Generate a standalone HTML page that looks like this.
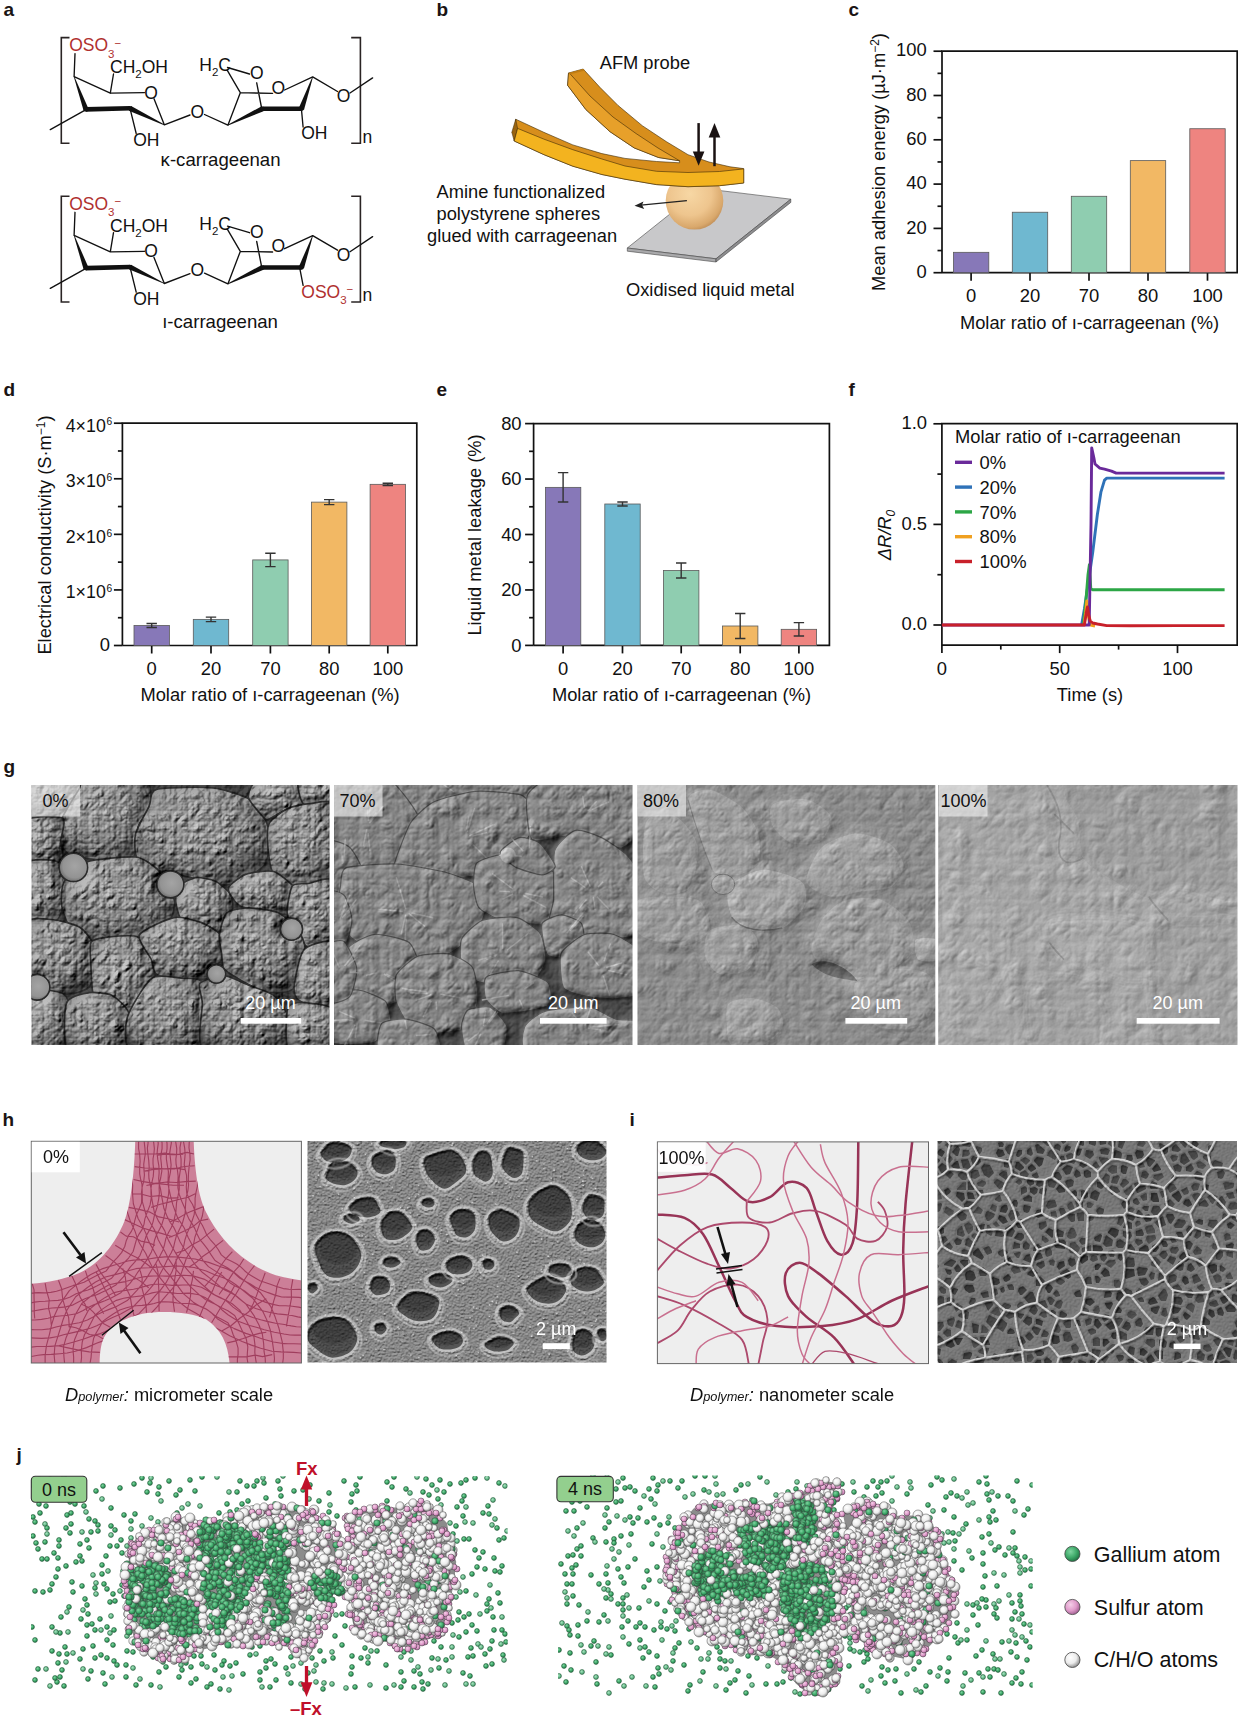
<!DOCTYPE html><html><head><meta charset="utf-8"><style>html,body{margin:0;padding:0;background:#fff;overflow:hidden}svg{display:block}text{font-family:"Liberation Sans",sans-serif}</style></head><body>
<svg width="1238" height="1719" viewBox="0 0 1238 1719">
<rect width="1238" height="1719" fill="#fff"/>
<text x="3.5" y="16" font-size="19" text-anchor="start" fill="#1a1414" font-weight="bold" >a</text>
<text x="436.5" y="16" font-size="19" text-anchor="start" fill="#1a1414" font-weight="bold" >b</text>
<text x="848.5" y="16" font-size="19" text-anchor="start" fill="#1a1414" font-weight="bold" >c</text>
<text x="3.5" y="396" font-size="19" text-anchor="start" fill="#1a1414" font-weight="bold" >d</text>
<text x="436.5" y="396" font-size="19" text-anchor="start" fill="#1a1414" font-weight="bold" >e</text>
<text x="848.5" y="396" font-size="19" text-anchor="start" fill="#1a1414" font-weight="bold" >f</text>
<text x="3.5" y="773" font-size="19" text-anchor="start" fill="#1a1414" font-weight="bold" >g</text>
<text x="2.6" y="1125.9" font-size="19" text-anchor="start" fill="#1a1414" font-weight="bold" >h</text>
<text x="629.6" y="1125.9" font-size="19" text-anchor="start" fill="#1a1414" font-weight="bold" >i</text>
<text x="16.5" y="1460.7" font-size="19" text-anchor="start" fill="#1a1414" font-weight="bold" >j</text>
<g transform="translate(0,0)">
<path d="M69.5,37.6 H61.3 V143.3 H69.5 M351.2,37.6 H360.4 V143.3 H351.2" stroke="#2a2424" stroke-width="1.6" fill="none"/>
<path d="M75,53.6 L74.1,76.7 M74.1,76.7 L110.3,93.2 M110.3,93.2 L113.5,74 M110.3,93.2 L144.5,92.6 M154,98.8 L164.3,124.8 M130,108.3 L136.2,133.5 M86,109.6 L50.3,129.6 M164.3,124.8 L190,115 M204.5,114.5 L227.9,125.2 M227.9,125.2 L240.3,92.7 M240.3,92.7 L227.3,70.4 M227.5,67.5 L249.5,74 M256.7,82.8 L261.4,107 M240.3,92.7 L272.6,93.3 M284.6,90 L312.7,76.9 M312.7,76.9 L337.5,91.5 M350,93 L372.6,77.9 M301.4,108.8 L303.1,127" stroke="#111" stroke-width="1.35" fill="none" stroke-linecap="round"/>
<path d="M73.82,76.80 L83.56,110.48 L88.44,108.72 L74.38,76.60 Z" fill="#111"/>
<path d="M86.06,111.70 L130.06,110.60 L129.94,106.00 L85.94,107.10 Z" fill="#111"/>
<path d="M128.87,110.64 L164.13,125.16 L164.47,124.44 L131.13,105.96 Z" fill="#111"/>
<path d="M228.07,125.56 L263.52,111.15 L261.28,106.45 L227.73,124.84 Z" fill="#111"/>
<path d="M262.40,111.10 L301.40,111.10 L301.40,106.50 L262.40,106.50 Z" fill="#111"/>
<path d="M303.95,109.90 L312.98,77.00 L312.42,76.80 L298.85,108.10 Z" fill="#111"/>
<circle cx="86" cy="109.4" r="2.4" fill="#111"/>
<circle cx="130" cy="108.3" r="2.3" fill="#111"/>
<circle cx="262.4" cy="108.8" r="2.3" fill="#111"/>
<circle cx="301.4" cy="108.8" r="2.3" fill="#111"/>
<text x="69.2" y="51.3" font-size="17.5" fill="#b0302f">OSO<tspan font-size="11.5" dy="6.3">3</tspan><tspan font-size="11.5" dy="-11">−</tspan></text>
<text x="110" y="72.9" font-size="17.5" fill="#111">CH<tspan font-size="11.5" dy="5">2</tspan><tspan dy="-5">OH</tspan></text>
<text x="144.3" y="98.7" font-size="17.5" fill="#111">O</text>
<text x="133.2" y="146" font-size="17.5" fill="#111">OH</text>
<text x="190.5" y="117.8" font-size="17.5" fill="#111">O</text>
<text x="199.3" y="70.9" font-size="17.5" fill="#111">H<tspan font-size="11.5" dy="5">2</tspan><tspan dy="-5">C</tspan></text>
<text x="250" y="79.3" font-size="17.5" fill="#111">O</text>
<text x="271.5" y="93.5" font-size="17.5" fill="#111">O</text>
<text x="336.8" y="102.2" font-size="17.5" fill="#111">O</text>
<text x="301.2" y="139.3" font-size="17.5" fill="#111">OH</text>
<text x="362.5" y="142.8" font-size="17.5" fill="#111">n</text>
</g>
<text x="160.6" y="165.8" font-size="18.6" fill="#111">κ-carrageenan</text>
<g transform="translate(0,158.7)">
<path d="M69.5,37.6 H61.3 V143.3 H69.5 M351.2,37.6 H360.4 V143.3 H351.2" stroke="#2a2424" stroke-width="1.6" fill="none"/>
<path d="M75,53.6 L74.1,76.7 M74.1,76.7 L110.3,93.2 M110.3,93.2 L113.5,74 M110.3,93.2 L144.5,92.6 M154,98.8 L164.3,124.8 M130,108.3 L136.2,133.5 M86,109.6 L50.3,129.6 M164.3,124.8 L190,115 M204.5,114.5 L227.9,125.2 M227.9,125.2 L240.3,92.7 M240.3,92.7 L227.3,70.4 M227.5,67.5 L249.5,74 M256.7,82.8 L261.4,107 M240.3,92.7 L272.6,93.3 M284.6,90 L312.7,76.9 M312.7,76.9 L337.5,91.5 M350,93 L372.6,77.9 M299.8,109.7 L303.1,126.7" stroke="#111" stroke-width="1.35" fill="none" stroke-linecap="round"/>
<path d="M73.82,76.80 L83.56,110.48 L88.44,108.72 L74.38,76.60 Z" fill="#111"/>
<path d="M86.06,111.70 L130.06,110.60 L129.94,106.00 L85.94,107.10 Z" fill="#111"/>
<path d="M128.87,110.64 L164.13,125.16 L164.47,124.44 L131.13,105.96 Z" fill="#111"/>
<path d="M228.07,125.56 L263.52,111.15 L261.28,106.45 L227.73,124.84 Z" fill="#111"/>
<path d="M262.40,111.10 L301.40,111.10 L301.40,106.50 L262.40,106.50 Z" fill="#111"/>
<path d="M303.95,109.90 L312.98,77.00 L312.42,76.80 L298.85,108.10 Z" fill="#111"/>
<circle cx="86" cy="109.4" r="2.4" fill="#111"/>
<circle cx="130" cy="108.3" r="2.3" fill="#111"/>
<circle cx="262.4" cy="108.8" r="2.3" fill="#111"/>
<circle cx="301.4" cy="108.8" r="2.3" fill="#111"/>
<text x="69.2" y="51.3" font-size="17.5" fill="#b0302f">OSO<tspan font-size="11.5" dy="6.3">3</tspan><tspan font-size="11.5" dy="-11">−</tspan></text>
<text x="110" y="72.9" font-size="17.5" fill="#111">CH<tspan font-size="11.5" dy="5">2</tspan><tspan dy="-5">OH</tspan></text>
<text x="144.3" y="98.7" font-size="17.5" fill="#111">O</text>
<text x="133.2" y="146" font-size="17.5" fill="#111">OH</text>
<text x="190.5" y="117.8" font-size="17.5" fill="#111">O</text>
<text x="199.3" y="70.9" font-size="17.5" fill="#111">H<tspan font-size="11.5" dy="5">2</tspan><tspan dy="-5">C</tspan></text>
<text x="250" y="79.3" font-size="17.5" fill="#111">O</text>
<text x="271.5" y="93.5" font-size="17.5" fill="#111">O</text>
<text x="336.8" y="102.2" font-size="17.5" fill="#111">O</text>
<text x="301.3" y="139.2" font-size="17.5" fill="#b0302f">OSO<tspan font-size="11.5" dy="6.3">3</tspan><tspan font-size="11.5" dy="-11">−</tspan></text>
<text x="362.5" y="142.8" font-size="17.5" fill="#111">n</text>
</g>
<text x="162.2" y="328.3" font-size="18.6" fill="#111">ı-carrageenan</text>
<path d="M627.3,248 L716,258.8 L790.8,199.2 L702.1,188.4 Z" fill="#c8c8ca" stroke="#444" stroke-width="0.6"/>
<path d="M627.3,248 L716,258.8 L716,262 L627.3,251.2 Z" fill="#a9a9ab" stroke="#444" stroke-width="0.6"/>
<path d="M716,258.8 L790.8,199.2 L790.8,202.4 L716,262 Z" fill="#8e8e90" stroke="#444" stroke-width="0.6"/>
<defs><radialGradient id="sph" cx="0.42" cy="0.38" r="0.68"><stop offset="0" stop-color="#f7d7a4"/><stop offset="0.55" stop-color="#eec58e"/><stop offset="0.85" stop-color="#d9a86c"/><stop offset="1" stop-color="#b88650"/></radialGradient></defs>
<circle cx="694.5" cy="200.8" r="28.8" fill="url(#sph)"/>
<path d="M515.7,119.2 L543.8,132.3 L572.8,144.9 L601.9,153.6 L625.0,158.4 L656.5,161.5 L679.6,162.8 L679.6,160.8 L658.5,157.5 L634.2,147.9 L610.0,131.7 L585.8,109.5 L567.6,85.3 L568.5,73 L583.2,69.0 L599.9,87.3 L618.1,105.5 L642.3,125.7 L666.6,141.8 L688.0,154.7 L709.0,162.0 L730.0,166.8 L743.7,168.6 L743.7,183 L743.7,183.0 L719.5,185.7 L688.0,186.7 L656.5,184.6 L625.0,179.2 L601.9,174.5 L572.8,166.2 L543.8,154.6 L514.2,141.0 Z" fill="#d78e1c" stroke="#3e2a06" stroke-width="0.6" stroke-linejoin="round"/>
<path d="M567.6,85.3 L585.8,109.5 L610.0,131.7 L634.2,147.9 L658.5,157.5 L679.6,160.8 L679.6,160.8 L658.0,148.0 L636.0,133.5 L613.0,117.0 L590.0,96.0 L569.6,73.3 L568.5,73 Z" fill="#e7a02a" stroke="#3e2a06" stroke-width="0.6" stroke-linejoin="round"/>
<path d="M568.5,73 L583.2,69 L585,70.5 L569.6,74.5 Z" fill="#c07c12"/>
<path d="M515.7,119.2 L517.6,128.4 L514.2,141 L511.8,132.3 Z" fill="#9a6410" stroke="#3e2a06" stroke-width="0.5"/>
<path d="M517.6,128.4 L543.8,139.1 L572.8,149.7 L601.9,159.0 L625.0,166.0 L656.5,171.3 L688.0,172.5 L719.5,171.5 L743.7,168.9 L743.7,183.0 L719.5,185.7 L688.0,186.7 L656.5,184.6 L625.0,179.2 L601.9,174.5 L572.8,166.2 L543.8,154.6 L514.2,141.0 Z" fill="#f3b31f" stroke="#3e2a06" stroke-width="0.6" stroke-linejoin="round"/>
<path d="M698.6,123.1 V154" stroke="#1a1212" stroke-width="2.5"/><path d="M692.8,151.5 L698.6,165.7 L704.4,151.5 Z" fill="#1a1212"/>
<path d="M714.5,166.2 V135" stroke="#1a1212" stroke-width="2.5"/><path d="M708.7,137.5 L714.5,123.1 L720.3,137.5 Z" fill="#1a1212"/>
<path d="M686.9,200.7 L641,205.2" stroke="#222" stroke-width="1.3"/><path d="M634.5,205.8 L643.5,201.5 L642,205.1 L644.2,208.9 Z" fill="#222"/>
<text x="599.7" y="69" font-size="18.3" text-anchor="start" fill="#111" >AFM probe</text>
<text x="436.5" y="197.5" font-size="18.3" text-anchor="start" fill="#111" >Amine functionalized</text>
<text x="436.5" y="219.5" font-size="18.3" text-anchor="start" fill="#111" >polystyrene spheres</text>
<text x="427" y="241.5" font-size="18.3" text-anchor="start" fill="#111" >glued with carrageenan</text>
<text x="626" y="296" font-size="18.3" text-anchor="start" fill="#111" >Oxidised liquid metal</text>
<g stroke="#111" stroke-width="1.7" fill="none">
<path d="M942,272.7 V51.2 H1237.2 V272.7 H942"/>
<path d="M933.5,272.7 H942"/>
<path d="M933.5,228.39999999999998 H942"/>
<path d="M933.5,184.1 H942"/>
<path d="M933.5,139.8 H942"/>
<path d="M933.5,95.5 H942"/>
<path d="M933.5,51.19999999999999 H942"/>
<path d="M937.5,250.54999999999998 H942"/>
<path d="M937.5,206.25 H942"/>
<path d="M937.5,161.95 H942"/>
<path d="M937.5,117.65 H942"/>
<path d="M937.5,73.35 H942"/>
<path d="M971.1,272.7 V280.7"/>
<path d="M1030,272.7 V280.7"/>
<path d="M1089,272.7 V280.7"/>
<path d="M1148,272.7 V280.7"/>
<path d="M1207.5,272.7 V280.7"/>
</g>
<rect x="953.4" y="252.322" width="35.4" height="20.377999999999986" fill="#8778b8" stroke="#5a5a5a" stroke-width="0.8"/>
<rect x="1012.3" y="212.2305" width="35.4" height="60.46949999999998" fill="#6fb8d0" stroke="#5a5a5a" stroke-width="0.8"/>
<rect x="1071.3" y="196.2825" width="35.4" height="76.41749999999999" fill="#8fcdb0" stroke="#5a5a5a" stroke-width="0.8"/>
<rect x="1130.3" y="160.62099999999998" width="35.4" height="112.07900000000001" fill="#f2b864" stroke="#5a5a5a" stroke-width="0.8"/>
<rect x="1189.8" y="128.725" width="35.4" height="143.975" fill="#ee8480" stroke="#5a5a5a" stroke-width="0.8"/>
<text x="926.8" y="277.9" font-size="18.4" text-anchor="end" fill="#111" >0</text>
<text x="926.8" y="233.59999999999997" font-size="18.4" text-anchor="end" fill="#111" >20</text>
<text x="926.8" y="189.29999999999998" font-size="18.4" text-anchor="end" fill="#111" >40</text>
<text x="926.8" y="145.0" font-size="18.4" text-anchor="end" fill="#111" >60</text>
<text x="926.8" y="100.7" font-size="18.4" text-anchor="end" fill="#111" >80</text>
<text x="926.8" y="56.39999999999999" font-size="18.4" text-anchor="end" fill="#111" >100</text>
<text x="971.1" y="301.6" font-size="18.4" text-anchor="middle" fill="#111" >0</text>
<text x="1030" y="301.6" font-size="18.4" text-anchor="middle" fill="#111" >20</text>
<text x="1089" y="301.6" font-size="18.4" text-anchor="middle" fill="#111" >70</text>
<text x="1148" y="301.6" font-size="18.4" text-anchor="middle" fill="#111" >80</text>
<text x="1207.5" y="301.6" font-size="18.4" text-anchor="middle" fill="#111" >100</text>
<text x="1089.5" y="328.6" font-size="18.3" text-anchor="middle" fill="#111" >Molar ratio of ı-carrageenan (%)</text>
<text transform="translate(884.5,162) rotate(-90)" font-size="18.3" text-anchor="middle" fill="#111">Mean adhesion energy (µJ·m<tspan dy="-6" font-size="12">−2</tspan><tspan dy="6">)</tspan></text>
<g stroke="#111" stroke-width="1.7" fill="none">
<path d="M122.4,645.5 V423.2 H416.8 V645.5 H122.4"/>
<path d="M113.9,645.5 H122.4"/>
<path d="M113.9,589.925 H122.4"/>
<path d="M113.9,534.35 H122.4"/>
<path d="M113.9,478.775 H122.4"/>
<path d="M113.9,423.2 H122.4"/>
<path d="M117.9,617.7125 H122.4"/>
<path d="M117.9,562.1375 H122.4"/>
<path d="M117.9,506.5625 H122.4"/>
<path d="M117.9,450.98749999999995 H122.4"/>
<path d="M151.7,645.5 V653.5"/>
<path d="M211,645.5 V653.5"/>
<path d="M270.4,645.5 V653.5"/>
<path d="M329.2,645.5 V653.5"/>
<path d="M387.8,645.5 V653.5"/>
</g>
<rect x="134.0" y="625.493" width="35.4" height="20.006999999999948" fill="#8778b8" stroke="#5a5a5a" stroke-width="0.8"/>
<path d="M151.7,623.547875 V627.438125 M146.5,623.547875 H156.89999999999998 M146.5,627.438125 H156.89999999999998" stroke="#333" stroke-width="1.4" fill="none"/>
<rect x="193.3" y="619.3797500000001" width="35.4" height="26.120249999999942" fill="#6fb8d0" stroke="#5a5a5a" stroke-width="0.8"/>
<path d="M211,617.15675 V621.60275 M205.8,617.15675 H216.2 M205.8,621.60275 H216.2" stroke="#333" stroke-width="1.4" fill="none"/>
<rect x="252.7" y="559.9145" width="35.4" height="85.58550000000002" fill="#8fcdb0" stroke="#5a5a5a" stroke-width="0.8"/>
<path d="M270.4,553.2455 V566.5835 M265.2,553.2455 H275.59999999999997 M265.2,566.5835 H275.59999999999997" stroke="#333" stroke-width="1.4" fill="none"/>
<rect x="311.5" y="502.1165" width="35.4" height="143.38350000000003" fill="#f2b864" stroke="#5a5a5a" stroke-width="0.8"/>
<path d="M329.2,499.615625 V504.617375 M324.0,499.615625 H334.4 M324.0,504.617375 H334.4" stroke="#333" stroke-width="1.4" fill="none"/>
<rect x="370.1" y="484.3325" width="35.4" height="161.16750000000002" fill="#ee8480" stroke="#5a5a5a" stroke-width="0.8"/>
<path d="M387.8,483.221 V485.44399999999996 M382.6,483.221 H393.0 M382.6,485.44399999999996 H393.0" stroke="#333" stroke-width="1.4" fill="none"/>
<text x="110" y="651.1" font-size="18.4" text-anchor="end" fill="#111" >0</text>
<text x="105.8" y="598.2" font-size="17.8" text-anchor="end" fill="#111">1×10</text><text x="106.6" y="592.0" font-size="10.2" fill="#111">6</text>
<text x="105.8" y="542.6" font-size="17.8" text-anchor="end" fill="#111">2×10</text><text x="106.6" y="536.5" font-size="10.2" fill="#111">6</text>
<text x="105.8" y="487.1" font-size="17.8" text-anchor="end" fill="#111">3×10</text><text x="106.6" y="480.9" font-size="10.2" fill="#111">6</text>
<text x="105.8" y="431.5" font-size="17.8" text-anchor="end" fill="#111">4×10</text><text x="106.6" y="425.3" font-size="10.2" fill="#111">6</text>
<text x="151.7" y="674.6" font-size="18.4" text-anchor="middle" fill="#111" >0</text>
<text x="211" y="674.6" font-size="18.4" text-anchor="middle" fill="#111" >20</text>
<text x="270.4" y="674.6" font-size="18.4" text-anchor="middle" fill="#111" >70</text>
<text x="329.2" y="674.6" font-size="18.4" text-anchor="middle" fill="#111" >80</text>
<text x="387.8" y="674.6" font-size="18.4" text-anchor="middle" fill="#111" >100</text>
<text x="270" y="700.8" font-size="18.3" text-anchor="middle" fill="#111" >Molar ratio of ı-carrageenan (%)</text>
<text transform="translate(50.5,535) rotate(-90)" font-size="18.3" text-anchor="middle" fill="#111">Electrical conductivity (S·m<tspan dy="-6" font-size="12">−1</tspan><tspan dy="6">)</tspan></text>
<g stroke="#111" stroke-width="1.7" fill="none">
<path d="M533.6,645.4 V423.6 H829.4 V645.4 H533.6"/>
<path d="M525.1,645.4 H533.6"/>
<path d="M525.1,589.95 H533.6"/>
<path d="M525.1,534.5 H533.6"/>
<path d="M525.1,479.05 H533.6"/>
<path d="M525.1,423.6 H533.6"/>
<path d="M529.1,617.675 H533.6"/>
<path d="M529.1,562.225 H533.6"/>
<path d="M529.1,506.775 H533.6"/>
<path d="M529.1,451.32500000000005 H533.6"/>
<path d="M563.1,645.4 V653.4"/>
<path d="M622.5,645.4 V653.4"/>
<path d="M681.2,645.4 V653.4"/>
<path d="M740.2,645.4 V653.4"/>
<path d="M798.9,645.4 V653.4"/>
</g>
<rect x="545.4" y="487.3675" width="35.4" height="158.03249999999997" fill="#8778b8" stroke="#5a5a5a" stroke-width="0.8"/>
<path d="M563.1,472.67325000000005 V502.06174999999996 M557.9,472.67325000000005 H568.3000000000001 M557.9,502.06174999999996 H568.3000000000001" stroke="#333" stroke-width="1.4" fill="none"/>
<rect x="604.8" y="504.0025" width="35.4" height="141.39749999999998" fill="#6fb8d0" stroke="#5a5a5a" stroke-width="0.8"/>
<path d="M622.5,502.06174999999996 V505.94325000000003 M617.3,502.06174999999996 H627.7 M617.3,505.94325000000003 H627.7" stroke="#333" stroke-width="1.4" fill="none"/>
<rect x="663.5" y="570.5425" width="35.4" height="74.85749999999996" fill="#8fcdb0" stroke="#5a5a5a" stroke-width="0.8"/>
<path d="M681.2,563.05675 V578.02825 M676.0,563.05675 H686.4000000000001 M676.0,578.02825 H686.4000000000001" stroke="#333" stroke-width="1.4" fill="none"/>
<rect x="722.5" y="625.9925" width="35.4" height="19.407500000000027" fill="#f2b864" stroke="#5a5a5a" stroke-width="0.8"/>
<path d="M740.2,613.51625 V638.46875 M735.0,613.51625 H745.4000000000001 M735.0,638.46875 H745.4000000000001" stroke="#333" stroke-width="1.4" fill="none"/>
<rect x="781.1999999999999" y="629.3195" width="35.4" height="16.08050000000003" fill="#ee8480" stroke="#5a5a5a" stroke-width="0.8"/>
<path d="M798.9,622.6655 V635.9735 M793.6999999999999,622.6655 H804.1 M793.6999999999999,635.9735 H804.1" stroke="#333" stroke-width="1.4" fill="none"/>
<text x="521.6" y="651.8" font-size="18.4" text-anchor="end" fill="#111" >0</text>
<text x="521.6" y="596.35" font-size="18.4" text-anchor="end" fill="#111" >20</text>
<text x="521.6" y="540.9" font-size="18.4" text-anchor="end" fill="#111" >40</text>
<text x="521.6" y="485.45" font-size="18.4" text-anchor="end" fill="#111" >60</text>
<text x="521.6" y="430.0" font-size="18.4" text-anchor="end" fill="#111" >80</text>
<text x="563.1" y="674.6" font-size="18.4" text-anchor="middle" fill="#111" >0</text>
<text x="622.5" y="674.6" font-size="18.4" text-anchor="middle" fill="#111" >20</text>
<text x="681.2" y="674.6" font-size="18.4" text-anchor="middle" fill="#111" >70</text>
<text x="740.2" y="674.6" font-size="18.4" text-anchor="middle" fill="#111" >80</text>
<text x="798.9" y="674.6" font-size="18.4" text-anchor="middle" fill="#111" >100</text>
<text x="681.5" y="700.8" font-size="18.3" text-anchor="middle" fill="#111" >Molar ratio of ı-carrageenan (%)</text>
<text transform="translate(481,535) rotate(-90)" font-size="18.3" text-anchor="middle" fill="#111">Liquid metal leakage (%)</text>
<g stroke="#111" stroke-width="1.7" fill="none">
<path d="M941.9,645.1 V423.7 H1237.2 V645.1 H941.9"/>
<path d="M933.4,625.0 H941.9"/>
<path d="M933.4,524.4 H941.9"/>
<path d="M933.4,423.8 H941.9"/>
<path d="M937.4,574.7 H941.9"/>
<path d="M937.4,474.1 H941.9"/>
<path d="M941.9,645.1 V653.1"/>
<path d="M1059.7,645.1 V653.1"/>
<path d="M1177.5,645.1 V653.1"/>
<path d="M1000.8,645.1 V649.6"/>
<path d="M1118.6,645.1 V649.6"/>
</g>
<text x="927" y="630.3" font-size="18.4" text-anchor="end" fill="#111" >0.0</text>
<text x="927" y="529.6999999999999" font-size="18.4" text-anchor="end" fill="#111" >0.5</text>
<text x="927" y="429.1" font-size="18.4" text-anchor="end" fill="#111" >1.0</text>
<text x="941.9" y="674.6" font-size="18.4" text-anchor="middle" fill="#111" >0</text>
<text x="1059.7" y="674.6" font-size="18.4" text-anchor="middle" fill="#111" >50</text>
<text x="1177.5" y="674.6" font-size="18.4" text-anchor="middle" fill="#111" >100</text>
<text x="1090" y="700.8" font-size="18.3" text-anchor="middle" fill="#111" >Time (s)</text>
<text transform="translate(891,535) rotate(-90)" font-size="18.3" text-anchor="middle" fill="#111" font-style="italic">ΔR/R<tspan font-size="12" dy="4">0</tspan></text>
<path d="M1081.6,625.0 L1084.4,608.9 L1088.0,584.8 L1092.7,552.6 L1097.4,514.3 L1100.9,492.2 L1104.5,480.1 L1106.8,478.1 L1224.6,478.1" stroke="#2f72b8" stroke-width="2.9" fill="none" stroke-linejoin="round"/>
<path d="M1083.3,625.0 L1085.6,604.9 L1088.0,574.7 L1089.4,564.6 L1090.8,588.8 L1092.7,589.8 L1224.6,589.8" stroke="#2ca646" stroke-width="2.9" fill="none" stroke-linejoin="round"/>
<path d="M1084.0,625.0 L1085.6,612.9 L1086.8,600.9 L1088.0,614.9 L1090.3,625.0 L1095.0,626.0" stroke="#f0a020" stroke-width="2.9" fill="none" stroke-linejoin="round"/>
<path d="M941.9,625.0 L1089.2,625.0 L1091.0,524.4 L1091.7,447.9 L1093.9,458.0 L1095.0,464.0 L1099.8,468.1 L1104.5,469.1 L1111.5,471.1 L1116.2,473.1 L1224.6,473.1" stroke="#6a2a9a" stroke-width="2.9" fill="none" stroke-linejoin="round"/>
<path d="M941.9,625.0 L1084.4,625.0 L1086.3,612.9 L1087.5,606.9 L1088.7,614.9 L1090.3,621.0 L1092.7,623.0 L1097.4,624.0 L1106.8,625.6 L1130.4,625.8 L1177.5,625.6 L1224.6,625.6" stroke="#c8202a" stroke-width="2.9" fill="none" stroke-linejoin="round"/>
<text x="955" y="443" font-size="18.3" text-anchor="start" fill="#111" >Molar ratio of ı-carrageenan</text>
<path d="M955,462.3 H972" stroke="#6a2a9a" stroke-width="3.4"/>
<text x="979.5" y="468.90000000000003" font-size="18.4" text-anchor="start" fill="#111" >0%</text>
<path d="M955,487.1 H972" stroke="#2f72b8" stroke-width="3.4"/>
<text x="979.5" y="493.70000000000005" font-size="18.4" text-anchor="start" fill="#111" >20%</text>
<path d="M955,511.90000000000003 H972" stroke="#2ca646" stroke-width="3.4"/>
<text x="979.5" y="518.5" font-size="18.4" text-anchor="start" fill="#111" >70%</text>
<path d="M955,536.7 H972" stroke="#f0a020" stroke-width="3.4"/>
<text x="979.5" y="543.3000000000001" font-size="18.4" text-anchor="start" fill="#111" >80%</text>
<path d="M955,561.5 H972" stroke="#c8202a" stroke-width="3.4"/>
<text x="979.5" y="568.1" font-size="18.4" text-anchor="start" fill="#111" >100%</text>
<filter id="rf0" filterUnits="userSpaceOnUse" x="19.5" y="773" width="322" height="284" color-interpolation-filters="sRGB">
<feGaussianBlur in="SourceGraphic" stdDeviation="4.5" result="h"/>
<feTurbulence type="turbulence" baseFrequency="0.09" numOctaves="3" seed="4" result="n"/>
<feComposite in="n" in2="h" operator="arithmetic" k1="0" k2="0.6" k3="1" k4="0" result="hh0"/>
<feOffset in="hh0" dx="0" dy="0" result="hh"/>
<feColorMatrix in="hh" type="matrix" values="0 0 0 0 0  0 0 0 0 0  0 0 0 0 0  0.33 0.33 0.33 0 0" result="ha"/>
<feDiffuseLighting in="ha" surfaceScale="8" diffuseConstant="1.15" lighting-color="#fff" result="lit"><feDistantLight azimuth="225" elevation="40"/></feDiffuseLighting>
<feComposite in="lit" in2="SourceGraphic" operator="arithmetic" k1="1.08" k2="0" k3="0" k4="0"/>
</filter>
<clipPath id="crf0"><rect x="31.5" y="785" width="298" height="260"/></clipPath><g clip-path="url(#crf0)"><g filter="url(#rf0)"><rect x="16.5" y="770" width="328" height="290" fill="#484848"/>
<g transform="translate(31,785) scale(0.24233)">
<defs><radialGradient id="cg0" cx="0.47" cy="0.42" r="0.6"><stop offset="0" stop-color="#bcbcbc"/><stop offset="0.5" stop-color="#acacac"/><stop offset="0.82" stop-color="#8c8c8c"/><stop offset="1" stop-color="#585858"/></radialGradient></defs>
<path d="M-2,-22C23,-42 186,-40 212,-22C238,-4 227,112 218,131C208,151 157,141 131,143C105,145 13,171 -2,152C-18,132 -27,-2 -2,-22Z" fill="url(#cg0)" stroke="#303030" stroke-width="7"/>
<path d="M127,140C136,115 186,37 198,18C210,-1 197,-18 229,-23C261,-27 441,-35 472,-22C503,-9 496,67 493,89C489,112 451,147 443,170C435,194 440,276 427,292C414,309 361,313 331,313C300,313 193,302 168,292C143,283 122,249 117,231C112,213 118,165 127,140Z" fill="url(#cg0)" stroke="#303030" stroke-width="7"/>
<path d="M487,88C498,67 487,27 518,18C549,9 706,7 751,12C795,17 877,44 902,58C927,72 953,109 963,129C973,149 988,206 988,230C988,254 976,312 963,331C949,350 891,383 872,392C853,402 821,413 801,413C781,413 721,398 700,393C678,388 640,377 618,372C597,368 539,360 517,352C496,343 447,318 437,301C427,283 426,224 432,200C438,175 477,110 487,88Z" fill="url(#cg0)" stroke="#303030" stroke-width="7"/>
<path d="M897,50C895,32 913,-14 938,-22C963,-31 1090,-34 1112,-22C1135,-10 1140,66 1133,80C1126,95 1070,95 1052,102C1034,109 990,139 979,143C968,146 968,143 958,132C949,121 899,68 897,50Z" fill="url(#cg0)" stroke="#303030" stroke-width="7"/>
<path d="M1107,-22C1123,-34 1244,-35 1262,-22C1280,-9 1278,80 1262,92C1247,104 1146,95 1128,82C1110,69 1092,-10 1107,-22Z" fill="url(#cg0)" stroke="#303030" stroke-width="7"/>
<path d="M983,158C992,140 1040,107 1059,97C1079,88 1127,78 1151,77C1174,76 1249,51 1262,88C1275,125 1276,354 1262,392C1248,430 1162,409 1141,413C1119,417 1096,429 1080,423C1063,417 1010,382 998,362C986,342 979,274 977,250C975,226 973,176 983,158Z" fill="url(#cg0)" stroke="#303030" stroke-width="7"/>
<path d="M-22,148C-4,125 114,128 131,137C148,147 123,211 123,229C123,247 133,281 132,292C132,303 134,318 116,323C98,327 -6,352 -22,332C-38,312 -40,171 -22,148Z" fill="url(#cg0)" stroke="#303030" stroke-width="7"/>
<path d="M-22,328C-6,298 92,309 111,317C130,325 140,377 142,398C145,420 137,483 132,502C127,521 119,555 101,563C83,571 -8,600 -22,572C-36,545 -37,357 -22,328Z" fill="url(#cg0)" stroke="#303030" stroke-width="7"/>
<path d="M137,399C149,378 194,330 228,318C262,306 397,294 431,297C465,301 507,334 522,348C538,362 555,404 563,419C571,434 592,463 593,480C594,496 586,544 573,561C560,578 506,613 482,622C458,632 397,641 370,643C343,645 272,647 248,642C225,638 182,618 167,601C153,585 131,524 127,500C123,477 125,420 137,399Z" fill="url(#cg0)" stroke="#303030" stroke-width="7"/>
<path d="M608,418C617,407 661,385 679,382C697,380 744,389 761,397C778,405 814,436 823,449C831,462 835,495 833,510C831,526 811,570 802,582C794,594 775,610 761,613C747,615 696,610 679,603C662,596 627,566 617,551C608,537 598,495 597,480C596,464 598,430 608,418Z" fill="url(#cg0)" stroke="#303030" stroke-width="7"/>
<path d="M817,419C824,409 867,375 888,368C910,360 979,351 1001,357C1024,363 1072,406 1083,419C1094,432 1095,457 1093,470C1091,484 1078,526 1062,532C1047,538 983,527 960,523C937,519 883,509 867,502C852,494 833,470 827,460C821,451 810,430 817,419Z" fill="url(#cg0)" stroke="#303030" stroke-width="7"/>
<path d="M1078,417C1088,403 1118,409 1140,407C1161,405 1248,367 1262,398C1276,429 1275,640 1262,672C1249,704 1169,679 1150,673C1131,667 1109,639 1099,623C1088,606 1059,554 1057,530C1055,506 1069,432 1078,417Z" fill="url(#cg0)" stroke="#303030" stroke-width="7"/>
<path d="M-22,568C-8,539 73,555 99,557C125,559 183,577 201,587C219,598 245,631 253,648C260,666 264,719 263,741C262,762 254,818 242,832C230,846 183,861 161,863C138,865 70,860 48,853C27,845 -14,835 -23,801C-31,768 -36,596 -22,568Z" fill="url(#cg0)" stroke="#303030" stroke-width="7"/>
<path d="M248,648C256,635 297,630 319,627C342,625 420,617 441,627C463,638 494,695 503,719C511,742 516,807 513,831C509,855 485,908 472,922C459,937 420,952 401,953C382,954 325,942 309,933C292,923 265,894 258,872C250,849 248,765 247,739C246,713 240,661 248,648Z" fill="url(#cg0)" stroke="#303030" stroke-width="7"/>
<path d="M447,619C458,599 559,553 589,547C619,541 679,559 701,567C724,576 771,603 783,619C795,634 805,680 803,700C801,721 784,780 762,792C741,804 648,804 620,803C591,802 532,792 518,782C503,772 505,740 497,721C489,702 436,639 447,619Z" fill="url(#cg0)" stroke="#303030" stroke-width="7"/>
<path d="M777,619C780,599 794,541 808,528C822,515 874,507 899,507C924,507 998,517 1021,527C1045,538 1090,581 1103,599C1116,616 1131,656 1133,680C1135,704 1131,782 1123,802C1114,822 1081,846 1062,852C1043,858 982,858 960,853C939,848 898,823 879,813C860,802 808,774 797,761C787,748 789,717 787,700C785,684 775,639 777,619Z" fill="url(#cg0)" stroke="#303030" stroke-width="7"/>
<path d="M1129,677C1150,658 1246,626 1261,657C1277,688 1271,911 1262,942C1252,973 1199,930 1180,923C1161,916 1109,894 1098,882C1087,870 1083,844 1087,820C1091,796 1109,696 1129,677Z" fill="url(#cg0)" stroke="#303030" stroke-width="7"/>
<path d="M-22,868C-13,838 40,847 59,847C79,847 130,854 142,868C154,881 162,933 163,960C164,987 173,1086 151,1103C130,1119 -1,1130 -22,1102C-42,1075 -32,898 -22,868Z" fill="url(#cg0)" stroke="#303030" stroke-width="7"/>
<path d="M147,899C157,870 217,861 239,857C260,854 312,858 331,867C351,877 394,912 403,939C412,967 441,1083 412,1102C383,1121 189,1126 158,1102C127,1079 138,927 147,899Z" fill="url(#cg0)" stroke="#303030" stroke-width="7"/>
<path d="M397,961C406,925 472,817 498,798C524,778 597,796 621,797C645,798 690,796 702,808C714,820 721,865 723,899C725,934 757,1079 722,1102C686,1126 456,1119 418,1102C380,1086 388,996 397,961Z" fill="url(#cg0)" stroke="#303030" stroke-width="7"/>
<path d="M697,818C708,805 775,786 799,787C822,788 877,818 901,827C925,837 984,853 1003,869C1022,884 1055,933 1063,961C1071,988 1112,1085 1072,1102C1032,1119 761,1126 718,1102C675,1079 709,933 707,900C705,866 687,832 697,818Z" fill="url(#cg0)" stroke="#303030" stroke-width="7"/>
<path d="M1057,929C1061,905 1081,900 1098,898C1115,895 1182,903 1202,907C1221,912 1256,916 1263,939C1270,962 1285,1083 1262,1102C1239,1121 1092,1123 1068,1102C1044,1082 1054,953 1057,929Z" fill="url(#cg0)" stroke="#303030" stroke-width="7"/>
<circle cx="175" cy="340" r="62" fill="#333"/>
<circle cx="575" cy="410" r="59" fill="#333"/>
<circle cx="1075" cy="595" r="49" fill="#333"/>
<circle cx="765" cy="780" r="42" fill="#333"/>
<circle cx="25" cy="835" r="56" fill="#333"/>
</g></g>
<defs><radialGradient id="ball0" cx="0.55" cy="0.45" r="0.6"><stop offset="0" stop-color="#a4a4a4"/><stop offset="0.7" stop-color="#939393"/><stop offset="1" stop-color="#666"/></radialGradient></defs>
<g transform="translate(31,785) scale(0.24233)">
<circle cx="175" cy="340" r="58" fill="url(#ball0)" stroke="#2a2a2a" stroke-width="5"/>
<circle cx="575" cy="410" r="55" fill="url(#ball0)" stroke="#2a2a2a" stroke-width="5"/>
<circle cx="1075" cy="595" r="45" fill="url(#ball0)" stroke="#2a2a2a" stroke-width="5"/>
<circle cx="765" cy="780" r="38" fill="url(#ball0)" stroke="#2a2a2a" stroke-width="5"/>
<circle cx="25" cy="835" r="52" fill="url(#ball0)" stroke="#2a2a2a" stroke-width="5"/>
</g></g>
<filter id="rf70" filterUnits="userSpaceOnUse" x="322" y="773" width="322.5" height="284" color-interpolation-filters="sRGB">
<feGaussianBlur in="SourceGraphic" stdDeviation="2.5" result="h"/>
<feTurbulence type="turbulence" baseFrequency="0.05" numOctaves="3" seed="8" result="n"/>
<feComposite in="n" in2="h" operator="arithmetic" k1="0" k2="0.55" k3="1" k4="0" result="hh0"/>
<feOffset in="hh0" dx="0" dy="0" result="hh"/>
<feColorMatrix in="hh" type="matrix" values="0 0 0 0 0  0 0 0 0 0  0 0 0 0 0  0.33 0.33 0.33 0 0" result="ha"/>
<feDiffuseLighting in="ha" surfaceScale="6" diffuseConstant="1.15" lighting-color="#fff" result="lit"><feDistantLight azimuth="225" elevation="40"/></feDiffuseLighting>
<feComposite in="lit" in2="SourceGraphic" operator="arithmetic" k1="1.06" k2="0" k3="0" k4="0"/>
</filter>
<clipPath id="crf70"><rect x="334" y="785" width="298.5" height="260"/></clipPath><g clip-path="url(#crf70)"><g filter="url(#rf70)"><rect x="319" y="770" width="328.5" height="290" fill="#5e5e5e"/>
<g transform="translate(334,785) scale(0.24233)">
<path d="M226,-34C284,-43 784,-43 844,-33C903,-24 837,53 824,61C811,68 739,47 714,45C689,43 605,34 574,38C543,42 432,72 407,84C381,96 332,159 318,157C304,154 275,80 266,61C257,42 169,-24 226,-34Z" fill="#a8a8a8" stroke="#626262" stroke-width="5"/>
<path d="M515,70L501,116M536,46L642,43M496,29L442,-9" stroke="#d8d8d8" stroke-width="6" opacity="0.7"/>
<path d="M-29,-31C-4,-60 177,-51 215,-33C253,-15 349,111 354,149C359,186 298,323 268,341C238,360 84,341 54,332C23,324 -24,293 -32,256C-41,220 -54,-2 -29,-31Z" fill="#a8a8a8" stroke="#626262" stroke-width="5"/>
<path d="M141,198L148,273M141,147L158,30M146,158L203,87M135,182L121,250M139,133L140,63M156,142L175,113" stroke="#d8d8d8" stroke-width="6" opacity="0.7"/>
<path d="M247,335C250,313 300,183 316,156C333,130 384,83 411,70C437,57 547,29 583,26C619,23 746,33 771,41C796,50 829,100 833,115C837,131 826,180 814,199C802,218 735,289 712,307C689,324 614,365 584,374C553,382 441,391 412,391C382,392 305,383 288,377C272,372 244,357 247,335Z" fill="#a8a8a8" stroke="#626262" stroke-width="5"/>
<path d="M558,210L662,162M550,193L580,95M548,184L555,130M571,211L632,196M568,242L650,320" stroke="#d8d8d8" stroke-width="6" opacity="0.7"/>
<path d="M797,46C804,20 865,-22 890,-30C916,-38 1013,-34 1051,-34C1090,-34 1250,-48 1272,-27C1294,-7 1282,145 1274,173C1265,202 1211,253 1190,259C1169,266 1086,238 1063,234C1040,229 986,212 961,211C937,210 834,243 817,226C801,210 789,72 797,46Z" fill="#a8a8a8" stroke="#626262" stroke-width="5"/>
<path d="M1033,95L1026,44M1065,102L1134,69M1046,106L1084,67" stroke="#d8d8d8" stroke-width="6" opacity="0.7"/>
<path d="M-27,238C-18,216 50,245 64,257C78,268 114,329 114,349C114,369 78,441 64,453C50,466 -17,494 -27,472C-36,451 -36,259 -27,238Z" fill="#a8a8a8" stroke="#626262" stroke-width="5"/>
<path d="M39,323L47,220M35,326L33,287M3,362L-28,369M53,348L103,331M65,349L178,328" stroke="#d8d8d8" stroke-width="6" opacity="0.7"/>
<path d="M49,342C72,333 216,324 257,326C298,328 426,351 460,360C493,369 577,399 593,415C610,431 626,499 624,520C622,541 591,606 573,625C556,644 476,700 449,711C421,722 328,736 300,734C272,732 195,702 172,691C148,680 83,643 67,626C52,609 20,541 16,520C12,499 24,433 27,415C30,397 26,351 49,342Z" fill="#a8a8a8" stroke="#626262" stroke-width="5"/>
<path d="M296,512L257,380M296,535L277,617M285,522L180,512M298,552L291,671M320,528L409,548M308,530L376,584" stroke="#d8d8d8" stroke-width="6" opacity="0.7"/>
<path d="M589,322C601,309 673,286 695,287C717,287 781,318 806,327C831,336 929,360 943,375C957,391 947,464 944,483C940,502 925,560 911,569C897,578 829,575 805,573C781,571 692,558 672,551C651,544 607,519 597,505C587,492 577,437 576,418C575,400 577,335 589,322Z" fill="#a8a8a8" stroke="#626262" stroke-width="5"/>
<path d="M739,449L695,472M780,455L876,506M738,429L653,366M787,447L863,462M726,440L682,438" stroke="#d8d8d8" stroke-width="6" opacity="0.7"/>
<path d="M911,270C920,241 977,192 996,187C1015,181 1081,206 1102,216C1123,226 1192,272 1210,290C1227,308 1268,365 1274,397C1280,429 1283,585 1271,609C1259,632 1178,631 1156,633C1134,634 1067,626 1049,624C1030,622 989,618 973,612C957,607 895,582 889,568C882,554 904,502 906,473C908,443 902,298 911,270Z" fill="#a8a8a8" stroke="#626262" stroke-width="5"/>
<path d="M1089,421L1111,399M1085,461L1134,512M1070,462L1077,515M1037,423L977,382M1042,473L986,539M1058,421L1020,334" stroke="#d8d8d8" stroke-width="6" opacity="0.7"/>
<path d="M527,635C535,617 590,567 613,558C635,549 731,541 755,547C779,553 841,596 852,614C864,631 876,704 874,722C872,741 848,788 831,799C814,809 724,823 700,824C676,825 608,818 591,810C573,802 533,761 527,744C520,726 518,654 527,635Z" fill="#a8a8a8" stroke="#626262" stroke-width="5"/>
<path d="M672,701L595,723M713,682L805,610M668,705L629,720M696,677L695,571M679,724L630,806" stroke="#d8d8d8" stroke-width="6" opacity="0.7"/>
<path d="M858,573C864,557 922,536 938,536C955,536 1012,558 1021,571C1030,584 1037,652 1033,666C1028,680 989,710 974,714C958,717 892,714 880,700C869,686 852,589 858,573Z" fill="#a8a8a8" stroke="#626262" stroke-width="5"/>
<path d="M961,612L1034,520M974,601L1030,541M986,635L1014,641" stroke="#d8d8d8" stroke-width="6" opacity="0.7"/>
<path d="M59,672C71,653 143,618 168,616C193,614 291,636 310,650C328,664 354,737 354,759C354,781 326,853 311,869C295,884 223,912 201,914C179,916 106,902 91,891C75,880 50,825 46,803C43,781 47,690 59,672Z" fill="#a8a8a8" stroke="#626262" stroke-width="5"/>
<path d="M206,779L252,807M215,781L328,831M175,775L132,786" stroke="#d8d8d8" stroke-width="6" opacity="0.7"/>
<path d="M257,784C266,766 322,716 344,707C365,699 452,692 474,697C497,701 559,733 571,752C583,770 596,857 594,882C592,907 567,986 549,1000C532,1015 444,1025 420,1024C396,1023 327,1004 311,991C295,978 262,914 256,893C251,872 249,803 257,784Z" fill="#a8a8a8" stroke="#626262" stroke-width="5"/>
<path d="M402,865L337,889M439,863L521,878M384,854L282,840M422,894L423,928M402,892L367,957M386,859L314,858" stroke="#d8d8d8" stroke-width="6" opacity="0.7"/>
<path d="M937,695C946,673 1012,625 1034,617C1056,610 1131,609 1155,617C1179,625 1261,671 1273,695C1285,719 1284,838 1272,857C1260,876 1178,881 1155,883C1133,884 1064,877 1044,872C1023,868 958,854 947,836C937,819 928,717 937,695Z" fill="#a8a8a8" stroke="#626262" stroke-width="5"/>
<path d="M1112,789L1138,872M1114,727L1141,654M1123,753L1188,734M1093,746L1048,688M1130,765L1208,783" stroke="#d8d8d8" stroke-width="6" opacity="0.7"/>
<path d="M-31,872C-18,852 76,844 100,846C124,848 198,879 212,892C225,906 238,965 234,981C230,998 187,1052 168,1061C149,1070 64,1074 44,1072C23,1071 -24,1067 -32,1047C-39,1027 -44,892 -31,872Z" fill="#a8a8a8" stroke="#626262" stroke-width="5"/>
<path d="M130,972L232,987M96,984L87,1044M63,969L-12,972M87,990L43,1075M86,962L21,934M77,970L21,978" stroke="#d8d8d8" stroke-width="6" opacity="0.7"/>
<path d="M552,929C563,921 628,910 644,917C661,924 709,979 714,998C718,1018 705,1100 688,1111C672,1123 569,1123 553,1112C537,1101 526,1016 526,998C526,979 540,937 552,929Z" fill="#a8a8a8" stroke="#626262" stroke-width="5"/>
<path d="M637,983L698,911M606,1027L555,1128M616,994L626,932M598,1023L553,1056M631,987L668,934" stroke="#d8d8d8" stroke-width="6" opacity="0.7"/>
<path d="M786,1000C792,983 840,943 867,935C894,926 1024,913 1053,916C1083,920 1141,960 1163,966C1186,972 1263,965 1274,979C1285,993 1320,1093 1273,1105C1226,1118 856,1116 807,1106C759,1095 780,1017 786,1000Z" fill="#a8a8a8" stroke="#626262" stroke-width="5"/>
<path d="M1010,975L982,939M1047,1004L1101,1010M1035,993L1074,873M1056,1000L1177,988" stroke="#d8d8d8" stroke-width="6" opacity="0.7"/>
<path d="M628,793C641,782 735,764 761,766C786,768 870,801 883,815C896,829 901,893 893,904C886,916 829,927 808,931C788,935 709,946 691,941C673,936 633,897 626,882C620,867 614,805 628,793Z" fill="#a8a8a8" stroke="#626262" stroke-width="5"/>
<path d="M721,868L610,887M786,842L825,817M765,885L781,922" stroke="#d8d8d8" stroke-width="6" opacity="0.7"/>
<path d="M197,984C208,970 277,964 299,966C320,968 400,992 413,1006C427,1020 455,1097 432,1107C410,1117 211,1120 188,1107C165,1095 186,998 197,984Z" fill="#a8a8a8" stroke="#626262" stroke-width="5"/>
<path d="M300,1007L293,971M308,1061L312,1118M309,1061L322,1163M338,1034L398,1030" stroke="#d8d8d8" stroke-width="6" opacity="0.7"/>
<path d="M-25,447C-18,423 33,445 43,456C53,467 74,536 74,558C74,580 53,660 43,674C33,687 -18,716 -25,693C-31,671 -32,471 -25,447Z" fill="#a8a8a8" stroke="#626262" stroke-width="5"/>
<path d="M29,539L50,472M24,555L66,453M5,561L-115,520M34,548L93,472" stroke="#d8d8d8" stroke-width="6" opacity="0.7"/>
<path d="M-27,668C-20,643 29,637 42,646C54,655 92,735 94,758C96,781 77,860 65,873C53,887 -16,913 -26,893C-35,872 -33,692 -27,668Z" fill="#a8a8a8" stroke="#626262" stroke-width="5"/>
<path d="M64,772L102,776M54,747L97,711M22,753L-5,691M44,747L107,662" stroke="#d8d8d8" stroke-width="6" opacity="0.7"/>
<path d="M686,278C688,266 747,221 764,217C780,214 834,227 849,239C864,251 912,321 913,335C914,348 875,371 858,371C842,372 766,348 749,339C732,329 685,290 686,278Z" fill="#a8a8a8" stroke="#626262" stroke-width="5"/>
<path d="M770,294L702,287M775,295L680,290M805,262L811,169M781,273L731,218" stroke="#d8d8d8" stroke-width="6" opacity="0.7"/>
<circle cx="718" cy="290" r="32" fill="#d0d0d0"/>
</g></g></g></g>
<filter id="rf80" filterUnits="userSpaceOnUse" x="625.5" y="773" width="321.8" height="284" color-interpolation-filters="sRGB">
<feGaussianBlur in="SourceGraphic" stdDeviation="5" result="h"/>
<feTurbulence type="turbulence" baseFrequency="0.045" numOctaves="3" seed="12" result="n"/>
<feComposite in="n" in2="h" operator="arithmetic" k1="0" k2="0.22" k3="1" k4="0" result="hh0"/>
<feOffset in="hh0" dx="0" dy="0" result="hh"/>
<feColorMatrix in="hh" type="matrix" values="0 0 0 0 0  0 0 0 0 0  0 0 0 0 0  0.33 0.33 0.33 0 0" result="ha"/>
<feDiffuseLighting in="ha" surfaceScale="9" diffuseConstant="1.15" lighting-color="#fff" result="lit"><feDistantLight azimuth="225" elevation="40"/></feDiffuseLighting>
<feComposite in="lit" in2="SourceGraphic" operator="arithmetic" k1="1.07" k2="0" k3="0" k4="0"/>
</filter>
<clipPath id="crf80"><rect x="637.5" y="785" width="297.8" height="260"/></clipPath><g clip-path="url(#crf80)"><g filter="url(#rf80)"><rect x="622.5" y="770" width="327.8" height="290" fill="#b0b0b0"/>
<g transform="translate(637,785) scale(0.24233)">
<path d="M210,60C214,29 271,16 300,20C329,24 403,66 430,90C457,114 491,169 500,200C509,231 511,297 500,320C489,343 444,365 420,370C396,375 340,376 320,360C300,344 285,290 270,250C255,210 206,91 210,60Z" fill="#c4c4c4"/>
<path d="M380,420C397,395 480,353 520,350C560,347 657,380 680,400C703,420 701,475 690,500C679,525 631,577 600,590C569,603 488,607 460,600C432,593 401,564 390,540C379,516 363,445 380,420Z" fill="#cccccc"/>
<path d="M700,400C695,373 733,287 760,260C787,233 863,203 900,200C937,197 1013,223 1040,240C1067,257 1099,306 1100,330C1101,354 1074,405 1050,420C1026,435 953,435 920,440C887,445 829,465 800,460C771,455 705,427 700,400Z" fill="#c6c6c6"/>
<path d="M760,560C777,533 818,492 850,480C882,468 964,459 1000,470C1036,481 1101,532 1120,560C1139,588 1149,653 1140,680C1131,707 1082,744 1050,760C1018,776 936,800 900,800C864,800 804,776 780,760C756,744 723,707 720,680C717,653 743,587 760,560Z" fill="#c2c2c2"/>
<path d="M0,480C16,461 85,460 120,460C155,460 236,461 260,480C284,499 308,576 300,600C292,624 232,655 200,660C168,665 87,648 60,640C33,632 8,621 0,600C-8,579 -16,499 0,480Z" fill="#c3c3c3"/>
<path d="M300,600C321,584 413,573 440,580C467,587 497,626 500,650C503,674 481,743 460,760C439,777 364,788 340,780C316,772 285,724 280,700C275,676 279,616 300,600Z" fill="#c5c5c5"/>
<path d="M380,900C395,887 453,877 480,880C507,883 564,904 580,920C596,936 608,980 600,1000C592,1020 548,1063 520,1073C492,1083 410,1085 390,1073C370,1061 371,1003 370,980C369,957 365,913 380,900Z" fill="#c4c4c4"/>
<path d="M900,820C917,799 1010,765 1050,760C1090,755 1175,761 1200,780C1225,799 1245,871 1238,900C1231,929 1182,987 1150,1000C1118,1013 1031,1011 1000,1000C969,989 933,944 920,920C907,896 883,841 900,820Z" fill="#c3c3c3"/>
<path d="M40,150C57,117 132,117 160,130C188,143 242,211 250,250C258,289 237,393 220,420C203,447 145,455 120,450C95,445 41,420 30,380C19,340 23,183 40,150Z" fill="#c4c4c4"/>
<path d="M1150,640C1160,629 1226,629 1238,640C1250,651 1248,709 1238,720C1228,731 1172,731 1160,720C1148,709 1140,651 1150,640Z" fill="#d0d0d0"/>
<path d="M560,80C579,65 668,53 700,60C732,67 792,107 800,130C808,153 781,215 760,230C739,245 667,248 640,240C613,232 571,191 560,170C549,149 541,95 560,80Z" fill="#c3c3c3"/>
<ellipse cx="355" cy="410" rx="48" ry="42" fill="#cacaca" stroke="#8a8a8a" stroke-width="4"/>
<path d="M720,740 C780,700 880,760 910,810 C860,800 780,800 720,740 Z" fill="#7c7c7c"/>
<path d="M390,545 C430,600 520,610 600,590" stroke="#8c8c8c" stroke-width="6" fill="none"/>
<path d="M210,60 C250,200 280,280 310,350" stroke="#9a9a9a" stroke-width="5" fill="none"/>
</g></g></g>
<filter id="rf100" filterUnits="userSpaceOnUse" x="926.2" y="773" width="323.3" height="284" color-interpolation-filters="sRGB">
<feGaussianBlur in="SourceGraphic" stdDeviation="4" result="h"/>
<feTurbulence type="turbulence" baseFrequency="0.035" numOctaves="3" seed="21" result="n"/>
<feComposite in="n" in2="h" operator="arithmetic" k1="0" k2="0.3" k3="1" k4="0" result="hh0"/>
<feOffset in="hh0" dx="0" dy="0" result="hh"/>
<feColorMatrix in="hh" type="matrix" values="0 0 0 0 0  0 0 0 0 0  0 0 0 0 0  0.33 0.33 0.33 0 0" result="ha"/>
<feDiffuseLighting in="ha" surfaceScale="7" diffuseConstant="1.15" lighting-color="#fff" result="lit"><feDistantLight azimuth="225" elevation="40"/></feDiffuseLighting>
<feComposite in="lit" in2="SourceGraphic" operator="arithmetic" k1="1.1" k2="0" k3="0" k4="0"/>
</filter>
<clipPath id="crf100"><rect x="938.2" y="785" width="299.3" height="260"/></clipPath><g clip-path="url(#crf100)"><g filter="url(#rf100)"><rect x="923.2" y="770" width="329.3" height="290" fill="#cacaca"/>
<g transform="translate(938,785) scale(0.24233)">
<path d="M560,0C651,-20 1167,-61 1260,0C1353,61 1295,403 1260,460C1225,517 1051,429 1000,430C949,431 920,477 880,470C840,463 737,403 700,380C663,357 616,331 600,300C584,269 585,190 580,150C575,110 469,20 560,0Z" fill="#c0c0c0"/>
<path d="M450,560C479,539 640,535 700,540C760,545 867,568 900,600C933,632 963,751 950,780C937,809 847,823 800,820C753,817 643,776 600,760C557,744 500,727 480,700C460,673 421,581 450,560Z" fill="#cfcfcf"/>
<path d="M0,450C20,377 115,393 150,400C185,407 240,460 260,500C280,540 308,647 300,700C292,753 232,860 200,900C168,940 87,993 60,1000C33,1007 8,1023 0,950C-8,877 -20,523 0,450Z" fill="#cdcdcd"/>
<path d="M900,600C929,555 1052,560 1100,560C1148,560 1239,528 1260,600C1281,672 1301,1033 1260,1100C1219,1167 1001,1127 950,1100C899,1073 887,967 880,900C873,833 871,645 900,600Z" fill="#c4c4c4"/>
<path d="M380,820C407,780 557,783 600,800C643,817 693,910 700,950C707,990 690,1080 650,1100C610,1120 436,1137 400,1100C364,1063 353,860 380,820Z" fill="#c6c6c6"/>
<path d="M450,0 C500,80 520,150 500,230 C490,300 520,350 600,300 M480,120 L560,200 M870,460 C890,500 920,520 950,560 M460,650 C480,680 500,700 520,720" stroke="#adadad" stroke-width="7" fill="none"/>
</g></g></g>
<rect x="31.5" y="785" width="48.5" height="31.5" fill="#f2f2f2" opacity="0.6"/>
<text x="42.5" y="807.3" font-size="18" fill="#111">0%</text>
<rect x="334" y="785" width="48.5" height="31.5" fill="#f2f2f2" opacity="0.6"/>
<text x="339.5" y="807.3" font-size="18" fill="#111">70%</text>
<rect x="637.5" y="785" width="48.5" height="31.5" fill="#f2f2f2" opacity="0.6"/>
<text x="643" y="807.3" font-size="18" fill="#111">80%</text>
<rect x="939" y="785" width="48.5" height="31.5" fill="#f2f2f2" opacity="0.6"/>
<text x="940.5" y="807.3" font-size="18" fill="#111">100%</text>
<rect x="240.6" y="1018" width="60.6" height="5.7" fill="#fff"/>
<text x="270.5" y="1009.1" font-size="18" fill="#fff" text-anchor="middle">20 µm</text>
<rect x="540" y="1018" width="66.6" height="5.7" fill="#fff"/>
<text x="573.3" y="1009.1" font-size="18" fill="#fff" text-anchor="middle">20 µm</text>
<rect x="845.4" y="1018" width="61.8" height="5.7" fill="#fff"/>
<text x="875.7" y="1009.1" font-size="18" fill="#fff" text-anchor="middle">20 µm</text>
<rect x="1136.7" y="1018" width="82.9" height="5.7" fill="#fff"/>
<text x="1177.8" y="1009.1" font-size="18" fill="#fff" text-anchor="middle">20 µm</text>
<filter id="rfh" filterUnits="userSpaceOnUse" x="295.5" y="1129" width="323" height="245.5" color-interpolation-filters="sRGB">
<feGaussianBlur in="SourceGraphic" stdDeviation="1.3" result="h"/>
<feTurbulence type="fractalNoise" baseFrequency="0.55" numOctaves="2" seed="3" result="n"/>
<feComposite in="n" in2="h" operator="arithmetic" k1="0" k2="0.55" k3="1" k4="0" result="hh0"/>
<feOffset in="hh0" dx="0" dy="0" result="hh"/>
<feColorMatrix in="hh" type="matrix" values="0 0 0 0 0  0 0 0 0 0  0 0 0 0 0  0.33 0.33 0.33 0 0" result="ha"/>
<feDiffuseLighting in="ha" surfaceScale="3.5" diffuseConstant="1.15" lighting-color="#fff" result="lit"><feDistantLight azimuth="250" elevation="50"/></feDiffuseLighting>
<feComposite in="lit" in2="SourceGraphic" operator="arithmetic" k1="1.0" k2="0" k3="0" k4="0"/>
</filter>
<clipPath id="crfh"><rect x="307.5" y="1141" width="299" height="221.5"/></clipPath><g clip-path="url(#crfh)"><g filter="url(#rfh)"><rect x="292.5" y="1126" width="329" height="251.5" fill="#9a9a9a"/>
<g transform="translate(305,1138) scale(0.24637)">
<path d="M706,585h6v6h-6zM1011,256h6v6h-6zM807,824h6v6h-6zM1125,173h6v6h-6zM807,571h6v6h-6zM623,894h6v6h-6zM654,412h6v6h-6zM1168,588h6v6h-6zM373,286h6v6h-6zM614,49h6v6h-6zM752,681h6v6h-6zM528,783h6v6h-6zM1149,514h6v6h-6zM844,108h6v6h-6zM69,907h6v6h-6zM352,197h6v6h-6zM1110,694h6v6h-6zM153,298h6v6h-6zM300,252h6v6h-6zM8,485h6v6h-6zM377,365h6v6h-6zM230,102h6v6h-6zM41,807h6v6h-6zM925,518h6v6h-6zM153,138h6v6h-6zM148,293h6v6h-6zM71,255h6v6h-6zM251,178h6v6h-6zM809,423h6v6h-6zM586,331h6v6h-6zM667,726h6v6h-6zM381,65h6v6h-6zM596,351h6v6h-6zM966,103h6v6h-6zM1080,14h6v6h-6zM671,410h6v6h-6zM390,822h6v6h-6zM869,151h6v6h-6zM613,566h6v6h-6zM41,81h6v6h-6zM745,675h6v6h-6zM573,390h6v6h-6zM628,241h6v6h-6zM1085,890h6v6h-6zM597,19h6v6h-6zM492,743h6v6h-6zM402,98h6v6h-6zM229,658h6v6h-6zM770,265h6v6h-6zM772,704h6v6h-6zM1196,769h6v6h-6zM537,749h6v6h-6zM1146,804h6v6h-6zM929,543h6v6h-6zM633,786h6v6h-6zM774,667h6v6h-6zM282,85h6v6h-6zM335,540h6v6h-6zM709,184h6v6h-6zM233,879h6v6h-6zM89,857h6v6h-6zM956,531h6v6h-6zM1233,629h6v6h-6zM8,869h6v6h-6zM512,848h6v6h-6zM1008,128h6v6h-6zM49,19h6v6h-6zM966,732h6v6h-6zM282,104h6v6h-6zM454,739h6v6h-6zM917,802h6v6h-6zM1198,698h6v6h-6zM1034,15h6v6h-6zM8,798h6v6h-6zM766,302h6v6h-6zM159,308h6v6h-6zM420,459h6v6h-6zM557,187h6v6h-6zM102,188h6v6h-6zM159,93h6v6h-6zM513,120h6v6h-6zM990,504h6v6h-6zM570,591h6v6h-6zM291,22h6v6h-6zM97,312h6v6h-6zM447,234h6v6h-6zM379,771h6v6h-6zM11,415h6v6h-6zM474,261h6v6h-6zM897,208h6v6h-6zM52,148h6v6h-6zM1211,320h6v6h-6zM145,898h6v6h-6zM799,885h6v6h-6zM410,749h6v6h-6zM51,220h6v6h-6zM984,477h6v6h-6zM977,357h6v6h-6zM1085,72h6v6h-6zM772,174h6v6h-6zM247,817h6v6h-6zM532,752h6v6h-6zM352,675h6v6h-6zM1123,580h6v6h-6zM290,618h6v6h-6zM1177,741h6v6h-6zM550,369h6v6h-6zM122,711h6v6h-6zM196,202h6v6h-6zM41,152h6v6h-6zM475,441h6v6h-6zM217,393h6v6h-6zM938,90h6v6h-6zM168,483h6v6h-6zM1119,849h6v6h-6zM705,85h6v6h-6zM1082,918h6v6h-6zM1113,491h6v6h-6zM474,543h6v6h-6zM979,920h6v6h-6zM611,469h6v6h-6zM384,500h6v6h-6zM673,262h6v6h-6zM567,847h6v6h-6zM292,235h6v6h-6zM377,794h6v6h-6zM375,765h6v6h-6zM1150,810h6v6h-6zM996,180h6v6h-6zM558,761h6v6h-6zM304,557h6v6h-6zM1078,864h6v6h-6zM434,110h6v6h-6zM38,293h6v6h-6zM677,259h6v6h-6zM1020,601h6v6h-6zM769,765h6v6h-6zM407,601h6v6h-6zM434,268h6v6h-6zM142,729h6v6h-6zM1115,29h6v6h-6zM887,58h6v6h-6zM517,293h6v6h-6zM1118,401h6v6h-6zM632,329h6v6h-6zM315,225h6v6h-6zM77,13h6v6h-6zM681,683h6v6h-6zM830,240h6v6h-6zM1224,73h6v6h-6zM534,309h6v6h-6zM222,889h6v6h-6zM885,122h6v6h-6zM219,749h6v6h-6zM461,279h6v6h-6zM367,301h6v6h-6zM729,288h6v6h-6zM733,59h6v6h-6zM663,540h6v6h-6zM396,802h6v6h-6zM1149,608h6v6h-6zM510,153h6v6h-6zM775,267h6v6h-6zM204,492h6v6h-6zM248,591h6v6h-6zM941,11h6v6h-6zM783,177h6v6h-6zM417,669h6v6h-6zM1195,290h6v6h-6zM934,321h6v6h-6zM1164,161h6v6h-6zM823,77h6v6h-6zM693,687h6v6h-6zM1131,708h6v6h-6zM680,370h6v6h-6zM780,600h6v6h-6zM757,660h6v6h-6zM923,867h6v6h-6zM768,810h6v6h-6zM917,352h6v6h-6zM993,338h6v6h-6zM1026,813h6v6h-6zM1110,842h6v6h-6zM857,461h6v6h-6zM357,591h6v6h-6zM1105,332h6v6h-6zM261,700h6v6h-6zM1126,191h6v6h-6zM172,104h6v6h-6zM683,770h6v6h-6zM307,732h6v6h-6zM58,194h6v6h-6zM677,701h6v6h-6zM611,636h6v6h-6zM445,349h6v6h-6zM645,2h6v6h-6zM248,325h6v6h-6zM813,182h6v6h-6zM302,916h6v6h-6zM806,380h6v6h-6zM969,661h6v6h-6zM1011,517h6v6h-6zM761,90h6v6h-6zM531,363h6v6h-6zM317,338h6v6h-6zM1097,206h6v6h-6zM141,310h6v6h-6zM210,22h6v6h-6zM1130,507h6v6h-6zM33,491h6v6h-6zM216,447h6v6h-6zM1170,905h6v6h-6zM492,724h6v6h-6zM610,74h6v6h-6zM496,750h6v6h-6zM963,669h6v6h-6zM1223,352h6v6h-6zM870,757h6v6h-6zM1144,805h6v6h-6zM1081,315h6v6h-6zM468,572h6v6h-6zM148,285h6v6h-6zM459,190h6v6h-6zM229,604h6v6h-6zM383,53h6v6h-6zM988,875h6v6h-6zM277,634h6v6h-6zM103,204h6v6h-6zM203,594h6v6h-6zM692,760h6v6h-6zM817,699h6v6h-6zM1083,540h6v6h-6zM279,150h6v6h-6zM1060,759h6v6h-6zM799,881h6v6h-6zM1002,373h6v6h-6zM230,395h6v6h-6zM1136,822h6v6h-6zM8,7h6v6h-6zM553,842h6v6h-6zM1088,774h6v6h-6zM85,191h6v6h-6zM958,407h6v6h-6zM395,889h6v6h-6zM22,450h6v6h-6zM1092,648h6v6h-6zM1100,252h6v6h-6zM694,905h6v6h-6zM164,398h6v6h-6zM1227,149h6v6h-6zM958,693h6v6h-6zM319,916h6v6h-6zM966,122h6v6h-6zM1226,817h6v6h-6zM594,27h6v6h-6zM971,541h6v6h-6zM921,74h6v6h-6zM594,747h6v6h-6zM902,160h6v6h-6zM408,420h6v6h-6zM569,915h6v6h-6zM1156,1h6v6h-6zM765,127h6v6h-6zM1070,488h6v6h-6zM1111,841h6v6h-6zM1157,156h6v6h-6zM79,715h6v6h-6zM576,719h6v6h-6zM548,384h6v6h-6zM909,341h6v6h-6zM614,368h6v6h-6zM836,66h6v6h-6zM572,537h6v6h-6zM848,834h6v6h-6zM460,889h6v6h-6zM870,355h6v6h-6zM696,335h6v6h-6zM808,23h6v6h-6zM1111,332h6v6h-6zM14,80h6v6h-6zM420,243h6v6h-6zM1037,348h6v6h-6zM1135,257h6v6h-6zM427,880h6v6h-6zM1063,866h6v6h-6zM142,64h6v6h-6zM860,312h6v6h-6zM130,86h6v6h-6zM400,287h6v6h-6zM822,915h6v6h-6zM209,734h6v6h-6zM736,802h6v6h-6zM1228,847h6v6h-6zM163,683h6v6h-6zM958,352h6v6h-6zM39,703h6v6h-6zM777,703h6v6h-6zM936,680h6v6h-6zM54,871h6v6h-6zM1183,326h6v6h-6zM973,868h6v6h-6zM534,311h6v6h-6zM745,722h6v6h-6zM511,646h6v6h-6zM1181,346h6v6h-6zM1127,130h6v6h-6zM735,771h6v6h-6zM501,262h6v6h-6zM344,337h6v6h-6zM483,383h6v6h-6zM302,550h6v6h-6zM275,243h6v6h-6zM576,842h6v6h-6zM341,168h6v6h-6zM959,540h6v6h-6zM149,900h6v6h-6zM248,585h6v6h-6zM295,765h6v6h-6zM458,582h6v6h-6zM985,651h6v6h-6zM385,279h6v6h-6zM722,486h6v6h-6zM884,64h6v6h-6zM80,3h6v6h-6zM997,161h6v6h-6zM931,422h6v6h-6zM1182,589h6v6h-6zM1047,93h6v6h-6zM1106,353h6v6h-6zM52,794h6v6h-6zM289,604h6v6h-6zM21,406h6v6h-6zM576,416h6v6h-6zM1023,266h6v6h-6zM1128,148h6v6h-6zM1198,265h6v6h-6zM840,861h6v6h-6zM842,789h6v6h-6zM108,894h6v6h-6zM51,625h6v6h-6zM1020,709h6v6h-6zM900,561h6v6h-6zM1222,207h6v6h-6zM1127,746h6v6h-6zM237,429h6v6h-6zM539,138h6v6h-6zM1056,791h6v6h-6zM930,32h6v6h-6zM904,858h6v6h-6zM889,862h6v6h-6zM1189,650h6v6h-6zM919,280h6v6h-6zM956,290h6v6h-6zM329,305h6v6h-6zM382,35h6v6h-6zM186,256h6v6h-6zM268,19h6v6h-6zM911,764h6v6h-6zM412,660h6v6h-6zM1076,28h6v6h-6zM709,545h6v6h-6zM213,834h6v6h-6zM997,496h6v6h-6zM664,770h6v6h-6zM70,811h6v6h-6zM649,281h6v6h-6zM322,501h6v6h-6zM125,765h6v6h-6zM506,830h6v6h-6zM1180,734h6v6h-6zM134,226h6v6h-6zM780,871h6v6h-6zM774,334h6v6h-6zM1001,429h6v6h-6zM730,421h6v6h-6zM1177,567h6v6h-6zM134,595h6v6h-6zM499,157h6v6h-6zM614,246h6v6h-6zM1176,203h6v6h-6zM674,5h6v6h-6zM376,603h6v6h-6zM619,613h6v6h-6zM710,569h6v6h-6zM318,855h6v6h-6zM806,26h6v6h-6zM1034,156h6v6h-6zM515,600h6v6h-6zM1111,158h6v6h-6zM367,477h6v6h-6zM844,429h6v6h-6zM875,916h6v6h-6zM82,374h6v6h-6zM982,750h6v6h-6zM1182,312h6v6h-6zM308,617h6v6h-6zM1025,739h6v6h-6zM663,119h6v6h-6zM866,237h6v6h-6zM31,2h6v6h-6zM422,346h6v6h-6zM675,412h6v6h-6zM634,586h6v6h-6zM226,740h6v6h-6zM830,751h6v6h-6zM698,500h6v6h-6zM1036,610h6v6h-6zM329,801h6v6h-6zM238,255h6v6h-6zM1023,420h6v6h-6zM189,831h6v6h-6zM738,18h6v6h-6zM427,318h6v6h-6zM346,668h6v6h-6zM283,77h6v6h-6zM1064,532h6v6h-6zM590,819h6v6h-6zM845,788h6v6h-6zM414,281h6v6h-6zM411,435h6v6h-6zM715,184h6v6h-6zM701,869h6v6h-6zM927,4h6v6h-6zM589,583h6v6h-6zM67,917h6v6h-6zM974,517h6v6h-6zM640,589h6v6h-6zM490,533h6v6h-6zM627,320h6v6h-6zM582,54h6v6h-6zM757,219h6v6h-6zM329,141h6v6h-6zM929,420h6v6h-6zM718,473h6v6h-6zM727,334h6v6h-6zM321,710h6v6h-6zM897,142h6v6h-6zM176,326h6v6h-6zM984,287h6v6h-6zM280,398h6v6h-6zM619,581h6v6h-6zM395,370h6v6h-6zM1218,701h6v6h-6zM272,470h6v6h-6zM188,907h6v6h-6zM322,856h6v6h-6zM268,208h6v6h-6zM424,302h6v6h-6zM426,364h6v6h-6zM506,104h6v6h-6zM777,640h6v6h-6zM277,125h6v6h-6zM43,169h6v6h-6zM640,578h6v6h-6zM1162,759h6v6h-6zM197,239h6v6h-6zM243,64h6v6h-6zM35,501h6v6h-6zM1182,904h6v6h-6zM30,231h6v6h-6zM435,795h6v6h-6zM126,407h6v6h-6zM1082,723h6v6h-6zM223,479h6v6h-6zM842,116h6v6h-6zM1068,627h6v6h-6zM454,310h6v6h-6zM110,835h6v6h-6zM237,543h6v6h-6zM864,558h6v6h-6zM986,254h6v6h-6zM826,196h6v6h-6zM877,697h6v6h-6zM577,675h6v6h-6zM838,14h6v6h-6zM263,194h6v6h-6zM856,768h6v6h-6zM285,855h6v6h-6zM243,397h6v6h-6zM1052,262h6v6h-6zM1062,41h6v6h-6zM361,777h6v6h-6zM812,114h6v6h-6zM606,488h6v6h-6zM36,863h6v6h-6zM31,859h6v6h-6zM861,608h6v6h-6zM459,227h6v6h-6zM611,881h6v6h-6zM118,442h6v6h-6zM749,899h6v6h-6zM872,877h6v6h-6zM867,403h6v6h-6zM1159,37h6v6h-6zM926,13h6v6h-6zM111,47h6v6h-6zM557,737h6v6h-6zM985,575h6v6h-6zM457,270h6v6h-6zM562,305h6v6h-6z" fill="#e6e6e6" opacity="0.8"/>
<path d="M636,598h5v5h-5zM114,859h5v5h-5zM161,808h5v5h-5zM19,3h5v5h-5zM1189,304h5v5h-5zM484,713h5v5h-5zM100,562h5v5h-5zM1074,447h5v5h-5zM29,140h5v5h-5zM1085,182h5v5h-5zM874,592h5v5h-5zM959,597h5v5h-5zM665,742h5v5h-5zM893,211h5v5h-5zM90,544h5v5h-5zM711,615h5v5h-5zM361,912h5v5h-5zM739,388h5v5h-5zM210,170h5v5h-5zM338,633h5v5h-5zM511,751h5v5h-5zM394,778h5v5h-5zM1202,619h5v5h-5zM985,269h5v5h-5zM569,355h5v5h-5zM497,899h5v5h-5zM412,893h5v5h-5zM907,248h5v5h-5zM536,397h5v5h-5zM569,876h5v5h-5zM787,459h5v5h-5zM722,317h5v5h-5zM161,360h5v5h-5zM1000,735h5v5h-5zM41,590h5v5h-5zM949,584h5v5h-5zM1183,284h5v5h-5zM206,371h5v5h-5zM30,792h5v5h-5zM550,612h5v5h-5zM622,487h5v5h-5zM467,726h5v5h-5zM1078,918h5v5h-5zM701,431h5v5h-5zM704,887h5v5h-5zM410,14h5v5h-5zM624,795h5v5h-5zM178,319h5v5h-5zM777,583h5v5h-5zM410,700h5v5h-5zM1021,651h5v5h-5zM1080,125h5v5h-5zM511,380h5v5h-5zM358,393h5v5h-5zM1153,688h5v5h-5zM235,642h5v5h-5zM806,232h5v5h-5zM426,121h5v5h-5zM560,682h5v5h-5zM434,288h5v5h-5zM303,901h5v5h-5zM309,409h5v5h-5zM286,454h5v5h-5zM967,804h5v5h-5zM718,860h5v5h-5zM357,637h5v5h-5zM456,241h5v5h-5zM491,191h5v5h-5zM776,150h5v5h-5zM879,679h5v5h-5zM26,351h5v5h-5zM807,598h5v5h-5zM767,14h5v5h-5zM924,127h5v5h-5zM22,695h5v5h-5zM537,180h5v5h-5zM175,352h5v5h-5zM818,31h5v5h-5zM641,419h5v5h-5zM1080,393h5v5h-5zM203,547h5v5h-5zM112,88h5v5h-5zM1110,521h5v5h-5zM436,197h5v5h-5zM178,384h5v5h-5zM520,873h5v5h-5zM583,359h5v5h-5zM617,276h5v5h-5zM621,362h5v5h-5zM251,345h5v5h-5zM960,80h5v5h-5zM750,858h5v5h-5zM728,422h5v5h-5zM1075,671h5v5h-5zM417,1h5v5h-5zM1132,415h5v5h-5zM396,5h5v5h-5zM271,679h5v5h-5zM747,144h5v5h-5zM939,726h5v5h-5zM114,570h5v5h-5zM414,352h5v5h-5zM356,495h5v5h-5zM111,888h5v5h-5zM183,913h5v5h-5zM32,379h5v5h-5zM338,917h5v5h-5zM425,925h5v5h-5zM463,106h5v5h-5zM469,60h5v5h-5zM604,151h5v5h-5zM273,133h5v5h-5zM400,918h5v5h-5zM664,584h5v5h-5zM1027,397h5v5h-5zM817,13h5v5h-5zM651,772h5v5h-5zM444,111h5v5h-5zM1136,727h5v5h-5zM393,107h5v5h-5zM473,444h5v5h-5zM324,790h5v5h-5zM696,749h5v5h-5zM650,868h5v5h-5zM787,463h5v5h-5zM603,792h5v5h-5zM770,513h5v5h-5zM206,815h5v5h-5zM832,911h5v5h-5zM504,188h5v5h-5zM66,308h5v5h-5zM619,230h5v5h-5zM896,176h5v5h-5zM1137,141h5v5h-5zM226,110h5v5h-5zM976,815h5v5h-5zM855,223h5v5h-5zM1037,645h5v5h-5zM314,834h5v5h-5zM943,250h5v5h-5zM662,8h5v5h-5zM135,74h5v5h-5zM1012,418h5v5h-5zM745,848h5v5h-5zM355,129h5v5h-5zM326,865h5v5h-5zM400,40h5v5h-5zM86,352h5v5h-5zM1100,209h5v5h-5zM962,334h5v5h-5zM1210,561h5v5h-5zM295,302h5v5h-5zM659,371h5v5h-5zM559,884h5v5h-5zM47,332h5v5h-5zM923,834h5v5h-5zM1083,351h5v5h-5zM445,823h5v5h-5zM711,885h5v5h-5zM151,716h5v5h-5zM902,920h5v5h-5zM310,556h5v5h-5zM1053,421h5v5h-5zM154,633h5v5h-5zM205,153h5v5h-5zM1231,432h5v5h-5zM1189,872h5v5h-5zM181,216h5v5h-5zM943,163h5v5h-5zM126,86h5v5h-5zM1078,827h5v5h-5zM1078,355h5v5h-5zM294,493h5v5h-5zM39,195h5v5h-5zM1131,915h5v5h-5zM462,208h5v5h-5zM758,839h5v5h-5zM702,492h5v5h-5zM824,661h5v5h-5zM365,306h5v5h-5zM590,434h5v5h-5zM1226,178h5v5h-5zM28,511h5v5h-5zM1206,873h5v5h-5zM181,923h5v5h-5zM1123,244h5v5h-5zM302,183h5v5h-5zM599,514h5v5h-5zM261,461h5v5h-5zM653,143h5v5h-5zM806,114h5v5h-5zM569,178h5v5h-5zM177,530h5v5h-5zM1000,485h5v5h-5zM164,167h5v5h-5zM1074,520h5v5h-5zM343,358h5v5h-5zM179,536h5v5h-5zM9,724h5v5h-5zM244,326h5v5h-5zM1195,55h5v5h-5zM424,580h5v5h-5zM781,767h5v5h-5zM1009,422h5v5h-5zM963,221h5v5h-5zM975,769h5v5h-5zM19,712h5v5h-5zM436,110h5v5h-5zM179,248h5v5h-5zM1005,796h5v5h-5zM780,328h5v5h-5zM340,194h5v5h-5zM93,423h5v5h-5zM803,748h5v5h-5zM935,814h5v5h-5zM706,689h5v5h-5zM772,604h5v5h-5zM958,90h5v5h-5zM42,199h5v5h-5zM496,411h5v5h-5zM86,609h5v5h-5zM776,320h5v5h-5zM1105,247h5v5h-5zM414,908h5v5h-5zM312,184h5v5h-5zM69,345h5v5h-5zM729,338h5v5h-5zM697,596h5v5h-5zM688,921h5v5h-5zM925,70h5v5h-5zM1128,662h5v5h-5zM952,793h5v5h-5zM1052,220h5v5h-5zM497,608h5v5h-5zM644,710h5v5h-5zM538,645h5v5h-5zM461,313h5v5h-5zM787,414h5v5h-5zM452,404h5v5h-5zM475,304h5v5h-5zM470,521h5v5h-5zM172,345h5v5h-5zM811,339h5v5h-5zM979,265h5v5h-5zM570,421h5v5h-5zM410,462h5v5h-5zM1115,858h5v5h-5zM143,742h5v5h-5zM780,463h5v5h-5zM254,248h5v5h-5zM546,126h5v5h-5zM1081,824h5v5h-5zM1208,70h5v5h-5zM200,893h5v5h-5zM714,241h5v5h-5zM898,549h5v5h-5zM898,815h5v5h-5zM295,262h5v5h-5zM819,891h5v5h-5zM661,564h5v5h-5zM612,21h5v5h-5zM1107,492h5v5h-5zM245,80h5v5h-5zM545,754h5v5h-5zM1031,750h5v5h-5zM1187,612h5v5h-5zM341,185h5v5h-5zM706,442h5v5h-5zM267,880h5v5h-5zM81,178h5v5h-5zM241,474h5v5h-5zM891,202h5v5h-5zM262,665h5v5h-5zM1120,447h5v5h-5zM1121,553h5v5h-5zM596,249h5v5h-5zM289,344h5v5h-5zM1135,615h5v5h-5zM929,818h5v5h-5zM1048,296h5v5h-5zM226,20h5v5h-5zM825,147h5v5h-5zM966,771h5v5h-5zM198,771h5v5h-5zM392,478h5v5h-5zM1050,36h5v5h-5zM280,236h5v5h-5zM1034,831h5v5h-5zM558,105h5v5h-5zM1022,275h5v5h-5zM754,890h5v5h-5zM946,585h5v5h-5zM755,478h5v5h-5zM664,410h5v5h-5zM883,850h5v5h-5zM34,215h5v5h-5zM817,779h5v5h-5zM707,391h5v5h-5zM293,590h5v5h-5zM64,228h5v5h-5zM1013,490h5v5h-5zM745,161h5v5h-5zM87,765h5v5h-5zM154,475h5v5h-5zM729,382h5v5h-5zM415,529h5v5h-5zM711,92h5v5h-5zM421,647h5v5h-5zM740,252h5v5h-5zM653,399h5v5h-5zM99,140h5v5h-5zM974,608h5v5h-5zM366,373h5v5h-5zM271,50h5v5h-5zM341,328h5v5h-5zM496,89h5v5h-5zM978,413h5v5h-5zM17,604h5v5h-5zM136,627h5v5h-5zM552,488h5v5h-5zM444,793h5v5h-5zM365,110h5v5h-5zM681,646h5v5h-5zM284,486h5v5h-5zM892,106h5v5h-5zM1047,309h5v5h-5zM621,267h5v5h-5zM971,564h5v5h-5zM509,314h5v5h-5zM959,293h5v5h-5zM288,31h5v5h-5zM1079,802h5v5h-5zM994,915h5v5h-5zM532,835h5v5h-5zM774,242h5v5h-5zM439,300h5v5h-5zM400,252h5v5h-5zM426,865h5v5h-5zM67,425h5v5h-5zM944,733h5v5h-5zM43,756h5v5h-5zM391,592h5v5h-5zM731,765h5v5h-5zM1134,697h5v5h-5zM191,273h5v5h-5zM356,87h5v5h-5zM310,196h5v5h-5zM1209,570h5v5h-5zM1084,886h5v5h-5zM1064,678h5v5h-5zM439,295h5v5h-5zM514,785h5v5h-5zM372,472h5v5h-5zM974,79h5v5h-5zM809,24h5v5h-5zM315,621h5v5h-5zM840,897h5v5h-5zM812,817h5v5h-5zM983,211h5v5h-5zM1204,31h5v5h-5zM918,378h5v5h-5zM293,301h5v5h-5zM907,840h5v5h-5zM584,810h5v5h-5zM409,796h5v5h-5zM1163,641h5v5h-5zM453,257h5v5h-5zM169,751h5v5h-5zM1018,205h5v5h-5zM180,841h5v5h-5zM1024,471h5v5h-5zM22,741h5v5h-5zM310,472h5v5h-5zM230,789h5v5h-5zM757,17h5v5h-5zM832,213h5v5h-5zM953,239h5v5h-5zM666,600h5v5h-5zM441,110h5v5h-5zM467,59h5v5h-5zM1019,284h5v5h-5zM10,438h5v5h-5zM540,615h5v5h-5zM564,55h5v5h-5zM4,901h5v5h-5zM727,359h5v5h-5zM277,657h5v5h-5zM1008,560h5v5h-5zM256,284h5v5h-5zM1058,367h5v5h-5zM818,16h5v5h-5zM724,809h5v5h-5zM1069,777h5v5h-5zM466,312h5v5h-5zM608,383h5v5h-5zM775,370h5v5h-5zM1144,900h5v5h-5zM546,630h5v5h-5zM1110,890h5v5h-5zM561,296h5v5h-5zM11,43h5v5h-5zM612,121h5v5h-5zM573,791h5v5h-5zM386,471h5v5h-5zM1172,421h5v5h-5zM999,884h5v5h-5zM373,226h5v5h-5zM942,454h5v5h-5zM299,279h5v5h-5zM810,329h5v5h-5zM836,264h5v5h-5zM332,291h5v5h-5zM1006,169h5v5h-5zM198,85h5v5h-5zM841,807h5v5h-5zM327,911h5v5h-5zM842,433h5v5h-5zM561,783h5v5h-5zM736,672h5v5h-5zM221,517h5v5h-5zM995,275h5v5h-5zM364,246h5v5h-5zM214,309h5v5h-5zM312,17h5v5h-5zM536,374h5v5h-5zM765,254h5v5h-5zM1160,143h5v5h-5zM593,79h5v5h-5zM567,328h5v5h-5zM553,201h5v5h-5zM466,615h5v5h-5zM365,253h5v5h-5zM141,374h5v5h-5zM269,626h5v5h-5zM606,210h5v5h-5zM800,908h5v5h-5zM630,424h5v5h-5zM754,524h5v5h-5zM1237,488h5v5h-5zM81,584h5v5h-5zM739,389h5v5h-5zM797,743h5v5h-5zM570,248h5v5h-5zM61,365h5v5h-5zM778,25h5v5h-5zM1153,544h5v5h-5zM345,464h5v5h-5zM874,494h5v5h-5zM446,784h5v5h-5zM917,919h5v5h-5zM488,540h5v5h-5zM126,308h5v5h-5zM1007,853h5v5h-5zM1068,178h5v5h-5zM377,619h5v5h-5zM1129,226h5v5h-5zM200,278h5v5h-5zM418,188h5v5h-5zM120,231h5v5h-5zM1099,723h5v5h-5zM1001,528h5v5h-5zM665,387h5v5h-5zM404,175h5v5h-5zM28,493h5v5h-5zM485,347h5v5h-5zM1159,26h5v5h-5zM145,718h5v5h-5zM568,567h5v5h-5zM779,725h5v5h-5zM1068,752h5v5h-5zM832,536h5v5h-5zM227,634h5v5h-5zM677,705h5v5h-5zM148,856h5v5h-5zM1115,113h5v5h-5zM1135,836h5v5h-5zM53,281h5v5h-5zM644,781h5v5h-5zM1030,136h5v5h-5zM1013,726h5v5h-5zM80,840h5v5h-5zM404,103h5v5h-5zM890,640h5v5h-5zM1209,172h5v5h-5zM240,241h5v5h-5zM1138,751h5v5h-5zM1197,761h5v5h-5zM1201,753h5v5h-5zM641,692h5v5h-5zM595,748h5v5h-5zM45,227h5v5h-5zM227,699h5v5h-5zM17,498h5v5h-5zM1159,644h5v5h-5zM908,167h5v5h-5zM581,38h5v5h-5zM585,38h5v5h-5zM405,469h5v5h-5zM906,252h5v5h-5zM937,488h5v5h-5zM827,665h5v5h-5zM1230,753h5v5h-5zM1187,737h5v5h-5zM961,759h5v5h-5zM235,361h5v5h-5zM602,890h5v5h-5zM1086,734h5v5h-5zM540,726h5v5h-5zM852,528h5v5h-5zM283,811h5v5h-5zM75,453h5v5h-5zM811,620h5v5h-5zM490,247h5v5h-5zM406,708h5v5h-5zM1163,853h5v5h-5zM519,480h5v5h-5zM190,217h5v5h-5zM109,564h5v5h-5zM418,154h5v5h-5zM512,426h5v5h-5zM97,900h5v5h-5zM158,540h5v5h-5zM1231,90h5v5h-5zM261,746h5v5h-5zM1058,616h5v5h-5zM992,615h5v5h-5zM994,233h5v5h-5zM1019,855h5v5h-5zM318,663h5v5h-5zM125,371h5v5h-5zM1233,583h5v5h-5zM290,759h5v5h-5zM834,721h5v5h-5zM959,167h5v5h-5zM287,438h5v5h-5zM20,267h5v5h-5zM859,296h5v5h-5zM416,308h5v5h-5zM1042,207h5v5h-5zM1082,727h5v5h-5zM229,470h5v5h-5zM582,573h5v5h-5zM817,642h5v5h-5zM44,649h5v5h-5zM292,496h5v5h-5zM87,871h5v5h-5zM44,87h5v5h-5zM113,64h5v5h-5zM18,879h5v5h-5zM584,468h5v5h-5zM1174,5h5v5h-5zM848,338h5v5h-5zM875,492h5v5h-5zM1054,713h5v5h-5zM1206,258h5v5h-5zM1181,574h5v5h-5zM79,921h5v5h-5zM434,282h5v5h-5zM515,685h5v5h-5zM611,395h5v5h-5zM1123,365h5v5h-5zM388,650h5v5h-5zM1046,236h5v5h-5zM1089,88h5v5h-5zM1029,578h5v5h-5zM706,614h5v5h-5zM670,201h5v5h-5zM426,81h5v5h-5zM464,809h5v5h-5zM303,906h5v5h-5zM790,424h5v5h-5zM826,493h5v5h-5zM1189,207h5v5h-5zM1154,552h5v5h-5zM785,785h5v5h-5zM6,847h5v5h-5zM109,318h5v5h-5zM220,185h5v5h-5zM176,812h5v5h-5zM901,382h5v5h-5zM1146,357h5v5h-5zM816,13h5v5h-5zM355,441h5v5h-5zM232,729h5v5h-5zM486,851h5v5h-5zM192,487h5v5h-5zM894,397h5v5h-5zM440,223h5v5h-5zM275,161h5v5h-5zM799,713h5v5h-5zM47,843h5v5h-5zM466,50h5v5h-5zM329,51h5v5h-5zM1044,595h5v5h-5zM183,105h5v5h-5zM199,515h5v5h-5zM691,856h5v5h-5zM1061,72h5v5h-5zM663,521h5v5h-5zM499,57h5v5h-5zM420,175h5v5h-5zM1160,795h5v5h-5zM500,275h5v5h-5zM1139,569h5v5h-5zM1120,458h5v5h-5zM411,395h5v5h-5zM16,268h5v5h-5zM118,367h5v5h-5zM904,563h5v5h-5zM686,375h5v5h-5zM1165,512h5v5h-5zM926,518h5v5h-5zM1167,361h5v5h-5zM761,384h5v5h-5zM909,513h5v5h-5zM288,593h5v5h-5zM873,321h5v5h-5zM113,221h5v5h-5zM1023,18h5v5h-5zM281,769h5v5h-5zM141,373h5v5h-5zM207,830h5v5h-5zM337,270h5v5h-5zM1161,874h5v5h-5zM948,266h5v5h-5zM813,84h5v5h-5zM700,719h5v5h-5zM1052,137h5v5h-5zM148,414h5v5h-5zM710,26h5v5h-5zM341,394h5v5h-5zM1154,345h5v5h-5zM148,334h5v5h-5zM171,915h5v5h-5zM102,519h5v5h-5zM694,452h5v5h-5zM157,682h5v5h-5zM664,312h5v5h-5zM700,639h5v5h-5zM613,843h5v5h-5zM84,349h5v5h-5zM443,896h5v5h-5zM396,885h5v5h-5zM296,563h5v5h-5zM224,385h5v5h-5zM1124,857h5v5h-5zM780,450h5v5h-5zM465,859h5v5h-5zM843,622h5v5h-5zM485,400h5v5h-5zM897,75h5v5h-5zM397,691h5v5h-5zM176,424h5v5h-5zM732,376h5v5h-5zM1212,265h5v5h-5zM320,827h5v5h-5zM1032,424h5v5h-5zM698,536h5v5h-5zM1054,401h5v5h-5zM738,919h5v5h-5zM670,646h5v5h-5zM793,41h5v5h-5zM48,404h5v5h-5zM384,120h5v5h-5zM300,654h5v5h-5zM579,735h5v5h-5zM818,764h5v5h-5zM963,771h5v5h-5zM893,198h5v5h-5zM871,200h5v5h-5zM903,550h5v5h-5zM580,511h5v5h-5zM251,903h5v5h-5zM967,487h5v5h-5zM1175,234h5v5h-5zM49,495h5v5h-5zM102,247h5v5h-5zM729,730h5v5h-5zM159,904h5v5h-5zM92,174h5v5h-5zM1144,408h5v5h-5zM69,657h5v5h-5zM607,300h5v5h-5zM1186,675h5v5h-5zM608,744h5v5h-5zM322,154h5v5h-5zM697,472h5v5h-5zM33,336h5v5h-5zM938,492h5v5h-5zM195,219h5v5h-5zM1016,224h5v5h-5zM351,133h5v5h-5zM380,620h5v5h-5zM634,477h5v5h-5zM1048,181h5v5h-5zM740,352h5v5h-5zM1047,500h5v5h-5zM299,779h5v5h-5zM737,835h5v5h-5zM439,129h5v5h-5z" fill="#707070" opacity="0.8"/>
<path d="M78,103C65,96 53,81 52,70C50,59 59,47 67,37C75,26 85,12 101,8C116,3 141,5 157,9C174,13 192,23 199,33C206,43 203,57 199,68C195,78 187,88 176,95C164,103 148,111 132,112C115,114 91,110 78,103Z" transform="translate(0,5)" fill="#c2c2c2"/>
<path d="M160,82C178,85 196,94 207,104C219,114 227,130 227,142C228,155 220,169 210,180C200,190 184,201 168,204C152,207 131,204 115,198C99,193 79,182 73,170C67,159 75,142 80,129C85,115 89,96 102,88C116,81 143,79 160,82Z" transform="translate(0,5)" fill="#c2c2c2"/>
<path d="M263,74C270,62 285,53 299,48C312,42 331,36 344,39C357,43 370,57 376,68C383,79 383,93 382,105C381,117 379,131 370,141C362,150 345,159 331,161C317,163 297,158 286,151C274,143 264,128 261,115C257,103 257,85 263,74Z" transform="translate(0,5)" fill="#c2c2c2"/>
<path d="M358,59C343,59 325,50 313,45C302,40 292,35 289,29C286,23 288,17 295,11C303,5 316,-4 332,-6C348,-8 376,-7 392,-3C407,-0 419,7 424,13C429,18 425,24 423,30C420,35 417,41 406,46C396,51 374,60 358,59Z" transform="translate(0,5)" fill="#c2c2c2"/>
<path d="M600,37C620,42 641,63 652,80C663,97 672,122 667,140C663,158 642,175 625,188C608,201 585,221 565,220C546,220 522,199 508,185C494,172 484,157 479,139C473,121 465,94 474,79C483,64 512,57 533,50C554,43 580,32 600,37Z" transform="translate(0,5)" fill="#c2c2c2"/>
<path d="M676,156C670,141 667,112 670,94C673,77 685,59 695,50C705,41 717,39 728,41C738,42 750,47 758,58C765,69 771,88 773,105C775,123 776,148 770,162C765,176 750,187 740,191C729,194 719,187 708,181C698,175 683,170 676,156Z" transform="translate(0,5)" fill="#c2c2c2"/>
<path d="M900,105C899,124 895,147 887,158C879,170 862,176 851,176C839,177 827,169 817,160C806,152 792,139 789,124C785,108 790,84 796,69C801,53 811,35 821,29C831,23 844,28 857,31C869,35 886,36 894,49C901,61 901,87 900,105Z" transform="translate(0,5)" fill="#c2c2c2"/>
<path d="M1114,88C1102,80 1095,69 1091,59C1088,48 1089,36 1095,26C1102,16 1116,4 1131,0C1146,-4 1170,-3 1185,1C1199,6 1211,16 1220,26C1228,35 1239,47 1238,58C1237,69 1227,84 1214,92C1201,99 1178,105 1161,104C1144,104 1125,95 1114,88Z" transform="translate(0,5)" fill="#c2c2c2"/>
<path d="M283,330C269,335 249,337 233,335C218,333 199,328 188,320C176,311 165,297 166,286C166,275 178,262 189,253C200,244 214,235 230,232C247,228 273,228 286,234C299,240 304,257 309,268C315,280 324,293 319,303C315,314 297,325 283,330Z" transform="translate(0,5)" fill="#c2c2c2"/>
<path d="M427,320C437,334 450,353 448,367C446,382 428,397 415,407C402,417 387,425 371,427C355,429 331,428 319,420C307,412 300,392 297,377C294,362 294,346 300,332C306,318 317,301 331,293C346,286 370,283 386,287C402,292 417,307 427,320Z" transform="translate(0,5)" fill="#c2c2c2"/>
<path d="M497,360C508,362 519,371 526,380C534,389 541,401 541,412C542,423 535,436 529,445C522,454 513,464 502,467C491,471 474,473 464,468C455,463 446,448 442,436C438,425 436,410 439,399C442,387 451,373 460,367C470,360 486,358 497,360Z" transform="translate(0,5)" fill="#c2c2c2"/>
<path d="M653,277C668,279 686,286 695,297C704,308 706,327 706,341C707,355 705,371 698,384C691,396 677,411 662,416C648,420 625,418 613,410C601,403 594,384 588,370C582,356 573,339 576,325C579,311 592,293 605,285C618,277 638,275 653,277Z" transform="translate(0,5)" fill="#c2c2c2"/>
<path d="M735,361C732,345 731,322 740,308C749,294 772,280 789,277C805,275 825,286 840,294C856,302 874,311 881,324C888,337 886,358 882,374C877,389 868,406 855,417C842,427 819,436 803,434C787,432 770,416 759,404C747,392 738,377 735,361Z" transform="translate(0,5)" fill="#c2c2c2"/>
<path d="M1029,392C1007,396 977,382 956,372C934,361 911,346 901,327C891,308 890,277 897,257C904,237 925,219 944,206C963,193 990,179 1011,181C1033,183 1058,202 1072,218C1087,234 1093,257 1096,278C1098,299 1098,326 1087,344C1076,363 1050,387 1029,392Z" transform="translate(0,5)" fill="#c2c2c2"/>
<path d="M1181,346C1168,347 1151,344 1140,336C1129,328 1117,312 1114,298C1112,284 1118,266 1124,253C1130,240 1139,225 1150,220C1161,215 1176,220 1189,224C1201,228 1217,232 1223,242C1230,252 1230,271 1229,285C1228,299 1226,316 1218,326C1209,337 1194,344 1181,346Z" transform="translate(0,5)" fill="#c2c2c2"/>
<path d="M1127,451C1111,444 1094,432 1087,419C1080,406 1080,387 1084,373C1089,358 1100,343 1114,333C1128,324 1152,314 1168,316C1185,319 1200,336 1211,348C1222,359 1230,372 1232,385C1234,398 1230,415 1222,427C1213,439 1197,452 1181,456C1165,460 1142,457 1127,451Z" transform="translate(0,5)" fill="#c2c2c2"/>
<path d="M151,371C173,376 194,391 209,408C224,425 241,451 242,474C243,496 229,526 214,544C200,561 175,574 154,579C132,583 102,583 83,572C65,560 53,534 44,511C35,488 23,458 29,436C35,414 61,390 81,379C101,368 130,367 151,371Z" transform="translate(0,5)" fill="#c2c2c2"/>
<path d="M322,534C313,530 308,521 305,515C303,508 304,501 307,495C310,488 315,480 324,477C333,473 349,471 359,472C370,473 381,480 388,485C395,491 401,498 401,505C401,512 394,519 387,525C380,531 370,538 359,539C348,541 331,539 322,534Z" transform="translate(0,5)" fill="#c2c2c2"/>
<path d="M633,567C619,568 599,567 587,561C575,556 567,544 563,534C559,524 558,512 563,503C568,493 579,483 592,477C605,471 627,465 642,467C657,469 675,480 684,489C692,499 694,512 692,522C691,533 684,544 674,551C664,559 648,565 633,567Z" transform="translate(0,5)" fill="#c2c2c2"/>
<path d="M721,542C715,538 712,529 710,522C708,515 707,506 710,499C713,492 721,483 729,480C737,478 749,480 757,483C765,486 773,491 777,498C781,504 783,513 782,520C781,527 777,535 771,540C765,545 755,548 747,549C738,549 727,547 721,542Z" transform="translate(0,5)" fill="#c2c2c2"/>
<path d="M495,595C490,587 487,576 491,567C494,559 506,550 518,545C529,541 546,537 559,539C572,540 585,548 594,554C602,561 612,571 612,579C611,587 601,596 593,602C585,609 574,617 563,619C551,622 534,619 523,615C511,611 501,603 495,595Z" transform="translate(0,5)" fill="#c2c2c2"/>
<path d="M279,649C269,644 257,632 253,621C249,611 253,597 257,586C260,575 265,561 274,555C283,549 299,549 311,551C323,552 336,557 344,565C352,573 357,586 358,597C359,608 357,623 350,632C343,640 329,646 317,649C306,652 290,654 279,649Z" transform="translate(0,5)" fill="#c2c2c2"/>
<path d="M1035,496C1050,496 1069,503 1079,509C1089,515 1093,524 1095,532C1098,540 1099,550 1093,557C1087,565 1073,575 1059,578C1045,580 1023,579 1009,575C996,571 986,562 981,555C975,548 974,539 976,532C978,524 984,516 994,510C1004,504 1021,496 1035,496Z" transform="translate(0,5)" fill="#c2c2c2"/>
<path d="M1064,587C1061,574 1066,558 1075,546C1084,534 1100,520 1117,515C1134,511 1163,511 1178,517C1194,523 1204,540 1212,552C1220,564 1230,579 1226,591C1223,603 1207,616 1193,624C1179,632 1159,638 1142,637C1126,637 1106,630 1093,622C1079,613 1067,599 1064,587Z" transform="translate(0,5)" fill="#c2c2c2"/>
<path d="M948,680C931,674 915,663 905,651C894,638 883,620 887,607C891,594 913,583 928,574C944,564 963,550 981,549C1000,548 1025,559 1041,569C1056,579 1071,595 1073,609C1076,623 1066,641 1056,654C1045,666 1028,680 1010,684C992,689 966,686 948,680Z" transform="translate(0,5)" fill="#c2c2c2"/>
<path d="M431,615C451,610 480,614 501,620C521,626 546,639 554,652C563,666 557,686 551,701C546,717 539,736 522,746C506,755 474,759 453,757C432,754 412,742 396,731C381,721 363,706 361,692C359,679 372,662 384,649C395,636 412,620 431,615Z" transform="translate(0,5)" fill="#c2c2c2"/>
<path d="M792,677C801,671 820,668 832,669C845,671 859,678 868,685C876,692 883,704 883,713C882,722 872,730 865,738C857,746 850,757 838,760C827,763 807,760 798,755C788,750 782,738 779,730C776,721 776,713 778,704C780,696 783,683 792,677Z" transform="translate(0,5)" fill="#c2c2c2"/>
<path d="M159,720C180,728 198,749 209,766C220,783 228,805 224,824C221,844 208,868 189,882C170,895 134,908 109,906C85,904 59,885 40,870C21,855 0,836 -4,817C-8,798 3,771 17,755C32,738 58,726 82,720C106,714 138,713 159,720Z" transform="translate(0,5)" fill="#c2c2c2"/>
<path d="M338,754C343,761 345,771 344,778C343,786 338,793 332,799C326,805 316,812 308,812C300,812 290,807 283,802C277,797 273,790 270,783C268,777 268,768 271,761C273,755 280,747 287,743C295,739 307,738 315,740C324,742 333,748 338,754Z" transform="translate(0,5)" fill="#c2c2c2"/>
<path d="M655,824C655,834 648,846 638,854C628,862 611,869 595,871C579,873 558,872 545,867C531,862 520,852 514,842C507,833 500,819 504,810C508,800 524,790 539,784C554,777 576,769 593,770C609,772 628,783 639,792C649,801 656,813 655,824Z" transform="translate(0,5)" fill="#c2c2c2"/>
<path d="M849,853C843,861 836,870 823,874C810,878 787,882 771,880C756,878 740,870 730,863C721,855 714,845 716,838C717,830 730,823 741,816C752,809 765,798 781,796C796,794 821,800 835,806C848,812 858,822 860,830C863,838 855,846 849,853Z" transform="translate(0,5)" fill="#c2c2c2"/>
<path d="M1084,788C1092,777 1107,766 1120,764C1132,762 1148,768 1159,775C1170,782 1183,794 1187,807C1191,820 1190,839 1185,852C1181,865 1170,876 1159,884C1148,891 1132,898 1119,897C1106,896 1088,887 1080,876C1072,865 1071,845 1072,830C1073,815 1076,799 1084,788Z" transform="translate(0,5)" fill="#c2c2c2"/>
<path d="M1186,769C1191,764 1199,762 1206,763C1213,763 1222,764 1227,770C1232,775 1237,785 1238,794C1239,803 1238,816 1234,823C1230,831 1221,836 1214,838C1207,840 1199,838 1193,835C1186,832 1178,826 1175,819C1172,812 1173,800 1175,791C1177,783 1181,774 1186,769Z" transform="translate(0,5)" fill="#c2c2c2"/>
<path d="M234,337C232,343 225,350 217,354C209,358 197,363 188,362C178,362 168,356 161,351C154,346 147,340 145,334C143,328 144,319 150,313C155,307 166,302 176,300C186,298 200,296 210,299C219,302 227,310 231,316C236,322 237,331 234,337Z" transform="translate(0,5)" fill="#c2c2c2"/>
<path d="M501,296C492,296 482,291 475,287C468,283 462,277 460,271C458,265 460,256 465,251C469,245 477,240 485,237C493,234 506,233 514,235C523,237 530,244 534,250C538,256 540,263 539,270C538,276 534,284 528,288C521,293 509,296 501,296Z" transform="translate(0,5)" fill="#c2c2c2"/>
<path d="M20,580C27,578 36,574 43,577C50,579 58,586 61,593C65,600 66,610 64,617C62,624 55,630 49,635C43,640 36,645 29,645C22,645 14,639 9,634C3,629 -1,622 -2,615C-4,608 -3,598 1,593C4,587 13,583 20,580Z" transform="translate(0,5)" fill="#c2c2c2"/>
<path d="M89,94C78,89 67,77 65,68C64,59 73,49 80,41C87,33 96,23 107,20C119,17 137,18 150,21C163,24 180,30 186,38C192,45 189,58 185,66C182,74 174,81 165,87C155,92 143,97 131,98C118,99 99,99 89,94Z" fill="#555"/>
<ellipse cx="130" cy="50" rx="48" ry="26" fill="#474747"/>
<path d="M158,96C172,98 187,104 196,112C205,120 213,132 213,143C214,153 206,165 198,173C189,181 176,188 164,191C151,193 135,191 122,187C109,182 91,175 86,166C81,157 90,143 94,132C98,121 101,105 111,99C122,93 144,94 158,96Z" fill="#555"/>
<ellipse cx="150" cy="132" rx="52" ry="32" fill="#474747"/>
<path d="M276,79C281,71 294,65 305,60C315,56 329,50 339,52C349,55 360,67 364,75C369,84 369,94 368,104C368,113 366,124 360,131C353,139 340,146 329,147C318,148 303,145 294,140C285,134 277,122 274,112C271,102 271,88 276,79Z" fill="#555"/>
<ellipse cx="325" cy="89" rx="40" ry="29" fill="#474747"/>
<path d="M359,45C347,45 335,42 326,39C317,36 306,32 303,28C300,24 303,18 309,14C315,10 329,6 341,4C353,3 370,4 381,6C393,7 405,11 410,15C415,19 411,24 409,29C406,33 402,38 394,40C385,43 370,46 359,45Z" fill="#555"/>
<ellipse cx="360" cy="20" rx="44" ry="13" fill="#474747"/>
<path d="M595,50C612,54 630,72 640,86C649,101 657,123 653,138C649,153 630,166 616,178C601,189 582,207 566,206C549,206 530,187 518,175C506,164 498,152 492,137C487,122 478,98 486,85C494,73 521,68 539,62C557,57 578,46 595,50Z" fill="#555"/>
<ellipse cx="565" cy="106" rx="68" ry="49" fill="#474747"/>
<path d="M687,147C682,135 681,113 683,99C685,85 693,70 701,63C708,55 719,53 727,55C735,56 745,61 751,70C756,79 758,94 759,108C761,122 764,141 760,152C757,164 745,174 737,177C729,179 720,172 711,167C703,162 692,158 687,147Z" fill="#555"/>
<ellipse cx="725" cy="99" rx="32" ry="42" fill="#474747"/>
<path d="M886,104C885,119 885,137 879,147C873,157 859,162 850,162C840,162 831,155 823,148C815,140 804,130 801,118C799,106 804,89 808,76C812,63 817,47 825,42C833,37 845,42 854,45C864,48 879,49 884,59C889,69 887,89 886,104Z" fill="#555"/>
<ellipse cx="845" cy="84" rx="36" ry="42" fill="#474747"/>
<path d="M1125,79C1116,73 1108,65 1105,57C1103,49 1103,38 1108,31C1114,23 1127,15 1138,12C1150,9 1167,11 1179,14C1190,17 1199,24 1207,31C1214,38 1225,48 1224,57C1224,65 1213,77 1203,83C1192,89 1174,91 1161,90C1148,90 1134,84 1125,79Z" fill="#555"/>
<ellipse cx="1160" cy="40" rx="48" ry="26" fill="#474747"/>
<path d="M274,319C262,323 249,323 237,321C224,320 209,318 200,312C190,306 179,294 180,286C180,277 192,267 202,260C211,253 222,248 234,245C247,243 267,241 277,245C287,250 291,262 296,272C301,281 309,292 306,300C302,308 286,316 274,319Z" fill="#555"/>
<ellipse cx="245" cy="274" rx="48" ry="27" fill="#474747"/>
<path d="M415,328C424,339 436,354 434,366C432,377 416,389 405,397C395,405 383,411 370,413C357,415 338,416 328,409C318,402 313,385 310,373C308,361 309,349 313,338C318,326 326,312 338,306C349,300 369,297 382,301C395,304 407,317 415,328Z" fill="#555"/>
<ellipse cx="365" cy="345" rx="52" ry="39" fill="#474747"/>
<path d="M495,374C503,376 511,383 516,390C521,396 527,405 527,413C528,421 522,430 517,437C513,444 506,451 498,454C491,457 478,459 470,456C463,452 458,439 455,431C452,422 451,412 453,403C455,394 461,383 468,379C475,374 487,372 495,374Z" fill="#555"/>
<ellipse cx="490" cy="404" rx="32" ry="27" fill="#474747"/>
<path d="M651,291C663,293 678,298 685,307C692,315 692,330 692,342C693,353 692,366 687,376C681,386 670,398 659,402C648,406 629,404 619,397C609,391 606,376 601,364C596,353 588,340 590,329C592,318 603,303 613,297C623,290 639,289 651,291Z" fill="#555"/>
<ellipse cx="645" cy="331" rx="44" ry="36" fill="#474747"/>
<path d="M749,360C746,347 744,327 752,316C759,304 778,293 792,291C806,289 821,300 834,306C847,313 862,319 868,329C873,340 872,357 868,370C865,383 857,397 847,405C836,414 817,422 804,420C791,418 778,404 769,394C759,384 752,373 749,360Z" fill="#555"/>
<ellipse cx="810" cy="340" rx="52" ry="40" fill="#474747"/>
<path d="M1025,378C1006,382 980,369 962,359C944,350 923,338 914,321C905,305 904,278 910,261C916,243 935,228 952,217C968,207 991,193 1010,195C1028,197 1050,214 1062,228C1074,242 1080,261 1082,279C1084,298 1085,320 1076,337C1066,353 1044,374 1025,378Z" fill="#555"/>
<ellipse cx="1000" cy="262" rx="76" ry="58" fill="#474747"/>
<path d="M1179,332C1169,333 1156,331 1147,324C1139,318 1130,305 1128,294C1126,283 1131,270 1136,260C1140,250 1147,236 1155,233C1163,229 1176,235 1185,238C1195,241 1207,243 1212,251C1218,258 1216,273 1215,284C1215,295 1214,308 1208,316C1202,324 1189,330 1179,332Z" fill="#555"/>
<ellipse cx="1175" cy="268" rx="36" ry="32" fill="#474747"/>
<path d="M1133,438C1120,433 1106,424 1100,413C1094,403 1094,387 1098,376C1102,364 1111,352 1123,344C1134,337 1154,328 1166,330C1179,332 1191,347 1200,356C1209,366 1217,375 1218,386C1220,396 1217,410 1210,420C1203,429 1189,439 1176,442C1164,445 1146,443 1133,438Z" fill="#555"/>
<ellipse cx="1160" cy="376" rx="52" ry="36" fill="#474747"/>
<path d="M149,385C167,390 185,403 198,418C212,432 227,454 228,474C229,493 217,519 204,534C191,550 170,561 151,565C132,569 106,569 90,559C74,549 65,526 57,506C49,486 37,460 42,441C47,421 70,400 88,391C106,382 131,381 149,385Z" fill="#555"/>
<ellipse cx="135" cy="450" rx="76" ry="65" fill="#474747"/>
<path d="M332,524C326,522 321,516 319,512C317,508 318,502 320,498C323,494 328,489 334,487C340,485 349,485 356,486C363,486 370,489 375,492C381,495 387,501 387,505C387,510 380,515 375,518C370,522 363,525 356,526C349,527 338,527 332,524Z" fill="#555"/>
<ellipse cx="350" cy="500" rx="28" ry="14" fill="#474747"/>
<path d="M631,553C620,554 606,554 597,551C587,547 579,538 576,531C573,523 573,513 577,506C581,499 591,492 601,488C611,484 626,479 638,480C650,481 664,489 671,496C678,503 680,514 678,522C677,530 670,538 662,544C654,549 642,552 631,553Z" fill="#555"/>
<ellipse cx="625" cy="510" rx="44" ry="25" fill="#474747"/>
<path d="M730,532C727,529 725,524 724,519C723,515 721,509 723,505C725,500 730,495 735,493C740,492 747,494 752,496C757,498 762,500 765,504C767,508 769,513 768,518C768,522 764,527 761,530C757,533 751,535 746,535C741,535 734,534 730,532Z" fill="#555"/>
<ellipse cx="745" cy="510" rx="20" ry="14" fill="#474747"/>
<path d="M509,591C504,586 501,576 504,570C507,564 519,559 527,556C536,553 547,551 556,552C565,553 574,557 581,561C588,566 598,573 598,579C597,585 587,591 581,596C574,600 567,605 558,606C550,607 539,606 531,604C523,601 513,597 509,591Z" fill="#555"/>
<ellipse cx="550" cy="572" rx="36" ry="20" fill="#474747"/>
<path d="M286,637C278,633 269,624 266,616C264,608 267,598 270,590C273,582 275,571 282,566C288,562 301,563 309,565C318,566 328,569 333,574C339,580 344,590 345,598C345,606 344,617 338,624C333,630 323,633 314,635C305,637 294,640 286,637Z" fill="#555"/>
<ellipse cx="305" cy="590" rx="34" ry="26" fill="#474747"/>
<path d="M1036,510C1046,510 1059,513 1067,517C1075,521 1079,528 1081,534C1083,540 1085,548 1080,553C1075,558 1063,564 1052,565C1042,567 1027,566 1018,564C1008,561 999,556 994,551C990,546 988,539 990,533C992,528 998,522 1005,518C1013,514 1025,510 1036,510Z" fill="#555"/>
<ellipse cx="1035" cy="531" rx="40" ry="18" fill="#474747"/>
<path d="M1078,585C1075,575 1080,561 1088,552C1095,542 1109,532 1123,528C1137,524 1159,525 1172,529C1184,534 1192,547 1199,557C1206,567 1215,579 1213,589C1210,598 1195,608 1183,614C1172,620 1156,624 1143,623C1130,623 1114,619 1103,612C1092,606 1080,595 1078,585Z" fill="#555"/>
<ellipse cx="1145" cy="566" rx="52" ry="31" fill="#474747"/>
<path d="M955,668C941,663 927,655 918,645C909,636 898,619 901,609C905,598 926,591 939,583C952,575 966,564 981,563C996,562 1017,570 1030,578C1043,586 1057,599 1059,611C1062,622 1052,638 1043,648C1034,658 1019,668 1004,671C990,675 969,672 955,668Z" fill="#555"/>
<ellipse cx="980" cy="606" rx="60" ry="36" fill="#474747"/>
<path d="M437,628C453,624 476,627 493,632C511,637 534,646 541,657C548,668 542,686 538,699C533,712 526,728 512,736C498,743 472,745 454,743C437,741 421,732 408,723C395,715 377,703 375,691C373,680 386,665 397,655C407,644 421,631 437,628Z" fill="#555"/>
<ellipse cx="460" cy="670" rx="68" ry="39" fill="#474747"/>
<path d="M801,688C808,684 821,682 830,683C839,684 850,688 856,693C863,698 869,707 869,713C868,720 858,725 853,731C847,736 843,745 835,747C827,749 813,747 806,743C799,740 795,731 792,725C790,719 790,714 792,707C793,701 795,692 801,688Z" fill="#555"/>
<ellipse cx="825" cy="708" rx="32" ry="20" fill="#474747"/>
<path d="M153,733C171,739 186,757 196,772C205,786 213,805 211,822C208,839 196,860 179,872C162,883 131,893 110,892C89,890 67,874 51,861C34,848 14,832 10,816C7,799 17,775 30,761C42,747 66,738 87,733C107,728 134,726 153,733Z" fill="#555"/>
<ellipse cx="115" cy="785" rx="80" ry="52" fill="#474747"/>
<path d="M326,762C330,766 331,772 330,777C330,781 325,786 322,790C318,793 312,798 307,798C303,798 296,794 292,791C288,788 285,784 284,780C283,776 282,770 284,766C285,762 290,757 294,755C299,753 306,752 312,753C317,754 323,758 326,762Z" fill="#555"/>
<ellipse cx="305" cy="770" rx="20" ry="14" fill="#474747"/>
<path d="M641,824C641,832 634,842 625,848C617,853 603,856 591,858C579,859 564,860 553,856C543,853 533,846 527,838C521,831 514,820 518,812C522,805 537,798 549,793C561,789 576,783 589,784C602,785 618,792 627,799C635,805 642,816 641,824Z" fill="#555"/>
<ellipse cx="580" cy="816" rx="48" ry="25" fill="#474747"/>
<path d="M835,850C830,856 823,861 813,864C804,867 789,868 777,867C765,866 751,862 744,857C736,853 728,844 730,838C731,832 745,827 754,822C762,818 772,811 783,810C795,808 813,811 824,814C834,818 845,826 847,832C849,837 841,845 835,850Z" fill="#555"/>
<ellipse cx="790" cy="833" rx="44" ry="18" fill="#474747"/>
<path d="M1095,797C1100,789 1112,780 1122,778C1131,776 1144,782 1152,787C1161,793 1171,802 1174,812C1177,822 1176,837 1172,847C1169,857 1160,866 1152,872C1143,878 1132,884 1121,883C1111,882 1096,875 1090,866C1085,858 1085,842 1086,830C1087,818 1089,806 1095,797Z" fill="#555"/>
<ellipse cx="1130" cy="816" rx="40" ry="36" fill="#474747"/>
<path d="M1193,781C1196,778 1202,777 1206,777C1210,777 1216,778 1219,781C1222,784 1224,791 1225,797C1225,802 1226,810 1223,815C1221,819 1215,823 1211,825C1207,826 1202,824 1198,822C1194,820 1188,816 1187,812C1185,807 1187,800 1188,795C1189,790 1191,784 1193,781Z" fill="#555"/>
<ellipse cx="1205" cy="794" rx="16" ry="16" fill="#474747"/>
<path d="M221,335C219,339 212,342 206,344C201,347 194,348 189,348C183,348 177,345 172,343C167,340 160,337 158,333C157,329 159,322 163,318C166,315 175,314 182,313C189,311 196,310 202,311C208,312 215,316 218,320C221,324 222,331 221,335Z" fill="#555"/>
<ellipse cx="190" cy="325" rx="24" ry="13" fill="#474747"/>
<path d="M500,282C495,282 490,280 486,278C481,276 475,272 474,269C473,265 475,259 478,256C480,253 487,251 492,249C497,248 503,246 508,247C513,248 519,252 521,256C524,259 526,264 525,268C524,272 521,277 517,279C513,281 506,282 500,282Z" fill="#555"/>
<ellipse cx="500" cy="260" rx="20" ry="12" fill="#474747"/>
<path d="M24,593C29,592 34,589 38,590C42,591 47,595 49,600C51,604 52,610 51,614C49,618 45,621 41,624C37,627 33,631 29,631C26,631 21,627 18,624C15,621 12,617 11,613C11,609 11,603 13,600C15,596 20,595 24,593Z" fill="#555"/>
<ellipse cx="30" cy="605" rx="16" ry="13" fill="#474747"/>
</g></g>
<filter id="hb" x="-0.2" y="-0.2" width="1.4" height="1.4"><feGaussianBlur stdDeviation="1.6"/></filter>
<g transform="translate(305,1138) scale(0.24637)" filter="url(#hb)" opacity="0.45">
<path d="M75,106C61,98 49,82 48,71C46,59 55,46 63,35C72,24 83,9 99,4C115,-1 142,1 159,6C176,10 195,21 203,31C210,42 207,57 203,68C199,79 191,90 179,98C167,106 149,115 132,116C114,118 89,113 75,106Z" transform="translate(0,7)" fill="none" stroke="#e8e8e8" stroke-width="9"/>
<path d="M161,78C180,81 199,91 211,102C222,113 231,129 231,142C232,155 224,171 213,182C203,193 186,205 169,208C152,211 129,208 113,202C96,196 75,184 69,172C63,159 71,142 76,128C82,113 86,94 100,85C114,77 143,75 161,78Z" transform="translate(0,7)" fill="none" stroke="#e8e8e8" stroke-width="9"/>
<path d="M260,72C266,60 283,50 297,44C311,38 331,32 345,35C359,39 373,54 380,66C387,78 387,92 386,105C385,118 383,133 373,143C364,153 347,163 332,165C317,167 296,162 283,154C271,146 261,130 257,116C253,103 253,84 260,72Z" transform="translate(0,7)" fill="none" stroke="#e8e8e8" stroke-width="9"/>
<path d="M358,63C341,63 322,52 309,46C297,41 288,35 285,29C282,23 284,16 292,10C299,3 312,-6 329,-9C346,-12 378,-10 395,-6C411,-3 422,6 428,12C433,18 430,24 427,30C424,36 422,42 410,48C399,54 375,64 358,63Z" transform="translate(0,7)" fill="none" stroke="#e8e8e8" stroke-width="9"/>
<path d="M602,34C622,39 644,60 656,78C667,96 676,122 671,141C667,160 645,177 628,191C610,205 586,225 565,224C545,224 520,202 505,188C490,174 481,158 475,140C469,121 461,93 470,78C479,62 509,53 531,46C553,39 581,28 602,34Z" transform="translate(0,7)" fill="none" stroke="#e8e8e8" stroke-width="9"/>
<path d="M673,158C666,143 663,111 666,93C669,74 683,56 693,46C704,37 717,35 728,37C739,38 752,43 760,55C768,66 775,86 777,105C779,123 779,150 773,165C767,180 751,191 740,195C729,198 718,191 707,185C696,179 680,173 673,158Z" transform="translate(0,7)" fill="none" stroke="#e8e8e8" stroke-width="9"/>
<path d="M904,106C903,125 898,149 889,162C880,174 863,180 851,180C838,181 826,173 815,164C804,155 789,141 785,125C781,109 787,83 792,67C798,50 809,31 819,25C830,18 844,24 857,28C870,31 889,33 896,46C904,59 905,86 904,106Z" transform="translate(0,7)" fill="none" stroke="#e8e8e8" stroke-width="9"/>
<path d="M1111,90C1098,82 1091,70 1088,59C1084,48 1084,35 1091,25C1098,14 1113,1 1129,-3C1145,-8 1171,-7 1186,-2C1202,2 1214,14 1223,24C1233,34 1243,47 1242,59C1241,70 1231,86 1217,94C1204,102 1179,109 1161,108C1143,108 1123,98 1111,90Z" transform="translate(0,7)" fill="none" stroke="#e8e8e8" stroke-width="9"/>
<path d="M286,333C271,339 249,341 233,339C216,337 196,331 184,322C173,313 161,298 162,286C162,274 175,261 186,251C197,242 212,231 229,228C247,224 274,225 288,231C302,238 307,255 313,267C319,279 328,293 323,304C319,315 301,327 286,333Z" transform="translate(0,7)" fill="none" stroke="#e8e8e8" stroke-width="9"/>
<path d="M430,318C441,332 454,352 452,368C450,383 431,399 418,410C405,420 388,429 371,431C354,433 330,432 317,423C304,414 296,393 293,378C290,362 290,345 296,331C303,316 314,298 329,290C344,282 370,279 387,283C404,288 420,304 430,318Z" transform="translate(0,7)" fill="none" stroke="#e8e8e8" stroke-width="9"/>
<path d="M497,356C509,359 521,368 529,377C537,387 545,400 545,412C546,424 539,438 532,448C525,458 514,467 503,471C491,475 474,477 463,472C452,466 443,451 439,438C434,426 432,410 436,397C439,385 448,370 458,363C469,356 486,354 497,356Z" transform="translate(0,7)" fill="none" stroke="#e8e8e8" stroke-width="9"/>
<path d="M653,273C669,275 689,283 698,294C708,306 710,326 710,341C711,356 709,373 701,386C693,399 678,415 663,419C648,424 625,422 611,414C598,406 591,387 584,372C578,357 569,339 572,324C576,309 590,290 603,282C616,273 637,271 653,273Z" transform="translate(0,7)" fill="none" stroke="#e8e8e8" stroke-width="9"/>
<path d="M731,361C728,345 727,320 737,306C746,291 770,276 788,274C805,271 826,282 842,290C858,298 877,308 884,322C892,336 890,358 886,375C881,391 871,409 857,420C844,430 819,440 802,438C785,436 768,420 756,407C744,394 735,378 731,361Z" transform="translate(0,7)" fill="none" stroke="#e8e8e8" stroke-width="9"/>
<path d="M1030,395C1007,400 976,386 954,375C932,364 908,348 897,328C887,308 886,277 893,256C900,235 922,216 941,203C961,190 989,175 1012,177C1034,179 1061,199 1075,216C1090,232 1097,256 1100,278C1102,300 1102,327 1091,347C1079,366 1052,391 1030,395Z" transform="translate(0,7)" fill="none" stroke="#e8e8e8" stroke-width="9"/>
<path d="M1181,350C1167,351 1149,348 1138,340C1126,331 1113,314 1110,299C1108,284 1114,265 1120,251C1127,237 1137,221 1149,216C1160,211 1177,216 1190,220C1203,224 1219,229 1227,240C1234,250 1234,270 1233,285C1232,300 1229,319 1220,329C1212,340 1195,348 1181,350Z" transform="translate(0,7)" fill="none" stroke="#e8e8e8" stroke-width="9"/>
<path d="M1125,454C1108,448 1091,434 1083,420C1076,406 1076,387 1080,372C1085,357 1097,340 1111,330C1126,320 1152,310 1169,313C1186,315 1203,333 1214,345C1225,357 1234,371 1236,385C1238,399 1234,416 1225,429C1216,441 1199,455 1182,459C1165,464 1141,461 1125,454Z" transform="translate(0,7)" fill="none" stroke="#e8e8e8" stroke-width="9"/>
<path d="M152,368C174,373 196,388 212,406C228,423 245,450 246,474C247,497 233,528 217,546C202,564 177,578 154,583C132,587 101,587 82,575C63,563 50,536 41,513C31,489 19,457 25,434C31,411 58,387 79,375C100,364 130,362 152,368Z" transform="translate(0,7)" fill="none" stroke="#e8e8e8" stroke-width="9"/>
<path d="M319,537C310,533 304,523 301,516C299,508 300,501 303,494C306,487 312,478 322,474C331,469 349,467 360,468C372,470 384,477 391,483C399,489 405,498 405,505C405,512 398,520 391,527C383,533 372,542 360,543C348,545 329,542 319,537Z" transform="translate(0,7)" fill="none" stroke="#e8e8e8" stroke-width="9"/>
<path d="M634,571C619,572 597,570 584,564C572,558 563,545 559,535C555,524 554,512 559,502C565,492 576,480 590,474C604,467 627,461 643,463C660,465 678,477 687,487C696,497 698,512 696,523C695,534 687,546 677,554C667,562 649,569 634,571Z" transform="translate(0,7)" fill="none" stroke="#e8e8e8" stroke-width="9"/>
<path d="M719,545C712,540 708,531 706,523C704,515 703,505 707,497C710,490 719,480 727,477C736,474 749,476 758,479C767,482 776,489 781,496C785,502 787,512 786,520C785,528 780,537 774,543C767,548 756,552 747,553C738,553 725,551 719,545Z" transform="translate(0,7)" fill="none" stroke="#e8e8e8" stroke-width="9"/>
<path d="M491,596C486,587 483,575 487,566C491,558 503,548 515,542C527,537 546,533 560,535C574,536 588,545 597,552C606,560 616,570 616,579C615,587 605,597 596,604C588,612 577,621 564,623C551,626 532,623 520,618C508,613 497,605 491,596Z" transform="translate(0,7)" fill="none" stroke="#e8e8e8" stroke-width="9"/>
<path d="M277,653C266,648 254,634 249,623C245,611 249,597 253,585C257,573 262,558 272,551C281,545 299,545 312,547C324,548 338,554 347,562C355,571 361,585 362,596C364,608 361,624 353,634C346,643 331,650 318,653C306,656 289,658 277,653Z" transform="translate(0,7)" fill="none" stroke="#e8e8e8" stroke-width="9"/>
<path d="M1035,492C1051,492 1071,500 1082,507C1093,514 1097,523 1099,532C1102,541 1103,550 1097,559C1091,567 1076,578 1061,581C1046,584 1021,583 1007,578C993,574 983,564 977,556C971,548 970,539 972,531C975,523 980,514 991,508C1001,501 1020,492 1035,492Z" transform="translate(0,7)" fill="none" stroke="#e8e8e8" stroke-width="9"/>
<path d="M1060,587C1057,574 1062,557 1071,545C1081,532 1097,517 1116,512C1134,507 1164,507 1180,514C1197,520 1208,537 1216,550C1224,563 1234,579 1230,592C1227,604 1211,618 1196,627C1182,635 1160,642 1142,641C1125,641 1103,633 1090,624C1076,615 1063,601 1060,587Z" transform="translate(0,7)" fill="none" stroke="#e8e8e8" stroke-width="9"/>
<path d="M946,684C928,678 911,665 901,652C890,639 879,620 883,606C887,593 909,581 925,571C942,561 962,546 981,545C1001,544 1028,555 1044,566C1060,577 1075,594 1077,609C1080,624 1070,642 1059,655C1049,668 1030,683 1011,688C993,693 965,690 946,684Z" transform="translate(0,7)" fill="none" stroke="#e8e8e8" stroke-width="9"/>
<path d="M429,611C450,606 481,610 503,617C524,623 549,637 558,651C567,665 561,686 555,702C550,718 542,739 525,749C508,758 474,763 452,761C430,758 409,745 393,734C377,722 359,707 357,693C355,678 368,661 380,647C392,634 409,616 429,611Z" transform="translate(0,7)" fill="none" stroke="#e8e8e8" stroke-width="9"/>
<path d="M789,674C799,668 819,664 833,665C846,667 862,675 871,683C880,691 887,703 887,713C886,722 876,732 868,740C860,749 852,761 839,764C827,767 806,764 795,758C785,753 779,740 775,731C772,722 772,713 774,704C776,694 779,681 789,674Z" transform="translate(0,7)" fill="none" stroke="#e8e8e8" stroke-width="9"/>
<path d="M161,717C183,725 201,746 212,764C224,782 232,805 228,825C225,845 211,870 192,885C172,899 135,912 109,910C83,908 57,888 37,873C18,857 -4,837 -8,817C-12,797 -1,770 14,753C29,736 56,722 81,716C105,710 139,709 161,717Z" transform="translate(0,7)" fill="none" stroke="#e8e8e8" stroke-width="9"/>
<path d="M342,752C347,759 349,770 348,778C347,787 341,796 335,802C328,808 318,815 309,816C300,817 288,810 281,805C274,800 269,792 267,784C264,777 264,767 267,760C270,753 277,743 285,739C293,735 307,734 316,736C326,738 336,745 342,752Z" transform="translate(0,7)" fill="none" stroke="#e8e8e8" stroke-width="9"/>
<path d="M659,824C659,835 652,847 641,856C631,865 613,873 596,875C580,877 556,876 542,870C528,865 517,853 510,843C503,833 496,819 500,809C505,798 521,788 536,781C552,774 576,765 593,767C611,768 631,781 642,790C653,800 660,813 659,824Z" transform="translate(0,7)" fill="none" stroke="#e8e8e8" stroke-width="9"/>
<path d="M853,854C846,862 840,872 826,877C812,882 786,886 770,883C753,881 736,872 727,864C717,856 710,846 712,838C713,829 726,822 737,815C749,807 763,794 780,792C797,790 824,798 838,804C852,810 862,821 864,829C867,838 859,846 853,854Z" transform="translate(0,7)" fill="none" stroke="#e8e8e8" stroke-width="9"/>
<path d="M1081,785C1090,773 1106,763 1119,760C1132,758 1149,764 1161,771C1173,779 1186,792 1191,806C1195,819 1194,840 1189,853C1184,867 1172,880 1160,887C1149,895 1133,902 1119,901C1105,899 1086,891 1077,879C1069,867 1067,846 1068,830C1069,814 1073,796 1081,785Z" transform="translate(0,7)" fill="none" stroke="#e8e8e8" stroke-width="9"/>
<path d="M1184,766C1190,761 1199,758 1206,759C1214,759 1223,760 1229,766C1235,772 1241,784 1242,794C1244,804 1242,818 1237,826C1233,834 1223,840 1215,842C1208,844 1199,842 1191,839C1184,835 1175,829 1171,821C1168,813 1169,799 1171,790C1173,781 1178,771 1184,766Z" transform="translate(0,7)" fill="none" stroke="#e8e8e8" stroke-width="9"/>
<path d="M238,338C236,345 228,352 220,357C211,361 198,367 187,366C177,366 166,359 158,353C150,348 143,342 141,335C139,328 140,318 146,311C151,305 163,299 174,297C185,294 202,293 212,296C222,299 231,308 235,315C240,322 241,331 238,338Z" transform="translate(0,7)" fill="none" stroke="#e8e8e8" stroke-width="9"/>
<path d="M501,300C491,300 480,295 472,290C465,285 458,278 456,271C454,264 456,256 461,249C465,243 474,237 483,233C492,230 507,229 516,231C525,234 534,242 538,249C542,255 544,263 543,270C541,277 538,286 531,291C524,296 510,300 501,300Z" transform="translate(0,7)" fill="none" stroke="#e8e8e8" stroke-width="9"/>
<path d="M18,577C26,574 36,570 44,573C52,575 61,583 65,591C69,598 71,610 68,618C66,626 58,633 52,638C45,643 36,649 29,649C21,649 12,643 6,637C0,631 -5,623 -6,616C-8,608 -7,597 -3,591C1,584 10,580 18,577Z" transform="translate(0,7)" fill="none" stroke="#e8e8e8" stroke-width="9"/>
</g></g>
<rect x="542.7" y="1343.2" width="27.1" height="5.9" fill="#fff"/>
<text x="556.3" y="1335" font-size="18" fill="#fff" text-anchor="middle">2 µm</text>
<filter id="rfi" filterUnits="userSpaceOnUse" x="925.5" y="1129" width="323.5" height="246" color-interpolation-filters="sRGB">
<feGaussianBlur in="SourceGraphic" stdDeviation="0.8" result="h"/>
<feTurbulence type="fractalNoise" baseFrequency="0.45" numOctaves="2" seed="6" result="n"/>
<feComposite in="n" in2="h" operator="arithmetic" k1="0" k2="0.3" k3="1" k4="0" result="hh0"/>
<feOffset in="hh0" dx="0" dy="0" result="hh"/>
<feColorMatrix in="hh" type="matrix" values="0 0 0 0 0  0 0 0 0 0  0 0 0 0 0  0.33 0.33 0.33 0 0" result="ha"/>
<feDiffuseLighting in="ha" surfaceScale="2.5" diffuseConstant="1.15" lighting-color="#fff" result="lit"><feDistantLight azimuth="235" elevation="55"/></feDiffuseLighting>
<feComposite in="lit" in2="SourceGraphic" operator="arithmetic" k1="1.0" k2="0" k3="0" k4="0"/>
</filter>
<clipPath id="crfi"><rect x="937.5" y="1141" width="299.5" height="222"/></clipPath><g clip-path="url(#crfi)"><g filter="url(#rfi)"><rect x="922.5" y="1126" width="329.5" height="252" fill="#7e7e7e"/>
<g stroke-linejoin="round"><path d="M1057,1206L1056,1207L1048,1209L1046,1206L1048,1201L1055,1200Z" fill="#484848"/><path d="M1138,1276L1137,1269L1139,1267L1147,1268L1148,1269L1145,1275L1139,1276Z" fill="#404040"/><path d="M1135,1183L1138,1182L1145,1184L1146,1189L1138,1193L1137,1193L1134,1184Z" fill="#444"/><path d="M1085,1368L1086,1362L1080,1360L1078,1361L1078,1361L1080,1367Z" fill="#444"/><path d="M1045,1281L1040,1276L1036,1280L1036,1286L1041,1286Z" fill="#404040"/><path d="M1223,1291L1218,1294L1218,1294L1216,1289L1217,1288L1221,1287Z" fill="#404040"/><path d="M1203,1196L1199,1193L1193,1194L1192,1196L1196,1203L1203,1196Z" fill="#4c4c4c"/><path d="M1077,1139L1077,1144L1083,1146L1084,1145L1084,1138L1084,1138Z" fill="#404040"/><path d="M1201,1361L1197,1359L1197,1354L1200,1350L1205,1355L1204,1360Z" fill="#484848"/><path d="M1086,1304L1085,1300L1086,1299L1091,1298L1095,1302L1090,1306Z" fill="#3a3a3a"/><path d="M1207,1352L1211,1351L1212,1349L1209,1344L1205,1345L1204,1345L1203,1349Z" fill="#4c4c4c"/><path d="M945,1236L948,1240L942,1245L940,1244L940,1238Z" fill="#444"/><path d="M1113,1160L1118,1161L1121,1160L1122,1154L1121,1152L1116,1150L1113,1151L1112,1156Z" fill="#404040"/><path d="M947,1298L949,1297L954,1299L955,1301L951,1306L946,1305Z" fill="#484848"/><path d="M1124,1297L1121,1302L1118,1301L1116,1299L1117,1293L1122,1291Z" fill="#3a3a3a"/><path d="M1203,1338L1208,1337L1208,1337L1208,1328L1202,1328L1200,1330Z" fill="#4c4c4c"/><path d="M1168,1255L1165,1259L1163,1259L1159,1255L1162,1251L1166,1251Z" fill="#484848"/><path d="M1134,1359L1128,1359L1127,1361L1130,1364L1134,1363L1134,1359Z" fill="#444"/><path d="M1135,1276L1134,1269L1125,1269L1123,1276L1126,1279Z" fill="#3a3a3a"/><path d="M1002,1319L1000,1320L997,1328L1003,1332L1007,1325L1007,1323Z" fill="#484848"/><path d="M1071,1320L1069,1319L1063,1323L1066,1328L1070,1328L1071,1327Z" fill="#4c4c4c"/><path d="M1185,1148L1178,1140L1178,1139L1184,1135L1190,1139L1186,1147Z" fill="#484848"/><path d="M1108,1169L1108,1171L1112,1174L1117,1173L1117,1166L1112,1165Z" fill="#505050"/><path d="M1116,1328L1110,1330L1105,1325L1105,1325L1112,1321Z" fill="#3a3a3a"/><path d="M1046,1348L1049,1345L1047,1341L1043,1341L1043,1346Z" fill="#505050"/><path d="M1023,1368L1019,1384L1016,1369L1016,1368L1021,1367Z" fill="#505050"/><path d="M1223,1183L1225,1190L1233,1188L1234,1186L1234,1183L1226,1182Z" fill="#4c4c4c"/><path d="M995,1199L999,1195L1000,1195L1002,1201L999,1202L995,1200Z" fill="#4c4c4c"/><path d="M1065,1135L1061,1136L1057,1132L1059,1122L1065,1135Z" fill="#484848"/><path d="M920,1184L927,1181L936,1180L937,1186L931,1187Z" fill="#404040"/><path d="M1143,1243L1138,1246L1135,1242L1136,1239L1142,1240Z" fill="#484848"/><path d="M973,1252L973,1255L982,1260L984,1257L979,1249L978,1248Z" fill="#3a3a3a"/><path d="M1189,1192L1187,1187L1187,1187L1181,1190L1184,1195L1188,1194Z" fill="#4c4c4c"/><path d="M1131,1369L1135,1375L1137,1369L1135,1366L1131,1368Z" fill="#404040"/><path d="M1149,1174L1147,1172L1146,1171L1142,1172L1141,1177L1146,1179L1148,1177Z" fill="#444"/><path d="M1158,1280L1162,1283L1164,1283L1165,1276L1160,1273L1159,1273Z" fill="#484848"/><path d="M1106,1173L1102,1179L1107,1184L1109,1183L1110,1176Z" fill="#505050"/><path d="M1181,1328L1183,1326L1185,1327L1187,1330L1185,1333L1181,1332Z" fill="#404040"/><path d="M1132,1319L1137,1315L1135,1312L1131,1311L1128,1312L1127,1315L1128,1317Z" fill="#505050"/><path d="M1235,1307L1236,1310L1235,1312L1227,1312L1225,1307L1230,1304Z" fill="#404040"/><path d="M1188,1298L1185,1295L1187,1291L1191,1289L1192,1290L1194,1293L1192,1298Z" fill="#444"/><path d="M1106,1235L1113,1240L1112,1246L1106,1247L1103,1244Z" fill="#444"/><path d="M971,1159L973,1156L980,1158L981,1162L978,1165L973,1166Z" fill="#404040"/><path d="M978,1186L983,1187L986,1184L986,1182L982,1180L977,1183Z" fill="#505050"/><path d="M1155,1235L1156,1238L1156,1239L1149,1244L1147,1242L1146,1238L1147,1236Z" fill="#505050"/><path d="M1167,1342L1163,1338L1159,1340L1159,1346L1164,1348L1166,1347Z" fill="#404040"/><path d="M1223,1170L1217,1172L1218,1178L1221,1179L1223,1178L1225,1173Z" fill="#484848"/><path d="M943,1364L936,1367L934,1366L935,1359L940,1359L943,1362Z" fill="#484848"/><path d="M965,1310L958,1315L958,1315L959,1317L965,1319L968,1319L969,1313L969,1312Z" fill="#484848"/><path d="M1137,1299L1140,1302L1144,1302L1144,1300L1142,1297L1138,1298Z" fill="#484848"/><path d="M966,1190L966,1182L962,1183L957,1189L957,1190L965,1190Z" fill="#505050"/><path d="M1002,1237L995,1236L996,1231L1002,1229L1004,1236Z" fill="#444"/><path d="M1001,1207L1000,1212L1006,1213L1008,1209L1007,1205L1004,1205Z" fill="#3a3a3a"/><path d="M1176,1233L1180,1240L1184,1237L1182,1232L1177,1232Z" fill="#404040"/><path d="M1141,1224L1140,1221L1137,1221L1135,1223L1136,1227L1140,1225Z" fill="#505050"/><path d="M933,1302L932,1301L922,1309L932,1311L936,1307Z" fill="#4c4c4c"/><path d="M1210,1306L1209,1304L1210,1302L1216,1300L1216,1300L1219,1305L1215,1307Z" fill="#484848"/><path d="M1021,1241L1015,1239L1014,1238L1018,1233L1022,1233L1024,1235L1024,1238Z" fill="#404040"/><path d="M949,1149L945,1145L948,1142L949,1141L954,1144L949,1149Z" fill="#484848"/><path d="M971,1236L975,1233L980,1236L977,1242Z" fill="#505050"/><path d="M1153,1202L1159,1202L1159,1200L1157,1193L1151,1193L1151,1200Z" fill="#3a3a3a"/><path d="M981,1168L984,1164L990,1165L994,1173L993,1174L989,1178L984,1175Z" fill="#444"/><path d="M1162,1173L1154,1175L1153,1178L1158,1181L1164,1177Z" fill="#505050"/><path d="M1208,1146L1210,1145L1213,1146L1214,1149L1212,1152L1208,1150Z" fill="#484848"/><path d="M956,1156L958,1156L958,1156L960,1149L958,1146L957,1146L952,1152Z" fill="#404040"/><path d="M1041,1360L1042,1367L1038,1369L1033,1365L1037,1360Z" fill="#404040"/><path d="M1052,1305L1050,1305L1047,1299L1049,1297L1051,1297L1055,1300Z" fill="#484848"/><path d="M1212,1318L1208,1314L1209,1309L1214,1311L1215,1316Z" fill="#3a3a3a"/><path d="M1134,1355L1128,1354L1127,1353L1129,1347L1130,1346L1135,1348Z" fill="#444"/><path d="M1053,1330L1053,1332L1059,1333L1061,1330L1059,1325L1057,1324L1056,1324Z" fill="#505050"/><path d="M953,1214L954,1211L946,1206L944,1212L949,1216Z" fill="#505050"/><path d="M969,1238L975,1244L975,1245L971,1248L965,1245L966,1240L968,1238Z" fill="#484848"/><path d="M1226,1247L1226,1245L1226,1245L1232,1243L1234,1244L1233,1249L1227,1248Z" fill="#3a3a3a"/><path d="M1051,1216L1057,1217L1057,1216L1056,1211L1051,1212L1051,1216Z" fill="#4c4c4c"/><path d="M1227,1193L1233,1192L1235,1198L1229,1199L1226,1194Z" fill="#484848"/><path d="M1230,1222L1235,1225L1231,1229L1228,1228L1227,1224Z" fill="#3a3a3a"/><path d="M1059,1193L1056,1189L1059,1185L1062,1184L1065,1190L1065,1192Z" fill="#404040"/><path d="M1145,1343L1147,1339L1153,1339L1155,1340L1155,1346L1152,1348Z" fill="#4c4c4c"/><path d="M1138,1205L1137,1205L1133,1203L1133,1200L1136,1198L1137,1198L1140,1203Z" fill="#484848"/><path d="M1190,1241L1188,1241L1184,1244L1183,1245L1185,1248L1190,1250L1193,1244Z" fill="#404040"/><path d="M991,1289L991,1288L997,1289L998,1294L993,1297L992,1297Z" fill="#484848"/><path d="M1076,1136L1084,1135L1080,1116L1074,1134Z" fill="#404040"/><path d="M1053,1288L1050,1293L1048,1293L1045,1288L1048,1284L1051,1285Z" fill="#3a3a3a"/><path d="M1238,1198L1236,1190L1238,1188L1242,1189L1245,1196L1239,1199Z" fill="#3a3a3a"/><path d="M1024,1167L1024,1168L1020,1171L1015,1168L1016,1162L1019,1162Z" fill="#3a3a3a"/><path d="M1059,1154L1051,1150L1049,1151L1047,1156L1048,1156L1055,1160Z" fill="#4c4c4c"/><path d="M1059,1270L1057,1267L1059,1262L1064,1261L1065,1266Z" fill="#3a3a3a"/><path d="M1088,1243L1082,1245L1079,1241L1081,1238L1085,1238L1087,1239Z" fill="#484848"/><path d="M1085,1320L1090,1318L1092,1319L1091,1324L1086,1326L1086,1326Z" fill="#484848"/><path d="M1147,1136L1150,1140L1154,1139L1155,1138L1155,1138L1151,1124Z" fill="#484848"/><path d="M967,1215L966,1219L962,1221L961,1221L957,1216L958,1213L962,1211L967,1215Z" fill="#484848"/><path d="M1204,1365L1204,1367L1206,1369L1210,1368L1209,1365L1206,1364Z" fill="#444"/><path d="M1186,1307L1188,1304L1192,1303L1195,1306L1193,1313L1186,1308Z" fill="#505050"/><path d="M1176,1266L1179,1261L1184,1264L1183,1270L1180,1271L1176,1269Z" fill="#444"/><path d="M1197,1365L1198,1367L1194,1370L1190,1368L1191,1365L1194,1363Z" fill="#404040"/><path d="M1088,1222L1093,1220L1094,1218L1092,1214L1087,1213L1087,1221Z" fill="#505050"/><path d="M1112,1344L1115,1344L1114,1352L1113,1353L1112,1354L1106,1350Z" fill="#505050"/><path d="M1167,1194L1167,1195L1162,1198L1160,1192L1161,1191L1165,1191Z" fill="#484848"/><path d="M1194,1160L1192,1159L1188,1152L1188,1152L1189,1151L1196,1151L1198,1155L1198,1157Z" fill="#4c4c4c"/><path d="M1180,1162L1181,1155L1185,1153L1190,1161L1184,1165Z" fill="#444"/><path d="M1094,1155L1093,1151L1087,1150L1086,1150L1085,1156L1090,1159L1093,1156Z" fill="#444"/><path d="M1101,1273L1104,1277L1110,1276L1110,1276L1109,1271L1105,1268Z" fill="#3a3a3a"/><path d="M1032,1330L1036,1335L1038,1335L1041,1329L1034,1326L1032,1328Z" fill="#444"/><path d="M1101,1351L1098,1358L1092,1357L1092,1349L1092,1349L1100,1350Z" fill="#484848"/><path d="M1074,1294L1075,1292L1080,1290L1082,1296L1081,1297L1076,1297Z" fill="#404040"/><path d="M963,1146L970,1147L973,1142L971,1138L963,1138L961,1143Z" fill="#484848"/><path d="M1146,1359L1149,1365L1150,1365L1151,1365L1155,1360L1151,1354Z" fill="#3a3a3a"/><path d="M1216,1205L1221,1209L1224,1208L1226,1202L1222,1196L1220,1197Z" fill="#484848"/><path d="M1185,1276L1188,1278L1189,1283L1185,1285L1182,1281L1183,1277Z" fill="#3a3a3a"/><path d="M986,1212L985,1216L987,1221L987,1221L989,1221L994,1217L995,1214L988,1211Z" fill="#484848"/><path d="M1181,1305L1171,1303L1171,1303L1173,1297L1181,1297L1183,1301Z" fill="#404040"/><path d="M1175,1323L1172,1320L1173,1318L1178,1318L1180,1322L1177,1324Z" fill="#444"/><path d="M1091,1335L1089,1333L1088,1330L1092,1328L1096,1330L1096,1333Z" fill="#4c4c4c"/><path d="M1132,1223L1127,1221L1123,1227L1123,1228L1132,1229L1132,1228Z" fill="#444"/><path d="M1100,1167L1094,1169L1092,1167L1093,1164L1096,1161Z" fill="#484848"/><path d="M1203,1220L1199,1219L1195,1222L1198,1224L1202,1225L1203,1224Z" fill="#404040"/><path d="M1072,1197L1074,1197L1077,1196L1077,1192L1075,1190L1071,1192L1070,1194Z" fill="#3a3a3a"/><path d="M1235,1139L1231,1141L1227,1136L1234,1125L1235,1138Z" fill="#4c4c4c"/><path d="M1031,1172L1028,1169L1028,1167L1032,1164L1036,1168L1036,1169Z" fill="#3a3a3a"/><path d="M1049,1146L1050,1143L1049,1139L1044,1138L1042,1141L1047,1146Z" fill="#4c4c4c"/><path d="M1231,1210L1237,1209L1237,1203L1235,1202L1230,1203L1228,1208Z" fill="#4c4c4c"/><path d="M1104,1353L1101,1359L1104,1363L1105,1363L1109,1357L1104,1353Z" fill="#505050"/><path d="M1213,1204L1218,1196L1211,1194L1207,1197L1207,1197L1212,1204Z" fill="#505050"/><path d="M1231,1339L1228,1341L1227,1344L1233,1346L1233,1346L1234,1341Z" fill="#505050"/><path d="M1068,1366L1063,1364L1062,1360L1063,1358L1070,1357L1073,1359L1073,1359Z" fill="#3a3a3a"/><path d="M1087,1277L1091,1277L1092,1284L1092,1284L1085,1284L1084,1280Z" fill="#444"/><path d="M933,1148L921,1144L931,1140L936,1145Z" fill="#4c4c4c"/><path d="M1226,1269L1221,1265L1220,1266L1220,1271L1223,1272Z" fill="#444"/><path d="M980,1154L975,1152L974,1149L977,1146L980,1147L982,1148L982,1151Z" fill="#4c4c4c"/><path d="M1197,1239L1197,1239L1194,1237L1197,1230L1201,1231L1201,1236Z" fill="#484848"/><path d="M1044,1216L1044,1212L1042,1209L1037,1210L1034,1215L1038,1218Z" fill="#3a3a3a"/><path d="M1154,1353L1158,1359L1163,1359L1163,1351L1158,1350L1154,1352Z" fill="#404040"/><path d="M1166,1301L1162,1301L1161,1301L1158,1296L1163,1289L1165,1289L1166,1290L1168,1295Z" fill="#4c4c4c"/><path d="M1102,1236L1100,1242L1095,1241L1095,1241L1094,1238L1100,1234L1102,1235Z" fill="#404040"/><path d="M936,1262L938,1265L939,1266L939,1267L934,1271L926,1268L933,1262Z" fill="#4c4c4c"/><path d="M1007,1159L1010,1159L1012,1162L1010,1166L1008,1168L1004,1167L1004,1161Z" fill="#444"/><path d="M947,1321L948,1325L952,1327L953,1326L955,1320L954,1317L947,1320Z" fill="#4c4c4c"/><path d="M1001,1314L998,1307L996,1307L990,1313L998,1316L1001,1315Z" fill="#505050"/><path d="M938,1212L934,1211L934,1206L936,1204L941,1203L942,1204L942,1205L940,1211Z" fill="#444"/><path d="M1210,1321L1205,1317L1201,1319L1202,1325L1209,1325L1210,1324Z" fill="#444"/><path d="M1096,1137L1089,1138L1089,1144L1095,1146L1096,1144Z" fill="#444"/><path d="M1067,1206L1069,1210L1074,1210L1075,1209L1072,1202L1070,1202Z" fill="#505050"/><path d="M1207,1229L1205,1230L1205,1236L1210,1238L1210,1238L1212,1232L1212,1232Z" fill="#484848"/><path d="M962,1260L968,1260L968,1266L965,1268L960,1262L960,1261Z" fill="#404040"/><path d="M1143,1214L1139,1210L1138,1210L1136,1214L1137,1218L1141,1218Z" fill="#444"/><path d="M981,1233L983,1233L985,1224L984,1224L976,1226L976,1231Z" fill="#404040"/><path d="M1138,1359L1138,1364L1140,1367L1146,1366L1144,1360Z" fill="#505050"/><path d="M1159,1228L1166,1225L1163,1216L1157,1220L1155,1223Z" fill="#444"/><path d="M1117,1241L1116,1246L1118,1248L1123,1248L1126,1243L1120,1239Z" fill="#444"/><path d="M1012,1138L1007,1128L1004,1138L1007,1141L1012,1140Z" fill="#444"/><path d="M1208,1191L1209,1185L1205,1184L1203,1185L1202,1190L1205,1193Z" fill="#3a3a3a"/><path d="M1006,1355L1005,1353L1008,1349L1014,1349L1014,1350L1010,1357Z" fill="#484848"/><path d="M986,1276L988,1273L988,1272L983,1267L979,1271L980,1276Z" fill="#444"/><path d="M1143,1324L1141,1327L1136,1326L1135,1322L1139,1318L1141,1318Z" fill="#444"/><path d="M1066,1155L1072,1153L1077,1159L1074,1164L1068,1162Z" fill="#4c4c4c"/><path d="M1174,1174L1171,1178L1172,1180L1175,1181L1179,1177L1179,1176Z" fill="#484848"/><path d="M1131,1207L1135,1209L1133,1212L1128,1212L1127,1211L1127,1210Z" fill="#505050"/><path d="M1095,1270L1095,1265L1098,1264L1101,1265L1101,1266L1098,1270Z" fill="#3a3a3a"/><path d="M1243,1251L1245,1248L1242,1243L1239,1244L1238,1250L1238,1250Z" fill="#404040"/><path d="M1157,1243L1159,1248L1156,1252L1153,1252L1152,1246Z" fill="#3a3a3a"/><path d="M1011,1269L1011,1270L1014,1274L1021,1272L1018,1264L1016,1264Z" fill="#505050"/><path d="M975,1202L975,1202L975,1203L970,1211L964,1207L964,1204L967,1201Z" fill="#404040"/><path d="M1125,1198L1129,1199L1130,1204L1124,1209L1121,1204Z" fill="#404040"/><path d="M1080,1248L1075,1242L1070,1243L1069,1250L1070,1253L1076,1254L1079,1251Z" fill="#505050"/><path d="M1108,1252L1110,1257L1114,1257L1115,1252L1113,1250L1108,1251Z" fill="#484848"/><path d="M1080,1321L1081,1326L1075,1326L1075,1320L1079,1320Z" fill="#404040"/><path d="M1026,1255L1023,1260L1031,1263L1031,1263L1032,1261L1030,1255L1030,1254Z" fill="#404040"/><path d="M1011,1307L1011,1305L1005,1303L1001,1306L1003,1313Z" fill="#484848"/><path d="M942,1163L938,1167L941,1173L943,1173L948,1168L947,1166Z" fill="#404040"/><path d="M1020,1252L1014,1253L1014,1253L1014,1254L1017,1258L1018,1258L1019,1258L1021,1253Z" fill="#4c4c4c"/><path d="M944,1340L942,1344L936,1344L935,1341L938,1335L940,1336Z" fill="#444"/><path d="M1041,1179L1044,1181L1044,1185L1039,1187L1036,1185L1037,1181Z" fill="#444"/><path d="M1146,1327L1144,1330L1146,1335L1153,1335L1154,1328L1152,1326Z" fill="#444"/><path d="M1107,1138L1101,1133L1099,1136L1100,1145L1106,1144Z" fill="#404040"/><path d="M938,1249L938,1250L936,1256L934,1256L927,1249L937,1248Z" fill="#404040"/><path d="M1027,1188L1027,1192L1021,1195L1021,1194L1021,1188L1025,1186Z" fill="#484848"/><path d="M1105,1264L1109,1260L1115,1260L1116,1263L1111,1268L1106,1265Z" fill="#505050"/><path d="M1126,1160L1130,1162L1132,1161L1133,1159L1132,1155L1127,1155Z" fill="#404040"/><path d="M1191,1263L1188,1265L1187,1270L1191,1272L1194,1270L1195,1269Z" fill="#404040"/><path d="M1097,1182L1097,1187L1101,1189L1103,1188L1104,1186L1100,1182Z" fill="#404040"/><path d="M951,1166L952,1167L956,1170L960,1168L958,1161L956,1161Z" fill="#3a3a3a"/><path d="M1003,1224L998,1219L999,1216L999,1215L1005,1217L1008,1222Z" fill="#3a3a3a"/><path d="M1076,1178L1074,1175L1076,1169L1080,1172L1081,1176Z" fill="#404040"/><path d="M957,1141L951,1137L956,1124L960,1136L957,1141Z" fill="#404040"/><path d="M1043,1154L1045,1150L1038,1144L1035,1145L1037,1153Z" fill="#404040"/><path d="M1189,1254L1183,1252L1179,1257L1180,1259L1186,1262L1190,1259L1191,1257Z" fill="#3a3a3a"/><path d="M1017,1307L1017,1305L1020,1302L1022,1302L1026,1306L1025,1309L1018,1308Z" fill="#505050"/><path d="M950,1171L946,1175L950,1179L953,1175L954,1174Z" fill="#444"/><path d="M1022,1228L1023,1220L1021,1219L1015,1223L1018,1228Z" fill="#3a3a3a"/><path d="M1217,1351L1221,1351L1226,1358L1220,1360L1217,1359L1216,1353Z" fill="#484848"/><path d="M1167,1316L1168,1315L1166,1308L1166,1308L1163,1308L1161,1315L1165,1317Z" fill="#4c4c4c"/><path d="M1240,1182L1239,1182L1240,1184L1243,1185L1250,1181L1244,1178Z" fill="#404040"/><path d="M976,1301L972,1306L969,1304L969,1303L971,1298L975,1298Z" fill="#484848"/><path d="M966,1180L967,1178L967,1173L962,1171L958,1174L958,1176L962,1180Z" fill="#4c4c4c"/><path d="M936,1216L936,1223L935,1223L925,1218L932,1215Z" fill="#505050"/><path d="M1178,1191L1179,1191L1182,1197L1179,1202L1178,1202L1172,1196L1172,1195Z" fill="#3a3a3a"/><path d="M981,1345L990,1345L990,1344L987,1337L980,1337Z" fill="#404040"/><path d="M1119,1141L1125,1141L1125,1142L1122,1149L1118,1147Z" fill="#484848"/><path d="M1093,1310L1097,1306L1099,1306L1100,1311L1098,1314L1095,1314L1094,1313Z" fill="#505050"/><path d="M1067,1237L1070,1239L1075,1238L1077,1235L1074,1228L1071,1228L1068,1232Z" fill="#505050"/><path d="M1057,1172L1054,1174L1054,1177L1058,1180L1061,1180L1062,1177L1059,1172Z" fill="#444"/><path d="M1077,1213L1078,1221L1084,1221L1084,1213L1083,1212L1078,1213Z" fill="#4c4c4c"/><path d="M1190,1148L1193,1141L1195,1140L1199,1144L1196,1148Z" fill="#3a3a3a"/><path d="M1171,1224L1175,1218L1173,1214L1167,1214L1166,1216L1169,1223Z" fill="#404040"/><path d="M994,1183L999,1189L1000,1189L1003,1187L1005,1183L997,1179L994,1182Z" fill="#484848"/><path d="M1018,1173L1013,1170L1011,1172L1012,1179L1012,1179L1018,1176Z" fill="#505050"/><path d="M1112,1293L1111,1297L1104,1298L1105,1292L1110,1291Z" fill="#404040"/><path d="M1222,1280L1221,1282L1216,1283L1213,1277L1213,1276L1218,1274L1221,1276Z" fill="#505050"/><path d="M1202,1173L1203,1180L1201,1181L1195,1179L1194,1174L1197,1171Z" fill="#444"/><path d="M1195,1300L1198,1294L1203,1295L1204,1300L1204,1302L1198,1303Z" fill="#4c4c4c"/><path d="M1148,1303L1149,1300L1153,1297L1155,1298L1158,1303L1150,1305Z" fill="#3a3a3a"/><path d="M1174,1274L1169,1276L1168,1283L1169,1284L1176,1281L1177,1276Z" fill="#484848"/><path d="M1045,1252L1046,1249L1050,1248L1052,1251L1052,1255L1047,1257L1046,1256Z" fill="#4c4c4c"/><path d="M1060,1151L1054,1148L1055,1145L1058,1144L1061,1146L1060,1150Z" fill="#404040"/><path d="M1036,1314L1038,1310L1035,1305L1031,1307L1029,1311L1030,1312L1034,1315Z" fill="#444"/><path d="M1161,1170L1161,1169L1157,1163L1152,1169L1154,1172Z" fill="#3a3a3a"/><path d="M952,1339L955,1346L951,1348L946,1346L946,1346L947,1341Z" fill="#3a3a3a"/><path d="M1209,1220L1217,1220L1218,1222L1214,1229L1208,1226L1209,1220Z" fill="#4c4c4c"/><path d="M1128,1257L1123,1263L1125,1267L1134,1267L1135,1265L1134,1258Z" fill="#444"/><path d="M1160,1143L1168,1147L1168,1152L1166,1154L1161,1155L1159,1144Z" fill="#404040"/><path d="M1131,1327L1130,1323L1126,1321L1122,1328L1128,1331Z" fill="#404040"/><path d="M1047,1308L1041,1308L1038,1303L1039,1302L1045,1300L1048,1307Z" fill="#484848"/><path d="M1049,1261L1053,1259L1055,1261L1054,1266L1050,1265Z" fill="#4c4c4c"/><path d="M1081,1254L1088,1256L1088,1260L1082,1264L1081,1263L1078,1256Z" fill="#3a3a3a"/><path d="M1238,1331L1235,1330L1232,1333L1233,1336L1236,1338L1238,1337Z" fill="#444"/><path d="M1241,1331L1240,1338L1243,1339L1251,1336L1243,1331Z" fill="#4c4c4c"/><path d="M948,1364L949,1365L954,1366L956,1365L957,1361L956,1361L952,1359L948,1362Z" fill="#484848"/><path d="M965,1235L962,1226L961,1226L957,1230L957,1235L963,1237Z" fill="#4c4c4c"/><path d="M1133,1297L1133,1296L1132,1291L1126,1288L1124,1290L1127,1296L1132,1297Z" fill="#444"/><path d="M1173,1162L1170,1157L1172,1155L1178,1156L1177,1160Z" fill="#4c4c4c"/><path d="M1233,1283L1231,1289L1229,1290L1227,1289L1225,1285L1226,1283Z" fill="#3a3a3a"/><path d="M1185,1312L1183,1315L1185,1319L1187,1320L1191,1316L1191,1316Z" fill="#3a3a3a"/><path d="M1018,1313L1024,1314L1024,1315L1021,1319L1018,1317Z" fill="#444"/><path d="M1044,1352L1040,1350L1036,1351L1035,1352L1037,1356L1041,1356L1044,1354Z" fill="#404040"/><path d="M1155,1233L1147,1234L1145,1228L1146,1226L1152,1225L1155,1230Z" fill="#505050"/><path d="M1061,1308L1059,1309L1054,1306L1057,1301L1061,1300L1063,1302Z" fill="#4c4c4c"/><path d="M1123,1179L1120,1185L1123,1188L1129,1183L1129,1182L1126,1179Z" fill="#4c4c4c"/><path d="M1030,1206L1024,1205L1023,1209L1024,1212L1027,1213L1029,1212L1031,1207Z" fill="#404040"/><path d="M1205,1288L1203,1291L1199,1290L1197,1287L1202,1284Z" fill="#4c4c4c"/><path d="M941,1143L944,1139L941,1134L934,1135L933,1137L939,1144Z" fill="#444"/><path d="M1008,1253L1002,1257L998,1254L998,1252L1003,1249L1008,1252Z" fill="#484848"/><path d="M1155,1367L1161,1372L1163,1364L1162,1364L1158,1363Z" fill="#444"/><path d="M1000,1283L997,1285L992,1285L991,1280L993,1277L999,1279Z" fill="#3a3a3a"/><path d="M1091,1245L1091,1253L1089,1254L1082,1252L1082,1248L1091,1245Z" fill="#4c4c4c"/><path d="M1033,1251L1034,1251L1041,1251L1042,1247L1038,1244L1034,1246Z" fill="#3a3a3a"/><path d="M1121,1285L1121,1282L1119,1280L1115,1280L1114,1280L1114,1286L1116,1288L1120,1287Z" fill="#505050"/><path d="M1027,1274L1033,1268L1033,1268L1038,1273L1038,1273L1033,1277L1028,1275Z" fill="#3a3a3a"/><path d="M1088,1208L1087,1207L1087,1203L1089,1202L1094,1204L1094,1204L1091,1208Z" fill="#505050"/><path d="M1117,1187L1120,1191L1120,1192L1112,1195L1108,1190L1110,1187L1111,1186Z" fill="#484848"/><path d="M1171,1253L1176,1254L1179,1250L1178,1247L1172,1247L1170,1250Z" fill="#4c4c4c"/><path d="M944,1228L938,1226L937,1227L934,1233L938,1236L944,1233L944,1229Z" fill="#404040"/><path d="M1013,1144L1014,1147L1011,1155L1008,1154L1005,1149L1008,1145Z" fill="#444"/><path d="M1148,1157L1155,1160L1155,1161L1150,1167L1148,1166L1146,1160Z" fill="#444"/><path d="M944,1294L946,1293L946,1289L941,1286L939,1289L941,1293Z" fill="#4c4c4c"/><path d="M955,1295L958,1290L958,1289L954,1288L951,1290L951,1293Z" fill="#404040"/><path d="M992,1251L989,1246L983,1248L987,1255L992,1253Z" fill="#484848"/><path d="M975,1179L980,1176L978,1170L974,1170L971,1172L971,1178Z" fill="#4c4c4c"/><path d="M978,1351L982,1348L989,1348L989,1350L986,1355L985,1355L979,1353Z" fill="#4c4c4c"/><path d="M1017,1200L1017,1201L1018,1203L1017,1207L1013,1206L1011,1204L1014,1200Z" fill="#404040"/><path d="M1067,1368L1063,1367L1062,1370L1064,1373L1067,1370Z" fill="#3a3a3a"/><path d="M973,1281L966,1280L965,1275L966,1272L970,1270L974,1272L976,1278Z" fill="#3a3a3a"/><path d="M1161,1262L1158,1268L1157,1268L1152,1266L1151,1265L1153,1257L1153,1257L1156,1257Z" fill="#4c4c4c"/><path d="M1157,1183L1158,1188L1157,1189L1151,1189L1150,1188L1150,1184L1152,1181Z" fill="#404040"/><path d="M1117,1306L1114,1312L1115,1313L1121,1313L1122,1310L1119,1307Z" fill="#3a3a3a"/><path d="M1047,1317L1046,1311L1041,1312L1039,1315L1044,1318Z" fill="#505050"/><path d="M1142,1139L1146,1143L1143,1147L1138,1146L1137,1145L1140,1139Z" fill="#505050"/><path d="M936,1322L934,1327L937,1331L940,1331L944,1326L943,1322Z" fill="#484848"/><path d="M984,1302L991,1300L992,1301L993,1305L988,1311L988,1311Z" fill="#444"/><path d="M1043,1261L1044,1261L1045,1266L1041,1269L1036,1265L1037,1263Z" fill="#444"/><path d="M1022,1361L1015,1362L1013,1359L1017,1350L1020,1351L1023,1354Z" fill="#4c4c4c"/><path d="M977,1356L985,1359L982,1367L975,1366L974,1361Z" fill="#484848"/><path d="M1059,1277L1056,1282L1058,1284L1061,1285L1065,1282L1065,1281Z" fill="#4c4c4c"/><path d="M1101,1154L1100,1150L1101,1149L1106,1148L1110,1150L1108,1155Z" fill="#444"/><path d="M1131,1244L1129,1245L1127,1250L1129,1253L1134,1254L1135,1253L1135,1249Z" fill="#444"/><path d="M1060,1208L1059,1210L1061,1216L1064,1216L1066,1212L1064,1208Z" fill="#484848"/><path d="M1060,1296L1060,1295L1058,1291L1056,1290L1053,1294L1056,1297Z" fill="#484848"/><path d="M1064,1151L1065,1147L1067,1145L1071,1147L1070,1150L1066,1152Z" fill="#3a3a3a"/><path d="M1137,1159L1142,1158L1144,1155L1143,1151L1137,1150L1135,1153Z" fill="#3a3a3a"/><path d="M1067,1165L1073,1167L1073,1167L1070,1174L1066,1175L1062,1169Z" fill="#404040"/><path d="M1043,1229L1047,1226L1046,1221L1046,1221L1039,1223L1039,1228L1041,1230Z" fill="#484848"/><path d="M1240,1329L1236,1327L1235,1323L1238,1318L1244,1322L1242,1328Z" fill="#484848"/><path d="M1030,1332L1025,1336L1028,1340L1030,1341L1034,1337Z" fill="#444"/><path d="M1047,1357L1052,1361L1050,1368L1045,1366L1044,1360Z" fill="#404040"/><path d="M942,1157L937,1154L937,1152L940,1149L941,1149L945,1152Z" fill="#3a3a3a"/><path d="M1101,1246L1103,1249L1103,1250L1098,1255L1093,1253L1093,1245Z" fill="#3a3a3a"/><path d="M1130,1239L1128,1240L1123,1236L1123,1231L1131,1232L1132,1236Z" fill="#444"/><path d="M1235,1350L1235,1350L1233,1358L1235,1360L1237,1359L1242,1353L1241,1351Z" fill="#484848"/><path d="M951,1191L950,1193L946,1196L946,1196L944,1190L948,1188L951,1191Z" fill="#3a3a3a"/><path d="M1173,1365L1172,1364L1167,1365L1166,1373L1168,1379L1175,1369Z" fill="#404040"/><path d="M1071,1277L1068,1279L1060,1274L1060,1273L1067,1269L1070,1271Z" fill="#3a3a3a"/><path d="M1027,1150L1027,1154L1031,1156L1033,1154L1031,1147L1031,1147Z" fill="#444"/><path d="M1006,1282L1010,1280L1011,1277L1008,1274L1003,1278L1004,1281Z" fill="#3a3a3a"/><path d="M998,1361L995,1361L991,1358L994,1353L999,1355L1000,1358Z" fill="#505050"/><path d="M1208,1162L1211,1158L1211,1156L1207,1154L1203,1156L1203,1158Z" fill="#4c4c4c"/><path d="M969,1234L973,1230L973,1226L969,1222L964,1225L968,1234Z" fill="#505050"/><path d="M1232,1295L1232,1301L1237,1303L1240,1298L1240,1297L1234,1294Z" fill="#444"/><path d="M1064,1240L1066,1242L1065,1249L1056,1248L1054,1245L1055,1241L1056,1241Z" fill="#3a3a3a"/><path d="M1076,1148L1082,1149L1080,1155L1078,1156L1074,1152L1075,1149Z" fill="#3a3a3a"/><path d="M1077,1354L1079,1348L1076,1344L1075,1344L1071,1346L1073,1353L1075,1355Z" fill="#4c4c4c"/><path d="M1109,1319L1104,1322L1102,1318L1105,1314L1109,1315L1110,1317Z" fill="#444"/><path d="M1155,1314L1157,1314L1160,1307L1159,1306L1151,1308L1151,1311Z" fill="#404040"/><path d="M1023,1337L1026,1342L1021,1347L1018,1346L1018,1346L1017,1338L1019,1336Z" fill="#404040"/><path d="M1223,1341L1223,1344L1220,1346L1217,1346L1213,1340L1213,1340L1220,1337Z" fill="#4c4c4c"/><path d="M1178,1352L1181,1354L1181,1358L1175,1360L1174,1360L1175,1353Z" fill="#404040"/><path d="M1154,1279L1155,1273L1151,1272L1149,1276L1151,1280Z" fill="#484848"/><path d="M963,1358L964,1353L970,1352L972,1353L972,1355L970,1359L963,1359Z" fill="#404040"/><path d="M1170,1256L1167,1261L1173,1265L1176,1259L1176,1258Z" fill="#444"/><path d="M1118,1175L1120,1177L1117,1184L1111,1183L1113,1177Z" fill="#4c4c4c"/><path d="M1201,1258L1205,1263L1204,1265L1199,1267L1195,1260L1195,1259Z" fill="#484848"/><path d="M1139,1279L1146,1278L1149,1282L1147,1285L1144,1286L1141,1284Z" fill="#444"/><path d="M1144,1234L1143,1236L1136,1236L1136,1231L1136,1231L1142,1229Z" fill="#404040"/><path d="M936,1354L940,1355L941,1349L941,1349L936,1348L934,1353Z" fill="#404040"/><path d="M1023,1286L1027,1290L1022,1295L1020,1295L1018,1291L1019,1288Z" fill="#404040"/><path d="M1216,1133L1212,1136L1212,1139L1215,1141L1219,1137Z" fill="#4c4c4c"/><path d="M1100,1339L1098,1337L1093,1339L1093,1346L1100,1346Z" fill="#4c4c4c"/><path d="M1029,1326L1023,1322L1023,1321L1027,1316L1032,1318L1032,1323Z" fill="#404040"/><path d="M937,1294L936,1291L933,1291L931,1294L933,1297L934,1297Z" fill="#4c4c4c"/><path d="M1164,1332L1162,1335L1158,1337L1156,1335L1156,1328L1162,1328Z" fill="#404040"/><path d="M1098,1215L1103,1214L1104,1211L1104,1209L1099,1207L1096,1211Z" fill="#484848"/><path d="M1155,1217L1161,1213L1162,1211L1159,1206L1153,1206L1151,1212Z" fill="#484848"/><path d="M1243,1254L1238,1253L1237,1258L1238,1259L1244,1258Z" fill="#484848"/><path d="M945,1269L951,1270L952,1273L950,1275L947,1274L945,1269Z" fill="#404040"/><path d="M1174,1184L1177,1189L1170,1193L1167,1188L1170,1183Z" fill="#4c4c4c"/><path d="M1231,1214L1232,1219L1238,1223L1239,1222L1240,1213L1239,1212Z" fill="#484848"/><path d="M1023,1248L1023,1244L1026,1241L1030,1245L1029,1249L1025,1250Z" fill="#444"/><path d="M1057,1183L1054,1188L1049,1187L1048,1185L1048,1181L1051,1179Z" fill="#4c4c4c"/><path d="M1032,1354L1027,1355L1027,1361L1028,1362L1031,1362L1034,1358Z" fill="#505050"/><path d="M1012,1310L1006,1315L1005,1316L1009,1319L1014,1317L1014,1312Z" fill="#484848"/><path d="M1220,1362L1221,1367L1224,1369L1231,1364L1231,1363L1229,1361L1226,1360Z" fill="#484848"/><path d="M974,1292L975,1291L973,1285L966,1285L964,1287L965,1290L969,1293Z" fill="#3a3a3a"/><path d="M1088,1193L1088,1197L1085,1199L1081,1197L1081,1191L1084,1190Z" fill="#3a3a3a"/><path d="M1197,1274L1192,1276L1194,1284L1194,1284L1201,1281L1201,1280Z" fill="#484848"/><path d="M1108,1233L1115,1238L1118,1235L1119,1230L1119,1230L1114,1228L1111,1228L1108,1232Z" fill="#3a3a3a"/><path d="M943,1368L938,1370L940,1381L944,1369Z" fill="#484848"/><path d="M1044,1236L1049,1240L1048,1242L1045,1243L1042,1240L1042,1236Z" fill="#4c4c4c"/><path d="M968,1192L973,1193L975,1199L968,1199L967,1193Z" fill="#3a3a3a"/><path d="M984,1325L989,1330L987,1333L981,1333L981,1333L982,1326Z" fill="#505050"/><path d="M1045,1232L1052,1238L1053,1237L1053,1230L1049,1228Z" fill="#3a3a3a"/><path d="M1127,1334L1127,1340L1126,1340L1120,1339L1120,1331L1121,1331Z" fill="#4c4c4c"/><path d="M955,1338L963,1338L963,1338L959,1345L957,1345L954,1339Z" fill="#3a3a3a"/><path d="M992,1235L991,1236L986,1233L987,1225L989,1225L993,1230Z" fill="#4c4c4c"/><path d="M982,1141L986,1134L978,1122L975,1136L977,1140Z" fill="#444"/><path d="M1042,1326L1042,1326L1036,1324L1036,1319L1038,1319L1043,1321Z" fill="#3a3a3a"/><path d="M1044,1330L1044,1330L1041,1336L1042,1337L1047,1337L1049,1334L1048,1332Z" fill="#484848"/><path d="M1173,1166L1178,1164L1182,1167L1181,1171L1180,1172L1175,1171L1173,1166Z" fill="#444"/><path d="M1018,1150L1016,1155L1017,1157L1019,1157L1022,1154L1022,1150Z" fill="#404040"/><path d="M998,1149L996,1153L998,1157L1001,1157L1005,1155L1003,1150Z" fill="#3a3a3a"/><path d="M1014,1330L1010,1328L1007,1333L1008,1334L1013,1334L1015,1333Z" fill="#404040"/><path d="M1218,1363L1219,1367L1214,1370L1213,1369L1212,1364L1216,1361Z" fill="#3a3a3a"/><path d="M1089,1369L1090,1361L1091,1360L1097,1361L1100,1366L1090,1371Z" fill="#3a3a3a"/><path d="M961,1160L963,1168L968,1169L971,1167L968,1159L961,1160Z" fill="#444"/><path d="M1051,1316L1051,1311L1051,1310L1053,1310L1056,1312L1055,1317L1055,1317Z" fill="#404040"/><path d="M1075,1259L1076,1264L1072,1267L1069,1265L1068,1260L1070,1258Z" fill="#404040"/><path d="M1091,1177L1086,1178L1084,1176L1084,1171L1088,1170L1091,1172Z" fill="#404040"/><path d="M1029,1174L1025,1170L1020,1173L1020,1176L1025,1180L1028,1176Z" fill="#4c4c4c"/><path d="M1166,1241L1168,1245L1167,1247L1163,1247L1161,1242L1162,1241Z" fill="#404040"/><path d="M1233,1279L1227,1279L1226,1276L1230,1272L1230,1272L1233,1278L1233,1279Z" fill="#505050"/><path d="M1238,1284L1236,1291L1242,1294L1244,1287L1238,1284Z" fill="#444"/><path d="M1003,1128L1002,1125L995,1135L997,1139L1001,1137Z" fill="#4c4c4c"/><path d="M1193,1229L1191,1226L1189,1226L1186,1230L1188,1235L1191,1236Z" fill="#404040"/><path d="M1075,1214L1075,1221L1073,1222L1071,1222L1068,1218L1070,1214Z" fill="#484848"/><path d="M1180,1336L1185,1337L1185,1339L1184,1341L1180,1343L1177,1339L1177,1338Z" fill="#4c4c4c"/><path d="M1030,1178L1027,1181L1027,1183L1030,1186L1034,1184L1034,1181Z" fill="#404040"/><path d="M1212,1290L1215,1296L1209,1298L1207,1294L1209,1291Z" fill="#505050"/><path d="M1083,1316L1089,1314L1089,1310L1084,1307L1082,1309L1081,1315Z" fill="#505050"/><path d="M962,1240L957,1238L954,1241L956,1245L959,1245L961,1244Z" fill="#404040"/><path d="M956,1261L956,1262L952,1267L944,1265L944,1264L951,1259Z" fill="#444"/><path d="M1173,1293L1170,1288L1178,1284L1182,1289L1181,1293Z" fill="#484848"/><path d="M1064,1341L1068,1342L1073,1340L1070,1332L1065,1332L1063,1335Z" fill="#484848"/><path d="M1105,1166L1110,1161L1108,1158L1099,1157L1099,1159L1103,1166Z" fill="#4c4c4c"/><path d="M999,1174L999,1175L1006,1180L1008,1179L1007,1172L1003,1171Z" fill="#404040"/><path d="M1197,1246L1197,1246L1193,1252L1195,1255L1201,1254L1202,1250Z" fill="#4c4c4c"/><path d="M951,1336L951,1330L947,1329L943,1333L947,1337L951,1336Z" fill="#484848"/><path d="M1206,1165L1200,1161L1196,1163L1198,1168L1203,1169L1206,1166Z" fill="#505050"/><path d="M990,1209L995,1212L996,1211L997,1206L992,1204Z" fill="#505050"/><path d="M976,1192L978,1190L983,1190L984,1195L978,1198L978,1198Z" fill="#484848"/><path d="M964,1193L957,1192L956,1196L962,1202L965,1199Z" fill="#3a3a3a"/><path d="M1181,1150L1178,1152L1172,1151L1172,1147L1176,1144L1181,1150Z" fill="#444"/><path d="M964,1249L962,1250L961,1257L968,1257L969,1255L970,1251Z" fill="#484848"/><path d="M1140,1355L1140,1349L1143,1348L1148,1352L1148,1352L1144,1356L1140,1355Z" fill="#3a3a3a"/><path d="M1036,1300L1033,1292L1030,1292L1024,1298L1029,1304L1035,1302Z" fill="#404040"/><path d="M1010,1257L1013,1262L1009,1266L1004,1262L1004,1260Z" fill="#3a3a3a"/><path d="M1185,1364L1182,1361L1177,1363L1179,1367L1183,1368L1185,1367Z" fill="#484848"/><path d="M1121,1172L1123,1174L1126,1174L1128,1167L1123,1165L1121,1166Z" fill="#404040"/><path d="M999,1365L995,1365L993,1369L999,1377L1000,1372Z" fill="#505050"/><path d="M1175,1228L1182,1228L1186,1223L1185,1220L1178,1219L1174,1226Z" fill="#484848"/><path d="M1216,1259L1218,1260L1220,1260L1223,1256L1223,1252L1222,1251L1216,1253Z" fill="#4c4c4c"/><path d="M1175,1204L1172,1208L1167,1208L1164,1204L1165,1203L1170,1199Z" fill="#4c4c4c"/><path d="M1209,1205L1207,1207L1199,1206L1199,1205L1199,1204L1205,1199Z" fill="#484848"/><path d="M983,1298L984,1298L989,1297L988,1291L981,1293L981,1294Z" fill="#444"/><path d="M1107,1339L1103,1339L1103,1346L1104,1347L1104,1347L1110,1342Z" fill="#3a3a3a"/><path d="M1170,1343L1169,1347L1174,1349L1176,1348L1177,1345L1174,1341Z" fill="#404040"/><path d="M1151,1221L1152,1218L1149,1214L1145,1215L1144,1219L1146,1222Z" fill="#3a3a3a"/><path d="M1006,1236L1012,1237L1015,1231L1011,1225L1010,1225L1005,1228L1005,1228Z" fill="#444"/><path d="M944,1297L944,1305L941,1306L939,1306L935,1300L940,1296Z" fill="#444"/><path d="M1126,1195L1130,1196L1134,1194L1132,1185L1124,1191L1124,1192Z" fill="#505050"/><path d="M1228,1295L1228,1301L1224,1304L1222,1303L1220,1298L1226,1295Z" fill="#3a3a3a"/><path d="M1105,1303L1105,1304L1107,1308L1110,1310L1113,1304L1112,1302Z" fill="#3a3a3a"/><path d="M1039,1167L1034,1161L1034,1160L1037,1157L1044,1158L1044,1158L1042,1165Z" fill="#3a3a3a"/><path d="M942,1283L942,1283L946,1278L951,1278L952,1284L948,1287Z" fill="#484848"/><path d="M1145,1211L1142,1208L1144,1206L1148,1206L1149,1206L1148,1211Z" fill="#444"/><path d="M1192,1165L1191,1164L1186,1167L1186,1171L1191,1172L1194,1169Z" fill="#444"/><path d="M1025,1271L1029,1266L1023,1263L1021,1264L1023,1270Z" fill="#4c4c4c"/><path d="M1105,1253L1107,1258L1104,1262L1101,1260L1100,1256Z" fill="#484848"/><path d="M940,1160L935,1157L932,1161L933,1164L936,1165L940,1161Z" fill="#3a3a3a"/><path d="M996,1227L993,1224L996,1221L1000,1226L1000,1226Z" fill="#505050"/><path d="M944,1159L948,1154L949,1154L953,1159L949,1164L944,1160Z" fill="#505050"/><path d="M1227,1233L1224,1235L1225,1241L1231,1239L1230,1234Z" fill="#4c4c4c"/><path d="M978,1206L973,1213L973,1213L981,1214L983,1210Z" fill="#505050"/><path d="M988,1317L986,1322L992,1328L995,1327L997,1319L989,1315L989,1315Z" fill="#484848"/><path d="M1226,1252L1233,1252L1233,1252L1233,1258L1227,1256Z" fill="#505050"/><path d="M1018,1211L1011,1210L1008,1215L1011,1221L1012,1221L1020,1215Z" fill="#4c4c4c"/><path d="M1211,1165L1215,1160L1223,1163L1222,1167L1216,1170L1211,1166Z" fill="#484848"/><path d="M1237,1169L1237,1164L1239,1163L1240,1163L1242,1167L1241,1169Z" fill="#444"/><path d="M1189,1199L1185,1200L1183,1204L1188,1207L1192,1205L1192,1204Z" fill="#3a3a3a"/><path d="M973,1347L971,1339L973,1337L977,1337L978,1338L979,1345L975,1348Z" fill="#505050"/><path d="M942,1199L940,1190L939,1189L930,1191L936,1200Z" fill="#505050"/><path d="M1117,1224L1121,1226L1125,1220L1124,1216L1123,1215L1119,1216Z" fill="#4c4c4c"/><path d="M1174,1327L1170,1331L1175,1335L1178,1333L1177,1327Z" fill="#444"/><path d="M1235,1173L1237,1180L1243,1175L1242,1172L1236,1171Z" fill="#444"/><path d="M1051,1339L1053,1335L1059,1336L1060,1342L1057,1344L1053,1344Z" fill="#3a3a3a"/><path d="M1081,1162L1083,1161L1087,1163L1087,1166L1083,1168L1079,1165L1079,1165Z" fill="#404040"/><path d="M1200,1184L1198,1190L1193,1191L1191,1186L1195,1183Z" fill="#4c4c4c"/><path d="M1223,1316L1224,1313L1222,1308L1221,1307L1217,1310L1218,1315Z" fill="#404040"/><path d="M1190,1338L1199,1340L1200,1339L1197,1331L1191,1331L1189,1336Z" fill="#444"/><path d="M964,1323L958,1320L955,1327L961,1329Z" fill="#4c4c4c"/><path d="M968,1190L968,1182L970,1181L974,1183L975,1188L974,1190Z" fill="#444"/><path d="M1111,1336L1112,1333L1116,1332L1116,1332L1116,1339L1115,1339L1113,1339Z" fill="#3a3a3a"/><path d="M1222,1218L1223,1214L1225,1213L1227,1215L1228,1218L1225,1220L1222,1219Z" fill="#484848"/><path d="M1061,1156L1057,1162L1058,1166L1060,1167L1066,1163L1064,1156L1062,1156Z" fill="#444"/><path d="M1088,1356L1087,1357L1081,1355L1083,1351L1089,1350Z" fill="#404040"/><path d="M1032,1175L1037,1172L1039,1177L1036,1179L1032,1176Z" fill="#444"/><path d="M1091,1193L1090,1198L1097,1201L1100,1193L1095,1190Z" fill="#404040"/><path d="M1207,1360L1211,1361L1214,1359L1213,1354L1208,1356Z" fill="#444"/><path d="M1007,1285L1009,1290L1014,1290L1014,1287L1012,1284Z" fill="#484848"/><path d="M979,1325L978,1333L973,1333L972,1323Z" fill="#404040"/><path d="M1073,1186L1074,1181L1071,1179L1067,1180L1065,1182L1068,1188Z" fill="#444"/><path d="M1032,1202L1024,1201L1023,1198L1029,1195L1032,1197Z" fill="#404040"/><path d="M1098,1329L1102,1325L1102,1325L1098,1319L1095,1319L1094,1325Z" fill="#3a3a3a"/><path d="M1004,1144L1003,1147L999,1147L998,1143L998,1143L1002,1142Z" fill="#404040"/><path d="M1223,1349L1226,1347L1232,1349L1230,1357L1228,1357Z" fill="#3a3a3a"/><path d="M1056,1230L1055,1237L1063,1237L1064,1232L1058,1229Z" fill="#404040"/><path d="M1095,1276L1095,1276L1096,1283L1099,1283L1101,1279L1098,1276Z" fill="#404040"/><path d="M962,1270L958,1264L954,1268L956,1272L961,1272Z" fill="#404040"/><path d="M939,1174L937,1176L925,1177L932,1168L936,1168Z" fill="#3a3a3a"/><path d="M1145,1245L1148,1246L1150,1254L1150,1254L1139,1254L1139,1249Z" fill="#3a3a3a"/><path d="M1066,1142L1063,1144L1061,1141L1062,1139L1066,1138Z" fill="#444"/><path d="M1047,1189L1045,1196L1039,1193L1040,1189L1045,1187Z" fill="#444"/><path d="M1093,1255L1091,1256L1090,1260L1093,1262L1098,1260L1097,1256Z" fill="#4c4c4c"/><path d="M950,1243L950,1242L943,1247L944,1249L950,1251L953,1247Z" fill="#484848"/><path d="M1062,1311L1060,1312L1059,1319L1061,1320L1067,1316L1067,1314Z" fill="#404040"/><path d="M1020,1248L1013,1249L1014,1242L1020,1244Z" fill="#444"/><path d="M1136,1295L1141,1293L1142,1289L1139,1288L1136,1291Z" fill="#4c4c4c"/><path d="M1123,1252L1119,1252L1118,1258L1119,1260L1121,1261L1125,1256Z" fill="#404040"/><path d="M1117,1355L1116,1356L1119,1362L1123,1360L1124,1357L1123,1355Z" fill="#444"/><path d="M1213,1243L1213,1243L1219,1245L1219,1247L1215,1250L1212,1248Z" fill="#505050"/><path d="M1147,1200L1147,1194L1146,1193L1140,1196L1143,1201Z" fill="#4c4c4c"/><path d="M1173,1236L1177,1242L1177,1242L1172,1243L1170,1239Z" fill="#484848"/><path d="M1181,1308L1170,1306L1173,1314L1178,1313L1181,1309Z" fill="#3a3a3a"/><path d="M1030,1161L1026,1165L1020,1160L1025,1157L1030,1160Z" fill="#4c4c4c"/><path d="M1004,1287L1005,1291L1003,1293L1001,1292L1000,1289L1003,1287Z" fill="#444"/><path d="M1119,1326L1118,1326L1118,1326L1115,1320L1115,1318L1122,1318L1123,1320Z" fill="#4c4c4c"/><path d="M1075,1201L1079,1199L1083,1202L1083,1208L1077,1209Z" fill="#4c4c4c"/><path d="M1019,1179L1015,1182L1019,1185L1022,1183L1022,1181Z" fill="#505050"/><path d="M1138,1163L1143,1162L1145,1167L1140,1168L1137,1165Z" fill="#505050"/><path d="M1077,1368L1075,1362L1071,1367L1071,1369L1074,1370Z" fill="#404040"/><path d="M1209,1265L1214,1264L1217,1265L1217,1271L1212,1274L1208,1267Z" fill="#3a3a3a"/><path d="M1041,1253L1034,1254L1035,1261L1043,1258Z" fill="#404040"/><path d="M1133,1221L1128,1219L1127,1215L1134,1215L1135,1218Z" fill="#404040"/><path d="M1034,1195L1030,1192L1030,1188L1035,1187L1038,1189L1037,1193Z" fill="#404040"/><path d="M1058,1138L1057,1140L1054,1141L1052,1137L1055,1135Z" fill="#484848"/><path d="M962,1157L963,1150L969,1150L970,1154L968,1156Z" fill="#4c4c4c"/><path d="M962,1306L957,1303L954,1307L956,1312L963,1307Z" fill="#4c4c4c"/><path d="M1239,1340L1237,1341L1235,1347L1242,1348L1242,1342Z" fill="#4c4c4c"/><path d="M1116,1140L1115,1147L1112,1147L1108,1144L1110,1139L1115,1138Z" fill="#4c4c4c"/></g>
<path d="M1241,1126Q1247,1134 1255,1140M1255,1140Q1239,1153 1229,1169M1246,1183Q1240,1174 1229,1169M1246,1183Q1248,1191 1249,1199M1247,1374Q1243,1355 1243,1336M1247,1374Q1244,1377 1241,1380M928,1260Q927,1267 929,1275M916,1287Q921,1280 929,1275M942,1246Q936,1254 928,1260M942,1246Q941,1238 938,1230M938,1230Q931,1227 925,1222M925,1222Q924,1206 926,1190M1001,1127Q989,1127 977,1130M1001,1127Q1010,1132 1016,1140M1016,1140Q1012,1151 1009,1162M979,1157Q994,1158 1009,1162M979,1157Q975,1149 971,1141M971,1141Q975,1136 977,1130M1016,1140Q1018,1138 1021,1137M1071,1399Q1066,1385 1054,1375M1054,1375Q1041,1376 1028,1376M1071,1399Q1085,1379 1099,1359M1099,1359Q1099,1359 1100,1359M1243,1336Q1243,1336 1242,1336M1242,1336Q1245,1326 1244,1315M1173,1370Q1181,1364 1190,1360M1190,1360Q1202,1362 1212,1369M1214,1373Q1213,1371 1212,1369M1241,1380Q1227,1377 1214,1373M1191,1330Q1197,1330 1201,1326M1191,1330Q1193,1345 1190,1360M1201,1326Q1212,1334 1223,1339M1223,1339Q1216,1353 1212,1369M1223,1339Q1233,1340 1242,1336M916,1287Q924,1298 926,1311M938,1230Q949,1218 963,1209M926,1190Q931,1187 935,1183M935,1183Q945,1200 963,1209M912,1148Q929,1159 936,1178M912,1148Q921,1136 935,1128M935,1128Q943,1136 950,1144M950,1144Q946,1156 948,1170M948,1170Q943,1175 936,1178M935,1183Q935,1180 936,1178M971,1141Q961,1145 950,1144M979,1157Q975,1166 967,1172M967,1172Q957,1168 948,1170M1009,1162Q1012,1168 1012,1174M1012,1174Q1005,1181 1003,1191M967,1172Q971,1185 981,1195M1003,1191Q992,1194 981,1195M942,1246Q954,1255 968,1256M968,1256Q973,1243 980,1231M963,1209Q966,1208 969,1208M980,1231Q974,1220 969,1208M969,1208Q976,1203 981,1195M1021,1137Q1034,1141 1047,1140M1047,1140Q1058,1131 1064,1117M1107,1126Q1097,1131 1085,1131M1064,1117Q1074,1124 1085,1131M1136,1165Q1147,1159 1153,1149M1136,1165Q1125,1159 1112,1159M1112,1159Q1115,1144 1110,1130M1110,1130Q1126,1132 1143,1133M1143,1133Q1149,1140 1153,1149M1107,1126Q1109,1128 1110,1130M1241,1126Q1230,1129 1219,1128M1054,1375Q1057,1366 1059,1357M1099,1359Q1094,1355 1088,1352M1088,1352Q1073,1355 1059,1357M1244,1315Q1232,1303 1221,1290M1221,1290Q1235,1285 1245,1273M1088,1352Q1081,1335 1074,1318M1049,1345Q1055,1351 1059,1357M1049,1345Q1052,1331 1058,1318M1074,1318Q1066,1320 1058,1318M1028,1376Q1023,1365 1022,1352M1049,1345Q1037,1351 1023,1350M1023,1350Q1023,1351 1022,1352M1058,1318Q1047,1311 1037,1303M1037,1303Q1025,1304 1015,1312M1023,1350Q1016,1331 1015,1312M1047,1140Q1054,1151 1061,1162M1085,1131Q1076,1144 1074,1159M1061,1162Q1068,1161 1074,1159M1112,1159Q1104,1164 1098,1172M1074,1159Q1088,1162 1098,1172M1140,1184Q1137,1175 1136,1165M1140,1184Q1132,1191 1127,1201M1127,1201Q1109,1193 1098,1177M1098,1172Q1098,1175 1098,1177M1161,1150Q1171,1144 1180,1136M1161,1150Q1166,1164 1176,1176M1180,1136Q1192,1148 1208,1154M1176,1176Q1190,1175 1205,1177M1208,1154Q1209,1162 1212,1168M1205,1177Q1207,1171 1212,1168M1153,1149Q1157,1151 1161,1150M1164,1188Q1152,1184 1140,1184M1164,1188Q1170,1182 1176,1176M1219,1128Q1216,1142 1208,1154M1164,1188Q1166,1197 1167,1206M1205,1190Q1197,1201 1190,1213M1205,1190Q1204,1183 1205,1177M1167,1206Q1178,1212 1190,1213M1229,1169Q1221,1167 1212,1168M1100,1359Q1109,1352 1119,1344M1119,1344Q1119,1344 1119,1344M1119,1344Q1130,1359 1147,1366M1173,1370Q1167,1365 1160,1362M1160,1362Q1153,1363 1147,1366M1201,1326Q1203,1309 1209,1292M1221,1290Q1217,1289 1212,1289M1209,1292Q1211,1291 1212,1289M1212,1232Q1220,1222 1230,1215M1212,1232Q1216,1240 1219,1249M1219,1249Q1231,1248 1243,1252M1236,1215Q1241,1230 1252,1241M1236,1215Q1233,1215 1230,1215M1252,1241Q1247,1246 1243,1252M1205,1190Q1220,1200 1230,1215M1190,1213Q1192,1220 1194,1227M1194,1227Q1202,1231 1212,1232M1194,1227Q1189,1233 1184,1239M1184,1239Q1184,1249 1188,1257M1206,1266Q1198,1259 1188,1257M1206,1266Q1212,1257 1219,1249M1245,1273Q1245,1262 1243,1252M1212,1289Q1207,1279 1206,1266M1249,1199Q1242,1207 1236,1215M1167,1206Q1162,1211 1158,1216M1127,1201Q1127,1207 1127,1212M1127,1212Q1141,1219 1158,1216M1184,1239Q1174,1237 1163,1237M1158,1216Q1160,1227 1163,1237M1038,1250Q1033,1257 1031,1266M1038,1250Q1029,1236 1020,1222M1031,1266Q1018,1267 1007,1262M1007,1262Q1002,1247 1006,1231M1006,1231Q1012,1227 1017,1221M1020,1222Q1019,1221 1017,1221M1058,1243Q1048,1246 1038,1250M1058,1243Q1071,1247 1080,1257M1080,1257Q1077,1263 1077,1270M1077,1270Q1059,1276 1042,1285M1042,1285Q1036,1275 1031,1266M1003,1191Q1014,1204 1017,1221M980,1231Q993,1228 1006,1231M994,1300Q993,1287 990,1274M994,1300Q978,1302 963,1310M963,1310Q956,1307 951,1302M972,1263Q981,1268 990,1274M972,1263Q957,1273 950,1288M950,1288Q952,1295 951,1302M1037,1303Q1037,1293 1042,1285M1015,1312Q1010,1311 1005,1310M1005,1310Q999,1306 994,1300M1007,1262Q997,1266 990,1274M968,1256Q971,1259 972,1263M929,1275Q941,1279 950,1288M926,1311Q927,1312 929,1312M929,1312Q939,1305 951,1302M1077,1270Q1083,1278 1086,1287M1074,1318Q1078,1315 1081,1312M1086,1287Q1085,1300 1081,1312M1119,1344Q1119,1330 1112,1318M1081,1312Q1096,1315 1112,1318M983,1345Q986,1351 985,1358M983,1345Q972,1339 962,1331M962,1331Q950,1341 935,1346M985,1358Q985,1358 985,1358M985,1358Q964,1361 946,1372M946,1372Q940,1367 936,1361M936,1361Q937,1355 934,1348M934,1348Q935,1347 935,1346M1022,1352Q1004,1355 985,1358M1005,1310Q993,1327 983,1345M963,1310Q965,1321 962,1331M929,1312Q931,1329 935,1346M1045,1180Q1048,1178 1052,1177M1045,1180Q1043,1197 1042,1213M1052,1177Q1068,1188 1080,1204M1056,1220Q1048,1218 1042,1213M1056,1220Q1068,1213 1080,1207M1080,1207Q1081,1206 1080,1204M1012,1174Q1028,1180 1045,1180M1061,1162Q1055,1168 1052,1177M1020,1222Q1030,1216 1042,1213M1098,1177Q1086,1188 1080,1204M1058,1243Q1054,1232 1056,1220M1086,1252Q1087,1234 1088,1215M1086,1252Q1083,1254 1080,1257M1088,1215Q1085,1210 1080,1207M1088,1215Q1106,1217 1124,1215M1127,1212Q1125,1213 1124,1215M1191,1330Q1180,1324 1166,1325M1209,1292Q1191,1295 1173,1290M1173,1290Q1174,1308 1166,1325M1119,1344Q1140,1339 1154,1324M1160,1362Q1160,1344 1164,1326M1154,1324Q1159,1325 1164,1326M1166,1325Q1165,1326 1164,1326M1165,1276Q1165,1278 1165,1279M1165,1276Q1156,1265 1148,1253M1165,1279Q1148,1288 1131,1296M1148,1253Q1137,1253 1126,1250M1121,1289Q1123,1292 1126,1295M1121,1289Q1127,1271 1123,1253M1123,1253Q1124,1251 1126,1250M1126,1295Q1129,1295 1131,1296M1188,1257Q1176,1266 1165,1276M1173,1290Q1168,1286 1165,1279M1163,1237Q1157,1246 1148,1253M1154,1324Q1142,1311 1131,1296M1124,1215Q1130,1232 1126,1250M1086,1287Q1104,1291 1121,1289M1112,1318Q1116,1305 1126,1295M1086,1252Q1105,1253 1123,1253" stroke="#d4d4d4" stroke-width="2.3" fill="none" stroke-linecap="round"/>
</g></g></g>
<rect x="1173.6" y="1343.6" width="26.9" height="5.4" fill="#fff"/>
<text x="1187" y="1335" font-size="18" fill="#fff" text-anchor="middle">2 µm</text>
<rect x="31.3" y="1141.3" width="270.1" height="221.7" fill="#eeeeee"/>
<clipPath id="chs"><rect x="31.3" y="1141.3" width="270.1" height="221.7"/></clipPath>
<g clip-path="url(#chs)"><g transform="translate(25,1135) scale(0.22619)">
<path d="M488,0 L745,0 C748,120 760,260 800,340 C840,420 900,500 990,560 C1060,610 1140,635 1240,645 L1240,1020 L905,1020 C900,930 870,860 800,815 C730,780 600,775 520,790 C430,810 360,850 340,920 C330,960 330,1000 330,1020 L0,1020 L0,660 C80,655 170,640 240,610 C330,570 400,480 440,380 C470,300 485,150 488,0 Z" fill="#cc7f98"/>
<clipPath id="chs2"><path d="M488,0 L745,0 C748,120 760,260 800,340 C840,420 900,500 990,560 C1060,610 1140,635 1240,645 L1240,1020 L905,1020 C900,930 870,860 800,815 C730,780 600,775 520,790 C430,810 360,850 340,920 C330,960 330,1000 330,1020 L0,1020 L0,660 C80,655 170,640 240,610 C330,570 400,480 440,380 C470,300 485,150 488,0 Z"/></clipPath>
<g clip-path="url(#chs2)"><path d="M533,-37L532,-16L528,6L527,31L530,57L532,83L528,107L525,129L526,152L528,177L525,204L518,230L515,255L516,277L515,302L504,328L492,354L485,380L480,404L471,425L458,444L448,466L441,493L427,520L408,542L390,561L376,579L359,601L330,615L302,629L279,641L261,651L240,658L214,665L186,675L161,684L139,691L114,696L85,698L59,697L38,698L15,701L-13,705L-40,707 M573,-39L569,-17L567,7L569,34L572,60L570,83L566,105L566,127L569,154L567,183L561,210L557,235L557,256L558,279L553,309L540,342L530,371L526,395L518,417L505,437L494,458L487,483L478,515L458,544L437,565L422,582L408,603L383,633L345,653L317,668L298,677L278,685L254,692L226,702L200,716L173,726L146,731L117,733L89,735L65,736L42,739L15,744L-13,746L-37,745 M606,-40L602,-15L603,11L606,37L606,60L602,81L600,103L603,129L605,159L600,189L594,214L593,236L594,257L591,283L584,319L572,356L566,384L559,406L547,426L535,448L528,472L521,500L508,533L484,563L465,584L453,602L435,627L402,663L360,686L333,699L314,707L291,714L265,724L240,736L213,751L181,760L149,763L120,765L94,768L70,772L43,777L14,780L-12,779L-33,777 M643,-38L643,-12L646,14L647,36L643,58L640,79L643,104L646,132L643,164L637,193L635,216L636,237L635,261L629,290L622,330L613,369L605,396L595,417L582,440L573,464L568,490L559,517L540,551L516,583L499,606L486,627L464,656L424,697L379,722L353,733L331,741L304,751L279,763L257,776L227,790L188,797L153,800L127,803L102,810L73,815L43,818L15,818L-8,817L-30,816 M687,-34L690,-9L692,14L689,34L685,56L686,80L690,107L690,136L685,167L681,194L682,217L682,241L677,267L670,299L667,340L658,381L647,409L634,432L623,457L617,484L610,508L597,534L577,569L554,606L537,634L520,657L494,688L452,732L402,759L372,771L346,781L320,794L299,806L276,818L240,830L195,838L161,843L137,849L108,857L74,861L44,861L19,860L-3,859L-29,861 M729,-31L731,-8L730,12L726,33L725,57L729,83L730,110L726,137L723,167L722,195L723,221L720,247L713,274L710,304L708,346L696,390L681,421L669,447L662,474L656,500L646,522L631,547L613,586L589,629L569,660L549,684L522,714L478,760L423,791L387,807L360,820L337,833L317,843L292,853L250,865L202,876L170,883L145,891L111,897L74,899L47,898L24,897L-1,900L-30,903 M771,-31L771,-10L767,10L765,33L767,60L770,86L768,111L764,136L764,166L764,198L762,227L756,254L752,279L752,308L748,352L732,400L716,436L707,464L702,490L693,513L679,534L666,560L650,605L623,654L598,687L578,708L553,738L505,789L441,826L400,845L375,859L355,869L334,878L304,886L260,902L212,916L179,925L151,931L113,935L77,935L52,935L28,938L-2,942L-31,945 M810,-32L806,-12L803,11L804,37L808,63L807,87L803,109L801,134L804,168L803,203L797,233L792,258L791,281L792,310L784,358L765,413L751,452L746,479L738,503L725,525L713,546L703,576L686,626L653,678L625,709L608,729L584,760L529,819L456,862L414,882L392,894L373,902L348,909L316,921L272,940L223,956L186,964L154,967L116,970L82,971L57,974L28,979L-3,982L-29,982 M489,-39L527,-40L571,-36L619,-32L657,-36L696,-39 M486,18L516,24L548,22L576,17L607,18L640,27 M483,84L532,83L577,84L619,80L665,87L700,85 M485,140L529,146L574,147L616,149L666,147L707,153 M480,197L523,206L565,213L610,217L655,222L703,222 M476,260L512,261L554,272L596,268L638,279L679,278 M459,320L504,329L553,341L592,362L632,370L681,385 M438,373L480,392L521,411L562,424L603,435L652,450 M422,429L447,447L479,450L512,469L547,476L575,488 M399,487L433,508L466,528L496,543L531,565L558,586 M356,533L396,562L431,595L469,621L508,645L547,675 M314,572L331,603L352,633L373,659L382,680L399,708 M267,601L279,637L299,672L311,715L329,757L348,790 M206,620L222,654L233,687L245,720L266,749L274,778 M148,642L162,680L167,727L178,765L193,807L196,851 M89,655L95,688L107,729L104,764L113,801L116,839 M32,657L40,685L40,718L41,751L41,786L43,811 M-30,664L-23,698L-22,721L-21,761L-19,791L-21,823 M706,-38L705,-17L702,6L701,31L706,58L708,84L706,108L704,130L708,152L714,177L715,203L713,230L715,258L727,285L741,307L749,329L757,353L770,377L784,399L794,420L803,441L818,461L837,482L854,506L868,530L889,547L913,558L936,570L955,584L971,600L990,616L1014,630L1039,644L1062,652L1085,660L1112,670L1142,679L1167,682L1188,683L1212,682L1240,684L1267,687L1288,691 M669,-41L666,-19L664,7L667,35L671,61L670,84L667,107L668,130L674,156L677,182L676,209L676,234L682,263L694,295L706,323L714,347L725,372L740,394L751,414L759,434L771,459L791,484L809,507L823,530L840,555L868,573L895,587L916,601L932,617L949,632L971,646L995,658L1019,673L1047,686L1075,697L1105,708L1135,716L1160,717L1184,717L1211,718L1239,722L1262,726L1283,729 M625,-43L622,-17L624,11L628,38L628,61L625,83L625,106L629,133L634,162L633,189L632,213L636,236L643,268L654,309L666,343L676,369L691,391L704,411L712,430L721,452L737,482L759,511L775,534L788,556L811,582L845,604L873,622L890,638L907,654L927,666L950,677L971,690L997,710L1032,727L1065,740L1096,749L1125,755L1153,755L1181,757L1210,761L1235,767L1257,769L1281,769 M583,-42L583,-14L587,13L589,38L586,60L584,82L587,108L592,138L593,167L591,192L593,214L599,238L605,275L614,324L629,362L643,388L657,407L666,426L674,446L686,473L706,506L727,536L741,557L756,578L785,608L823,637L849,658L866,674L885,686L907,696L927,707L946,723L977,747L1020,767L1055,778L1084,785L1116,791L1150,794L1180,798L1206,804L1229,808L1254,807L1282,806 M539,-39L543,-12L545,14L544,36L541,58L543,83L547,112L549,143L547,171L548,193L553,215L558,241L561,285L572,342L591,382L607,405L618,424L625,444L635,467L651,496L671,530L690,559L704,580L724,603L758,639L797,673L822,695L842,709L864,719L884,729L900,742L920,761L958,788L1007,807L1042,817L1070,824L1108,832L1147,838L1177,844L1200,848L1224,849L1253,847L1282,847 M502,-37L506,-12L505,11L502,35L502,59L507,87L509,116L507,146L507,172L511,194L517,218L518,247L519,296L536,356L559,397L573,420L581,440L589,463L602,487L619,516L636,550L656,579L673,601L697,628L731,670L771,707L798,727L822,739L844,749L860,761L874,776L899,796L943,823L993,842L1027,851L1058,861L1103,872L1145,880L1172,884L1194,885L1222,885L1254,885L1281,887 M464,-38L465,-15L462,10L460,36L464,63L467,90L466,118L464,146L467,172L473,197L476,223L475,254L479,304L500,369L524,412L535,436L542,459L554,484L568,508L582,534L599,569L622,601L644,626L667,656L700,701L744,739L777,759L802,770L821,783L834,796L850,812L879,830L925,856L976,877L1013,889L1050,902L1099,915L1140,922L1165,923L1189,923L1222,924L1253,927L1276,931 M426,-40L423,-17L420,11L423,39L427,67L427,91L424,117L425,146L431,175L435,202L434,229L434,259L442,310L465,379L487,427L496,455L507,480L521,503L534,524L545,549L564,587L592,625L614,653L635,683L670,729L720,768L758,789L781,803L796,817L810,831L830,845L859,861L905,888L960,913L1001,929L1042,943L1092,956L1132,959L1159,960L1188,961L1221,964L1250,969L1272,972 M742,-40L707,-41L675,-36L638,-37L597,-41L570,-44 M741,16L711,26L670,18L628,20L594,25L553,24 M747,84L717,77L683,84L648,87L618,85L585,89 M750,136L704,139L660,150L610,150L567,152L524,161 M755,204L709,206L669,210L627,208L580,214L537,223 M755,259L721,275L679,285L632,298L598,306L558,320 M790,316L755,330L730,339L704,352L673,370L641,385 M810,372L774,379L743,405L709,422L673,439L636,453 M836,416L809,438L775,466L737,486L707,509L666,523 M876,466L842,492L821,513L787,536L756,564L725,585 M917,516L889,546L867,576L848,608L820,641L793,671 M967,548L949,577L923,605L903,636L880,675L858,705 M1015,577L990,609L970,640L949,675L934,701L909,737 M1062,609L1048,647L1035,677L1024,709L1009,746L990,781 M1127,634L1114,667L1109,703L1098,740L1090,775L1081,806 M1184,638L1177,678L1178,722L1169,770L1161,813L1156,846 M1241,649L1243,685L1236,719L1231,759L1230,791L1230,826 M294,1082L293,1055L289,1029L288,1006L292,984L294,958L298,929L303,900L315,874L330,849L345,823L367,807L390,791L419,774L449,764L471,758L492,755L518,753L547,750L571,745L593,738L619,737L648,739L674,743L695,745L720,745L752,749L781,759L803,770L822,785L843,801L869,815L897,830L911,855L920,882L933,910L942,942L942,970L939,992L939,1013L944,1036L946,1062 M250,1079L247,1053L244,1030L247,1009L250,984L249,952L253,916L263,883L278,857L292,830L309,797L339,772L370,751L404,731L436,722L459,718L484,715L514,711L540,705L562,698L589,693L621,695L651,698L673,701L695,700L727,699L768,706L799,720L820,734L843,749L869,764L897,777L927,798L946,833L961,867L978,901L985,937L983,965L982,988L986,1011L989,1037L988,1063 M213,1077L210,1054L211,1033L215,1011L215,982L212,945L219,905L233,872L247,846L259,816L281,774L320,742L355,718L390,698L424,690L451,686L480,682L509,675L532,668L556,662L588,659L624,662L651,665L671,665L696,663L735,662L780,673L810,690L834,705L862,719L891,732L916,746L949,774L977,818L996,856L1012,892L1017,930L1016,961L1019,986L1023,1011L1023,1038L1020,1064 M170,1078L170,1057L174,1035L175,1010L172,978L170,937L182,895L197,861L208,832L221,797L251,745L299,707L335,683L372,662L412,654L444,648L474,640L500,632L523,627L551,624L588,622L624,624L649,624L671,621L701,620L743,623L791,637L824,656L853,669L885,681L912,695L937,714L977,748L1014,801L1035,841L1049,878L1055,922L1057,958L1062,986L1063,1013L1061,1038L1059,1061 M129,1081L132,1059L135,1034L132,1007L129,975L132,932L146,888L158,850L168,817L185,775L224,715L276,674L312,650L355,628L403,616L438,607L465,598L490,591L517,588L549,587L587,584L622,582L648,580L674,579L705,581L748,586L801,601L841,619L874,630L906,644L931,661L959,683L1008,723L1052,781L1072,824L1085,864L1094,916L1100,958L1103,988L1101,1013L1099,1035L1101,1057 M91,1083L94,1058L93,1032L89,1005L89,974L95,930L108,881L118,837L130,799L151,753L196,688L250,644L289,618L340,592L396,575L430,565L454,557L481,553L513,551L546,548L583,542L619,539L650,538L678,540L708,543L752,548L812,563L859,580L894,592L925,608L950,629L983,653L1040,696L1087,759L1106,805L1122,852L1137,913L1142,959L1142,987L1139,1010L1140,1031L1144,1054 M328,1078L289,1077L254,1078L214,1083L172,1076L141,1079 M326,1020L288,1018L242,1021L192,1025L147,1020L103,1018 M331,961L284,959L242,952L190,941L145,932L94,935 M352,905L321,887L285,882L252,863L225,852L192,845 M377,850L344,832L322,806L301,782L277,760L250,748 M422,817L405,770L380,729L356,687L336,645L315,607 M483,803L472,758L465,713L448,678L444,630L432,590 M537,786L535,752L526,711L517,676L518,632L509,599 M593,779L592,732L592,694L590,652L588,606L578,566 M661,781L654,730L656,688L662,637L668,599L668,547 M714,785L725,744L732,711L732,674L740,639L745,601 M771,806L789,761L811,722L830,687L846,646L870,606 M825,830L846,796L864,765L885,732L909,698L926,668 M870,867L912,842L951,809L984,786L1023,750L1067,724 M894,919L933,910L965,900L1004,886L1036,877L1067,872 M897,981L943,981L977,981L1018,973L1050,980L1093,971 M907,1041L950,1039L989,1035L1031,1038L1076,1036L1123,1033" stroke="#a03e5e" stroke-width="5" fill="none" stroke-linejoin="round"/></g>
</g></g>
<rect x="31.3" y="1141.3" width="270.1" height="221.7" fill="none" stroke="#666" stroke-width="1"/>
<rect x="31.8" y="1141.8" width="48" height="30.5" fill="#fff"/>
<text x="43" y="1162.6" font-size="18" fill="#111">0%</text>
<path d="M69.1,1276.4 L101.9,1252.6 M101.9,1335.2 L133.6,1310.3" stroke="#111" stroke-width="1.4"/>
<path d="M63.5,1232.3 L80.5,1255" stroke="#111" stroke-width="2.6"/><path d="M76,1257.5 L86,1263.5 L84.5,1252 Z" fill="#111"/>
<path d="M140.4,1353.3 L124,1330.5" stroke="#111" stroke-width="2.6"/><path d="M128.5,1328 L118.9,1322.5 L120.5,1334 Z" fill="#111"/>
<text x="65" y="1401.3" font-size="18.3" fill="#111"><tspan font-style="italic">D</tspan><tspan font-style="italic" font-size="12.8">polymer</tspan><tspan font-style="italic">:</tspan>  micrometer scale</text>
<rect x="657.4" y="1141.9" width="271.1" height="221.7" fill="#eeeeee"/>
<clipPath id="cis"><rect x="657.4" y="1141.9" width="271.1" height="221.7"/></clipPath>
<g clip-path="url(#cis)"><g transform="translate(650,1135) scale(0.23020)" fill="none">
<path d="M30.0,185.0 C50.0,183.3 110.0,177.2 150.0,175.0 C190.0,172.8 236.7,162.8 270.0,172.0 C303.3,181.2 323.3,210.3 350.0,230.0 C376.7,249.7 401.7,283.3 430.0,290.0 C458.3,296.7 491.7,284.2 520.0,270.0 C548.3,255.8 573.3,211.7 600.0,205.0 C626.7,198.3 660.0,209.2 680.0,230.0 C700.0,250.8 705.0,291.7 720.0,330.0 C735.0,368.3 751.7,428.3 770.0,460.0 C788.3,491.7 811.7,518.3 830.0,520.0 C848.3,521.7 868.3,506.7 880.0,470.0 C891.7,433.3 895.8,375.0 900.0,300.0 C904.2,225.0 904.2,66.7 905.0,20.0" stroke="#983457" stroke-width="11"/>
<path d="M30.0,345.0 C50.0,347.5 116.7,345.8 150.0,360.0 C183.3,374.2 205.0,395.0 230.0,430.0 C255.0,465.0 276.7,521.7 300.0,570.0 C323.3,618.3 350.0,683.3 370.0,720.0 C390.0,756.7 390.0,771.7 420.0,790.0 C450.0,808.3 495.0,823.3 550.0,830.0 C605.0,836.7 691.7,835.0 750.0,830.0 C808.3,825.0 850.0,818.3 900.0,800.0 C950.0,781.7 997.5,744.2 1050.0,720.0 C1102.5,695.8 1187.5,665.8 1215.0,655.0" stroke="#983457" stroke-width="11"/>
<path d="M1140.0,20.0 C1135.0,66.7 1116.7,220.0 1110.0,300.0 C1103.3,380.0 1100.8,433.3 1100.0,500.0 C1099.2,566.7 1106.7,651.7 1105.0,700.0 C1103.3,748.3 1099.2,768.3 1090.0,790.0 C1080.8,811.7 1070.0,826.7 1050.0,830.0 C1030.0,833.3 1003.3,831.7 970.0,810.0 C936.7,788.3 890.0,735.0 850.0,700.0 C810.0,665.0 763.3,624.2 730.0,600.0 C696.7,575.8 673.3,555.0 650.0,555.0 C626.7,555.0 598.3,575.8 590.0,600.0 C581.7,624.2 585.0,668.3 600.0,700.0 C615.0,731.7 646.7,760.0 680.0,790.0 C713.3,820.0 765.0,845.0 800.0,880.0 C835.0,915.0 875.0,980.0 890.0,1000.0" stroke="#983457" stroke-width="11"/>
<path d="M30.0,450.0 C45.0,458.3 83.3,481.7 120.0,500.0 C156.7,518.3 211.7,546.7 250.0,560.0 C288.3,573.3 316.7,583.3 350.0,580.0 C383.3,576.7 423.3,560.0 450.0,540.0 C476.7,520.0 501.7,483.3 510.0,460.0 C518.3,436.7 518.3,413.3 500.0,400.0 C481.7,386.7 441.7,380.0 400.0,380.0 C358.3,380.0 295.0,383.3 250.0,400.0 C205.0,416.7 166.7,448.3 130.0,480.0 C93.3,511.7 46.7,571.7 30.0,590.0" stroke="#ad4a6d" stroke-width="8"/>
<path d="M30.0,905.0 C45.0,895.8 95.0,874.2 120.0,850.0 C145.0,825.8 156.7,788.3 180.0,760.0 C203.3,731.7 226.7,698.3 260.0,680.0 C293.3,661.7 345.0,646.7 380.0,650.0 C415.0,653.3 448.3,675.0 470.0,700.0 C491.7,725.0 506.7,766.7 510.0,800.0 C513.3,833.3 496.7,866.7 490.0,900.0 C483.3,933.3 473.3,983.3 470.0,1000.0" stroke="#ad4a6d" stroke-width="8"/>
<path d="M420.0,290.0 C421.7,301.7 413.3,345.0 430.0,360.0 C446.7,375.0 488.3,383.3 520.0,380.0 C551.7,376.7 586.7,348.3 620.0,340.0 C653.3,331.7 681.7,321.7 720.0,330.0 C758.3,338.3 820.0,370.0 850.0,390.0 C880.0,410.0 878.3,438.3 900.0,450.0 C921.7,461.7 958.3,468.3 980.0,460.0 C1001.7,451.7 1023.3,421.7 1030.0,400.0 C1036.7,378.3 1026.7,348.3 1020.0,330.0 C1013.3,311.7 995.0,296.7 990.0,290.0" stroke="#ad4a6d" stroke-width="8"/>
<path d="M30.0,700.0 C50.0,706.7 105.0,720.0 150.0,740.0 C195.0,760.0 258.3,795.0 300.0,820.0 C341.7,845.0 378.3,860.0 400.0,890.0 C421.7,920.0 425.0,981.7 430.0,1000.0" stroke="#ad4a6d" stroke-width="8"/>
<path d="M30.0,260.0 C50.0,256.7 115.0,251.7 150.0,240.0 C185.0,228.3 215.0,213.3 240.0,190.0 C265.0,166.7 278.3,128.3 300.0,100.0 C321.7,71.7 358.3,33.3 370.0,20.0" stroke="#c9708f" stroke-width="6.5"/>
<path d="M620.0,20.0 C633.3,40.0 671.7,106.7 700.0,140.0 C728.3,173.3 763.3,195.0 790.0,220.0 C816.7,245.0 828.3,268.3 860.0,290.0 C891.7,311.7 943.3,340.0 980.0,350.0 C1016.7,360.0 1040.8,353.3 1080.0,350.0 C1119.2,346.7 1192.5,333.3 1215.0,330.0" stroke="#c9708f" stroke-width="6.5"/>
<path d="M1215.0,140.0 C1192.5,140.0 1117.5,130.0 1080.0,140.0 C1042.5,150.0 1010.0,173.3 990.0,200.0 C970.0,226.7 958.3,270.0 960.0,300.0 C961.7,330.0 980.0,360.0 1000.0,380.0 C1020.0,400.0 1044.2,413.3 1080.0,420.0 C1115.8,426.7 1192.5,420.0 1215.0,420.0" stroke="#c9708f" stroke-width="6.5"/>
<path d="M240.0,20.0 C250.0,30.0 276.7,73.3 300.0,80.0 C323.3,86.7 353.3,55.0 380.0,60.0 C406.7,65.0 443.3,86.7 460.0,110.0 C476.7,133.3 486.7,170.0 480.0,200.0 C473.3,230.0 430.0,275.0 420.0,290.0" stroke="#c9708f" stroke-width="6.5"/>
<path d="M30.0,60.0 C38.3,68.3 51.7,98.3 80.0,110.0 C108.3,121.7 171.7,128.3 200.0,130.0 C228.3,131.7 241.7,121.7 250.0,120.0" stroke="#c9708f" stroke-width="6.5"/>
<path d="M650.0,20.0 C641.7,31.7 611.7,60.0 600.0,90.0 C588.3,120.0 576.7,160.0 580.0,200.0 C583.3,240.0 603.3,288.3 620.0,330.0 C636.7,371.7 668.3,411.7 680.0,450.0 C691.7,488.3 693.3,518.3 690.0,560.0 C686.7,601.7 668.3,651.7 660.0,700.0 C651.7,748.3 640.0,808.3 640.0,850.0 C640.0,891.7 650.0,925.0 660.0,950.0 C670.0,975.0 693.3,991.7 700.0,1000.0" stroke="#c9708f" stroke-width="6.5"/>
<path d="M30.0,660.0 C45.0,665.0 91.7,683.3 120.0,690.0 C148.3,696.7 170.0,708.3 200.0,700.0 C230.0,691.7 266.7,650.0 300.0,640.0 C333.3,630.0 371.7,626.7 400.0,640.0 C428.3,653.3 458.3,706.7 470.0,720.0" stroke="#c9708f" stroke-width="6.5"/>
<path d="M1215.0,510.0 C1192.5,511.7 1122.5,518.3 1080.0,520.0 C1037.5,521.7 988.3,506.7 960.0,520.0 C931.7,533.3 916.7,570.0 910.0,600.0 C903.3,630.0 911.7,673.3 920.0,700.0 C928.3,726.7 946.7,740.0 960.0,760.0 C973.3,780.0 986.7,800.0 1000.0,820.0 C1013.3,840.0 1023.3,858.3 1040.0,880.0 C1056.7,901.7 1080.0,930.0 1100.0,950.0 C1120.0,970.0 1150.0,991.7 1160.0,1000.0" stroke="#c9708f" stroke-width="6.5"/>
<path d="M200.0,1000.0 C201.7,988.3 196.7,950.0 210.0,930.0 C223.3,910.0 248.3,893.3 280.0,880.0 C311.7,866.7 360.0,858.3 400.0,850.0 C440.0,841.7 486.7,840.0 520.0,830.0 C553.3,820.0 586.7,796.7 600.0,790.0" stroke="#c9708f" stroke-width="6.5"/>
<path d="M30.0,800.0 C41.7,793.3 71.7,773.3 100.0,760.0 C128.3,746.7 183.3,726.7 200.0,720.0" stroke="#c9708f" stroke-width="6.5"/>
<path d="M740.0,40.0 C743.3,53.3 745.0,85.0 760.0,120.0 C775.0,155.0 813.3,206.7 830.0,250.0 C846.7,293.3 858.3,335.0 860.0,380.0 C861.7,425.0 850.0,476.7 840.0,520.0 C830.0,563.3 813.3,600.0 800.0,640.0 C786.7,680.0 776.7,720.0 760.0,760.0 C743.3,800.0 716.7,840.0 700.0,880.0 C683.3,920.0 666.7,980.0 660.0,1000.0" stroke="#c9708f" stroke-width="6.5"/>
<path d="M700.0,1000.0 C710.0,990.0 733.3,948.3 760.0,940.0 C786.7,931.7 823.3,941.7 860.0,950.0 C896.7,958.3 955.0,981.7 980.0,990.0 C1005.0,998.3 1005.0,998.3 1010.0,1000.0" stroke="#ad4a6d" stroke-width="6"/>
</g></g>
<rect x="657.4" y="1141.9" width="271.1" height="221.7" fill="none" stroke="#666" stroke-width="1"/>
<rect x="657.9" y="1142.4" width="47.8" height="29.4" fill="#fff" opacity="0.9"/>
<text x="658.5" y="1163.8" font-size="18" fill="#111">100%</text>
<path d="M716,1269 L742,1265.5 M716.5,1273 L742.5,1269.5" stroke="#111" stroke-width="1.3"/>
<path d="M717.5,1227 L726,1256" stroke="#111" stroke-width="2.6"/><path d="M721,1254 L728,1264 L730,1252 Z" fill="#111"/>
<path d="M737.5,1307 L731,1283" stroke="#111" stroke-width="2.6"/><path d="M726.5,1286 L728.5,1274 L735.5,1284 Z" fill="#111"/>
<text x="690" y="1401.3" font-size="18.3" fill="#111"><tspan font-style="italic">D</tspan><tspan font-style="italic" font-size="12.8">polymer</tspan><tspan font-style="italic">:</tspan>  nanometer scale</text>
<defs>
<radialGradient id="gw" cx="0.38" cy="0.35" r="0.7"><stop offset="0" stop-color="#ffffff"/><stop offset="0.55" stop-color="#ececec"/><stop offset="1" stop-color="#858585"/></radialGradient>
<radialGradient id="gp" cx="0.38" cy="0.35" r="0.7"><stop offset="0" stop-color="#f4cfe8"/><stop offset="0.55" stop-color="#e09ccb"/><stop offset="1" stop-color="#9c5a8c"/></radialGradient>
<radialGradient id="gg" cx="0.38" cy="0.35" r="0.7"><stop offset="0" stop-color="#7fd4a0"/><stop offset="0.55" stop-color="#3faa6a"/><stop offset="1" stop-color="#1d6e40"/></radialGradient>
</defs>
<radialGradient id="gl" cx="0.38" cy="0.35" r="0.7"><stop offset="0" stop-color="#a8e2bf"/><stop offset="0.55" stop-color="#6cc190"/><stop offset="1" stop-color="#3f8a60"/></radialGradient>
<style>.w1,.w2,.w3{fill:url(#gw)}.p{fill:url(#gp)}.g,.G{fill:url(#gg)}.l{fill:url(#gl)}.J circle{stroke:#3a3a3a;stroke-width:.45}.g,.l{r:2.45px;stroke:#1d5432!important;stroke-width:.6!important}.G{r:3.3px}.p{r:3px}.w1{r:3.4px}.w2{r:4.2px}.w3{r:5px}</style>
<clipPath id="cj1"><rect x="31" y="1476.3" width="476.6" height="222.10000000000014"/></clipPath>
<g clip-path="url(#cj1)" class="J">
<circle class=g cx=95 cy=1658 /><circle class=g cx=342 cy=1645 /><circle class=g cx=76 cy=1482 /><circle class=g cx=394 cy=1477 /><circle class=l cx=140 cy=1679 /><circle class=g cx=461 cy=1483 /><circle class=g cx=43 cy=1592 /><circle class=g cx=479 cy=1558 /><circle class=l cx=45 cy=1524 /><circle class=l cx=142 cy=1526 /><circle class=g cx=169 cy=1481 /><circle class=g cx=337 cy=1516 /><circle class=l cx=504 cy=1660 /><circle class=g cx=89 cy=1548 /><circle class=g cx=477 cy=1567 /><circle class=l cx=452 cy=1657 /><circle class=g cx=47 cy=1528 /><circle class=g cx=113 cy=1594 /><circle class=g cx=264 cy=1483 /><circle class=g cx=52 cy=1627 /><circle class=g cx=500 cy=1603 /><circle class=g cx=219 cy=1513 /><circle class=g cx=270 cy=1687 /><circle class=g cx=276 cy=1680 /><circle class=l cx=487 cy=1478 /><circle class=g cx=404 cy=1652 /><circle class=l cx=453 cy=1635 /><circle class=g cx=58 cy=1663 /><circle class=g cx=115 cy=1601 /><circle class=g cx=441 cy=1647 /><circle class=l cx=411 cy=1651 /><circle class=g cx=153 cy=1657 /><circle class=g cx=352 cy=1494 /><circle class=g cx=39 cy=1479 /><circle class=l cx=83 cy=1610 /><circle class=g cx=195 cy=1491 /><circle class=g cx=107 cy=1589 /><circle class=l cx=111 cy=1535 /><circle class=g cx=42 cy=1559 /><circle class=l cx=83 cy=1669 /><circle class=g cx=320 cy=1651 /><circle class=l cx=101 cy=1630 /><circle class=g cx=107 cy=1627 /><circle class=g cx=136 cy=1685 /><circle class=g cx=59 cy=1540 /><circle class=g cx=492 cy=1664 /><circle class=g cx=179 cy=1677 /><circle class=l cx=151 cy=1478 /><circle class=g cx=450 cy=1484 /><circle class=g cx=422 cy=1682 /><circle class=l cx=445 cy=1685 /><circle class=g cx=81 cy=1619 /><circle class=g cx=186 cy=1663 /><circle class=l cx=127 cy=1546 /><circle class=l cx=501 cy=1644 /><circle class=g cx=352 cy=1656 /><circle class=g cx=475 cy=1550 /><circle class=g cx=452 cy=1623 /><circle class=l cx=262 cy=1687 /><circle class=g cx=71 cy=1513 /><circle class=l cx=465 cy=1522 /><circle class=g cx=486 cy=1666 /><circle class=l cx=96 cy=1594 /><circle class=g cx=81 cy=1485 /><circle class=l cx=66 cy=1662 /><circle class=g cx=70 cy=1533 /><circle class=l cx=456 cy=1597 /><circle class=g cx=472 cy=1574 /><circle class=g cx=426 cy=1479 /><circle class=g cx=502 cy=1566 /><circle class=l cx=86 cy=1512 /><circle class=g cx=211 cy=1684 /><circle class=g cx=464 cy=1539 /><circle class=g cx=50 cy=1479 /><circle class=g cx=499 cy=1540 /><circle class=g cx=180 cy=1490 /><circle class=l cx=466 cy=1684 /><circle class=l cx=493 cy=1500 /><circle class=g cx=498 cy=1593 /><circle class=g cx=500 cy=1572 /><circle class=g cx=342 cy=1614 /><circle class=l cx=457 cy=1541 /><circle class=g cx=147 cy=1492 /><circle class=g cx=294 cy=1491 /><circle class=l cx=67 cy=1612 /><circle class=g cx=266 cy=1661 /><circle class=g cx=104 cy=1584 /><circle class=l cx=410 cy=1493 /><circle class=g cx=483 cy=1513 /><circle class=g cx=401 cy=1687 /><circle class=g cx=82 cy=1586 /><circle class=g cx=469 cy=1539 /><circle class=g cx=457 cy=1507 /><circle class=g cx=182 cy=1670 /><circle class=g cx=414 cy=1671 /><circle class=g cx=237 cy=1510 /><circle class=g cx=490 cy=1649 /><circle class=g cx=303 cy=1490 /><circle class=l cx=200 cy=1506 /><circle class=g cx=91 cy=1532 /><circle class=g cx=142 cy=1478 /><circle class=g cx=463 cy=1673 /><circle class=l cx=54 cy=1492 /><circle class=g cx=275 cy=1664 /><circle class=g cx=107 cy=1640 /><circle class=g cx=361 cy=1658 /><circle class=g cx=439 cy=1668 /><circle class=g cx=489 cy=1599 /><circle class=g cx=115 cy=1530 /><circle class=g cx=392 cy=1487 /><circle class=l cx=110 cy=1633 /><circle class=l cx=50 cy=1686 /><circle class=g cx=159 cy=1672 /><circle class=g cx=488 cy=1506 /><circle class=l cx=401 cy=1657 /><circle class=g cx=345 cy=1626 /><circle class=g cx=243 cy=1674 /><circle class=g cx=494 cy=1558 /><circle class=g cx=110 cy=1546 /><circle class=g cx=91 cy=1671 /><circle class=g cx=87 cy=1540 /><circle class=g cx=33 cy=1517 /><circle class=g cx=240 cy=1481 /><circle class=g cx=83 cy=1649 /><circle class=g cx=87 cy=1636 /><circle class=g cx=291 cy=1683 /><circle class=l cx=394 cy=1685 /><circle class=l cx=96 cy=1583 /><circle class=l cx=283 cy=1476 /><circle class=g cx=33 cy=1536 /><circle class=l cx=316 cy=1665 /><circle class=g cx=386 cy=1688 /><circle class=g cx=177 cy=1513 /><circle class=g cx=202 cy=1477 /><circle class=g cx=224 cy=1661 /><circle class=g cx=459 cy=1637 /><circle class=l cx=336 cy=1615 /><circle class=l cx=478 cy=1644 /><circle class=g cx=434 cy=1641 /><circle class=g cx=368 cy=1663 /><circle class=g cx=254 cy=1486 /><circle class=g cx=344 cy=1481 /><circle class=g cx=131 cy=1521 /><circle class=g cx=453 cy=1534 /><circle class=g cx=67 cy=1654 /><circle class=l cx=111 cy=1616 /><circle class=l cx=371 cy=1651 /><circle class=g cx=113 cy=1645 /><circle class=l cx=368 cy=1657 /><circle class=l cx=46 cy=1669 /><circle class=g cx=329 cy=1512 /><circle class=g cx=495 cy=1571 /><circle class=g cx=466 cy=1632 /><circle class=g cx=82 cy=1561 /><circle class=g cx=266 cy=1498 /><circle class=g cx=120 cy=1488 /><circle class=g cx=134 cy=1484 /><circle class=l cx=491 cy=1608 /><circle class=g cx=194 cy=1656 /><circle class=g cx=87 cy=1625 /><circle class=g cx=76 cy=1562 /><circle class=g cx=111 cy=1526 /><circle class=l cx=314 cy=1671 /><circle class=l cx=505 cy=1486 /><circle class=l cx=411 cy=1660 /><circle class=g cx=308 cy=1673 /><circle class=g cx=222 cy=1665 /><circle class=g cx=466 cy=1480 /><circle class=g cx=100 cy=1619 /><circle class=g cx=58 cy=1558 /><circle class=l cx=93 cy=1575 /><circle class=l cx=431 cy=1670 /><circle class=g cx=48 cy=1489 /><circle class=g cx=432 cy=1485 /><circle class=l cx=161 cy=1501 /><circle class=g cx=335 cy=1636 /><circle class=l cx=332 cy=1684 /><circle class=g cx=60 cy=1677 /><circle class=g cx=280 cy=1489 /><circle class=g cx=126 cy=1665 /><circle class=g cx=151 cy=1685 /><circle class=g cx=103 cy=1673 /><circle class=l cx=438 cy=1659 /><circle class=g cx=56 cy=1496 /><circle class=g cx=207 cy=1687 /><circle class=g cx=50 cy=1590 /><circle class=g cx=242 cy=1504 /><circle class=g cx=281 cy=1496 /><circle class=g cx=47 cy=1559 /><circle class=g cx=93 cy=1646 /><circle class=g cx=404 cy=1681 /><circle class=l cx=309 cy=1499 /><circle class=g cx=502 cy=1630 /><circle class=g cx=286 cy=1668 /><circle class=g cx=106 cy=1556 /><circle class=g cx=52 cy=1651 /><circle class=g cx=64 cy=1686 /><circle class=g cx=260 cy=1672 /><circle class=l cx=473 cy=1684 /><circle class=g cx=420 cy=1674 /><circle class=g cx=471 cy=1648 /><circle class=g cx=95 cy=1588 /><circle class=g cx=305 cy=1689 /><circle class=l cx=480 cy=1614 /><circle class=g cx=111 cy=1508 /><circle class=g cx=463 cy=1516 /><circle class=l cx=82 cy=1532 /><circle class=g cx=68 cy=1492 /><circle class=g cx=114 cy=1661 /><circle class=g cx=166 cy=1667 /><circle class=l cx=481 cy=1647 /><circle class=g cx=377 cy=1651 /><circle class=l cx=507 cy=1531 /><circle class=l cx=127 cy=1636 /><circle class=l cx=452 cy=1647 /><circle class=g cx=310 cy=1485 /><circle class=g cx=121 cy=1540 /><circle class=g cx=360 cy=1477 /><circle class=g cx=505 cy=1634 /><circle class=l cx=223 cy=1677 /><circle class=g cx=458 cy=1620 /><circle class=g cx=252 cy=1647 /><circle class=g cx=248 cy=1501 /><circle class=g cx=40 cy=1513 /><circle class=g cx=494 cy=1630 /><circle class=g cx=75 cy=1504 /><circle class=l cx=492 cy=1525 /><circle class=g cx=260 cy=1680 /><circle class=g cx=429 cy=1495 /><circle class=g cx=323 cy=1689 /><circle class=g cx=196 cy=1679 /><circle class=g cx=351 cy=1502 /><circle class=g cx=260 cy=1646 /><circle class=g cx=462 cy=1501 /><circle class=g cx=438 cy=1499 /><circle class=g cx=215 cy=1670 /><circle class=g cx=230 cy=1666 /><circle class=g cx=504 cy=1538 /><circle class=g cx=266 cy=1668 /><circle class=l cx=263 cy=1478 /><circle class=l cx=502 cy=1617 /><circle class=g cx=227 cy=1504 /><circle class=g cx=124 cy=1596 /><circle class=l cx=316 cy=1682 /><circle class=g cx=102 cy=1565 /><circle class=l cx=158 cy=1522 /><circle class=g cx=117 cy=1665 /><circle class=g cx=59 cy=1546 /><circle class=l cx=418 cy=1667 /><circle class=l cx=188 cy=1504 /><circle class=g cx=98 cy=1531 /><circle class=g cx=73 cy=1592 /><circle class=g cx=33 cy=1481 /><circle class=g cx=71 cy=1524 /><circle class=g cx=355 cy=1687 /><circle class=g cx=278 cy=1481 /><circle class=g cx=356 cy=1485 /><circle class=l cx=68 cy=1632 /><circle class=g cx=80 cy=1544 /><circle class=g cx=159 cy=1487 /><circle class=g cx=46 cy=1506 /><circle class=g cx=483 cy=1552 /><circle class=g cx=459 cy=1612 /><circle class=g cx=80 cy=1556 /><circle class=g cx=343 cy=1593 /><circle class=g cx=291 cy=1657 /><circle class=g cx=45 cy=1542 /><circle class=g cx=356 cy=1510 /><circle class=l cx=466 cy=1507 /><circle class=l cx=450 cy=1523 /><circle class=g cx=432 cy=1658 /><circle class=g cx=191 cy=1667 /><circle class=g cx=107 cy=1658 /><circle class=g cx=87 cy=1605 /><circle class=g cx=35 cy=1680 /><circle class=g cx=469 cy=1614 /><circle class=l cx=232 cy=1676 /><circle class=g cx=56 cy=1577 /><circle class=g cx=31 cy=1485 /><circle class=g cx=84 cy=1506 /><circle class=l cx=160 cy=1687 /><circle class=g cx=464 cy=1617 /><circle class=g cx=401 cy=1672 /><circle class=l cx=181 cy=1665 /><circle class=g cx=506 cy=1642 /><circle class=g cx=58 cy=1569 /><circle class=g cx=352 cy=1667 /><circle class=l cx=370 cy=1685 /><circle class=g cx=214 cy=1655 /><circle class=g cx=114 cy=1630 /><circle class=g cx=493 cy=1617 /><circle class=l cx=123 cy=1571 /><circle class=g cx=473 cy=1656 /><circle class=g cx=67 cy=1515 /><circle class=g cx=105 cy=1684 /><circle class=g cx=466 cy=1591 /><circle class=l cx=217 cy=1477 /><circle class=g cx=414 cy=1687 /><circle class=g cx=489 cy=1514 /><circle class=g cx=477 cy=1631 /><circle class=g cx=88 cy=1614 /><circle class=g cx=497 cy=1528 /><circle class=g cx=230 cy=1512 /><circle class=g cx=127 cy=1651 /><circle class=g cx=254 cy=1508 /><circle class=g cx=236 cy=1663 /><circle class=g cx=329 cy=1493 /><circle class=g cx=406 cy=1489 /><circle class=g cx=66 cy=1528 /><circle class=l cx=346 cy=1688 /><circle class=g cx=201 cy=1656 /><circle class=l cx=73 cy=1653 /><circle class=g cx=59 cy=1654 /><circle class=g cx=487 cy=1611 /><circle class=g cx=80 cy=1659 /><circle class=g cx=95 cy=1630 /><circle class=g cx=89 cy=1519 /><circle class=g cx=351 cy=1674 /><circle class=g cx=271 cy=1659 /><circle class=g cx=492 cy=1641 /><circle class=g cx=247 cy=1486 /><circle class=g cx=133 cy=1652 /><circle class=l cx=288 cy=1674 /><circle class=g cx=464 cy=1496 /><circle class=g cx=487 cy=1604 /><circle class=g cx=122 cy=1585 /><circle class=g cx=202 cy=1664 /><circle class=g cx=62 cy=1670 /><circle class=g cx=250 cy=1655 /><circle class=g cx=52 cy=1584 /><circle class=g cx=503 cy=1655 /><circle class=g cx=220 cy=1689 /><circle class=l cx=463 cy=1577 /><circle class=l cx=476 cy=1595 /><circle class=l cx=182 cy=1508 /><circle class=g cx=312 cy=1658 /><circle class=l cx=163 cy=1662 /><circle class=l cx=229 cy=1690 /><circle class=g cx=85 cy=1599 /><circle class=g cx=38 cy=1669 /><circle class=g cx=333 cy=1658 /><circle class=l cx=417 cy=1477 /><circle class=l cx=133 cy=1668 /><circle class=l cx=102 cy=1499 /><circle class=g cx=423 cy=1689 /><circle class=l cx=332 cy=1652 /><circle class=l cx=112 cy=1677 /><circle class=g cx=158 cy=1494 /><circle class=g cx=423 cy=1492 /><circle class=l cx=441 cy=1505 /><circle class=g cx=387 cy=1482 /><circle class=l cx=495 cy=1519 /><circle class=g cx=57 cy=1682 /><circle class=g cx=191 cy=1683 /><circle class=g cx=475 cy=1478 /><circle class=g cx=499 cy=1483 /><circle class=g cx=35 cy=1640 /><circle class=l cx=131 cy=1538 /><circle class=g cx=124 cy=1515 /><circle class=g cx=257 cy=1481 /><circle class=g cx=41 cy=1499 /><circle class=g cx=485 cy=1569 /><circle class=g cx=66 cy=1566 /><circle class=g cx=365 cy=1648 /><circle class=g cx=485 cy=1654 /><circle class=l cx=256 cy=1654 /><circle class=g cx=456 cy=1526 /><circle class=g cx=472 cy=1625 /><circle class=g cx=38 cy=1549 /><circle class=g cx=70 cy=1502 /><circle class=g cx=92 cy=1624 /><circle class=g cx=444 cy=1492 /><circle class=g cx=126 cy=1677 /><circle class=g cx=386 cy=1665 /><circle class=g cx=32 cy=1627 /><circle class=g cx=36 cy=1543 /><circle class=g cx=72 cy=1582 /><circle class=l cx=275 cy=1504 /><circle class=g cx=64 cy=1477 /><circle class=g cx=60 cy=1633 /><circle class=l cx=437 cy=1490 /><circle class=g cx=35 cy=1591 /><circle class=g cx=190 cy=1480 /><circle class=g cx=35 cy=1522 /><circle class=g cx=135 cy=1514 /><circle class=g cx=101 cy=1655 /><circle class=g cx=103 cy=1486 /><circle class=g cx=387 cy=1501 /><circle class=g cx=150 cy=1483 /><circle class=l cx=151 cy=1518 /><circle class=g cx=324 cy=1661 /><circle class=l cx=449 cy=1671 /><circle class=g cx=319 cy=1501 /><circle class=g cx=65 cy=1647 /><circle class=g cx=470 cy=1676 /><circle class=g cx=39 cy=1504 /><circle class=g cx=102 cy=1574 /><circle class=l cx=330 cy=1505 /><circle class=g cx=69 cy=1607 /><circle class=l cx=293 cy=1666 /><circle class=g cx=468 cy=1657 /><circle class=g cx=357 cy=1491 /><circle class=l cx=120 cy=1591 /><circle class=g cx=122 cy=1553 /><circle class=l cx=490 cy=1585 /><circle class=g cx=446 cy=1660 /><circle class=g cx=88 cy=1679 /><circle class=l cx=47 cy=1534 /><circle class=l cx=324 cy=1683 /><circle class=l cx=131 cy=1529 /><circle class=g cx=55 cy=1678 /><circle class=l cx=207 cy=1667 /><circle class=g cx=98 cy=1525 /><circle class=l cx=460 cy=1592 /><circle class=g cx=237 cy=1492 /><circle class=g cx=95 cy=1521 /><circle class=g cx=54 cy=1553 /><circle class=g cx=96 cy=1491 /><circle class=l cx=229 cy=1492 /><circle class=g cx=61 cy=1617 /><circle class=g cx=440 cy=1480 /><circle class=g cx=117 cy=1546 /><circle class=l cx=473 cy=1523 /><circle class=l cx=301 cy=1663 /><circle class=g cx=428 cy=1684 /><circle class=g cx=110 cy=1602 /><circle class=l cx=56 cy=1632 /><circle class=g cx=176 cy=1495 /><circle class=l cx=108 cy=1571 /><circle class=l cx=301 cy=1684 />
<path d="M132.8,1542.0 L144.8,1532.3 L164.8,1528.6 L172.6,1518.8 L188.4,1517.1 L200.3,1523.3 L215.9,1521.6 L235.2,1515.7 L250.7,1511.6 L266.3,1509.5 L282.0,1507.2 L297.8,1509.0 L313.6,1512.7 L329.4,1522.4 L337.3,1534.2 L341.2,1546.0 L345.2,1561.7 L341.1,1577.5 L333.0,1593.1 L329.1,1612.7 L321.3,1628.4 L313.4,1640.1 L305.7,1655.9 L297.8,1657.7 L289.7,1647.6 L273.9,1643.4 L258.3,1639.1 L242.9,1643.0 L219.7,1645.1 L196.2,1651.5 L180.3,1659.7 L164.4,1658.0 L148.5,1652.2 L136.6,1644.4 L130.7,1628.6 L128.9,1601.0 L126.9,1577.4 L128.9,1557.8Z" fill="#8c8c8c"/>
<path d="M346.1,1518.9 L357.9,1513.2 L373.4,1509.4 L388.9,1507.6 L404.4,1507.6 L419.9,1503.4 L435.4,1511.2 L447.0,1522.9 L450.5,1542.5 L456.2,1561.7 L454.2,1580.9 L450.4,1600.2 L446.9,1619.7 L443.2,1631.5 L427.7,1639.2 L412.2,1647.1 L396.6,1647.0 L381.2,1639.0 L365.7,1635.2 L354.0,1627.5 L350.4,1611.8 L346.9,1592.4 L349.1,1573.3 L350.9,1554.2 L348.5,1534.7Z" fill="#8c8c8c"/>
<circle class=G cx=281 cy=1563 /><circle class=G cx=206 cy=1633 /><circle class=G cx=231 cy=1577 /><circle class=G cx=187 cy=1614 /><circle class=p cx=350 cy=1569 /><circle class=p cx=398 cy=1611 /><circle class=G cx=201 cy=1617 /><circle class=G cx=146 cy=1588 /><circle class=G cx=237 cy=1541 /><circle class=w2 cx=167 cy=1546 /><circle class=w1 cx=398 cy=1626 /><circle class=p cx=170 cy=1659 /><circle class=w2 cx=306 cy=1544 /><circle class=p cx=128 cy=1629 /><circle class=G cx=216 cy=1558 /><circle class=G cx=282 cy=1543 /><circle class=p cx=141 cy=1544 /><circle class=w1 cx=323 cy=1610 /><circle class=w1 cx=285 cy=1637 /><circle class=G cx=403 cy=1586 /><circle class=w3 cx=375 cy=1559 /><circle class=w1 cx=297 cy=1521 /><circle class=w2 cx=414 cy=1638 /><circle class=w2 cx=180 cy=1609 /><circle class=w2 cx=249 cy=1619 /><circle class=G cx=154 cy=1619 /><circle class=p cx=389 cy=1542 /><circle class=G cx=142 cy=1573 /><circle class=w2 cx=361 cy=1540 /><circle class=w2 cx=251 cy=1532 /><circle class=G cx=235 cy=1600 /><circle class=p cx=427 cy=1558 /><circle class=w3 cx=352 cy=1572 /><circle class=G cx=208 cy=1558 /><circle class=G cx=204 cy=1598 /><circle class=G cx=338 cy=1550 /><circle class=p cx=268 cy=1508 /><circle class=G cx=279 cy=1621 /><circle class=p cx=338 cy=1534 /><circle class=G cx=268 cy=1591 /><circle class=p cx=440 cy=1578 /><circle class=G cx=183 cy=1602 /><circle class=w1 cx=402 cy=1586 /><circle class=G cx=201 cy=1543 /><circle class=G cx=273 cy=1545 /><circle class=G cx=274 cy=1585 /><circle class=G cx=243 cy=1548 /><circle class=G cx=176 cy=1656 /><circle class=G cx=225 cy=1597 /><circle class=p cx=424 cy=1514 /><circle class=G cx=141 cy=1603 /><circle class=G cx=211 cy=1544 /><circle class=G cx=277 cy=1571 /><circle class=w3 cx=317 cy=1627 /><circle class=G cx=144 cy=1624 /><circle class=G cx=279 cy=1603 /><circle class=G cx=144 cy=1551 /><circle class=w2 cx=396 cy=1644 /><circle class=G cx=223 cy=1566 /><circle class=w1 cx=214 cy=1632 /><circle class=G cx=223 cy=1615 /><circle class=G cx=240 cy=1562 /><circle class=G cx=249 cy=1535 /><circle class=w3 cx=265 cy=1562 /><circle class=w2 cx=205 cy=1601 /><circle class=w1 cx=252 cy=1509 /><circle class=G cx=286 cy=1592 /><circle class=w3 cx=327 cy=1531 /><circle class=w2 cx=408 cy=1629 /><circle class=p cx=436 cy=1614 /><circle class=w2 cx=289 cy=1582 /><circle class=w2 cx=292 cy=1550 /><circle class=w2 cx=154 cy=1631 /><circle class=p cx=255 cy=1615 /><circle class=G cx=218 cy=1606 /><circle class=p cx=428 cy=1570 /><circle class=G cx=277 cy=1578 /><circle class=w1 cx=332 cy=1528 /><circle class=w1 cx=408 cy=1634 /><circle class=w1 cx=150 cy=1547 /><circle class=w2 cx=399 cy=1626 /><circle class=G cx=154 cy=1581 /><circle class=w1 cx=417 cy=1578 /><circle class=p cx=415 cy=1579 /><circle class=w2 cx=435 cy=1634 /><circle class=p cx=360 cy=1516 /><circle class=G cx=250 cy=1537 /><circle class=G cx=282 cy=1566 /><circle class=G cx=160 cy=1581 /><circle class=p cx=306 cy=1623 /><circle class=p cx=173 cy=1655 /><circle class=p cx=272 cy=1642 /><circle class=w3 cx=304 cy=1544 /><circle class=G cx=252 cy=1570 /><circle class=G cx=281 cy=1536 /><circle class=G cx=176 cy=1540 /><circle class=G cx=128 cy=1591 /><circle class=G cx=178 cy=1613 /><circle class=G cx=394 cy=1619 /><circle class=G cx=287 cy=1580 /><circle class=G cx=241 cy=1541 /><circle class=w1 cx=365 cy=1615 /><circle class=G cx=322 cy=1590 /><circle class=G cx=192 cy=1633 /><circle class=w2 cx=204 cy=1631 /><circle class=G cx=220 cy=1568 /><circle class=G cx=260 cy=1611 /><circle class=G cx=330 cy=1589 /><circle class=w2 cx=372 cy=1611 /><circle class=w3 cx=291 cy=1529 /><circle class=w2 cx=312 cy=1625 /><circle class=G cx=158 cy=1571 /><circle class=G cx=330 cy=1593 /><circle class=G cx=288 cy=1596 /><circle class=p cx=353 cy=1537 /><circle class=w3 cx=307 cy=1546 /><circle class=p cx=407 cy=1613 /><circle class=G cx=224 cy=1542 /><circle class=G cx=222 cy=1602 /><circle class=G cx=394 cy=1571 /><circle class=w1 cx=252 cy=1626 /><circle class=G cx=217 cy=1613 /><circle class=w2 cx=227 cy=1557 /><circle class=G cx=273 cy=1548 /><circle class=w1 cx=174 cy=1661 /><circle class=w2 cx=400 cy=1538 /><circle class=w3 cx=241 cy=1517 /><circle class=G cx=144 cy=1573 /><circle class=p cx=454 cy=1554 /><circle class=G cx=141 cy=1614 /><circle class=p cx=129 cy=1618 /><circle class=w1 cx=442 cy=1539 /><circle class=G cx=252 cy=1537 /><circle class=w2 cx=396 cy=1563 /><circle class=G cx=229 cy=1529 /><circle class=w2 cx=293 cy=1569 /><circle class=G cx=328 cy=1588 /><circle class=p cx=340 cy=1542 /><circle class=w3 cx=432 cy=1548 /><circle class=p cx=279 cy=1519 /><circle class=p cx=426 cy=1618 /><circle class=G cx=200 cy=1527 /><circle class=w1 cx=423 cy=1566 /><circle class=w3 cx=432 cy=1622 /><circle class=p cx=457 cy=1569 /><circle class=G cx=235 cy=1580 /><circle class=w2 cx=382 cy=1560 /><circle class=w2 cx=438 cy=1539 /><circle class=w1 cx=372 cy=1629 /><circle class=p cx=439 cy=1628 /><circle class=G cx=180 cy=1613 /><circle class=G cx=274 cy=1615 /><circle class=G cx=194 cy=1526 /><circle class=p cx=335 cy=1574 /><circle class=G cx=197 cy=1619 /><circle class=w1 cx=147 cy=1532 /><circle class=w2 cx=302 cy=1510 /><circle class=G cx=208 cy=1528 /><circle class=w1 cx=369 cy=1543 /><circle class=w1 cx=241 cy=1608 /><circle class=G cx=228 cy=1626 /><circle class=G cx=228 cy=1582 /><circle class=G cx=372 cy=1624 /><circle class=w3 cx=359 cy=1584 /><circle class=G cx=197 cy=1616 /><circle class=p cx=440 cy=1631 /><circle class=w1 cx=367 cy=1634 /><circle class=w2 cx=245 cy=1514 /><circle class=w1 cx=386 cy=1533 /><circle class=G cx=312 cy=1575 /><circle class=G cx=190 cy=1635 /><circle class=G cx=266 cy=1582 /><circle class=p cx=300 cy=1589 /><circle class=w2 cx=176 cy=1551 /><circle class=G cx=225 cy=1558 /><circle class=w3 cx=178 cy=1555 /><circle class=p cx=391 cy=1510 /><circle class=w3 cx=315 cy=1608 /><circle class=G cx=233 cy=1614 /><circle class=w2 cx=283 cy=1519 /><circle class=G cx=248 cy=1548 /><circle class=w3 cx=410 cy=1623 /><circle class=w1 cx=132 cy=1549 /><circle class=G cx=192 cy=1617 /><circle class=G cx=177 cy=1625 /><circle class=G cx=282 cy=1606 /><circle class=w2 cx=312 cy=1594 /><circle class=G cx=267 cy=1590 /><circle class=G cx=246 cy=1598 /><circle class=w2 cx=396 cy=1596 /><circle class=G cx=211 cy=1566 /><circle class=p cx=332 cy=1527 /><circle class=p cx=402 cy=1510 /><circle class=p cx=378 cy=1640 /><circle class=G cx=236 cy=1594 /><circle class=w3 cx=186 cy=1597 /><circle class=w3 cx=264 cy=1538 /><circle class=G cx=163 cy=1604 /><circle class=G cx=155 cy=1600 /><circle class=G cx=136 cy=1575 /><circle class=G cx=225 cy=1577 /><circle class=p cx=319 cy=1625 /><circle class=G cx=194 cy=1631 /><circle class=w3 cx=388 cy=1612 /><circle class=G cx=270 cy=1560 /><circle class=w2 cx=171 cy=1537 /><circle class=G cx=174 cy=1622 /><circle class=w2 cx=288 cy=1549 /><circle class=G cx=226 cy=1580 /><circle class=w1 cx=380 cy=1621 /><circle class=G cx=222 cy=1624 /><circle class=w3 cx=153 cy=1558 /><circle class=G cx=207 cy=1525 /><circle class=p cx=125 cy=1586 /><circle class=p cx=375 cy=1523 /><circle class=w1 cx=166 cy=1552 /><circle class=G cx=222 cy=1626 /><circle class=w3 cx=306 cy=1652 /><circle class=p cx=151 cy=1648 /><circle class=p cx=372 cy=1579 /><circle class=G cx=334 cy=1591 /><circle class=G cx=135 cy=1583 /><circle class=p cx=248 cy=1603 /><circle class=p cx=252 cy=1594 /><circle class=w1 cx=315 cy=1540 /><circle class=p cx=388 cy=1515 /><circle class=w2 cx=445 cy=1616 /><circle class=G cx=185 cy=1536 /><circle class=w2 cx=385 cy=1513 /><circle class=G cx=207 cy=1603 /><circle class=w1 cx=427 cy=1605 /><circle class=w3 cx=360 cy=1521 /><circle class=p cx=192 cy=1593 /><circle class=p cx=134 cy=1547 /><circle class=G cx=235 cy=1585 /><circle class=G cx=238 cy=1578 /><circle class=p cx=311 cy=1643 /><circle class=G cx=253 cy=1553 /><circle class=w2 cx=190 cy=1641 /><circle class=G cx=207 cy=1582 /><circle class=G cx=286 cy=1553 /><circle class=G cx=200 cy=1620 /><circle class=G cx=192 cy=1609 /><circle class=G cx=227 cy=1602 /><circle class=G cx=232 cy=1608 /><circle class=p cx=357 cy=1600 /><circle class=w2 cx=170 cy=1530 /><circle class=w2 cx=351 cy=1528 /><circle class=p cx=440 cy=1518 /><circle class=w3 cx=426 cy=1587 /><circle class=p cx=191 cy=1594 /><circle class=w1 cx=264 cy=1507 /><circle class=w3 cx=425 cy=1592 /><circle class=w2 cx=262 cy=1590 /><circle class=p cx=385 cy=1586 /><circle class=w2 cx=422 cy=1634 /><circle class=p cx=449 cy=1604 /><circle class=G cx=208 cy=1579 /><circle class=G cx=239 cy=1515 /><circle class=w2 cx=387 cy=1596 /><circle class=G cx=231 cy=1612 /><circle class=G cx=238 cy=1607 /><circle class=w2 cx=362 cy=1567 /><circle class=G cx=318 cy=1578 /><circle class=w1 cx=258 cy=1598 /><circle class=w3 cx=355 cy=1567 /><circle class=w2 cx=305 cy=1616 /><circle class=w1 cx=381 cy=1568 /><circle class=G cx=251 cy=1538 /><circle class=G cx=312 cy=1561 /><circle class=G cx=375 cy=1635 /><circle class=G cx=281 cy=1604 /><circle class=G cx=228 cy=1581 /><circle class=w2 cx=205 cy=1621 /><circle class=G cx=251 cy=1581 /><circle class=G cx=224 cy=1621 /><circle class=p cx=245 cy=1620 /><circle class=w2 cx=399 cy=1576 /><circle class=G cx=281 cy=1590 /><circle class=G cx=169 cy=1586 /><circle class=w3 cx=432 cy=1541 /><circle class=G cx=339 cy=1584 /><circle class=w2 cx=274 cy=1634 /><circle class=w3 cx=260 cy=1588 /><circle class=w2 cx=388 cy=1527 /><circle class=G cx=209 cy=1525 /><circle class=G cx=284 cy=1604 /><circle class=G cx=179 cy=1630 /><circle class=G cx=216 cy=1608 /><circle class=w2 cx=143 cy=1591 /><circle class=w3 cx=172 cy=1568 /><circle class=G cx=275 cy=1626 /><circle class=p cx=310 cy=1520 /><circle class=w2 cx=366 cy=1608 /><circle class=w3 cx=314 cy=1614 /><circle class=w1 cx=293 cy=1550 /><circle class=p cx=353 cy=1605 /><circle class=G cx=248 cy=1540 /><circle class=w2 cx=358 cy=1616 /><circle class=w1 cx=416 cy=1533 /><circle class=p cx=387 cy=1583 /><circle class=w2 cx=266 cy=1517 /><circle class=w2 cx=246 cy=1541 /><circle class=G cx=273 cy=1610 /><circle class=w1 cx=365 cy=1564 /><circle class=p cx=416 cy=1643 /><circle class=G cx=129 cy=1594 /><circle class=G cx=152 cy=1574 /><circle class=p cx=347 cy=1557 /><circle class=G cx=283 cy=1550 /><circle class=w1 cx=194 cy=1537 /><circle class=G cx=212 cy=1621 /><circle class=G cx=229 cy=1625 /><circle class=w2 cx=290 cy=1526 /><circle class=G cx=236 cy=1538 /><circle class=p cx=242 cy=1527 /><circle class=G cx=274 cy=1625 /><circle class=G cx=139 cy=1570 /><circle class=p cx=428 cy=1636 /><circle class=w2 cx=303 cy=1619 /><circle class=w2 cx=355 cy=1615 /><circle class=p cx=300 cy=1649 /><circle class=G cx=231 cy=1535 /><circle class=G cx=213 cy=1600 /><circle class=p cx=448 cy=1621 /><circle class=w2 cx=446 cy=1582 /><circle class=G cx=320 cy=1596 /><circle class=G cx=207 cy=1599 /><circle class=G cx=228 cy=1610 /><circle class=p cx=375 cy=1606 /><circle class=G cx=205 cy=1565 /><circle class=G cx=130 cy=1611 /><circle class=p cx=131 cy=1543 /><circle class=p cx=383 cy=1612 /><circle class=G cx=327 cy=1594 /><circle class=p cx=358 cy=1555 /><circle class=p cx=417 cy=1647 /><circle class=w2 cx=242 cy=1514 /><circle class=p cx=163 cy=1555 /><circle class=G cx=284 cy=1556 /><circle class=G cx=209 cy=1522 /><circle class=G cx=215 cy=1584 /><circle class=G cx=230 cy=1548 /><circle class=w1 cx=196 cy=1642 /><circle class=w2 cx=190 cy=1528 /><circle class=G cx=329 cy=1596 /><circle class=G cx=177 cy=1618 /><circle class=G cx=146 cy=1583 /><circle class=G cx=277 cy=1583 /><circle class=w2 cx=287 cy=1528 /><circle class=G cx=149 cy=1608 /><circle class=G cx=160 cy=1585 /><circle class=w3 cx=424 cy=1548 /><circle class=G cx=209 cy=1568 /><circle class=w3 cx=392 cy=1586 /><circle class=w2 cx=140 cy=1583 /><circle class=G cx=274 cy=1584 /><circle class=w2 cx=296 cy=1604 /><circle class=G cx=162 cy=1603 /><circle class=G cx=159 cy=1595 /><circle class=G cx=246 cy=1533 /><circle class=p cx=329 cy=1615 /><circle class=p cx=413 cy=1622 /><circle class=G cx=142 cy=1574 /><circle class=p cx=231 cy=1639 /><circle class=w2 cx=379 cy=1548 /><circle class=G cx=196 cy=1628 /><circle class=G cx=220 cy=1525 /><circle class=p cx=241 cy=1517 /><circle class=w1 cx=267 cy=1626 /><circle class=G cx=202 cy=1527 /><circle class=G cx=281 cy=1582 /><circle class=G cx=281 cy=1570 /><circle class=G cx=145 cy=1582 /><circle class=p cx=422 cy=1508 /><circle class=w2 cx=200 cy=1562 /><circle class=G cx=315 cy=1588 /><circle class=G cx=428 cy=1582 /><circle class=G cx=267 cy=1547 /><circle class=p cx=398 cy=1649 /><circle class=w2 cx=290 cy=1522 /><circle class=w2 cx=308 cy=1639 /><circle class=w2 cx=392 cy=1569 /><circle class=G cx=282 cy=1556 /><circle class=w2 cx=424 cy=1577 /><circle class=G cx=175 cy=1601 /><circle class=p cx=352 cy=1543 /><circle class=G cx=280 cy=1627 /><circle class=w2 cx=175 cy=1654 /><circle class=G cx=203 cy=1580 /><circle class=p cx=390 cy=1618 /><circle class=G cx=179 cy=1599 /><circle class=w2 cx=211 cy=1611 /><circle class=w2 cx=306 cy=1642 /><circle class=G cx=201 cy=1541 /><circle class=G cx=129 cy=1583 /><circle class=G cx=207 cy=1606 /><circle class=G cx=247 cy=1589 /><circle class=w2 cx=378 cy=1629 /><circle class=w2 cx=162 cy=1625 /><circle class=G cx=130 cy=1576 /><circle class=w1 cx=249 cy=1627 /><circle class=w3 cx=379 cy=1614 /><circle class=w2 cx=255 cy=1593 /><circle class=w1 cx=419 cy=1516 /><circle class=w2 cx=169 cy=1558 /><circle class=w2 cx=371 cy=1620 /><circle class=w2 cx=301 cy=1654 /><circle class=G cx=333 cy=1576 /><circle class=G cx=138 cy=1614 /><circle class=w2 cx=154 cy=1557 /><circle class=p cx=131 cy=1623 /><circle class=w3 cx=419 cy=1605 /><circle class=G cx=322 cy=1582 /><circle class=G cx=153 cy=1588 /><circle class=w3 cx=374 cy=1525 /><circle class=w1 cx=250 cy=1590 /><circle class=p cx=393 cy=1639 /><circle class=w3 cx=198 cy=1544 /><circle class=G cx=269 cy=1611 /><circle class=p cx=195 cy=1649 /><circle class=w3 cx=429 cy=1615 /><circle class=w1 cx=365 cy=1610 /><circle class=w3 cx=146 cy=1563 /><circle class=w2 cx=426 cy=1588 /><circle class=G cx=277 cy=1547 /><circle class=w1 cx=350 cy=1593 /><circle class=G cx=169 cy=1622 /><circle class=w2 cx=172 cy=1645 /><circle class=G cx=166 cy=1605 /><circle class=w2 cx=260 cy=1523 /><circle class=w2 cx=402 cy=1599 /><circle class=w1 cx=241 cy=1512 /><circle class=p cx=357 cy=1565 /><circle class=p cx=261 cy=1607 /><circle class=p cx=291 cy=1570 /><circle class=G cx=225 cy=1624 /><circle class=p cx=168 cy=1653 /><circle class=G cx=168 cy=1626 /><circle class=w2 cx=134 cy=1568 /><circle class=p cx=351 cy=1540 /><circle class=G cx=384 cy=1585 /><circle class=p cx=258 cy=1597 /><circle class=G cx=142 cy=1626 /><circle class=w2 cx=381 cy=1552 /><circle class=w1 cx=191 cy=1564 /><circle class=w1 cx=449 cy=1608 /><circle class=w3 cx=156 cy=1542 /><circle class=p cx=400 cy=1642 /><circle class=w1 cx=402 cy=1579 /><circle class=w2 cx=453 cy=1550 /><circle class=w1 cx=433 cy=1622 /><circle class=G cx=230 cy=1616 /><circle class=G cx=438 cy=1581 /><circle class=w2 cx=266 cy=1542 /><circle class=w2 cx=239 cy=1616 /><circle class=w3 cx=141 cy=1646 /><circle class=w2 cx=314 cy=1548 /><circle class=p cx=452 cy=1549 /><circle class=p cx=383 cy=1638 /><circle class=G cx=394 cy=1642 /><circle class=w2 cx=259 cy=1623 /><circle class=w1 cx=419 cy=1601 /><circle class=G cx=452 cy=1549 /><circle class=w3 cx=354 cy=1600 /><circle class=G cx=208 cy=1534 /><circle class=G cx=178 cy=1607 /><circle class=p cx=190 cy=1570 /><circle class=G cx=281 cy=1571 /><circle class=G cx=209 cy=1560 /><circle class=w2 cx=395 cy=1616 /><circle class=w3 cx=396 cy=1544 /><circle class=w3 cx=160 cy=1530 /><circle class=p cx=158 cy=1658 /><circle class=p cx=383 cy=1605 /><circle class=p cx=287 cy=1635 /><circle class=G cx=158 cy=1596 /><circle class=G cx=444 cy=1607 /><circle class=G cx=213 cy=1526 /><circle class=G cx=220 cy=1523 /><circle class=w2 cx=229 cy=1519 /><circle class=p cx=309 cy=1650 /><circle class=w2 cx=173 cy=1526 /><circle class=w1 cx=181 cy=1536 /><circle class=G cx=270 cy=1593 /><circle class=G cx=283 cy=1621 /><circle class=w2 cx=390 cy=1637 /><circle class=p cx=130 cy=1551 /><circle class=G cx=170 cy=1602 /><circle class=w2 cx=296 cy=1602 /><circle class=G cx=224 cy=1582 /><circle class=w3 cx=298 cy=1593 /><circle class=p cx=352 cy=1628 /><circle class=G cx=272 cy=1543 /><circle class=p cx=345 cy=1518 /><circle class=G cx=210 cy=1537 /><circle class=p cx=447 cy=1572 /><circle class=w2 cx=147 cy=1648 /><circle class=p cx=161 cy=1652 /><circle class=G cx=197 cy=1615 /><circle class=w2 cx=263 cy=1519 /><circle class=G cx=282 cy=1607 /><circle class=p cx=313 cy=1601 /><circle class=G cx=165 cy=1608 /><circle class=G cx=227 cy=1620 /><circle class=w2 cx=171 cy=1553 /><circle class=p cx=383 cy=1569 /><circle class=G cx=255 cy=1567 /><circle class=w2 cx=394 cy=1614 /><circle class=p cx=132 cy=1544 /><circle class=G cx=202 cy=1532 /><circle class=w2 cx=153 cy=1554 /><circle class=w1 cx=200 cy=1650 /><circle class=p cx=149 cy=1530 /><circle class=G cx=152 cy=1583 /><circle class=G cx=288 cy=1556 /><circle class=w1 cx=362 cy=1543 /><circle class=w2 cx=440 cy=1575 /><circle class=G cx=148 cy=1578 /><circle class=G cx=167 cy=1601 /><circle class=w3 cx=206 cy=1639 /><circle class=w2 cx=202 cy=1601 /><circle class=G cx=148 cy=1588 /><circle class=w1 cx=338 cy=1536 /><circle class=w2 cx=241 cy=1525 /><circle class=G cx=141 cy=1598 /><circle class=w3 cx=314 cy=1510 /><circle class=w2 cx=411 cy=1618 /><circle class=w1 cx=416 cy=1564 /><circle class=G cx=127 cy=1564 /><circle class=p cx=283 cy=1507 /><circle class=G cx=165 cy=1582 /><circle class=w2 cx=190 cy=1562 /><circle class=w2 cx=319 cy=1554 /><circle class=w3 cx=398 cy=1549 /><circle class=w1 cx=237 cy=1622 /><circle class=p cx=429 cy=1588 /><circle class=w3 cx=360 cy=1528 /><circle class=p cx=431 cy=1635 /><circle class=p cx=375 cy=1579 /><circle class=w1 cx=434 cy=1595 /><circle class=w2 cx=451 cy=1544 /><circle class=w3 cx=239 cy=1638 /><circle class=G cx=182 cy=1601 /><circle class=p cx=385 cy=1638 /><circle class=w3 cx=168 cy=1632 /><circle class=p cx=298 cy=1641 /><circle class=G cx=237 cy=1552 /><circle class=w2 cx=424 cy=1558 /><circle class=G cx=248 cy=1551 /><circle class=p cx=436 cy=1631 /><circle class=w2 cx=290 cy=1525 /><circle class=w2 cx=284 cy=1524 /><circle class=w2 cx=406 cy=1609 /><circle class=w2 cx=374 cy=1554 /><circle class=w2 cx=240 cy=1534 /><circle class=G cx=143 cy=1621 /><circle class=w3 cx=138 cy=1551 /><circle class=G cx=243 cy=1590 /><circle class=w1 cx=381 cy=1510 /><circle class=w3 cx=178 cy=1646 /><circle class=w2 cx=190 cy=1572 /><circle class=G cx=223 cy=1600 /><circle class=G cx=329 cy=1576 /><circle class=G cx=235 cy=1608 /><circle class=G cx=205 cy=1546 /><circle class=G cx=234 cy=1584 /><circle class=G cx=181 cy=1603 /><circle class=G cx=316 cy=1624 /><circle class=w1 cx=127 cy=1614 /><circle class=w2 cx=420 cy=1537 /><circle class=w2 cx=144 cy=1652 /><circle class=w1 cx=360 cy=1607 /><circle class=w2 cx=263 cy=1529 /><circle class=G cx=425 cy=1577 /><circle class=G cx=209 cy=1583 /><circle class=w2 cx=375 cy=1565 /><circle class=w2 cx=191 cy=1571 /><circle class=G cx=186 cy=1615 /><circle class=G cx=280 cy=1556 /><circle class=G cx=236 cy=1583 /><circle class=G cx=380 cy=1560 /><circle class=w2 cx=386 cy=1598 /><circle class=w3 cx=430 cy=1624 /><circle class=G cx=286 cy=1603 /><circle class=p cx=408 cy=1597 /><circle class=G cx=236 cy=1611 /><circle class=p cx=280 cy=1522 /><circle class=w1 cx=387 cy=1582 /><circle class=w2 cx=236 cy=1607 /><circle class=G cx=323 cy=1577 /><circle class=G cx=289 cy=1552 /><circle class=w1 cx=357 cy=1620 /><circle class=G cx=271 cy=1555 /><circle class=p cx=130 cy=1628 /><circle class=w3 cx=267 cy=1618 /><circle class=G cx=232 cy=1586 /><circle class=w1 cx=357 cy=1584 /><circle class=w2 cx=147 cy=1580 /><circle class=G cx=216 cy=1526 /><circle class=G cx=271 cy=1553 /><circle class=p cx=423 cy=1538 /><circle class=w2 cx=380 cy=1556 /><circle class=G cx=246 cy=1578 /><circle class=G cx=190 cy=1613 /><circle class=G cx=317 cy=1578 /><circle class=w2 cx=397 cy=1570 /><circle class=G cx=144 cy=1569 /><circle class=w2 cx=328 cy=1529 /><circle class=w1 cx=312 cy=1554 /><circle class=p cx=355 cy=1586 /><circle class=w2 cx=256 cy=1612 /><circle class=G cx=339 cy=1593 /><circle class=G cx=130 cy=1579 /><circle class=G cx=259 cy=1545 /><circle class=w2 cx=342 cy=1544 /><circle class=w1 cx=258 cy=1621 /><circle class=w3 cx=237 cy=1623 /><circle class=p cx=354 cy=1600 /><circle class=G cx=248 cy=1552 /><circle class=G cx=214 cy=1529 /><circle class=w2 cx=351 cy=1610 /><circle class=G cx=239 cy=1573 /><circle class=w1 cx=310 cy=1623 /><circle class=w1 cx=309 cy=1594 /><circle class=w1 cx=367 cy=1548 /><circle class=G cx=206 cy=1545 /><circle class=w2 cx=370 cy=1524 /><circle class=p cx=178 cy=1650 /><circle class=G cx=252 cy=1590 /><circle class=G cx=145 cy=1580 /><circle class=w2 cx=166 cy=1522 /><circle class=w2 cx=251 cy=1610 /><circle class=G cx=267 cy=1604 /><circle class=w2 cx=249 cy=1602 /><circle class=G cx=162 cy=1573 /><circle class=w3 cx=420 cy=1535 /><circle class=p cx=127 cy=1591 /><circle class=p cx=454 cy=1582 /><circle class=w3 cx=428 cy=1631 /><circle class=w1 cx=438 cy=1595 /><circle class=p cx=400 cy=1507 /><circle class=w2 cx=187 cy=1562 /><circle class=w2 cx=354 cy=1545 /><circle class=G cx=152 cy=1603 /><circle class=w2 cx=385 cy=1613 /><circle class=G cx=281 cy=1559 /><circle class=G cx=232 cy=1536 /><circle class=w1 cx=261 cy=1628 /><circle class=w3 cx=294 cy=1603 /><circle class=w2 cx=378 cy=1601 /><circle class=G cx=317 cy=1572 /><circle class=w1 cx=430 cy=1549 /><circle class=G cx=289 cy=1570 /><circle class=w2 cx=145 cy=1546 /><circle class=w2 cx=408 cy=1559 /><circle class=G cx=227 cy=1609 /><circle class=G cx=157 cy=1577 /><circle class=G cx=273 cy=1559 /><circle class=w1 cx=312 cy=1599 /><circle class=p cx=310 cy=1641 /><circle class=w1 cx=175 cy=1542 /><circle class=w3 cx=126 cy=1567 /><circle class=w2 cx=433 cy=1615 /><circle class=w3 cx=393 cy=1548 /><circle class=p cx=448 cy=1584 /><circle class=w2 cx=270 cy=1591 /><circle class=p cx=173 cy=1640 /><circle class=p cx=125 cy=1574 /><circle class=w2 cx=193 cy=1641 /><circle class=w2 cx=407 cy=1604 /><circle class=G cx=152 cy=1614 /><circle class=p cx=192 cy=1556 /><circle class=w3 cx=395 cy=1546 /><circle class=p cx=382 cy=1632 /><circle class=G cx=195 cy=1633 /><circle class=p cx=312 cy=1511 /><circle class=G cx=134 cy=1589 /><circle class=G cx=233 cy=1575 /><circle class=G cx=244 cy=1590 /><circle class=G cx=215 cy=1619 /><circle class=G cx=162 cy=1580 /><circle class=G cx=284 cy=1530 /><circle class=G cx=238 cy=1539 /><circle class=w2 cx=423 cy=1549 /><circle class=w2 cx=398 cy=1617 /><circle class=G cx=234 cy=1537 /><circle class=G cx=269 cy=1542 /><circle class=p cx=320 cy=1633 /><circle class=w3 cx=424 cy=1593 /><circle class=w2 cx=158 cy=1572 /><circle class=w3 cx=315 cy=1623 /><circle class=G cx=274 cy=1589 /><circle class=p cx=384 cy=1513 /><circle class=G cx=237 cy=1540 /><circle class=w1 cx=308 cy=1529 /><circle class=G cx=129 cy=1597 /><circle class=G cx=134 cy=1620 /><circle class=G cx=253 cy=1551 /><circle class=w2 cx=370 cy=1524 /><circle class=w2 cx=306 cy=1513 /><circle class=G cx=263 cy=1560 /><circle class=w1 cx=147 cy=1549 /><circle class=p cx=450 cy=1587 /><circle class=w2 cx=177 cy=1560 /><circle class=w2 cx=364 cy=1601 /><circle class=w2 cx=409 cy=1637 /><circle class=w3 cx=360 cy=1574 /><circle class=p cx=134 cy=1545 /><circle class=w1 cx=422 cy=1518 /><circle class=G cx=442 cy=1631 /><circle class=w2 cx=165 cy=1640 /><circle class=w2 cx=169 cy=1536 /><circle class=G cx=275 cy=1527 /><circle class=G cx=205 cy=1568 /><circle class=w1 cx=403 cy=1610 /><circle class=G cx=253 cy=1553 /><circle class=p cx=348 cy=1614 /><circle class=w1 cx=403 cy=1627 /><circle class=G cx=143 cy=1570 /><circle class=G cx=230 cy=1532 /><circle class=G cx=206 cy=1549 /><circle class=G cx=320 cy=1575 /><circle class=w2 cx=266 cy=1537 /><circle class=p cx=333 cy=1530 /><circle class=p cx=442 cy=1560 /><circle class=G cx=208 cy=1526 /><circle class=p cx=386 cy=1523 /><circle class=G cx=267 cy=1584 /><circle class=G cx=316 cy=1586 /><circle class=p cx=354 cy=1529 /><circle class=G cx=231 cy=1563 /><circle class=p cx=337 cy=1560 /><circle class=p cx=180 cy=1657 /><circle class=p cx=178 cy=1524 /><circle class=G cx=230 cy=1543 /><circle class=G cx=226 cy=1609 /><circle class=w2 cx=443 cy=1596 /><circle class=p cx=331 cy=1532 /><circle class=w2 cx=321 cy=1554 /><circle class=G cx=272 cy=1545 /><circle class=w2 cx=428 cy=1535 /><circle class=G cx=258 cy=1550 /><circle class=w2 cx=399 cy=1578 /><circle class=w2 cx=411 cy=1614 /><circle class=G cx=217 cy=1610 /><circle class=w1 cx=310 cy=1601 /><circle class=G cx=386 cy=1638 /><circle class=G cx=248 cy=1566 /><circle class=G cx=267 cy=1574 /><circle class=G cx=148 cy=1602 /><circle class=G cx=158 cy=1569 /><circle class=G cx=272 cy=1615 /><circle class=w2 cx=352 cy=1578 /><circle class=p cx=409 cy=1563 /><circle class=G cx=248 cy=1586 /><circle class=G cx=288 cy=1561 /><circle class=w2 cx=278 cy=1566 /><circle class=G cx=325 cy=1573 /><circle class=G cx=266 cy=1578 /><circle class=p cx=160 cy=1655 /><circle class=w1 cx=312 cy=1530 /><circle class=G cx=150 cy=1596 /><circle class=G cx=268 cy=1604 /><circle class=w2 cx=256 cy=1613 /><circle class=G cx=272 cy=1620 /><circle class=p cx=419 cy=1556 /><circle class=w2 cx=222 cy=1605 /><circle class=w2 cx=333 cy=1573 /><circle class=w2 cx=215 cy=1558 /><circle class=G cx=285 cy=1578 /><circle class=w2 cx=428 cy=1615 /><circle class=G cx=263 cy=1627 /><circle class=w1 cx=388 cy=1632 /><circle class=w3 cx=315 cy=1563 /><circle class=w3 cx=440 cy=1631 /><circle class=w2 cx=314 cy=1632 /><circle class=w2 cx=445 cy=1573 /><circle class=G cx=271 cy=1568 /><circle class=G cx=164 cy=1610 /><circle class=w3 cx=196 cy=1573 /><circle class=p cx=172 cy=1580 /><circle class=w2 cx=164 cy=1656 /><circle class=G cx=279 cy=1586 /><circle class=G cx=149 cy=1563 /><circle class=G cx=209 cy=1524 /><circle class=w1 cx=437 cy=1548 /><circle class=G cx=167 cy=1613 /><circle class=G cx=254 cy=1570 /><circle class=w2 cx=140 cy=1635 /><circle class=G cx=225 cy=1546 /><circle class=w1 cx=128 cy=1554 /><circle class=w2 cx=185 cy=1521 /><circle class=w2 cx=140 cy=1559 /><circle class=w2 cx=301 cy=1616 /><circle class=w2 cx=390 cy=1579 /><circle class=G cx=362 cy=1543 /><circle class=w2 cx=126 cy=1575 /><circle class=w1 cx=166 cy=1540 /><circle class=w2 cx=157 cy=1528 /><circle class=G cx=229 cy=1555 /><circle class=w1 cx=150 cy=1549 /><circle class=G cx=207 cy=1558 /><circle class=w2 cx=373 cy=1639 /><circle class=p cx=317 cy=1570 /><circle class=G cx=283 cy=1600 /><circle class=w1 cx=320 cy=1612 /><circle class=w3 cx=150 cy=1554 /><circle class=G cx=268 cy=1566 /><circle class=w2 cx=439 cy=1559 /><circle class=G cx=236 cy=1578 /><circle class=G cx=170 cy=1618 /><circle class=p cx=392 cy=1579 /><circle class=w1 cx=301 cy=1617 /><circle class=w3 cx=365 cy=1535 /><circle class=G cx=229 cy=1597 /><circle class=p cx=385 cy=1615 /><circle class=w2 cx=274 cy=1621 /><circle class=G cx=210 cy=1633 /><circle class=G cx=148 cy=1603 /><circle class=G cx=275 cy=1591 /><circle class=w2 cx=242 cy=1520 /><circle class=w2 cx=363 cy=1541 /><circle class=w1 cx=389 cy=1601 /><circle class=G cx=332 cy=1585 /><circle class=w3 cx=392 cy=1600 /><circle class=G cx=271 cy=1613 /><circle class=G cx=207 cy=1573 /><circle class=w2 cx=447 cy=1615 /><circle class=w2 cx=341 cy=1578 /><circle class=p cx=381 cy=1532 /><circle class=G cx=245 cy=1596 /><circle class=w2 cx=387 cy=1577 /><circle class=w2 cx=359 cy=1558 /><circle class=w2 cx=248 cy=1532 /><circle class=G cx=334 cy=1578 /><circle class=G cx=232 cy=1617 /><circle class=G cx=227 cy=1582 /><circle class=G cx=331 cy=1574 /><circle class=p cx=324 cy=1525 /><circle class=p cx=409 cy=1573 /><circle class=G cx=139 cy=1592 /><circle class=w2 cx=372 cy=1586 /><circle class=p cx=196 cy=1542 /><circle class=w1 cx=195 cy=1589 /><circle class=G cx=419 cy=1549 /><circle class=w1 cx=145 cy=1646 /><circle class=G cx=212 cy=1550 /><circle class=G cx=311 cy=1581 /><circle class=w3 cx=280 cy=1523 /><circle class=G cx=149 cy=1615 /><circle class=w2 cx=211 cy=1632 /><circle class=p cx=170 cy=1562 /><circle class=p cx=266 cy=1532 /><circle class=G cx=137 cy=1601 /><circle class=G cx=207 cy=1553 /><circle class=G cx=276 cy=1623 /><circle class=w2 cx=362 cy=1593 /><circle class=G cx=160 cy=1570 /><circle class=p cx=309 cy=1536 /><circle class=G cx=206 cy=1574 /><circle class=w2 cx=164 cy=1621 /><circle class=w2 cx=275 cy=1612 /><circle class=G cx=161 cy=1583 /><circle class=w1 cx=199 cy=1635 /><circle class=p cx=307 cy=1561 /><circle class=G cx=221 cy=1561 /><circle class=G cx=220 cy=1556 /><circle class=w2 cx=176 cy=1562 /><circle class=w3 cx=162 cy=1625 /><circle class=w3 cx=427 cy=1576 /><circle class=G cx=142 cy=1577 /><circle class=w2 cx=379 cy=1530 /><circle class=w2 cx=206 cy=1621 /><circle class=G cx=235 cy=1546 /><circle class=G cx=211 cy=1560 /><circle class=w2 cx=144 cy=1541 /><circle class=w2 cx=200 cy=1607 /><circle class=w3 cx=388 cy=1517 /><circle class=w3 cx=169 cy=1529 /><circle class=G cx=247 cy=1569 /><circle class=p cx=409 cy=1642 /><circle class=p cx=157 cy=1652 /><circle class=G cx=260 cy=1550 /><circle class=w1 cx=182 cy=1559 /><circle class=w2 cx=421 cy=1527 /><circle class=p cx=213 cy=1625 /><circle class=w3 cx=276 cy=1518 /><circle class=w2 cx=140 cy=1538 /><circle class=G cx=273 cy=1559 /><circle class=w2 cx=330 cy=1559 /><circle class=w2 cx=175 cy=1659 /><circle class=w2 cx=410 cy=1534 /><circle class=p cx=139 cy=1540 /><circle class=G cx=285 cy=1535 /><circle class=w2 cx=362 cy=1575 /><circle class=G cx=231 cy=1548 /><circle class=w1 cx=398 cy=1645 /><circle class=w2 cx=239 cy=1636 /><circle class=G cx=223 cy=1528 /><circle class=w2 cx=303 cy=1617 /><circle class=w2 cx=361 cy=1635 /><circle class=w2 cx=396 cy=1517 /><circle class=w2 cx=185 cy=1659 /><circle class=G cx=166 cy=1590 /><circle class=w3 cx=388 cy=1594 /><circle class=p cx=299 cy=1619 /><circle class=w2 cx=394 cy=1538 /><circle class=w3 cx=373 cy=1587 /><circle class=G cx=162 cy=1567 /><circle class=G cx=317 cy=1575 /><circle class=G cx=149 cy=1608 /><circle class=G cx=286 cy=1558 /><circle class=G cx=243 cy=1531 /><circle class=w3 cx=292 cy=1507 /><circle class=G cx=190 cy=1630 /><circle class=w3 cx=341 cy=1542 /><circle class=p cx=286 cy=1517 /><circle class=p cx=402 cy=1534 /><circle class=G cx=201 cy=1548 /><circle class=w2 cx=418 cy=1633 /><circle class=w1 cx=430 cy=1507 /><circle class=w2 cx=409 cy=1604 /><circle class=w1 cx=303 cy=1651 /><circle class=G cx=237 cy=1575 /><circle class=w2 cx=432 cy=1616 /><circle class=p cx=420 cy=1607 /><circle class=w1 cx=194 cy=1548 /><circle class=G cx=236 cy=1530 /><circle class=p cx=447 cy=1617 /><circle class=G cx=219 cy=1582 /><circle class=w2 cx=172 cy=1641 /><circle class=p cx=194 cy=1525 /><circle class=G cx=232 cy=1531 /><circle class=w3 cx=245 cy=1599 /><circle class=p cx=294 cy=1543 /><circle class=w2 cx=270 cy=1553 /><circle class=w3 cx=360 cy=1525 /><circle class=G cx=141 cy=1601 /><circle class=p cx=191 cy=1531 /><circle class=G cx=257 cy=1574 /><circle class=p cx=345 cy=1597 /><circle class=p cx=297 cy=1591 /><circle class=w2 cx=285 cy=1514 /><circle class=w1 cx=329 cy=1604 /><circle class=G cx=374 cy=1558 /><circle class=G cx=220 cy=1590 /><circle class=w2 cx=255 cy=1609 /><circle class=G cx=244 cy=1537 /><circle class=G cx=268 cy=1541 /><circle class=w2 cx=258 cy=1623 /><circle class=p cx=159 cy=1643 /><circle class=w3 cx=277 cy=1522 /><circle class=w2 cx=373 cy=1556 /><circle class=w1 cx=376 cy=1582 /><circle class=G cx=177 cy=1602 /><circle class=w2 cx=342 cy=1569 /><circle class=G cx=216 cy=1546 /><circle class=w2 cx=226 cy=1527 /><circle class=w2 cx=262 cy=1621 /><circle class=p cx=269 cy=1636 /><circle class=G cx=256 cy=1581 /><circle class=p cx=177 cy=1520 /><circle class=G cx=223 cy=1598 /><circle class=w3 cx=192 cy=1547 /><circle class=G cx=232 cy=1571 /><circle class=p cx=364 cy=1627 /><circle class=w2 cx=387 cy=1621 /><circle class=G cx=170 cy=1612 /><circle class=G cx=282 cy=1530 /><circle class=p cx=131 cy=1556 /><circle class=w3 cx=346 cy=1586 /><circle class=G cx=131 cy=1570 /><circle class=G cx=276 cy=1544 /><circle class=G cx=147 cy=1604 /><circle class=G cx=225 cy=1618 /><circle class=G cx=318 cy=1581 /><circle class=G cx=247 cy=1581 /><circle class=G cx=259 cy=1565 /><circle class=G cx=211 cy=1615 /><circle class=p cx=410 cy=1570 /><circle class=w3 cx=384 cy=1509 /><circle class=w2 cx=445 cy=1582 /><circle class=G cx=264 cy=1548 /><circle class=w2 cx=313 cy=1525 /><circle class=w3 cx=444 cy=1549 /><circle class=G cx=184 cy=1607 /><circle class=w3 cx=349 cy=1569 /><circle class=w2 cx=316 cy=1532 /><circle class=G cx=283 cy=1621 /><circle class=w3 cx=144 cy=1557 /><circle class=p cx=444 cy=1530 /><circle class=w3 cx=300 cy=1619 /><circle class=G cx=215 cy=1574 /><circle class=G cx=430 cy=1595 /><circle class=w2 cx=253 cy=1603 /><circle class=G cx=278 cy=1626 /><circle class=w2 cx=133 cy=1641 /><circle class=w3 cx=456 cy=1585 /><circle class=w3 cx=353 cy=1544 /><circle class=G cx=228 cy=1583 /><circle class=w1 cx=388 cy=1632 /><circle class=w1 cx=258 cy=1642 /><circle class=G cx=287 cy=1599 /><circle class=G cx=315 cy=1578 /><circle class=w1 cx=259 cy=1529 /><circle class=p cx=212 cy=1623 /><circle class=G cx=154 cy=1604 /><circle class=G cx=280 cy=1618 /><circle class=G cx=281 cy=1626 /><circle class=G cx=168 cy=1575 /><circle class=w3 cx=369 cy=1573 /><circle class=G cx=181 cy=1628 /><circle class=G cx=216 cy=1546 /><circle class=G cx=174 cy=1632 /><circle class=p cx=429 cy=1632 /><circle class=p cx=424 cy=1536 /><circle class=w2 cx=309 cy=1628 /><circle class=G cx=419 cy=1638 /><circle class=G cx=287 cy=1544 /><circle class=w3 cx=264 cy=1514 /><circle class=w2 cx=412 cy=1540 /><circle class=p cx=143 cy=1649 /><circle class=G cx=257 cy=1573 /><circle class=G cx=281 cy=1607 /><circle class=w3 cx=174 cy=1555 /><circle class=G cx=275 cy=1553 /><circle class=w2 cx=284 cy=1526 /><circle class=G cx=281 cy=1526 /><circle class=w2 cx=376 cy=1522 /><circle class=w1 cx=289 cy=1630 /><circle class=G cx=270 cy=1638 /><circle class=w3 cx=177 cy=1569 /><circle class=p cx=236 cy=1623 /><circle class=p cx=154 cy=1654 /><circle class=G cx=140 cy=1597 /><circle class=G cx=199 cy=1541 /><circle class=p cx=221 cy=1642 /><circle class=p cx=305 cy=1593 /><circle class=G cx=161 cy=1579 /><circle class=w1 cx=195 cy=1523 /><circle class=w2 cx=321 cy=1600 /><circle class=w2 cx=408 cy=1618 /><circle class=G cx=140 cy=1601 /><circle class=G cx=186 cy=1615 /><circle class=w2 cx=306 cy=1602 /><circle class=G cx=219 cy=1569 /><circle class=w1 cx=305 cy=1614 /><circle class=w2 cx=178 cy=1527 /><circle class=w2 cx=292 cy=1526 /><circle class=G cx=272 cy=1552 /><circle class=w2 cx=180 cy=1567 /><circle class=w2 cx=288 cy=1591 /><circle class=p cx=406 cy=1599 /><circle class=p cx=448 cy=1598 /><circle class=w2 cx=294 cy=1639 /><circle class=p cx=432 cy=1512 /><circle class=w2 cx=135 cy=1626 /><circle class=w1 cx=378 cy=1559 /><circle class=w2 cx=257 cy=1580 /><circle class=G cx=170 cy=1625 /><circle class=p cx=399 cy=1596 /><circle class=G cx=213 cy=1531 /><circle class=p cx=441 cy=1557 /><circle class=w2 cx=175 cy=1651 /><circle class=w2 cx=365 cy=1602 /><circle class=G cx=232 cy=1588 /><circle class=w1 cx=398 cy=1633 /><circle class=G cx=284 cy=1527 /><circle class=p cx=409 cy=1546 /><circle class=w2 cx=194 cy=1640 /><circle class=G cx=442 cy=1601 /><circle class=G cx=177 cy=1598 /><circle class=w1 cx=138 cy=1634 /><circle class=p cx=344 cy=1569 /><circle class=w3 cx=374 cy=1540 /><circle class=p cx=347 cy=1520 /><circle class=w3 cx=354 cy=1558 /><circle class=G cx=280 cy=1534 /><circle class=p cx=352 cy=1615 /><circle class=G cx=238 cy=1606 /><circle class=G cx=249 cy=1595 /><circle class=w2 cx=292 cy=1573 /><circle class=w1 cx=373 cy=1592 /><circle class=w2 cx=388 cy=1602 /><circle class=G cx=135 cy=1579 /><circle class=G cx=245 cy=1556 /><circle class=p cx=381 cy=1526 /><circle class=w1 cx=375 cy=1592 /><circle class=G cx=142 cy=1604 /><circle class=G cx=220 cy=1564 /><circle class=G cx=286 cy=1563 /><circle class=p cx=444 cy=1571 /><circle class=w3 cx=307 cy=1627 /><circle class=w2 cx=189 cy=1540 /><circle class=G cx=145 cy=1627 /><circle class=G cx=186 cy=1617 /><circle class=G cx=221 cy=1603 /><circle class=w2 cx=240 cy=1630 /><circle class=w1 cx=403 cy=1566 /><circle class=w3 cx=417 cy=1637 /><circle class=w3 cx=438 cy=1568 /><circle class=p cx=146 cy=1649 /><circle class=w2 cx=295 cy=1534 /><circle class=G cx=206 cy=1582 /><circle class=w1 cx=256 cy=1580 /><circle class=w1 cx=452 cy=1577 /><circle class=w3 cx=438 cy=1510 /><circle class=w1 cx=260 cy=1580 /><circle class=w2 cx=220 cy=1564 /><circle class=p cx=323 cy=1523 /><circle class=p cx=137 cy=1558 /><circle class=G cx=237 cy=1589 /><circle class=w2 cx=189 cy=1643 /><circle class=p cx=447 cy=1622 /><circle class=p cx=342 cy=1567 /><circle class=p cx=381 cy=1616 /><circle class=G cx=228 cy=1544 /><circle class=G cx=132 cy=1576 /><circle class=G cx=186 cy=1619 /><circle class=G cx=208 cy=1537 /><circle class=G cx=360 cy=1520 /><circle class=G cx=214 cy=1554 /><circle class=G cx=210 cy=1531 /><circle class=G cx=222 cy=1543 /><circle class=G cx=254 cy=1539 /><circle class=G cx=234 cy=1600 /><circle class=G cx=170 cy=1628 /><circle class=w2 cx=189 cy=1543 /><circle class=G cx=135 cy=1614 /><circle class=G cx=414 cy=1515 /><circle class=G cx=243 cy=1580 /><circle class=p cx=309 cy=1588 /><circle class=w1 cx=303 cy=1581 /><circle class=w2 cx=305 cy=1518 /><circle class=p cx=328 cy=1619 /><circle class=w2 cx=272 cy=1525 /><circle class=w2 cx=199 cy=1571 /><circle class=G cx=261 cy=1551 /><circle class=w2 cx=202 cy=1580 /><circle class=G cx=325 cy=1580 /><circle class=p cx=383 cy=1635 /><circle class=w1 cx=270 cy=1624 /><circle class=p cx=385 cy=1511 /><circle class=p cx=412 cy=1624 /><circle class=G cx=180 cy=1633 /><circle class=G cx=202 cy=1556 /><circle class=w1 cx=372 cy=1625 /><circle class=w3 cx=163 cy=1548 /><circle class=p cx=390 cy=1643 /><circle class=G cx=150 cy=1620 /><circle class=G cx=134 cy=1607 /><circle class=G cx=187 cy=1614 /><circle class=p cx=270 cy=1625 /><circle class=w3 cx=423 cy=1592 /><circle class=w1 cx=283 cy=1522 /><circle class=w2 cx=314 cy=1535 /><circle class=w3 cx=292 cy=1531 /><circle class=w2 cx=203 cy=1640 /><circle class=w2 cx=310 cy=1528 /><circle class=G cx=324 cy=1596 /><circle class=G cx=223 cy=1586 /><circle class=w2 cx=374 cy=1554 /><circle class=w2 cx=406 cy=1533 /><circle class=w1 cx=426 cy=1517 /><circle class=p cx=306 cy=1541 /><circle class=w3 cx=375 cy=1554 /><circle class=p cx=432 cy=1533 /><circle class=G cx=306 cy=1544 /><circle class=p cx=407 cy=1633 /><circle class=G cx=232 cy=1575 /><circle class=G cx=287 cy=1618 /><circle class=w2 cx=406 cy=1591 /><circle class=G cx=385 cy=1522 /><circle class=p cx=258 cy=1636 /><circle class=w2 cx=355 cy=1631 /><circle class=G cx=138 cy=1588 /><circle class=w2 cx=308 cy=1517 /><circle class=G cx=144 cy=1576 /><circle class=w1 cx=382 cy=1527 /><circle class=G cx=272 cy=1545 /><circle class=G cx=237 cy=1610 /><circle class=G cx=138 cy=1570 /><circle class=G cx=237 cy=1546 /><circle class=w3 cx=301 cy=1597 /><circle class=G cx=242 cy=1547 /><circle class=w3 cx=256 cy=1601 /><circle class=G cx=226 cy=1590 /><circle class=p cx=387 cy=1508 /><circle class=w2 cx=175 cy=1588 /><circle class=G cx=281 cy=1566 /><circle class=w3 cx=349 cy=1584 /><circle class=w2 cx=272 cy=1533 /><circle class=w1 cx=383 cy=1634 /><circle class=p cx=318 cy=1563 /><circle class=G cx=244 cy=1576 /><circle class=w1 cx=450 cy=1549 /><circle class=w2 cx=167 cy=1565 /><circle class=G cx=157 cy=1606 /><circle class=w3 cx=218 cy=1635 /><circle class=G cx=166 cy=1606 /><circle class=G cx=328 cy=1599 /><circle class=G cx=275 cy=1586 /><circle class=w3 cx=183 cy=1586 /><circle class=w2 cx=293 cy=1631 /><circle class=w2 cx=208 cy=1622 /><circle class=G cx=245 cy=1533 /><circle class=G cx=233 cy=1538 /><circle class=G cx=257 cy=1567 /><circle class=w3 cx=400 cy=1603 /><circle class=G cx=256 cy=1567 /><circle class=w2 cx=352 cy=1549 /><circle class=G cx=180 cy=1610 /><circle class=w1 cx=259 cy=1514 /><circle class=w2 cx=423 cy=1617 /><circle class=w3 cx=378 cy=1521 /><circle class=p cx=161 cy=1637 /><circle class=p cx=393 cy=1618 /><circle class=p cx=361 cy=1557 /><circle class=G cx=289 cy=1552 /><circle class=w3 cx=331 cy=1533 /><circle class=G cx=235 cy=1592 /><circle class=p cx=452 cy=1558 /><circle class=w3 cx=398 cy=1574 /><circle class=G cx=338 cy=1592 /><circle class=p cx=192 cy=1527 /><circle class=w1 cx=407 cy=1555 /><circle class=G cx=267 cy=1586 /><circle class=w2 cx=190 cy=1585 /><circle class=G cx=227 cy=1598 /><circle class=p cx=147 cy=1551 /><circle class=w3 cx=451 cy=1555 /><circle class=G cx=228 cy=1562 /><circle class=G cx=149 cy=1580 /><circle class=p cx=410 cy=1516 /><circle class=p cx=403 cy=1619 /><circle class=G cx=254 cy=1558 /><circle class=G cx=204 cy=1537 /><circle class=w2 cx=380 cy=1639 /><circle class=w1 cx=429 cy=1617 /><circle class=w2 cx=190 cy=1563 /><circle class=G cx=254 cy=1573 /><circle class=G cx=241 cy=1543 /><circle class=w2 cx=235 cy=1580 /><circle class=p cx=247 cy=1641 /><circle class=G cx=214 cy=1584 /><circle class=G cx=274 cy=1533 /><circle class=w3 cx=181 cy=1591 /><circle class=p cx=186 cy=1533 /><circle class=w1 cx=408 cy=1530 /><circle class=p cx=131 cy=1623 /><circle class=w2 cx=151 cy=1642 /><circle class=G cx=324 cy=1584 /><circle class=G cx=211 cy=1606 /><circle class=w2 cx=153 cy=1610 /><circle class=w3 cx=194 cy=1587 /><circle class=w2 cx=247 cy=1510 /><circle class=w2 cx=429 cy=1617 /><circle class=p cx=334 cy=1605 /><circle class=G cx=260 cy=1555 /><circle class=G cx=185 cy=1604 /><circle class=G cx=230 cy=1580 /><circle class=p cx=414 cy=1542 /><circle class=p cx=422 cy=1636 /><circle class=p cx=336 cy=1539 /><circle class=w2 cx=401 cy=1511 /><circle class=w2 cx=283 cy=1514 /><circle class=w3 cx=388 cy=1525 /><circle class=w3 cx=320 cy=1531 /><circle class=G cx=185 cy=1632 /><circle class=G cx=179 cy=1636 /><circle class=p cx=308 cy=1527 /><circle class=p cx=288 cy=1640 /><circle class=w2 cx=307 cy=1596 /><circle class=w1 cx=443 cy=1515 /><circle class=w2 cx=247 cy=1633 /><circle class=w1 cx=383 cy=1533 /><circle class=G cx=227 cy=1565 /><circle class=G cx=318 cy=1592 /><circle class=G cx=138 cy=1590 /><circle class=G cx=287 cy=1606 /><circle class=w2 cx=305 cy=1615 /><circle class=p cx=277 cy=1511 /><circle class=p cx=446 cy=1614 /><circle class=G cx=223 cy=1607 /><circle class=G cx=327 cy=1528 /><circle class=G cx=138 cy=1570 /><circle class=w3 cx=133 cy=1554 /><circle class=G cx=136 cy=1595 /><circle class=G cx=171 cy=1632 /><circle class=w3 cx=395 cy=1617 /><circle class=G cx=275 cy=1541 /><circle class=w2 cx=440 cy=1565 /><circle class=w2 cx=242 cy=1527 /><circle class=G cx=228 cy=1626 /><circle class=w1 cx=302 cy=1578 /><circle class=w3 cx=338 cy=1574 /><circle class=G cx=233 cy=1606 /><circle class=G cx=156 cy=1565 /><circle class=G cx=154 cy=1542 /><circle class=p cx=350 cy=1613 /><circle class=p cx=423 cy=1509 /><circle class=w2 cx=294 cy=1602 /><circle class=w1 cx=426 cy=1629 /><circle class=G cx=370 cy=1548 /><circle class=G cx=265 cy=1593 /><circle class=G cx=236 cy=1565 /><circle class=w2 cx=435 cy=1617 /><circle class=w2 cx=286 cy=1554 /><circle class=G cx=335 cy=1575 /><circle class=w3 cx=149 cy=1546 /><circle class=G cx=277 cy=1544 /><circle class=G cx=284 cy=1581 /><circle class=p cx=432 cy=1536 /><circle class=p cx=135 cy=1547 /><circle class=w3 cx=299 cy=1638 /><circle class=G cx=359 cy=1597 /><circle class=w1 cx=427 cy=1504 /><circle class=w3 cx=172 cy=1645 /><circle class=w3 cx=313 cy=1525 /><circle class=G cx=218 cy=1606 /><circle class=p cx=191 cy=1524 /><circle class=G cx=143 cy=1581 /><circle class=w3 cx=376 cy=1520 /><circle class=G cx=150 cy=1590 /><circle class=G cx=287 cy=1569 /><circle class=p cx=258 cy=1619 /><circle class=p cx=362 cy=1625 /><circle class=p cx=395 cy=1646 /><circle class=p cx=342 cy=1562 /><circle class=w2 cx=377 cy=1601 /><circle class=G cx=253 cy=1562 /><circle class=G cx=238 cy=1567 /><circle class=w2 cx=206 cy=1527 /><circle class=w2 cx=300 cy=1642 /><circle class=w3 cx=244 cy=1513 /><circle class=w1 cx=392 cy=1561 /><circle class=w2 cx=277 cy=1525 /><circle class=G cx=211 cy=1536 /><circle class=G cx=218 cy=1622 /><circle class=G cx=159 cy=1575 /><circle class=p cx=303 cy=1577 /><circle class=G cx=158 cy=1616 /><circle class=G cx=151 cy=1595 /><circle class=p cx=234 cy=1626 /><circle class=G cx=273 cy=1550 /><circle class=w2 cx=168 cy=1635 /><circle class=w1 cx=366 cy=1548 /><circle class=w2 cx=422 cy=1535 /><circle class=w2 cx=199 cy=1556 /><circle class=w3 cx=257 cy=1613 /><circle class=w2 cx=168 cy=1550 /><circle class=G cx=207 cy=1636 /><circle class=w2 cx=187 cy=1622 /><circle class=G cx=203 cy=1555 /><circle class=G cx=182 cy=1629 /><circle class=G cx=418 cy=1538 /><circle class=G cx=160 cy=1607 /><circle class=w3 cx=372 cy=1531 /><circle class=w1 cx=386 cy=1629 /><circle class=p cx=260 cy=1621 /><circle class=G cx=225 cy=1608 /><circle class=w2 cx=296 cy=1628 /><circle class=p cx=154 cy=1530 /><circle class=w3 cx=387 cy=1598 /><circle class=w3 cx=176 cy=1517 /><circle class=G cx=277 cy=1523 /><circle class=w3 cx=382 cy=1558 /><circle class=w2 cx=413 cy=1510 /><circle class=G cx=289 cy=1543 /><circle class=p cx=434 cy=1606 /><circle class=G cx=205 cy=1581 /><circle class=G cx=254 cy=1544 /><circle class=p cx=177 cy=1537 /><circle class=G cx=251 cy=1576 /><circle class=w1 cx=174 cy=1570 /><circle class=G cx=207 cy=1527 /><circle class=p cx=400 cy=1649 /><circle class=G cx=285 cy=1545 /><circle class=G cx=149 cy=1579 /><circle class=G cx=252 cy=1560 /><circle class=G cx=279 cy=1617 /><circle class=w1 cx=427 cy=1596 /><circle class=w3 cx=332 cy=1568 /><circle class=w1 cx=329 cy=1527 /><circle class=w1 cx=384 cy=1614 /><circle class=G cx=220 cy=1603 /><circle class=G cx=225 cy=1597 /><circle class=G cx=257 cy=1557 /><circle class=G cx=217 cy=1562 /><circle class=w2 cx=323 cy=1540 /><circle class=w1 cx=250 cy=1594 /><circle class=p cx=172 cy=1568 /><circle class=G cx=258 cy=1565 /><circle class=G cx=204 cy=1581 /><circle class=w1 cx=348 cy=1520 /><circle class=w2 cx=318 cy=1603 /><circle class=p cx=372 cy=1629 /><circle class=G cx=190 cy=1603 /><circle class=G cx=195 cy=1611 /><circle class=G cx=221 cy=1617 /><circle class=w1 cx=179 cy=1575 /><circle class=w3 cx=288 cy=1580 /><circle class=w2 cx=181 cy=1553 /><circle class=G cx=188 cy=1628 /><circle class=w2 cx=199 cy=1579 /><circle class=w2 cx=362 cy=1530 /><circle class=G cx=206 cy=1571 /><circle class=G cx=235 cy=1583 /><circle class=w2 cx=206 cy=1535 /><circle class=G cx=183 cy=1610 /><circle class=w3 cx=395 cy=1564 /><circle class=G cx=220 cy=1562 /><circle class=G cx=258 cy=1564 /><circle class=G cx=212 cy=1527 /><circle class=G cx=185 cy=1646 /><circle class=w3 cx=436 cy=1631 /><circle class=G cx=277 cy=1543 /><circle class=p cx=164 cy=1617 /><circle class=G cx=182 cy=1609 /><circle class=w2 cx=305 cy=1583 /><circle class=w2 cx=178 cy=1549 /><circle class=G cx=165 cy=1569 /><circle class=p cx=305 cy=1639 /><circle class=p cx=452 cy=1558 /><circle class=G cx=274 cy=1532 /><circle class=G cx=134 cy=1597 /><circle class=w2 cx=253 cy=1583 /><circle class=w2 cx=317 cy=1562 /><circle class=G cx=185 cy=1619 /><circle class=p cx=170 cy=1556 /><circle class=G cx=303 cy=1598 /><circle class=p cx=390 cy=1611 /><circle class=w3 cx=427 cy=1598 /><circle class=w3 cx=366 cy=1518 /><circle class=G cx=285 cy=1532 /><circle class=p cx=363 cy=1549 /><circle class=G cx=142 cy=1570 /><circle class=p cx=382 cy=1610 /><circle class=G cx=282 cy=1602 /><circle class=G cx=219 cy=1569 /><circle class=w2 cx=318 cy=1555 /><circle class=w3 cx=199 cy=1574 /><circle class=G cx=151 cy=1583 /><circle class=w1 cx=411 cy=1591 /><circle class=w1 cx=305 cy=1578 /><circle class=G cx=170 cy=1629 /><circle class=G cx=285 cy=1571 /><circle class=p cx=439 cy=1546 /><circle class=G cx=149 cy=1584 /><circle class=p cx=357 cy=1623 /><circle class=w1 cx=365 cy=1531 /><circle class=w2 cx=423 cy=1533 /><circle class=G cx=230 cy=1621 /><circle class=p cx=206 cy=1635 /><circle class=w1 cx=382 cy=1581 /><circle class=w2 cx=191 cy=1550 /><circle class=p cx=358 cy=1524 /><circle class=p cx=352 cy=1597 /><circle class=p cx=352 cy=1545 /><circle class=G cx=130 cy=1581 /><circle class=G cx=196 cy=1537 /><circle class=G cx=271 cy=1535 /><circle class=w2 cx=202 cy=1600 /><circle class=G cx=183 cy=1600 /><circle class=p cx=291 cy=1593 /><circle class=G cx=159 cy=1596 /><circle class=G cx=270 cy=1572 /><circle class=w3 cx=383 cy=1588 /><circle class=w2 cx=386 cy=1547 /><circle class=G cx=209 cy=1607 /><circle class=G cx=175 cy=1571 /><circle class=w1 cx=239 cy=1631 /><circle class=p cx=416 cy=1509 /><circle class=G cx=312 cy=1576 /><circle class=w3 cx=325 cy=1619 /><circle class=G cx=141 cy=1594 /><circle class=G cx=209 cy=1579 /><circle class=p cx=416 cy=1560 /><circle class=p cx=225 cy=1637 /><circle class=p cx=408 cy=1649 /><circle class=G cx=317 cy=1580 /><circle class=G cx=194 cy=1605 /><circle class=w2 cx=160 cy=1547 /><circle class=G cx=181 cy=1637 /><circle class=p cx=354 cy=1527 /><circle class=w2 cx=267 cy=1555 /><circle class=G cx=211 cy=1549 /><circle class=w1 cx=171 cy=1536 /><circle class=G cx=283 cy=1569 /><circle class=G cx=209 cy=1579 /><circle class=w2 cx=257 cy=1603 /><circle class=w2 cx=233 cy=1523 /><circle class=G cx=180 cy=1618 /><circle class=p cx=137 cy=1636 /><circle class=w1 cx=175 cy=1538 /><circle class=p cx=360 cy=1625 /><circle class=p cx=426 cy=1535 /><circle class=w3 cx=374 cy=1617 /><circle class=w3 cx=373 cy=1545 /><circle class=p cx=167 cy=1531 /><circle class=G cx=307 cy=1532 /><circle class=G cx=157 cy=1605 /><circle class=p cx=176 cy=1544 /><circle class=G cx=187 cy=1612 /><circle class=w2 cx=382 cy=1509 /><circle class=G cx=224 cy=1628 /><circle class=G cx=247 cy=1578 /><circle class=G cx=135 cy=1606 /><circle class=G cx=237 cy=1591 /><circle class=w2 cx=257 cy=1600 /><circle class=w2 cx=293 cy=1607 /><circle class=G cx=384 cy=1638 /><circle class=G cx=270 cy=1589 /><circle class=G cx=232 cy=1566 /><circle class=p cx=183 cy=1641 /><circle class=G cx=212 cy=1567 /><circle class=G cx=154 cy=1619 /><circle class=w1 cx=415 cy=1564 /><circle class=G cx=408 cy=1507 /><circle class=p cx=126 cy=1580 /><circle class=G cx=442 cy=1590 /><circle class=w3 cx=419 cy=1625 /><circle class=G cx=223 cy=1562 /><circle class=p cx=329 cy=1605 /><circle class=G cx=167 cy=1620 /><circle class=w2 cx=376 cy=1635 /><circle class=G cx=241 cy=1530 /><circle class=G cx=164 cy=1582 /><circle class=w3 cx=313 cy=1536 /><circle class=G cx=225 cy=1599 /><circle class=G cx=212 cy=1543 /><circle class=G cx=284 cy=1568 /><circle class=w3 cx=342 cy=1559 /><circle class=w3 cx=168 cy=1646 /><circle class=w2 cx=382 cy=1557 /><circle class=w1 cx=363 cy=1591 /><circle class=w2 cx=267 cy=1561 /><circle class=w2 cx=376 cy=1634 /><circle class=G cx=225 cy=1545 /><circle class=w2 cx=407 cy=1513 /><circle class=G cx=232 cy=1534 /><circle class=p cx=359 cy=1584 /><circle class=w2 cx=415 cy=1575 /><circle class=w3 cx=256 cy=1626 /><circle class=G cx=157 cy=1617 /><circle class=w1 cx=397 cy=1585 /><circle class=G cx=256 cy=1552 /><circle class=w2 cx=228 cy=1637 /><circle class=w2 cx=144 cy=1561 /><circle class=G cx=281 cy=1625 /><circle class=w2 cx=179 cy=1535 /><circle class=G cx=170 cy=1610 /><circle class=w2 cx=150 cy=1543 /><circle class=w2 cx=400 cy=1506 /><circle class=w2 cx=358 cy=1591 /><circle class=G cx=200 cy=1558 /><circle class=w2 cx=407 cy=1574 /><circle class=G cx=189 cy=1620 /><circle class=G cx=287 cy=1563 /><circle class=w2 cx=264 cy=1627 /><circle class=w2 cx=147 cy=1552 /><circle class=G cx=222 cy=1540 /><circle class=w2 cx=156 cy=1629 /><circle class=w3 cx=262 cy=1629 /><circle class=p cx=306 cy=1563 /><circle class=p cx=266 cy=1511 /><circle class=G cx=213 cy=1607 /><circle class=G cx=421 cy=1590 /><circle class=G cx=234 cy=1526 /><circle class=G cx=211 cy=1550 /><circle class=G cx=154 cy=1614 /><circle class=G cx=282 cy=1573 /><circle class=G cx=276 cy=1583 /><circle class=G cx=152 cy=1588 /><circle class=G cx=221 cy=1608 /><circle class=G cx=252 cy=1566 /><circle class=w2 cx=435 cy=1578 /><circle class=w3 cx=397 cy=1644 /><circle class=w2 cx=292 cy=1590 /><circle class=w2 cx=368 cy=1627 /><circle class=w2 cx=220 cy=1610 /><circle class=p cx=299 cy=1651 /><circle class=p cx=176 cy=1519 /><circle class=w2 cx=305 cy=1564 /><circle class=w3 cx=187 cy=1558 /><circle class=w3 cx=433 cy=1594 /><circle class=w2 cx=242 cy=1590 /><circle class=w1 cx=188 cy=1588 /><circle class=w3 cx=295 cy=1650 /><circle class=G cx=283 cy=1571 /><circle class=G cx=277 cy=1557 /><circle class=p cx=414 cy=1646 /><circle class=G cx=151 cy=1607 /><circle class=G cx=167 cy=1594 /><circle class=G cx=401 cy=1544 /><circle class=G cx=233 cy=1535 /><circle class=w3 cx=249 cy=1644 /><circle class=G cx=228 cy=1620 /><circle class=w2 cx=374 cy=1562 /><circle class=w3 cx=247 cy=1608 /><circle class=w2 cx=166 cy=1611 /><circle class=G cx=220 cy=1594 /><circle class=p cx=349 cy=1583 /><circle class=p cx=367 cy=1518 /><circle class=w1 cx=417 cy=1557 /><circle class=w2 cx=134 cy=1560 /><circle class=w1 cx=406 cy=1591 /><circle class=G cx=144 cy=1594 /><circle class=w2 cx=326 cy=1528 /><circle class=G cx=145 cy=1594 /><circle class=w2 cx=227 cy=1517 /><circle class=G cx=170 cy=1624 /><circle class=w2 cx=361 cy=1559 /><circle class=G cx=250 cy=1547 /><circle class=p cx=439 cy=1635 /><circle class=w2 cx=179 cy=1588 /><circle class=w3 cx=372 cy=1597 /><circle class=w2 cx=217 cy=1565 /><circle class=G cx=152 cy=1580 /><circle class=w3 cx=295 cy=1561 /><circle class=G cx=285 cy=1576 /><circle class=w2 cx=367 cy=1603 /><circle class=G cx=287 cy=1577 /><circle class=w1 cx=412 cy=1571 /><circle class=G cx=216 cy=1541 /><circle class=G cx=219 cy=1546 /><circle class=p cx=429 cy=1513 /><circle class=G cx=271 cy=1593 /><circle class=w2 cx=271 cy=1623 /><circle class=G cx=238 cy=1582 /><circle class=w1 cx=192 cy=1640 /><circle class=p cx=397 cy=1607 /><circle class=p cx=354 cy=1530 /><circle class=G cx=249 cy=1553 /><circle class=G cx=267 cy=1606 /><circle class=p cx=340 cy=1560 /><circle class=w2 cx=247 cy=1521 /><circle class=p cx=336 cy=1542 /><circle class=w3 cx=374 cy=1620 /><circle class=G cx=286 cy=1610 /><circle class=G cx=218 cy=1561 /><circle class=w2 cx=129 cy=1603 /><circle class=p cx=151 cy=1653 /><circle class=G cx=230 cy=1565 /><circle class=G cx=324 cy=1588 /><circle class=G cx=199 cy=1551 /><circle class=w1 cx=441 cy=1564 /><circle class=w2 cx=266 cy=1578 /><circle class=w2 cx=292 cy=1528 /><circle class=G cx=149 cy=1587 /><circle class=w3 cx=340 cy=1546 /><circle class=G cx=285 cy=1611 /><circle class=w2 cx=274 cy=1545 /><circle class=w1 cx=169 cy=1646 /><circle class=p cx=454 cy=1582 /><circle class=G cx=239 cy=1534 /><circle class=p cx=136 cy=1641 /><circle class=G cx=276 cy=1536 /><circle class=G cx=324 cy=1574 /><circle class=w3 cx=360 cy=1542 /><circle class=w2 cx=409 cy=1507 /><circle class=w2 cx=320 cy=1588 /><circle class=p cx=272 cy=1508 /><circle class=w2 cx=427 cy=1574 /><circle class=p cx=188 cy=1540 /><circle class=w1 cx=371 cy=1628 /><circle class=w2 cx=150 cy=1555 /><circle class=G cx=137 cy=1575 /><circle class=G cx=173 cy=1628 /><circle class=w3 cx=292 cy=1553 /><circle class=w2 cx=434 cy=1584 /><circle class=w2 cx=266 cy=1641 /><circle class=w3 cx=393 cy=1535 /><circle class=G cx=299 cy=1624 /><circle class=w3 cx=376 cy=1539 /><circle class=G cx=255 cy=1576 /><circle class=p cx=375 cy=1583 /><circle class=G cx=146 cy=1589 /><circle class=w1 cx=171 cy=1649 /><circle class=G cx=187 cy=1627 /><circle class=w2 cx=291 cy=1630 /><circle class=G cx=173 cy=1609 /><circle class=G cx=194 cy=1607 /><circle class=p cx=385 cy=1575 /><circle class=G cx=230 cy=1544 /><circle class=G cx=332 cy=1600 /><circle class=p cx=411 cy=1616 /><circle class=G cx=278 cy=1533 /><circle class=w1 cx=439 cy=1601 /><circle class=G cx=220 cy=1523 /><circle class=w1 cx=379 cy=1546 /><circle class=w2 cx=372 cy=1582 /><circle class=G cx=163 cy=1614 /><circle class=G cx=242 cy=1574 /><circle class=w1 cx=309 cy=1650 /><circle class=w2 cx=300 cy=1632 /><circle class=w2 cx=382 cy=1594 /><circle class=G cx=282 cy=1538 /><circle class=G cx=277 cy=1582 /><circle class=G cx=243 cy=1591 /><circle class=G cx=221 cy=1559 /><circle class=w3 cx=273 cy=1640 /><circle class=w2 cx=417 cy=1608 /><circle class=G cx=233 cy=1616 /><circle class=G cx=224 cy=1600 /><circle class=G cx=178 cy=1623 /><circle class=p cx=379 cy=1635 /><circle class=G cx=342 cy=1591 /><circle class=w3 cx=375 cy=1605 /><circle class=p cx=384 cy=1616 /><circle class=G cx=288 cy=1600 /><circle class=G cx=281 cy=1578 /><circle class=w2 cx=231 cy=1644 /><circle class=w3 cx=418 cy=1561 /><circle class=p cx=386 cy=1590 /><circle class=G cx=263 cy=1565 /><circle class=p cx=387 cy=1610 /><circle class=p cx=126 cy=1584 /><circle class=G cx=242 cy=1597 /><circle class=w2 cx=190 cy=1584 /><circle class=p cx=159 cy=1539 /><circle class=p cx=364 cy=1526 /><circle class=w3 cx=371 cy=1571 /><circle class=p cx=361 cy=1622 /><circle class=p cx=455 cy=1580 /><circle class=w3 cx=129 cy=1614 /><circle class=w2 cx=299 cy=1599 /><circle class=G cx=212 cy=1595 /><circle class=w3 cx=393 cy=1562 /><circle class=p cx=318 cy=1627 /><circle class=G cx=210 cy=1563 /><circle class=w2 cx=381 cy=1629 /><circle class=w2 cx=405 cy=1587 /><circle class=G cx=150 cy=1581 /><circle class=G cx=249 cy=1560 /><circle class=w3 cx=142 cy=1551 /><circle class=w3 cx=185 cy=1544 /><circle class=G cx=223 cy=1543 /><circle class=G cx=317 cy=1593 /><circle class=G cx=224 cy=1549 /><circle class=w1 cx=179 cy=1526 /><circle class=G cx=276 cy=1595 /><circle class=p cx=256 cy=1579 /><circle class=G cx=234 cy=1577 /><circle class=w2 cx=147 cy=1565 /><circle class=w2 cx=373 cy=1544 /><circle class=p cx=292 cy=1642 /><circle class=G cx=140 cy=1578 /><circle class=w2 cx=414 cy=1530 /><circle class=w2 cx=173 cy=1641 /><circle class=G cx=145 cy=1611 /><circle class=p cx=391 cy=1640 /><circle class=p cx=375 cy=1510 /><circle class=p cx=165 cy=1641 /><circle class=w2 cx=227 cy=1521 /><circle class=w2 cx=375 cy=1620 /><circle class=G cx=165 cy=1599 /><circle class=w2 cx=378 cy=1607 /><circle class=p cx=421 cy=1503 /><circle class=p cx=149 cy=1647 /><circle class=G cx=283 cy=1595 /><circle class=G cx=276 cy=1570 /><circle class=w2 cx=319 cy=1521 /><circle class=G cx=226 cy=1585 /><circle class=G cx=205 cy=1556 /><circle class=w2 cx=375 cy=1638 /><circle class=G cx=320 cy=1590 /><circle class=w3 cx=433 cy=1628 /><circle class=w1 cx=402 cy=1521 /><circle class=p cx=411 cy=1615 /><circle class=w2 cx=198 cy=1554 /><circle class=w2 cx=442 cy=1579 /><circle class=w3 cx=397 cy=1584 /><circle class=p cx=262 cy=1512 /><circle class=w3 cx=197 cy=1573 /><circle class=w1 cx=327 cy=1550 /><circle class=w1 cx=412 cy=1559 /><circle class=G cx=150 cy=1602 /><circle class=w3 cx=362 cy=1526 /><circle class=w1 cx=422 cy=1611 /><circle class=G cx=152 cy=1577 /><circle class=G cx=234 cy=1615 /><circle class=w2 cx=396 cy=1582 /><circle class=G cx=271 cy=1533 /><circle class=w1 cx=172 cy=1642 /><circle class=G cx=279 cy=1602 /><circle class=w1 cx=177 cy=1581 /><circle class=G cx=219 cy=1543 /><circle class=G cx=287 cy=1562 /><circle class=G cx=167 cy=1575 /><circle class=w1 cx=429 cy=1564 /><circle class=G cx=208 cy=1533 /><circle class=p cx=284 cy=1643 /><circle class=w2 cx=306 cy=1577 /><circle class=G cx=237 cy=1535 /><circle class=G cx=240 cy=1577 /><circle class=w1 cx=184 cy=1557 /><circle class=w2 cx=187 cy=1547 /><circle class=G cx=241 cy=1594 /><circle class=p cx=176 cy=1586 /><circle class=G cx=272 cy=1561 /><circle class=G cx=200 cy=1545 /><circle class=p cx=362 cy=1607 /><circle class=w2 cx=401 cy=1604 /><circle class=G cx=197 cy=1621 /><circle class=w2 cx=421 cy=1504 /><circle class=p cx=323 cy=1516 /><circle class=G cx=237 cy=1606 /><circle class=p cx=375 cy=1579 /><circle class=w1 cx=316 cy=1523 /><circle class=G cx=177 cy=1620 /><circle class=G cx=279 cy=1538 /><circle class=p cx=454 cy=1567 /><circle class=p cx=425 cy=1642 /><circle class=G cx=206 cy=1520 /><circle class=G cx=288 cy=1571 /><circle class=w2 cx=269 cy=1520 /><circle class=G cx=268 cy=1536 /><circle class=G cx=230 cy=1573 /><circle class=G cx=160 cy=1596 /><circle class=w2 cx=195 cy=1573 /><circle class=p cx=166 cy=1525 /><circle class=G cx=283 cy=1538 /><circle class=w2 cx=256 cy=1599 /><circle class=w1 cx=442 cy=1633 /><circle class=w1 cx=302 cy=1564 /><circle class=w2 cx=128 cy=1621 /><circle class=w2 cx=410 cy=1633 /><circle class=p cx=423 cy=1591 /><circle class=w2 cx=351 cy=1607 /><circle class=w1 cx=419 cy=1622 /><circle class=w1 cx=377 cy=1605 /><circle class=p cx=200 cy=1523 /><circle class=p cx=195 cy=1526 /><circle class=p cx=357 cy=1539 /><circle class=w3 cx=190 cy=1518 /><circle class=p cx=324 cy=1557 /><circle class=p cx=292 cy=1643 /><circle class=w2 cx=404 cy=1631 /><circle class=G cx=287 cy=1538 /><circle class=w2 cx=433 cy=1552 /><circle class=G cx=153 cy=1591 /><circle class=p cx=305 cy=1543 /><circle class=w1 cx=316 cy=1571 /><circle class=w2 cx=407 cy=1569 /><circle class=w3 cx=410 cy=1604 /><circle class=G cx=206 cy=1567 /><circle class=G cx=226 cy=1585 /><circle class=G cx=149 cy=1622 /><circle class=w2 cx=228 cy=1556 /><circle class=w1 cx=319 cy=1635 /><circle class=w3 cx=417 cy=1566 /><circle class=w1 cx=420 cy=1552 /><circle class=w3 cx=262 cy=1631 /><circle class=w1 cx=210 cy=1521 /><circle class=G cx=135 cy=1590 /><circle class=p cx=191 cy=1544 /><circle class=p cx=356 cy=1596 /><circle class=G cx=133 cy=1604 /><circle class=G cx=164 cy=1603 /><circle class=G cx=383 cy=1585 /><circle class=w2 cx=221 cy=1534 /><circle class=w2 cx=276 cy=1581 /><circle class=w2 cx=390 cy=1554 /><circle class=G cx=149 cy=1623 /><circle class=G cx=175 cy=1623 /><circle class=G cx=230 cy=1608 /><circle class=G cx=219 cy=1627 /><circle class=G cx=202 cy=1530 /><circle class=w3 cx=178 cy=1530 /><circle class=w3 cx=254 cy=1617 /><circle class=G cx=278 cy=1583 /><circle class=G cx=263 cy=1556 /><circle class=w1 cx=201 cy=1575 /><circle class=G cx=329 cy=1581 /><circle class=p cx=130 cy=1554 /><circle class=w2 cx=410 cy=1555 /><circle class=w3 cx=372 cy=1561 /><circle class=G cx=374 cy=1543 /><circle class=w2 cx=384 cy=1606 /><circle class=p cx=206 cy=1642 /><circle class=w2 cx=259 cy=1535 /><circle class=w2 cx=312 cy=1645 /><circle class=w2 cx=275 cy=1533 /><circle class=w3 cx=162 cy=1650 /><circle class=G cx=250 cy=1542 /><circle class=G cx=214 cy=1620 /><circle class=w1 cx=323 cy=1624 /><circle class=p cx=417 cy=1636 /><circle class=G cx=231 cy=1518 /><circle class=w2 cx=262 cy=1570 /><circle class=w1 cx=172 cy=1563 /><circle class=w2 cx=409 cy=1609 /><circle class=w2 cx=424 cy=1587 /><circle class=w1 cx=376 cy=1578 /><circle class=G cx=132 cy=1611 /><circle class=p cx=419 cy=1504 /><circle class=G cx=150 cy=1596 /><circle class=p cx=329 cy=1605 /><circle class=w2 cx=312 cy=1629 /><circle class=G cx=200 cy=1530 /><circle class=w3 cx=362 cy=1595 /><circle class=G cx=211 cy=1604 /><circle class=w1 cx=326 cy=1520 /><circle class=G cx=263 cy=1560 /><circle class=G cx=162 cy=1595 /><circle class=G cx=271 cy=1530 /><circle class=G cx=199 cy=1612 /><circle class=w2 cx=363 cy=1548 /><circle class=G cx=138 cy=1592 /><circle class=w2 cx=308 cy=1623 /><circle class=w2 cx=148 cy=1565 /><circle class=p cx=327 cy=1548 /><circle class=G cx=179 cy=1610 /><circle class=w2 cx=373 cy=1540 /><circle class=p cx=321 cy=1533 /><circle class=G cx=207 cy=1572 /><circle class=p cx=434 cy=1611 /><circle class=p cx=335 cy=1534 /><circle class=w1 cx=398 cy=1620 /><circle class=p cx=231 cy=1626 /><circle class=G cx=132 cy=1592 /><circle class=w3 cx=349 cy=1596 /><circle class=w2 cx=255 cy=1586 /><circle class=w3 cx=406 cy=1572 /><circle class=w2 cx=388 cy=1565 /><circle class=G cx=227 cy=1540 /><circle class=G cx=217 cy=1542 /><circle class=p cx=130 cy=1617 /><circle class=w3 cx=449 cy=1597 /><circle class=w1 cx=303 cy=1653 /><circle class=G cx=159 cy=1614 /><circle class=G cx=269 cy=1557 /><circle class=G cx=228 cy=1538 /><circle class=w3 cx=429 cy=1622 /><circle class=w2 cx=418 cy=1534 /><circle class=G cx=153 cy=1588 /><circle class=G cx=197 cy=1618 /><circle class=w3 cx=203 cy=1617 /><circle class=w1 cx=200 cy=1645 /><circle class=G cx=213 cy=1586 /><circle class=p cx=368 cy=1613 /><circle class=w3 cx=322 cy=1604 /><circle class=w2 cx=198 cy=1567 /><circle class=p cx=423 cy=1508 /><circle class=w2 cx=430 cy=1552 /><circle class=w3 cx=188 cy=1550 /><circle class=G cx=146 cy=1605 /><circle class=w2 cx=245 cy=1603 /><circle class=w1 cx=301 cy=1529 /><circle class=G cx=287 cy=1597 /><circle class=w2 cx=367 cy=1519 /><circle class=p cx=316 cy=1518 /><circle class=p cx=382 cy=1506 /><circle class=w2 cx=189 cy=1568 /><circle class=G cx=160 cy=1572 /><circle class=w1 cx=332 cy=1559 /><circle class=w2 cx=385 cy=1572 /><circle class=w2 cx=389 cy=1577 /><circle class=G cx=196 cy=1607 /><circle class=w2 cx=310 cy=1572 /><circle class=G cx=212 cy=1551 /><circle class=w3 cx=239 cy=1516 /><circle class=w2 cx=411 cy=1611 /><circle class=w2 cx=360 cy=1561 /><circle class=w2 cx=449 cy=1566 /><circle class=G cx=269 cy=1584 /><circle class=G cx=163 cy=1602 /><circle class=G cx=224 cy=1613 /><circle class=G cx=251 cy=1538 /><circle class=p cx=385 cy=1536 /><circle class=G cx=132 cy=1586 /><circle class=G cx=190 cy=1567 /><circle class=w2 cx=427 cy=1524 /><circle class=w1 cx=382 cy=1538 /><circle class=w1 cx=149 cy=1644 /><circle class=w2 cx=296 cy=1585 /><circle class=w2 cx=293 cy=1538 /><circle class=w3 cx=293 cy=1533 /><circle class=G cx=223 cy=1568 /><circle class=G cx=265 cy=1547 /><circle class=p cx=451 cy=1557 /><circle class=w3 cx=310 cy=1557 /><circle class=G cx=212 cy=1606 /><circle class=w2 cx=267 cy=1616 /><circle class=G cx=318 cy=1593 /><circle class=G cx=224 cy=1620 /><circle class=w2 cx=423 cy=1607 /><circle class=w2 cx=139 cy=1630 /><circle class=w3 cx=255 cy=1536 /><circle class=w2 cx=267 cy=1532 /><circle class=w2 cx=368 cy=1632 /><circle class=G cx=393 cy=1535 /><circle class=G cx=221 cy=1552 /><circle class=G cx=212 cy=1583 /><circle class=p cx=438 cy=1636 /><circle class=G cx=209 cy=1565 /><circle class=p cx=308 cy=1517 /><circle class=G cx=325 cy=1583 /><circle class=G cx=137 cy=1585 /><circle class=p cx=374 cy=1595 /><circle class=w2 cx=199 cy=1576 /><circle class=p cx=179 cy=1660 /><circle class=w3 cx=367 cy=1590 /><circle class=w3 cx=297 cy=1653 /><circle class=G cx=220 cy=1538 /><circle class=G cx=273 cy=1553 /><circle class=p cx=355 cy=1589 /><circle class=w1 cx=410 cy=1613 /><circle class=p cx=178 cy=1648 /><circle class=p cx=237 cy=1642 /><circle class=p cx=422 cy=1625 /><circle class=G cx=219 cy=1550 /><circle class=p cx=440 cy=1534 /><circle class=w3 cx=419 cy=1544 /><circle class=w2 cx=383 cy=1509 /><circle class=G cx=233 cy=1544 /><circle class=G cx=255 cy=1576 /><circle class=G cx=232 cy=1561 /><circle class=w2 cx=359 cy=1560 /><circle class=p cx=415 cy=1619 /><circle class=G cx=336 cy=1545 /><circle class=G cx=182 cy=1613 /><circle class=p cx=187 cy=1539 /><circle class=G cx=263 cy=1552 /><circle class=G cx=177 cy=1633 /><circle class=w2 cx=393 cy=1602 /><circle class=p cx=429 cy=1602 /><circle class=G cx=184 cy=1601 /><circle class=w1 cx=318 cy=1565 /><circle class=p cx=269 cy=1513 /><circle class=G cx=155 cy=1611 /><circle class=w2 cx=326 cy=1520 /><circle class=w2 cx=391 cy=1595 /><circle class=w3 cx=382 cy=1546 /><circle class=G cx=279 cy=1561 /><circle class=G cx=184 cy=1612 /><circle class=p cx=277 cy=1640 /><circle class=G cx=270 cy=1579 /><circle class=w3 cx=149 cy=1538 /><circle class=w2 cx=447 cy=1548 /><circle class=G cx=220 cy=1586 /><circle class=G cx=167 cy=1603 /><circle class=w2 cx=422 cy=1616 /><circle class=w1 cx=198 cy=1582 /><circle class=G cx=140 cy=1587 /><circle class=w3 cx=195 cy=1596 /><circle class=G cx=221 cy=1593 /><circle class=w3 cx=411 cy=1529 /><circle class=w2 cx=265 cy=1542 /><circle class=w2 cx=215 cy=1635 /><circle class=w3 cx=303 cy=1587 /><circle class=G cx=278 cy=1587 /><circle class=w1 cx=151 cy=1647 /><circle class=w3 cx=300 cy=1627 /><circle class=w2 cx=398 cy=1627 /><circle class=p cx=124 cy=1581 /><circle class=w2 cx=366 cy=1603 /><circle class=G cx=387 cy=1509 /><circle class=G cx=215 cy=1578 /><circle class=p cx=445 cy=1630 /><circle class=w2 cx=438 cy=1534 /><circle class=G cx=435 cy=1556 /><circle class=p cx=276 cy=1640 /><circle class=G cx=278 cy=1567 /><circle class=G cx=283 cy=1564 /><circle class=w2 cx=183 cy=1588 /><circle class=G cx=214 cy=1527 /><circle class=w2 cx=153 cy=1610 /><circle class=G cx=204 cy=1525 /><circle class=G cx=262 cy=1567 /><circle class=p cx=394 cy=1608 /><circle class=G cx=166 cy=1577 /><circle class=G cx=191 cy=1613 /><circle class=p cx=347 cy=1516 /><circle class=G cx=338 cy=1588 /><circle class=w1 cx=206 cy=1642 /><circle class=p cx=395 cy=1646 /><circle class=G cx=234 cy=1612 /><circle class=p cx=163 cy=1640 /><circle class=w1 cx=290 cy=1525 /><circle class=G cx=214 cy=1551 /><circle class=G cx=214 cy=1584 /><circle class=G cx=280 cy=1538 /><circle class=w2 cx=212 cy=1619 /><circle class=G cx=426 cy=1563 /><circle class=w2 cx=451 cy=1538 /><circle class=G cx=231 cy=1605 /><circle class=G cx=163 cy=1606 /><circle class=w2 cx=169 cy=1537 /><circle class=G cx=142 cy=1614 /><circle class=G cx=222 cy=1562 /><circle class=G cx=187 cy=1615 /><circle class=p cx=348 cy=1542 /><circle class=p cx=218 cy=1627 /><circle class=w2 cx=202 cy=1636 /><circle class=G cx=220 cy=1540 /><circle class=w3 cx=241 cy=1625 /><circle class=w1 cx=405 cy=1567 /><circle class=p cx=183 cy=1657 /><circle class=p cx=234 cy=1639 /><circle class=w3 cx=293 cy=1607 /><circle class=G cx=217 cy=1566 /><circle class=p cx=181 cy=1535 /><circle class=G cx=260 cy=1543 /><circle class=p cx=347 cy=1526 /><circle class=w1 cx=378 cy=1552 /><circle class=G cx=274 cy=1576 /><circle class=w1 cx=317 cy=1541 /><circle class=w2 cx=212 cy=1640 /><circle class=p cx=348 cy=1529 /><circle class=p cx=440 cy=1630 /><circle class=w1 cx=390 cy=1518 /><circle class=w2 cx=210 cy=1613 /><circle class=G cx=286 cy=1586 /><circle class=G cx=389 cy=1518 /><circle class=w2 cx=411 cy=1557 /><circle class=G cx=141 cy=1578 /><circle class=p cx=403 cy=1598 /><circle class=w2 cx=423 cy=1519 /><circle class=p cx=178 cy=1517 /><circle class=w2 cx=445 cy=1588 /><circle class=p cx=139 cy=1544 /><circle class=G cx=263 cy=1548 /><circle class=G cx=134 cy=1591 /><circle class=w3 cx=168 cy=1599 /><circle class=G cx=273 cy=1560 /><circle class=w2 cx=402 cy=1642 /><circle class=G cx=235 cy=1526 /><circle class=w2 cx=327 cy=1551 /><circle class=w2 cx=229 cy=1563 /><circle class=G cx=275 cy=1546 /><circle class=p cx=359 cy=1581 /><circle class=p cx=318 cy=1632 /><circle class=p cx=387 cy=1540 /><circle class=p cx=354 cy=1560 /><circle class=w2 cx=382 cy=1620 /><circle class=w2 cx=290 cy=1627 /><circle class=w1 cx=167 cy=1521 /><circle class=G cx=261 cy=1548 /><circle class=w1 cx=198 cy=1574 /><circle class=G cx=238 cy=1572 /><circle class=G cx=187 cy=1592 /><circle class=p cx=189 cy=1654 /><circle class=w2 cx=174 cy=1639 /><circle class=G cx=297 cy=1508 /><circle class=G cx=288 cy=1616 /><circle class=G cx=268 cy=1545 /><circle class=G cx=161 cy=1619 /><circle class=w2 cx=370 cy=1509 /><circle class=w2 cx=262 cy=1597 /><circle class=w2 cx=439 cy=1593 /><circle class=w3 cx=319 cy=1615 /><circle class=w2 cx=394 cy=1537 /><circle class=w3 cx=439 cy=1576 /><circle class=w3 cx=383 cy=1528 /><circle class=G cx=135 cy=1642 /><circle class=p cx=263 cy=1510 /><circle class=p cx=240 cy=1627 /><circle class=w1 cx=384 cy=1631 /><circle class=p cx=263 cy=1528 /><circle class=p cx=442 cy=1530 /><circle class=G cx=183 cy=1607 /><circle class=p cx=277 cy=1643 /><circle class=w2 cx=237 cy=1644 /><circle class=w3 cx=172 cy=1553 /><circle class=w2 cx=387 cy=1516 /><circle class=p cx=311 cy=1638 /><circle class=w3 cx=293 cy=1530 /><circle class=G cx=235 cy=1615 /><circle class=w2 cx=147 cy=1535 /><circle class=w2 cx=399 cy=1543 /><circle class=w2 cx=334 cy=1568 /><circle class=w2 cx=426 cy=1611 /><circle class=G cx=207 cy=1584 /><circle class=G cx=243 cy=1589 /><circle class=w2 cx=374 cy=1598 /><circle class=w2 cx=404 cy=1601 /><circle class=w3 cx=368 cy=1559 /><circle class=w3 cx=204 cy=1630 /><circle class=w2 cx=379 cy=1568 /><circle class=G cx=207 cy=1596 /><circle class=w3 cx=314 cy=1552 /><circle class=G cx=272 cy=1613 /><circle class=p cx=158 cy=1535 /><circle class=G cx=276 cy=1596 /><circle class=G cx=223 cy=1531 /><circle class=w2 cx=179 cy=1569 /><circle class=w2 cx=282 cy=1551 /><circle class=w2 cx=163 cy=1644 /><circle class=p cx=364 cy=1509 /><circle class=G cx=182 cy=1600 /><circle class=G cx=275 cy=1628 /><circle class=G cx=234 cy=1559 /><circle class=w2 cx=428 cy=1596 /><circle class=G cx=269 cy=1581 /><circle class=w2 cx=432 cy=1548 /><circle class=G cx=203 cy=1535 /><circle class=w2 cx=388 cy=1594 /><circle class=w1 cx=218 cy=1638 /><circle class=p cx=359 cy=1588 /><circle class=G cx=282 cy=1569 /><circle class=G cx=162 cy=1581 /><circle class=G cx=272 cy=1563 /><circle class=w2 cx=200 cy=1635 /><circle class=w2 cx=412 cy=1628 /><circle class=w2 cx=359 cy=1553 /><circle class=w3 cx=145 cy=1533 /><circle class=G cx=132 cy=1600 /><circle class=w1 cx=397 cy=1552 /><circle class=G cx=319 cy=1580 /><circle class=p cx=331 cy=1611 /><circle class=G cx=157 cy=1614 /><circle class=G cx=273 cy=1594 /><circle class=G cx=220 cy=1585 /><circle class=p cx=174 cy=1639 /><circle class=w2 cx=406 cy=1562 /><circle class=G cx=213 cy=1573 /><circle class=G cx=129 cy=1577 /><circle class=p cx=319 cy=1617 /><circle class=w3 cx=385 cy=1588 /><circle class=G cx=155 cy=1583 /><circle class=w1 cx=256 cy=1620 /><circle class=w1 cx=279 cy=1506 /><circle class=G cx=250 cy=1534 /><circle class=p cx=325 cy=1627 /><circle class=G cx=406 cy=1548 /><circle class=G cx=234 cy=1548 /><circle class=w3 cx=250 cy=1587 /><circle class=G cx=213 cy=1607 /><circle class=w2 cx=205 cy=1571 /><circle class=w2 cx=295 cy=1524 /><circle class=w2 cx=264 cy=1577 /><circle class=w2 cx=302 cy=1600 /><circle class=p cx=421 cy=1509 /><circle class=G cx=274 cy=1583 /><circle class=G cx=240 cy=1602 /><circle class=w2 cx=244 cy=1639 /><circle class=G cx=202 cy=1537 /><circle class=w3 cx=389 cy=1631 /><circle class=G cx=288 cy=1601 /><circle class=w1 cx=153 cy=1547 /><circle class=G cx=269 cy=1581 /><circle class=w1 cx=172 cy=1533 /><circle class=w2 cx=392 cy=1521 /><circle class=w2 cx=172 cy=1550 /><circle class=G cx=152 cy=1570 /><circle class=G cx=272 cy=1579 /><circle class=G cx=161 cy=1568 /><circle class=G cx=266 cy=1594 /><circle class=G cx=191 cy=1611 /><circle class=G cx=196 cy=1609 /><circle class=w2 cx=239 cy=1574 /><circle class=G cx=206 cy=1545 /><circle class=w1 cx=177 cy=1527 /><circle class=G cx=239 cy=1573 /><circle class=w1 cx=247 cy=1609 /><circle class=w2 cx=185 cy=1556 /><circle class=G cx=411 cy=1627 /><circle class=G cx=184 cy=1618 /><circle class=G cx=221 cy=1573 /><circle class=w2 cx=165 cy=1627 /><circle class=w2 cx=193 cy=1642 /><circle class=w1 cx=362 cy=1596 /><circle class=G cx=281 cy=1606 /><circle class=w3 cx=178 cy=1582 /><circle class=p cx=152 cy=1535 /><circle class=G cx=275 cy=1565 /><circle class=w1 cx=244 cy=1621 /><circle class=w3 cx=248 cy=1521 /><circle class=w2 cx=152 cy=1646 /><circle class=G cx=238 cy=1602 /><circle class=w2 cx=190 cy=1649 /><circle class=w2 cx=408 cy=1530 /><circle class=G cx=233 cy=1599 /><circle class=p cx=223 cy=1639 /><circle class=w2 cx=176 cy=1579 /><circle class=G cx=321 cy=1583 /><circle class=w1 cx=313 cy=1635 /><circle class=G cx=148 cy=1582 /><circle class=G cx=196 cy=1634 /><circle class=G cx=157 cy=1567 /><circle class=G cx=131 cy=1583 /><circle class=G cx=282 cy=1572 /><circle class=p cx=250 cy=1622 /><circle class=G cx=237 cy=1538 /><circle class=p cx=198 cy=1543 /><circle class=G cx=227 cy=1618 /><circle class=w1 cx=305 cy=1635 /><circle class=w1 cx=428 cy=1546 /><circle class=G cx=247 cy=1589 /><circle class=G cx=327 cy=1578 /><circle class=w3 cx=237 cy=1614 /><circle class=G cx=237 cy=1606 /><circle class=p cx=256 cy=1527 /><circle class=G cx=439 cy=1561 /><circle class=G cx=224 cy=1615 /><circle class=p cx=289 cy=1587 /><circle class=G cx=270 cy=1594 /><circle class=w3 cx=370 cy=1633 /><circle class=w2 cx=246 cy=1639 /><circle class=G cx=172 cy=1632 /><circle class=p cx=146 cy=1649 /><circle class=G cx=150 cy=1566 /><circle class=w1 cx=355 cy=1605 /><circle class=p cx=419 cy=1504 /><circle class=w3 cx=252 cy=1594 /><circle class=G cx=224 cy=1575 /><circle class=G cx=233 cy=1559 /><circle class=p cx=410 cy=1524 /><circle class=w3 cx=265 cy=1611 /><circle class=G cx=168 cy=1548 /><circle class=w3 cx=295 cy=1632 /><circle class=w2 cx=310 cy=1626 /><circle class=w2 cx=257 cy=1508 /><circle class=G cx=251 cy=1563 /><circle class=G cx=186 cy=1609 /><circle class=G cx=147 cy=1585 /><circle class=G cx=333 cy=1577 /><circle class=p cx=397 cy=1649 /><circle class=w2 cx=153 cy=1553 /><circle class=G cx=252 cy=1568 /><circle class=G cx=173 cy=1602 /><circle class=p cx=343 cy=1554 /><circle class=G cx=279 cy=1569 /><circle class=G cx=212 cy=1616 /><circle class=G cx=435 cy=1616 /><circle class=w2 cx=432 cy=1562 /><circle class=p cx=298 cy=1640 /><circle class=w2 cx=286 cy=1542 /><circle class=G cx=165 cy=1610 /><circle class=G cx=323 cy=1580 /><circle class=G cx=133 cy=1593 /><circle class=p cx=402 cy=1521 /><circle class=w2 cx=322 cy=1575 /><circle class=w2 cx=302 cy=1589 /><circle class=w2 cx=133 cy=1626 /><circle class=w1 cx=434 cy=1528 /><circle class=G cx=258 cy=1549 /><circle class=G cx=132 cy=1594 /><circle class=w1 cx=289 cy=1618 /><circle class=G cx=261 cy=1557 /><circle class=G cx=262 cy=1566 /><circle class=w3 cx=432 cy=1603 /><circle class=G cx=243 cy=1542 /><circle class=w2 cx=295 cy=1608 /><circle class=w2 cx=280 cy=1548 /><circle class=G cx=377 cy=1523 /><circle class=w1 cx=425 cy=1559 /><circle class=G cx=222 cy=1524 /><circle class=p cx=386 cy=1513 /><circle class=G cx=259 cy=1558 /><circle class=G cx=282 cy=1584 /><circle class=p cx=436 cy=1513 /><circle class=p cx=272 cy=1643 /><circle class=w3 cx=402 cy=1521 /><circle class=w3 cx=428 cy=1619 /><circle class=G cx=195 cy=1633 /><circle class=w2 cx=266 cy=1551 /><circle class=G cx=333 cy=1586 /><circle class=p cx=246 cy=1621 /><circle class=w2 cx=447 cy=1537 /><circle class=G cx=185 cy=1618 /><circle class=w1 cx=424 cy=1536 /><circle class=G cx=210 cy=1587 /><circle class=G cx=220 cy=1603 /><circle class=G cx=233 cy=1597 /><circle class=p cx=348 cy=1517 /><circle class=w2 cx=404 cy=1594 /><circle class=p cx=172 cy=1639 /><circle class=w1 cx=221 cy=1631 /><circle class=w2 cx=432 cy=1605 /><circle class=w1 cx=369 cy=1599 /><circle class=G cx=216 cy=1601 /><circle class=p cx=376 cy=1605 /><circle class=G cx=219 cy=1546 /><circle class=G cx=209 cy=1561 /><circle class=p cx=177 cy=1539 /><circle class=w2 cx=421 cy=1544 /><circle class=G cx=250 cy=1572 /><circle class=G cx=247 cy=1566 /><circle class=G cx=227 cy=1532 /><circle class=G cx=441 cy=1625 /><circle class=p cx=430 cy=1569 /><circle class=w3 cx=382 cy=1547 /><circle class=G cx=207 cy=1592 /><circle class=w1 cx=233 cy=1629 /><circle class=w2 cx=389 cy=1581 /><circle class=w2 cx=231 cy=1580 /><circle class=G cx=239 cy=1589 /><circle class=G cx=280 cy=1584 /><circle class=w3 cx=301 cy=1576 /><circle class=w3 cx=378 cy=1641 /><circle class=p cx=190 cy=1575 /><circle class=w2 cx=244 cy=1609 /><circle class=G cx=148 cy=1596 /><circle class=G cx=189 cy=1625 /><circle class=G cx=287 cy=1640 /><circle class=w2 cx=286 cy=1536 /><circle class=w3 cx=272 cy=1624 /><circle class=w2 cx=395 cy=1551 /><circle class=G cx=219 cy=1616 /><circle class=p cx=291 cy=1647 /><circle class=p cx=447 cy=1534 /><circle class=w3 cx=298 cy=1643 /><circle class=w2 cx=181 cy=1557 /><circle class=G cx=317 cy=1580 /><circle class=G cx=332 cy=1584 /><circle class=p cx=129 cy=1628 /><circle class=p cx=267 cy=1637 /><circle class=G cx=152 cy=1571 /><circle class=p cx=152 cy=1555 /><circle class=p cx=446 cy=1602 /><circle class=w1 cx=243 cy=1621 /><circle class=w3 cx=207 cy=1640 /><circle class=p cx=352 cy=1531 /><circle class=w2 cx=199 cy=1576 /><circle class=w1 cx=426 cy=1525 /><circle class=w2 cx=156 cy=1642 /><circle class=w2 cx=181 cy=1650 /><circle class=w2 cx=194 cy=1564 /><circle class=w3 cx=390 cy=1525 /><circle class=p cx=302 cy=1596 /><circle class=w2 cx=362 cy=1616 /><circle class=w1 cx=207 cy=1630 /><circle class=G cx=186 cy=1645 /><circle class=G cx=224 cy=1604 /><circle class=G cx=256 cy=1564 /><circle class=p cx=429 cy=1537 /><circle class=G cx=213 cy=1543 /><circle class=G cx=242 cy=1571 /><circle class=G cx=270 cy=1532 /><circle class=G cx=175 cy=1619 /><circle class=G cx=244 cy=1595 /><circle class=G cx=201 cy=1539 /><circle class=G cx=181 cy=1635 /><circle class=p cx=311 cy=1624 /><circle class=p cx=126 cy=1596 /><circle class=w3 cx=351 cy=1518 /><circle class=p cx=396 cy=1565 /><circle class=w1 cx=139 cy=1536 /><circle class=w1 cx=437 cy=1602 /><circle class=w2 cx=162 cy=1659 /><circle class=w2 cx=325 cy=1560 /><circle class=G cx=225 cy=1555 /><circle class=w1 cx=333 cy=1524 /><circle class=w2 cx=294 cy=1527 /><circle class=w2 cx=139 cy=1587 /><circle class=G cx=280 cy=1580 /><circle class=w2 cx=358 cy=1529 /><circle class=G cx=284 cy=1549 /><circle class=w2 cx=249 cy=1597 /><circle class=w1 cx=251 cy=1631 /><circle class=G cx=325 cy=1598 /><circle class=w2 cx=302 cy=1531 /><circle class=w3 cx=294 cy=1577 /><circle class=w1 cx=420 cy=1612 /><circle class=G cx=268 cy=1546 /><circle class=G cx=196 cy=1631 /><circle class=w2 cx=351 cy=1549 /><circle class=G cx=434 cy=1589 /><circle class=w2 cx=385 cy=1630 /><circle class=w2 cx=382 cy=1540 /><circle class=w3 cx=212 cy=1646 /><circle class=G cx=286 cy=1618 /><circle class=w3 cx=414 cy=1626 /><circle class=w2 cx=231 cy=1596 /><circle class=p cx=308 cy=1517 /><circle class=G cx=313 cy=1579 /><circle class=w2 cx=127 cy=1607 /><circle class=w3 cx=445 cy=1562 /><circle class=w2 cx=296 cy=1634 /><circle class=p cx=427 cy=1605 /><circle class=G cx=215 cy=1553 /><circle class=p cx=253 cy=1589 /><circle class=w3 cx=392 cy=1588 /><circle class=w1 cx=407 cy=1587 /><circle class=w2 cx=336 cy=1537 /><circle class=w2 cx=235 cy=1617 /><circle class=G cx=224 cy=1546 /><circle class=w2 cx=321 cy=1555 /><circle class=G cx=273 cy=1555 /><circle class=p cx=389 cy=1624 /><circle class=G cx=287 cy=1611 /><circle class=p cx=407 cy=1509 /><circle class=G cx=145 cy=1565 /><circle class=w2 cx=183 cy=1571 /><circle class=G cx=152 cy=1596 /><circle class=G cx=274 cy=1625 /><circle class=G cx=211 cy=1530 /><circle class=G cx=263 cy=1559 /><circle class=G cx=283 cy=1608 /><circle class=w3 cx=169 cy=1557 /><circle class=w2 cx=392 cy=1570 /><circle class=G cx=235 cy=1580 /><circle class=G cx=166 cy=1577 /><circle class=G cx=203 cy=1573 /><circle class=G cx=322 cy=1570 /><circle class=w2 cx=303 cy=1594 /><circle class=G cx=162 cy=1594 /><circle class=w2 cx=358 cy=1621 /><circle class=G cx=171 cy=1600 /><circle class=G cx=418 cy=1585 /><circle class=G cx=223 cy=1601 /><circle class=w2 cx=291 cy=1579 /><circle class=w3 cx=193 cy=1591 /><circle class=w2 cx=217 cy=1623 /><circle class=w2 cx=177 cy=1537 /><circle class=p cx=337 cy=1534 /><circle class=p cx=127 cy=1608 /><circle class=G cx=133 cy=1579 /><circle class=w3 cx=384 cy=1564 /><circle class=G cx=248 cy=1539 /><circle class=w1 cx=424 cy=1630 /><circle class=G cx=138 cy=1574 /><circle class=p cx=350 cy=1615 /><circle class=G cx=143 cy=1604 /><circle class=G cx=203 cy=1578 /><circle class=w3 cx=267 cy=1612 /><circle class=G cx=336 cy=1583 /><circle class=w2 cx=148 cy=1633 /><circle class=G cx=234 cy=1548 /><circle class=w2 cx=431 cy=1613 /><circle class=w2 cx=294 cy=1648 /><circle class=p cx=258 cy=1537 /><circle class=p cx=371 cy=1635 /><circle class=G cx=331 cy=1581 /><circle class=G cx=148 cy=1625 /><circle class=G cx=180 cy=1634 /><circle class=G cx=228 cy=1526 /><circle class=G cx=250 cy=1578 /><circle class=G cx=315 cy=1576 /><circle class=p cx=254 cy=1525 /><circle class=w2 cx=332 cy=1572 /><circle class=w2 cx=416 cy=1525 /><circle class=p cx=240 cy=1635 /><circle class=p cx=383 cy=1511 /><circle class=w2 cx=240 cy=1636 /><circle class=p cx=131 cy=1567 /><circle class=G cx=168 cy=1615 /><circle class=w2 cx=264 cy=1507 /><circle class=w2 cx=313 cy=1618 /><circle class=p cx=284 cy=1634 /><circle class=w1 cx=363 cy=1565 /><circle class=G cx=151 cy=1597 /><circle class=w2 cx=334 cy=1570 /><circle class=G cx=242 cy=1580 /><circle class=G cx=182 cy=1615 /><circle class=w2 cx=216 cy=1613 /><circle class=w2 cx=241 cy=1571 /><circle class=G cx=165 cy=1595 /><circle class=w2 cx=170 cy=1537 /><circle class=w2 cx=432 cy=1595 /><circle class=w3 cx=380 cy=1563 /><circle class=p cx=214 cy=1520 /><circle class=w2 cx=380 cy=1566 /><circle class=w2 cx=159 cy=1534 /><circle class=G cx=355 cy=1577 /><circle class=p cx=371 cy=1617 /><circle class=w2 cx=382 cy=1539 /><circle class=G cx=204 cy=1537 /><circle class=G cx=229 cy=1536 /><circle class=G cx=269 cy=1563 /><circle class=w1 cx=344 cy=1563 /><circle class=w2 cx=424 cy=1560 /><circle class=w2 cx=388 cy=1524 /><circle class=w2 cx=172 cy=1641 /><circle class=G cx=278 cy=1591 /><circle class=w2 cx=388 cy=1614 /><circle class=G cx=156 cy=1624 /><circle class=w2 cx=391 cy=1640 /><circle class=G cx=225 cy=1558 /><circle class=w2 cx=388 cy=1548 /><circle class=p cx=182 cy=1641 /><circle class=G cx=163 cy=1606 /><circle class=G cx=273 cy=1549 /><circle class=G cx=157 cy=1584 /><circle class=w2 cx=222 cy=1639 /><circle class=p cx=401 cy=1515 /><circle class=w2 cx=359 cy=1569 /><circle class=w1 cx=147 cy=1638 /><circle class=w2 cx=311 cy=1626 /><circle class=w1 cx=429 cy=1621 /><circle class=G cx=216 cy=1573 /><circle class=w2 cx=266 cy=1580 /><circle class=G cx=232 cy=1618 /><circle class=p cx=375 cy=1507 /><circle class=p cx=292 cy=1527 /><circle class=G cx=133 cy=1605 /><circle class=p cx=281 cy=1517 /><circle class=G cx=255 cy=1537 /><circle class=w1 cx=202 cy=1578 /><circle class=G cx=137 cy=1597 /><circle class=G cx=246 cy=1603 /><circle class=w2 cx=215 cy=1642 /><circle class=w2 cx=436 cy=1577 /><circle class=w2 cx=273 cy=1563 /><circle class=w3 cx=373 cy=1615 /><circle class=w1 cx=177 cy=1541 /><circle class=G cx=249 cy=1584 /><circle class=w2 cx=256 cy=1532 /><circle class=G cx=272 cy=1531 /><circle class=p cx=368 cy=1598 /><circle class=G cx=281 cy=1590 /><circle class=w3 cx=200 cy=1585 /><circle class=w3 cx=323 cy=1536 /><circle class=w1 cx=430 cy=1574 /><circle class=p cx=437 cy=1634 /><circle class=w3 cx=165 cy=1646 /><circle class=G cx=177 cy=1605 /><circle class=G cx=203 cy=1558 /><circle class=G cx=190 cy=1624 /><circle class=w3 cx=125 cy=1575 /><circle class=w2 cx=149 cy=1544 /><circle class=w1 cx=295 cy=1543 /><circle class=G cx=165 cy=1610 /><circle class=G cx=206 cy=1537 /><circle class=G cx=139 cy=1610 /><circle class=G cx=224 cy=1591 /><circle class=G cx=207 cy=1527 /><circle class=G cx=241 cy=1605 /><circle class=p cx=195 cy=1645 /><circle class=w2 cx=386 cy=1515 /><circle class=G cx=179 cy=1605 /><circle class=p cx=365 cy=1553 /><circle class=G cx=191 cy=1610 /><circle class=G cx=276 cy=1531 /><circle class=G cx=270 cy=1593 /><circle class=w3 cx=384 cy=1536 /><circle class=G cx=237 cy=1538 /><circle class=p cx=389 cy=1576 /><circle class=w1 cx=275 cy=1639 /><circle class=G cx=188 cy=1573 /><circle class=G cx=335 cy=1584 /><circle class=G cx=240 cy=1587 /><circle class=w2 cx=169 cy=1642 /><circle class=G cx=154 cy=1600 /><circle class=w1 cx=279 cy=1629 /><circle class=G cx=262 cy=1529 /><circle class=G cx=202 cy=1532 /><circle class=G cx=192 cy=1615 /><circle class=G cx=222 cy=1625 /><circle class=w3 cx=326 cy=1615 /><circle class=w3 cx=243 cy=1618 /><circle class=w2 cx=291 cy=1577 /><circle class=p cx=145 cy=1648 /><circle class=w2 cx=402 cy=1519 /><circle class=w1 cx=138 cy=1642 /><circle class=w1 cx=308 cy=1575 /><circle class=w2 cx=415 cy=1575 /><circle class=G cx=322 cy=1523 /><circle class=p cx=441 cy=1617 /><circle class=G cx=341 cy=1589 /><circle class=G cx=237 cy=1610 /><circle class=G cx=153 cy=1599 /><circle class=w2 cx=327 cy=1535 /><circle class=G cx=184 cy=1614 /><circle class=p cx=448 cy=1601 /><circle class=w2 cx=386 cy=1542 /><circle class=G cx=210 cy=1627 /><circle class=w3 cx=258 cy=1626 /><circle class=G cx=240 cy=1542 /><circle class=G cx=166 cy=1593 /><circle class=p cx=449 cy=1618 /><circle class=G cx=149 cy=1572 /><circle class=p cx=369 cy=1589 /><circle class=G cx=152 cy=1583 /><circle class=w2 cx=308 cy=1580 /><circle class=G cx=159 cy=1600 /><circle class=G cx=170 cy=1612 /><circle class=p cx=231 cy=1515 /><circle class=w2 cx=398 cy=1565 /><circle class=G cx=154 cy=1601 /><circle class=w2 cx=352 cy=1591 /><circle class=G cx=226 cy=1537 /><circle class=w2 cx=438 cy=1551 /><circle class=p cx=370 cy=1576 /><circle class=G cx=222 cy=1548 /><circle class=w3 cx=253 cy=1526 /><circle class=w2 cx=355 cy=1563 /><circle class=p cx=181 cy=1639 /><circle class=G cx=286 cy=1591 /><circle class=G cx=282 cy=1606 /><circle class=G cx=152 cy=1605 /><circle class=w3 cx=308 cy=1528 /><circle class=G cx=285 cy=1562 /><circle class=w1 cx=274 cy=1511 /><circle class=w1 cx=174 cy=1640 /><circle class=G cx=217 cy=1527 /><circle class=G cx=162 cy=1581 /><circle class=w1 cx=359 cy=1523 /><circle class=w3 cx=276 cy=1510 /><circle class=p cx=388 cy=1584 /><circle class=w3 cx=145 cy=1634 /><circle class=w2 cx=199 cy=1598 /><circle class=w2 cx=155 cy=1647 /><circle class=G cx=265 cy=1620 /><circle class=G cx=142 cy=1576 /><circle class=p cx=451 cy=1597 /><circle class=G cx=262 cy=1554 /><circle class=G cx=276 cy=1567 /><circle class=G cx=265 cy=1610 /><circle class=p cx=191 cy=1574 /><circle class=w1 cx=301 cy=1590 /><circle class=G cx=153 cy=1597 /><circle class=G cx=435 cy=1521 /><circle class=p cx=160 cy=1651 /><circle class=w3 cx=423 cy=1629 /><circle class=p cx=325 cy=1616 /><circle class=w2 cx=225 cy=1525 /><circle class=w2 cx=364 cy=1543 /><circle class=G cx=229 cy=1579 /><circle class=p cx=138 cy=1645 /><circle class=p cx=163 cy=1636 /><circle class=G cx=154 cy=1596 /><circle class=w2 cx=418 cy=1539 /><circle class=p cx=141 cy=1539 /><circle class=p cx=315 cy=1641 /><circle class=w3 cx=231 cy=1624 /><circle class=w2 cx=156 cy=1649 /><circle class=G cx=209 cy=1530 /><circle class=G cx=219 cy=1582 /><circle class=w2 cx=238 cy=1627 /><circle class=G cx=288 cy=1517 /><circle class=G cx=208 cy=1545 /><circle class=G cx=264 cy=1592 /><circle class=w3 cx=317 cy=1528 /><circle class=p cx=256 cy=1637 /><circle class=G cx=214 cy=1596 /><circle class=p cx=252 cy=1512 /><circle class=w3 cx=257 cy=1525 /><circle class=w2 cx=304 cy=1538 /><circle class=G cx=270 cy=1536 /><circle class=w3 cx=379 cy=1622 /><circle class=G cx=247 cy=1545 /><circle class=G cx=226 cy=1610 /><circle class=G cx=283 cy=1567 /><circle class=w1 cx=262 cy=1579 /><circle class=w2 cx=396 cy=1579 /><circle class=G cx=445 cy=1576 /><circle class=G cx=215 cy=1605 /><circle class=w3 cx=158 cy=1557 /><circle class=G cx=191 cy=1632 /><circle class=G cx=161 cy=1594 /><circle class=G cx=273 cy=1526 /><circle class=G cx=203 cy=1588 /><circle class=w1 cx=197 cy=1541 /><circle class=w2 cx=216 cy=1639 /><circle class=w2 cx=317 cy=1533 /><circle class=G cx=423 cy=1587 /><circle class=w2 cx=289 cy=1553 /><circle class=p cx=162 cy=1656 /><circle class=w3 cx=324 cy=1559 /><circle class=w1 cx=389 cy=1582 /><circle class=w1 cx=279 cy=1647 /><circle class=G cx=138 cy=1588 /><circle class=p cx=131 cy=1552 /><circle class=G cx=214 cy=1619 /><circle class=w2 cx=140 cy=1561 /><circle class=w2 cx=228 cy=1582 /><circle class=G cx=204 cy=1574 /><circle class=w1 cx=154 cy=1544 /><circle class=G cx=146 cy=1596 /><circle class=w2 cx=318 cy=1603 /><circle class=w3 cx=310 cy=1556 /><circle class=G cx=150 cy=1597 /><circle class=w2 cx=322 cy=1608 /><circle class=p cx=302 cy=1589 /><circle class=G cx=225 cy=1551 /><circle class=w1 cx=398 cy=1573 /><circle class=G cx=284 cy=1559 /><circle class=w2 cx=395 cy=1606 /><circle class=p cx=163 cy=1659 /><circle class=w2 cx=162 cy=1538 /><circle class=G cx=169 cy=1619 /><circle class=G cx=229 cy=1534 /><circle class=G cx=278 cy=1623 /><circle class=p cx=424 cy=1565 /><circle class=G cx=184 cy=1606 /><circle class=w1 cx=428 cy=1605 /><circle class=p cx=399 cy=1516 /><circle class=w1 cx=432 cy=1611 /><circle class=w1 cx=329 cy=1537 /><circle class=G cx=314 cy=1587 /><circle class=G cx=276 cy=1563 /><circle class=w3 cx=153 cy=1653 /><circle class=w1 cx=422 cy=1567 /><circle class=w2 cx=423 cy=1597 /><circle class=G cx=229 cy=1578 /><circle class=w2 cx=382 cy=1622 /><circle class=p cx=146 cy=1563 /><circle class=G cx=158 cy=1622 /><circle class=w3 cx=189 cy=1551 /><circle class=p cx=317 cy=1549 /><circle class=w3 cx=269 cy=1621 /><circle class=p cx=348 cy=1539 /><circle class=G cx=189 cy=1619 /><circle class=G cx=247 cy=1542 /><circle class=p cx=340 cy=1544 /><circle class=p cx=256 cy=1535 /><circle class=w1 cx=151 cy=1634 /><circle class=G cx=241 cy=1548 /><circle class=G cx=226 cy=1604 /><circle class=w1 cx=308 cy=1529 /><circle class=G cx=149 cy=1564 /><circle class=G cx=285 cy=1568 /><circle class=p cx=257 cy=1577 /><circle class=w2 cx=324 cy=1543 /><circle class=p cx=391 cy=1624 /><circle class=G cx=216 cy=1548 /><circle class=w2 cx=391 cy=1617 /><circle class=w1 cx=203 cy=1638 /><circle class=w3 cx=421 cy=1530 /><circle class=p cx=294 cy=1543 /><circle class=w1 cx=383 cy=1624 /><circle class=p cx=421 cy=1501 /><circle class=w2 cx=130 cy=1597 /><circle class=w2 cx=301 cy=1510 /><circle class=w2 cx=358 cy=1541 /><circle class=G cx=266 cy=1582 /><circle class=G cx=222 cy=1534 /><circle class=G cx=184 cy=1622 /><circle class=w3 cx=343 cy=1555 /><circle class=w2 cx=269 cy=1522 /><circle class=p cx=328 cy=1609 /><circle class=G cx=273 cy=1623 /><circle class=w2 cx=280 cy=1526 /><circle class=G cx=325 cy=1581 /><circle class=G cx=199 cy=1631 /><circle class=G cx=328 cy=1523 /><circle class=w3 cx=264 cy=1523 /><circle class=G cx=331 cy=1573 /><circle class=w2 cx=315 cy=1527 /><circle class=G cx=240 cy=1607 /><circle class=w2 cx=203 cy=1609 /><circle class=w2 cx=339 cy=1554 /><circle class=p cx=355 cy=1512 /><circle class=p cx=371 cy=1564 /><circle class=w2 cx=430 cy=1543 /><circle class=w2 cx=407 cy=1535 /><circle class=p cx=389 cy=1552 /><circle class=G cx=179 cy=1611 /><circle class=w2 cx=237 cy=1549 /><circle class=G cx=280 cy=1565 /><circle class=p cx=271 cy=1507 /><circle class=w2 cx=260 cy=1600 /><circle class=G cx=283 cy=1547 /><circle class=p cx=358 cy=1606 /><circle class=G cx=159 cy=1571 /><circle class=G cx=277 cy=1560 /><circle class=w2 cx=267 cy=1546 /><circle class=G cx=153 cy=1626 /><circle class=G cx=219 cy=1597 /><circle class=w1 cx=413 cy=1590 /><circle class=p cx=131 cy=1567 /><circle class=w2 cx=195 cy=1638 /><circle class=G cx=218 cy=1632 /><circle class=w2 cx=160 cy=1648 /><circle class=w2 cx=192 cy=1592 /><circle class=G cx=239 cy=1591 /><circle class=p cx=263 cy=1642 /><circle class=G cx=278 cy=1589 /><circle class=G cx=217 cy=1626 /><circle class=G cx=251 cy=1580 /><circle class=p cx=312 cy=1645 /><circle class=G cx=217 cy=1565 /><circle class=w2 cx=298 cy=1588 /><circle class=p cx=304 cy=1643 /><circle class=w1 cx=254 cy=1516 /><circle class=G cx=147 cy=1623 /><circle class=G cx=331 cy=1582 /><circle class=G cx=223 cy=1546 /><circle class=p cx=438 cy=1633 /><circle class=w1 cx=258 cy=1624 /><circle class=w2 cx=374 cy=1586 /><circle class=w3 cx=369 cy=1529 /><circle class=G cx=376 cy=1608 /><circle class=G cx=215 cy=1578 /><circle class=G cx=281 cy=1545 /><circle class=w1 cx=370 cy=1565 /><circle class=p cx=243 cy=1646 /><circle class=w2 cx=295 cy=1578 /><circle class=p cx=364 cy=1534 /><circle class=w2 cx=195 cy=1576 /><circle class=G cx=138 cy=1598 /><circle class=w2 cx=396 cy=1530 /><circle class=w2 cx=409 cy=1554 /><circle class=G cx=337 cy=1577 /><circle class=p cx=301 cy=1532 /><circle class=G cx=237 cy=1556 /><circle class=p cx=379 cy=1529 /><circle class=w2 cx=193 cy=1535 /><circle class=w2 cx=203 cy=1623 /><circle class=G cx=325 cy=1591 /><circle class=w2 cx=193 cy=1568 /><circle class=G cx=231 cy=1607 /><circle class=w2 cx=140 cy=1558 /><circle class=w2 cx=283 cy=1632 /><circle class=p cx=302 cy=1540 /><circle class=G cx=270 cy=1532 /><circle class=w1 cx=404 cy=1621 /><circle class=G cx=155 cy=1566 /><circle class=w2 cx=307 cy=1624 /><circle class=w2 cx=161 cy=1568 /><circle class=G cx=162 cy=1569 /><circle class=w1 cx=407 cy=1550 /><circle class=w2 cx=401 cy=1632 /><circle class=p cx=422 cy=1643 /><circle class=p cx=357 cy=1619 /><circle class=w2 cx=403 cy=1620 /><circle class=w3 cx=314 cy=1532 /><circle class=p cx=351 cy=1568 /><circle class=p cx=197 cy=1541 /><circle class=w3 cx=361 cy=1537 /><circle class=G cx=288 cy=1593 /><circle class=p cx=319 cy=1530 /><circle class=p cx=133 cy=1553 /><circle class=G cx=175 cy=1599 /><circle class=w1 cx=372 cy=1554 /><circle class=w3 cx=358 cy=1604 /><circle class=w1 cx=429 cy=1527 /><circle class=w3 cx=308 cy=1530 /><circle class=G cx=162 cy=1580 /><circle class=G cx=228 cy=1595 /><circle class=w2 cx=368 cy=1544 /><circle class=G cx=228 cy=1552 /><circle class=w1 cx=394 cy=1611 /><circle class=G cx=226 cy=1525 /><circle class=p cx=414 cy=1520 /><circle class=G cx=275 cy=1583 /><circle class=G cx=300 cy=1540 /><circle class=G cx=334 cy=1576 /><circle class=w1 cx=301 cy=1613 /><circle class=w2 cx=197 cy=1531 /><circle class=G cx=190 cy=1631 /><circle class=w1 cx=416 cy=1620 /><circle class=p cx=339 cy=1562 /><circle class=w2 cx=310 cy=1537 /><circle class=G cx=258 cy=1573 /><circle class=G cx=194 cy=1609 /><circle class=G cx=286 cy=1541 /><circle class=w3 cx=293 cy=1603 /><circle class=w2 cx=277 cy=1506 /><circle class=w1 cx=289 cy=1537 /><circle class=G cx=158 cy=1619 /><circle class=w2 cx=288 cy=1519 /><circle class=w1 cx=264 cy=1593 /><circle class=G cx=321 cy=1598 /><circle class=G cx=129 cy=1632 /><circle class=p cx=420 cy=1619 /><circle class=G cx=244 cy=1537 /><circle class=G cx=133 cy=1585 /><circle class=p cx=360 cy=1512 /><circle class=p cx=306 cy=1513 /><circle class=G cx=252 cy=1551 /><circle class=w1 cx=277 cy=1520 /><circle class=p cx=403 cy=1541 /><circle class=w1 cx=163 cy=1635 /><circle class=p cx=420 cy=1620 /><circle class=w1 cx=201 cy=1640 /><circle class=w3 cx=200 cy=1566 /><circle class=G cx=268 cy=1546 /><circle class=w2 cx=427 cy=1507 /><circle class=G cx=200 cy=1558 /><circle class=p cx=429 cy=1571 /><circle class=G cx=161 cy=1543 /><circle class=G cx=229 cy=1532 /><circle class=w2 cx=191 cy=1534 /><circle class=G cx=280 cy=1559 /><circle class=w1 cx=183 cy=1538 /><circle class=G cx=150 cy=1604 /><circle class=w1 cx=312 cy=1520 /><circle class=G cx=275 cy=1565 /><circle class=w2 cx=368 cy=1638 /><circle class=G cx=135 cy=1586 /><circle class=G cx=221 cy=1545 /><circle class=p cx=370 cy=1530 /><circle class=w2 cx=297 cy=1518 /><circle class=w2 cx=294 cy=1607 /><circle class=w1 cx=308 cy=1543 /><circle class=w1 cx=426 cy=1561 /><circle class=p cx=313 cy=1512 /><circle class=w2 cx=426 cy=1630 /><circle class=G cx=268 cy=1556 /><circle class=p cx=383 cy=1528 /><circle class=w3 cx=291 cy=1524 /><circle class=G cx=241 cy=1559 /><circle class=G cx=195 cy=1631 /><circle class=p cx=255 cy=1534 /><circle class=G cx=187 cy=1559 /><circle class=G cx=160 cy=1574 /><circle class=G cx=204 cy=1584 /><circle class=w2 cx=425 cy=1572 /><circle class=p cx=438 cy=1629 /><circle class=G cx=330 cy=1581 /><circle class=w2 cx=313 cy=1536 /><circle class=w2 cx=348 cy=1546 /><circle class=w2 cx=196 cy=1638 /><circle class=w1 cx=368 cy=1575 /><circle class=w3 cx=390 cy=1593 /><circle class=G cx=266 cy=1554 /><circle class=p cx=400 cy=1549 /><circle class=w1 cx=303 cy=1539 /><circle class=G cx=221 cy=1552 /><circle class=w1 cx=419 cy=1570 /><circle class=w2 cx=362 cy=1634 /><circle class=w1 cx=170 cy=1638 /><circle class=w2 cx=136 cy=1599 /><circle class=G cx=157 cy=1575 /><circle class=G cx=209 cy=1577 /><circle class=p cx=182 cy=1575 /><circle class=G cx=150 cy=1610 /><circle class=w2 cx=288 cy=1633 /><circle class=G cx=131 cy=1597 /><circle class=w3 cx=410 cy=1558 /><circle class=p cx=426 cy=1576 /><circle class=G cx=228 cy=1645 /><circle class=w2 cx=423 cy=1593 /><circle class=G cx=331 cy=1575 /><circle class=G cx=180 cy=1614 /><circle class=G cx=184 cy=1602 /><circle class=G cx=268 cy=1554 /><circle class=w1 cx=368 cy=1611 /><circle class=w3 cx=311 cy=1613 /><circle class=w2 cx=377 cy=1557 /><circle class=G cx=184 cy=1614 /><circle class=w2 cx=413 cy=1503 /><circle class=G cx=245 cy=1593 /><circle class=w1 cx=393 cy=1606 /><circle class=w2 cx=434 cy=1611 /><circle class=G cx=222 cy=1607 /><circle class=G cx=271 cy=1543 /><circle class=G cx=276 cy=1544 /><circle class=w3 cx=286 cy=1628 /><circle class=G cx=200 cy=1532 /><circle class=G cx=286 cy=1600 /><circle class=G cx=208 cy=1548 /><circle class=G cx=279 cy=1566 /><circle class=w2 cx=443 cy=1596 /><circle class=G cx=262 cy=1555 /><circle class=G cx=224 cy=1613 /><circle class=G cx=129 cy=1602 /><circle class=w2 cx=199 cy=1643 /><circle class=p cx=375 cy=1634 /><circle class=w2 cx=416 cy=1636 /><circle class=G cx=146 cy=1622 /><circle class=p cx=375 cy=1608 /><circle class=G cx=280 cy=1565 /><circle class=G cx=146 cy=1641 /><circle class=G cx=239 cy=1567 /><circle class=G cx=247 cy=1535 /><circle class=G cx=183 cy=1634 /><circle class=p cx=179 cy=1552 /><circle class=w1 cx=323 cy=1569 /><circle class=G cx=260 cy=1571 /><circle class=G cx=338 cy=1592 /><circle class=w1 cx=378 cy=1531 /><circle class=G cx=167 cy=1561 /><circle class=p cx=197 cy=1604 /><circle class=G cx=184 cy=1622 /><circle class=w2 cx=384 cy=1538 /><circle class=w2 cx=232 cy=1629 /><circle class=G cx=328 cy=1572 /><circle class=p cx=378 cy=1515 /><circle class=G cx=311 cy=1583 /><circle class=w1 cx=261 cy=1513 /><circle class=G cx=159 cy=1614 /><circle class=G cx=270 cy=1551 /><circle class=p cx=296 cy=1650 /><circle class=G cx=222 cy=1621 /><circle class=p cx=299 cy=1518 /><circle class=G cx=309 cy=1618 /><circle class=p cx=400 cy=1555 /><circle class=p cx=171 cy=1580 /><circle class=G cx=217 cy=1621 /><circle class=w2 cx=304 cy=1658 /><circle class=p cx=259 cy=1512 /><circle class=w2 cx=137 cy=1590 /><circle class=p cx=442 cy=1531 /><circle class=G cx=228 cy=1527 /><circle class=w2 cx=423 cy=1573 /><circle class=G cx=159 cy=1568 /><circle class=G cx=280 cy=1553 /><circle class=G cx=129 cy=1597 /><circle class=p cx=419 cy=1518 /><circle class=G cx=208 cy=1594 /><circle class=w2 cx=206 cy=1560 /><circle class=G cx=139 cy=1611 /><circle class=G cx=158 cy=1577 /><circle class=w3 cx=406 cy=1615 /><circle class=w2 cx=159 cy=1530 /><circle class=p cx=303 cy=1515 /><circle class=p cx=388 cy=1593 /><circle class=w2 cx=300 cy=1621 /><circle class=w2 cx=228 cy=1633 /><circle class=p cx=398 cy=1614 /><circle class=p cx=328 cy=1536 /><circle class=w3 cx=393 cy=1611 /><circle class=G cx=211 cy=1545 /><circle class=w2 cx=319 cy=1572 />
</g>
<rect x="31.3" y="1476.3" width="55.5" height="25.90000000000009" rx="4" fill="#93cf8e" stroke="#333" stroke-width="1.1"/>
<text x="59.05" y="1495.9" font-size="18" fill="#111" text-anchor="middle">0 ns</text>
<path d="M306.5,1506 V1487" stroke="#c0102a" stroke-width="3.3"/><path d="M300.8,1489.5 L306.5,1475.4 L312.2,1489.5 Z" fill="#c0102a"/>
<path d="M306.5,1666 V1684" stroke="#c0102a" stroke-width="3.3"/><path d="M300.6,1682.2 L306.5,1697 L312.4,1682.2 Z" fill="#c0102a"/>
<text x="306.8" y="1474.9" font-size="18.5" font-weight="bold" fill="#c0102a" text-anchor="middle">Fx</text>
<text x="305.9" y="1714.7" font-size="18.5" font-weight="bold" fill="#c0102a" text-anchor="middle">–Fx</text>
<clipPath id="cj2"><rect x="558" y="1475.5" width="474.5999999999999" height="226.9000000000001"/></clipPath>
<g clip-path="url(#cj2)" class="J">
<circle class=g cx=1012 cy=1683 /><circle class=g cx=585 cy=1494 /><circle class=g cx=955 cy=1637 /><circle class=g cx=846 cy=1608 /><circle class=g cx=834 cy=1510 /><circle class=g cx=901 cy=1693 /><circle class=l cx=1009 cy=1595 /><circle class=g cx=575 cy=1482 /><circle class=g cx=738 cy=1671 /><circle class=g cx=670 cy=1481 /><circle class=g cx=800 cy=1694 /><circle class=g cx=982 cy=1650 /><circle class=l cx=907 cy=1674 /><circle class=g cx=726 cy=1690 /><circle class=l cx=1015 cy=1511 /><circle class=g cx=791 cy=1678 /><circle class=l cx=726 cy=1669 /><circle class=g cx=985 cy=1576 /><circle class=l cx=663 cy=1547 /><circle class=g cx=989 cy=1534 /><circle class=l cx=991 cy=1543 /><circle class=l cx=1012 cy=1630 /><circle class=g cx=854 cy=1492 /><circle class=g cx=947 cy=1634 /><circle class=g cx=989 cy=1517 /><circle class=l cx=911 cy=1488 /><circle class=l cx=666 cy=1667 /><circle class=l cx=608 cy=1590 /><circle class=l cx=963 cy=1529 /><circle class=g cx=658 cy=1668 /><circle class=g cx=573 cy=1555 /><circle class=g cx=640 cy=1623 /><circle class=g cx=597 cy=1684 /><circle class=g cx=570 cy=1635 /><circle class=l cx=568 cy=1531 /><circle class=g cx=944 cy=1510 /><circle class=g cx=645 cy=1627 /><circle class=g cx=741 cy=1485 /><circle class=g cx=1028 cy=1509 /><circle class=g cx=850 cy=1638 /><circle class=l cx=612 cy=1549 /><circle class=g cx=573 cy=1574 /><circle class=l cx=986 cy=1641 /><circle class=l cx=967 cy=1630 /><circle class=g cx=606 cy=1574 /><circle class=l cx=973 cy=1503 /><circle class=g cx=1013 cy=1532 /><circle class=l cx=567 cy=1598 /><circle class=g cx=625 cy=1488 /><circle class=g cx=574 cy=1511 /><circle class=g cx=604 cy=1615 /><circle class=g cx=1001 cy=1693 /><circle class=l cx=854 cy=1651 /><circle class=l cx=560 cy=1483 /><circle class=g cx=752 cy=1500 /><circle class=l cx=605 cy=1515 /><circle class=g cx=668 cy=1523 /><circle class=g cx=659 cy=1674 /><circle class=l cx=1015 cy=1635 /><circle class=l cx=644 cy=1496 /><circle class=g cx=1025 cy=1557 /><circle class=g cx=567 cy=1626 /><circle class=g cx=606 cy=1542 /><circle class=g cx=957 cy=1623 /><circle class=g cx=565 cy=1574 /><circle class=g cx=657 cy=1604 /><circle class=g cx=593 cy=1538 /><circle class=g cx=735 cy=1680 /><circle class=g cx=594 cy=1641 /><circle class=l cx=649 cy=1601 /><circle class=g cx=616 cy=1502 /><circle class=g cx=596 cy=1662 /><circle class=g cx=862 cy=1686 /><circle class=g cx=887 cy=1481 /><circle class=g cx=1011 cy=1652 /><circle class=l cx=1000 cy=1659 /><circle class=l cx=994 cy=1604 /><circle class=g cx=946 cy=1497 /><circle class=g cx=628 cy=1567 /><circle class=g cx=590 cy=1494 /><circle class=g cx=983 cy=1692 /><circle class=g cx=611 cy=1594 /><circle class=l cx=1009 cy=1641 /><circle class=l cx=604 cy=1589 /><circle class=g cx=1030 cy=1647 /><circle class=l cx=767 cy=1482 /><circle class=g cx=840 cy=1669 /><circle class=g cx=644 cy=1587 /><circle class=g cx=895 cy=1681 /><circle class=g cx=1015 cy=1548 /><circle class=g cx=919 cy=1662 /><circle class=g cx=665 cy=1611 /><circle class=g cx=1022 cy=1614 /><circle class=g cx=896 cy=1669 /><circle class=g cx=867 cy=1654 /><circle class=g cx=566 cy=1682 /><circle class=g cx=988 cy=1669 /><circle class=l cx=606 cy=1654 /><circle class=g cx=649 cy=1652 /><circle class=g cx=623 cy=1610 /><circle class=g cx=655 cy=1687 /><circle class=g cx=593 cy=1476 /><circle class=l cx=797 cy=1482 /><circle class=g cx=640 cy=1640 /><circle class=l cx=968 cy=1505 /><circle class=g cx=635 cy=1559 /><circle class=g cx=1017 cy=1556 /><circle class=l cx=768 cy=1666 /><circle class=l cx=992 cy=1492 /><circle class=l cx=949 cy=1542 /><circle class=g cx=865 cy=1650 /><circle class=g cx=957 cy=1496 /><circle class=g cx=690 cy=1685 /><circle class=g cx=611 cy=1655 /><circle class=l cx=709 cy=1492 /><circle class=l cx=983 cy=1677 /><circle class=g cx=999 cy=1547 /><circle class=g cx=605 cy=1528 /><circle class=g cx=748 cy=1656 /><circle class=g cx=720 cy=1668 /><circle class=g cx=997 cy=1586 /><circle class=g cx=885 cy=1683 /><circle class=l cx=971 cy=1680 /><circle class=l cx=916 cy=1690 /><circle class=g cx=1013 cy=1553 /><circle class=l cx=784 cy=1671 /><circle class=l cx=646 cy=1686 /><circle class=l cx=618 cy=1482 /><circle class=g cx=994 cy=1669 /><circle class=g cx=954 cy=1561 /><circle class=l cx=629 cy=1545 /><circle class=g cx=998 cy=1496 /><circle class=l cx=625 cy=1520 /><circle class=g cx=675 cy=1528 /><circle class=g cx=587 cy=1507 /><circle class=g cx=962 cy=1570 /><circle class=g cx=928 cy=1505 /><circle class=l cx=848 cy=1562 /><circle class=l cx=1031 cy=1561 /><circle class=l cx=708 cy=1659 /><circle class=g cx=1027 cy=1660 /><circle class=l cx=807 cy=1486 /><circle class=l cx=609 cy=1693 /><circle class=g cx=619 cy=1681 /><circle class=g cx=881 cy=1676 /><circle class=l cx=595 cy=1542 /><circle class=g cx=937 cy=1477 /><circle class=g cx=640 cy=1508 /><circle class=g cx=876 cy=1496 /><circle class=l cx=582 cy=1672 /><circle class=g cx=796 cy=1489 /><circle class=g cx=653 cy=1677 /><circle class=g cx=882 cy=1667 /><circle class=g cx=624 cy=1583 /><circle class=g cx=621 cy=1501 /><circle class=g cx=609 cy=1522 /><circle class=l cx=583 cy=1523 /><circle class=g cx=965 cy=1673 /><circle class=g cx=993 cy=1511 /><circle class=g cx=921 cy=1692 /><circle class=g cx=667 cy=1629 /><circle class=g cx=573 cy=1596 /><circle class=g cx=654 cy=1518 /><circle class=g cx=855 cy=1638 /><circle class=l cx=581 cy=1645 /><circle class=g cx=949 cy=1658 /><circle class=g cx=842 cy=1484 /><circle class=g cx=651 cy=1499 /><circle class=g cx=1022 cy=1672 /><circle class=g cx=657 cy=1656 /><circle class=g cx=986 cy=1600 /><circle class=g cx=990 cy=1522 /><circle class=g cx=996 cy=1520 /><circle class=g cx=649 cy=1580 /><circle class=g cx=639 cy=1608 /><circle class=g cx=966 cy=1524 /><circle class=g cx=978 cy=1625 /><circle class=g cx=955 cy=1541 /><circle class=g cx=564 cy=1666 /><circle class=g cx=652 cy=1544 /><circle class=l cx=954 cy=1479 /><circle class=l cx=629 cy=1608 /><circle class=g cx=736 cy=1490 /><circle class=l cx=938 cy=1676 /><circle class=g cx=1016 cy=1678 /><circle class=g cx=654 cy=1630 /><circle class=g cx=973 cy=1605 /><circle class=g cx=587 cy=1621 /><circle class=l cx=1019 cy=1561 /><circle class=g cx=660 cy=1525 /><circle class=g cx=878 cy=1487 /><circle class=l cx=663 cy=1481 /><circle class=g cx=606 cy=1598 /><circle class=g cx=599 cy=1622 /><circle class=g cx=783 cy=1682 /><circle class=g cx=996 cy=1608 /><circle class=l cx=609 cy=1647 /><circle class=g cx=730 cy=1683 /><circle class=g cx=860 cy=1652 /><circle class=g cx=983 cy=1587 /><circle class=g cx=1017 cy=1481 /><circle class=g cx=720 cy=1659 /><circle class=l cx=562 cy=1623 /><circle class=g cx=1032 cy=1632 /><circle class=l cx=967 cy=1492 /><circle class=l cx=933 cy=1511 /><circle class=g cx=579 cy=1605 /><circle class=g cx=1017 cy=1657 /><circle class=g cx=987 cy=1484 /><circle class=g cx=675 cy=1648 /><circle class=g cx=983 cy=1564 /><circle class=g cx=989 cy=1500 /><circle class=l cx=669 cy=1517 /><circle class=g cx=561 cy=1564 /><circle class=g cx=867 cy=1487 /><circle class=g cx=749 cy=1676 /><circle class=g cx=618 cy=1569 /><circle class=g cx=1020 cy=1601 /><circle class=g cx=766 cy=1684 /><circle class=l cx=619 cy=1552 /><circle class=g cx=569 cy=1630 /><circle class=l cx=662 cy=1640 /><circle class=l cx=853 cy=1482 /><circle class=l cx=701 cy=1659 /><circle class=g cx=1020 cy=1595 /><circle class=g cx=675 cy=1631 /><circle class=l cx=731 cy=1661 /><circle class=g cx=777 cy=1684 /><circle class=g cx=1013 cy=1501 /><circle class=l cx=850 cy=1643 /><circle class=g cx=628 cy=1621 /><circle class=l cx=795 cy=1692 /><circle class=g cx=930 cy=1672 /><circle class=l cx=748 cy=1484 /><circle class=g cx=1005 cy=1555 /><circle class=g cx=845 cy=1636 /><circle class=g cx=643 cy=1658 /><circle class=l cx=994 cy=1573 /><circle class=g cx=603 cy=1480 /><circle class=g cx=572 cy=1584 /><circle class=l cx=897 cy=1487 /><circle class=g cx=973 cy=1615 /><circle class=g cx=673 cy=1661 /><circle class=g cx=1024 cy=1515 /><circle class=l cx=673 cy=1653 /><circle class=l cx=967 cy=1604 /><circle class=g cx=850 cy=1649 /><circle class=l cx=892 cy=1476 /><circle class=l cx=598 cy=1646 /><circle class=g cx=940 cy=1668 /><circle class=g cx=788 cy=1492 /><circle class=g cx=571 cy=1670 /><circle class=g cx=657 cy=1567 /><circle class=g cx=618 cy=1604 /><circle class=g cx=577 cy=1549 /><circle class=g cx=864 cy=1662 /><circle class=l cx=632 cy=1677 /><circle class=g cx=572 cy=1502 /><circle class=g cx=1021 cy=1684 /><circle class=g cx=568 cy=1479 /><circle class=g cx=967 cy=1640 /><circle class=l cx=623 cy=1637 /><circle class=g cx=1024 cy=1624 /><circle class=l cx=588 cy=1612 /><circle class=g cx=948 cy=1672 /><circle class=g cx=725 cy=1661 /><circle class=l cx=999 cy=1601 /><circle class=l cx=717 cy=1495 /><circle class=g cx=647 cy=1571 /><circle class=l cx=954 cy=1549 /><circle class=g cx=997 cy=1618 /><circle class=g cx=1012 cy=1619 /><circle class=g cx=578 cy=1625 /><circle class=g cx=987 cy=1494 /><circle class=l cx=624 cy=1686 /><circle class=g cx=760 cy=1477 /><circle class=g cx=954 cy=1517 /><circle class=g cx=559 cy=1650 /><circle class=g cx=631 cy=1534 /><circle class=l cx=944 cy=1543 /><circle class=g cx=958 cy=1643 /><circle class=g cx=998 cy=1670 /><circle class=l cx=776 cy=1495 /><circle class=l cx=956 cy=1585 /><circle class=g cx=633 cy=1523 /><circle class=g cx=1025 cy=1570 /><circle class=g cx=635 cy=1491 /><circle class=g cx=931 cy=1485 /><circle class=g cx=682 cy=1481 /><circle class=l cx=930 cy=1518 /><circle class=g cx=581 cy=1556 /><circle class=l cx=1020 cy=1573 /><circle class=g cx=581 cy=1546 /><circle class=g cx=622 cy=1627 /><circle class=l cx=640 cy=1648 /><circle class=g cx=757 cy=1658 /><circle class=g cx=568 cy=1556 /><circle class=l cx=1004 cy=1674 /><circle class=l cx=849 cy=1605 /><circle class=l cx=607 cy=1477 /><circle class=g cx=979 cy=1482 /><circle class=g cx=567 cy=1604 /><circle class=l cx=608 cy=1621 /><circle class=g cx=979 cy=1673 /><circle class=l cx=574 cy=1536 /><circle class=l cx=661 cy=1622 /><circle class=g cx=986 cy=1476 /><circle class=g cx=1012 cy=1603 /><circle class=l cx=655 cy=1504 /><circle class=g cx=608 cy=1583 /><circle class=g cx=647 cy=1522 /><circle class=l cx=693 cy=1494 /><circle class=g cx=926 cy=1686 /><circle class=g cx=1032 cy=1485 /><circle class=g cx=1015 cy=1612 /><circle class=g cx=1031 cy=1569 /><circle class=g cx=864 cy=1497 /><circle class=g cx=621 cy=1577 /><circle class=g cx=630 cy=1517 /><circle class=g cx=623 cy=1604 /><circle class=l cx=559 cy=1676 /><circle class=g cx=580 cy=1501 /><circle class=g cx=697 cy=1648 /><circle class=g cx=1002 cy=1642 /><circle class=l cx=611 cy=1599 /><circle class=g cx=990 cy=1677 /><circle class=g cx=951 cy=1493 /><circle class=g cx=907 cy=1494 /><circle class=g cx=881 cy=1482 /><circle class=g cx=561 cy=1498 /><circle class=l cx=868 cy=1691 /><circle class=g cx=982 cy=1537 /><circle class=g cx=638 cy=1518 /><circle class=g cx=962 cy=1693 /><circle class=g cx=972 cy=1558 /><circle class=l cx=709 cy=1653 /><circle class=g cx=614 cy=1539 /><circle class=g cx=914 cy=1669 /><circle class=g cx=1026 cy=1641 /><circle class=g cx=976 cy=1656 /><circle class=g cx=636 cy=1627 /><circle class=g cx=689 cy=1629 /><circle class=l cx=623 cy=1616 /><circle class=g cx=679 cy=1643 /><circle class=l cx=723 cy=1494 /><circle class=l cx=962 cy=1498 /><circle class=g cx=695 cy=1476 /><circle class=l cx=657 cy=1534 /><circle class=g cx=947 cy=1681 /><circle class=l cx=660 cy=1581 /><circle class=g cx=576 cy=1565 /><circle class=l cx=627 cy=1595 /><circle class=l cx=617 cy=1516 /><circle class=g cx=717 cy=1647 /><circle class=g cx=1021 cy=1606 /><circle class=l cx=584 cy=1652 /><circle class=g cx=649 cy=1489 /><circle class=g cx=845 cy=1630 /><circle class=l cx=715 cy=1476 /><circle class=l cx=961 cy=1640 /><circle class=g cx=849 cy=1666 /><circle class=l cx=691 cy=1642 /><circle class=g cx=566 cy=1511 /><circle class=g cx=1008 cy=1496 /><circle class=g cx=983 cy=1553 /><circle class=g cx=995 cy=1550 /><circle class=l cx=700 cy=1681 /><circle class=l cx=948 cy=1532 /><circle class=g cx=746 cy=1693 /><circle class=g cx=882 cy=1493 /><circle class=l cx=959 cy=1534 /><circle class=g cx=993 cy=1654 /><circle class=g cx=567 cy=1584 /><circle class=l cx=979 cy=1520 /><circle class=g cx=953 cy=1533 /><circle class=g cx=570 cy=1653 /><circle class=l cx=1019 cy=1619 /><circle class=l cx=676 cy=1621 /><circle class=l cx=942 cy=1534 /><circle class=g cx=684 cy=1665 /><circle class=g cx=645 cy=1647 /><circle class=g cx=888 cy=1670 /><circle class=l cx=607 cy=1566 /><circle class=g cx=614 cy=1543 /><circle class=g cx=688 cy=1691 /><circle class=g cx=591 cy=1575 /><circle class=l cx=671 cy=1670 /><circle class=g cx=994 cy=1614 /><circle class=g cx=720 cy=1652 /><circle class=l cx=1004 cy=1575 /><circle class=g cx=572 cy=1568 /><circle class=g cx=621 cy=1536 /><circle class=l cx=963 cy=1686 /><circle class=g cx=670 cy=1602 /><circle class=l cx=565 cy=1592 /><circle class=g cx=653 cy=1478 /><circle class=g cx=942 cy=1480 /><circle class=g cx=595 cy=1487 /><circle class=l cx=685 cy=1497 /><circle class=g cx=623 cy=1598 /><circle class=g cx=661 cy=1627 /><circle class=g cx=705 cy=1476 /><circle class=g cx=1032 cy=1685 /><circle class=l cx=716 cy=1686 /><circle class=g cx=607 cy=1508 /><circle class=l cx=1022 cy=1637 /><circle class=g cx=658 cy=1485 /><circle class=g cx=629 cy=1644 /><circle class=l cx=892 cy=1501 /><circle class=g cx=577 cy=1528 /><circle class=g cx=578 cy=1636 /><circle class=l cx=716 cy=1484 /><circle class=l cx=672 cy=1626 /><circle class=l cx=614 cy=1559 /><circle class=l cx=995 cy=1659 /><circle class=g cx=704 cy=1490 /><circle class=g cx=616 cy=1489 /><circle class=g cx=599 cy=1584 /><circle class=l cx=977 cy=1603 /><circle class=l cx=596 cy=1677 /><circle class=g cx=703 cy=1672 /><circle class=g cx=657 cy=1491 /><circle class=g cx=873 cy=1481 /><circle class=l cx=752 cy=1685 /><circle class=g cx=591 cy=1646 /><circle class=g cx=868 cy=1659 /><circle class=l cx=871 cy=1680 /><circle class=l cx=910 cy=1482 /><circle class=g cx=623 cy=1478 /><circle class=g cx=1016 cy=1643 /><circle class=g cx=630 cy=1487 /><circle class=g cx=982 cy=1599 /><circle class=l cx=969 cy=1551 /><circle class=g cx=678 cy=1488 /><circle class=l cx=1009 cy=1548 /><circle class=g cx=1031 cy=1586 /><circle class=l cx=1030 cy=1625 /><circle class=g cx=979 cy=1608 /><circle class=g cx=986 cy=1607 /><circle class=l cx=1020 cy=1567 />
<path d="M670.0,1545.9 L681.8,1522.3 L693.6,1508.6 L713.5,1502.9 L733.3,1507.2 L752.8,1503.5 L768.4,1503.6 L783.9,1499.5 L799.5,1495.4 L807.5,1487.2 L823.3,1481.0 L839.1,1482.9 L840.9,1494.8 L830.8,1510.9 L838.5,1522.7 L846.2,1542.3 L843.9,1561.8 L845.9,1581.2 L842.0,1600.6 L844.3,1620.2 L838.7,1639.8 L839.0,1663.8 L835.2,1679.7 L827.4,1691.7 L807.7,1693.6 L795.8,1683.4 L783.9,1663.2 L768.3,1655.1 L752.8,1651.2 L733.3,1647.4 L713.6,1639.8 L697.8,1632.1 L686.0,1616.5 L674.1,1600.9 L668.1,1581.2 L668.1,1561.6Z" fill="#8c8c8c"/>
<path d="M842.7,1513.0 L858.3,1503.2 L874.0,1503.5 L885.7,1509.6 L897.3,1515.7 L912.7,1515.6 L932.0,1523.3 L939.5,1538.9 L941.0,1558.3 L946.8,1573.5 L955.0,1592.7 L955.3,1612.1 L947.6,1623.8 L936.1,1639.4 L924.5,1651.2 L905.1,1659.1 L885.6,1655.1 L870.1,1647.2 L858.5,1639.4 L851.0,1623.7 L851.6,1600.2 L849.8,1577.3 L851.5,1554.5 L847.1,1534.9Z" fill="#8c8c8c"/>
<circle class=w2 cx=777 cy=1548 /><circle class=p cx=938 cy=1552 /><circle class=w3 cx=714 cy=1601 /><circle class=w2 cx=857 cy=1568 /><circle class=w2 cx=751 cy=1648 /><circle class=w3 cx=943 cy=1591 /><circle class=G cx=805 cy=1571 /><circle class=p cx=850 cy=1578 /><circle class=G cx=901 cy=1618 /><circle class=p cx=816 cy=1560 /><circle class=p cx=671 cy=1574 /><circle class=G cx=758 cy=1558 /><circle class=w3 cx=850 cy=1619 /><circle class=G cx=802 cy=1627 /><circle class=w1 cx=815 cy=1535 /><circle class=p cx=943 cy=1562 /><circle class=w2 cx=749 cy=1604 /><circle class=G cx=829 cy=1617 /><circle class=w1 cx=853 cy=1624 /><circle class=G cx=752 cy=1532 /><circle class=p cx=796 cy=1634 /><circle class=w1 cx=837 cy=1617 /><circle class=w1 cx=803 cy=1498 /><circle class=w1 cx=917 cy=1585 /><circle class=w3 cx=936 cy=1625 /><circle class=w2 cx=877 cy=1641 /><circle class=p cx=777 cy=1502 /><circle class=w3 cx=925 cy=1553 /><circle class=G cx=707 cy=1570 /><circle class=G cx=769 cy=1570 /><circle class=w1 cx=767 cy=1624 /><circle class=w2 cx=700 cy=1583 /><circle class=p cx=847 cy=1564 /><circle class=p cx=775 cy=1587 /><circle class=G cx=775 cy=1642 /><circle class=G cx=777 cy=1546 /><circle class=G cx=693 cy=1575 /><circle class=G cx=797 cy=1595 /><circle class=G cx=787 cy=1607 /><circle class=G cx=857 cy=1519 /><circle class=p cx=938 cy=1560 /><circle class=p cx=776 cy=1652 /><circle class=w2 cx=943 cy=1560 /><circle class=w3 cx=889 cy=1581 /><circle class=G cx=773 cy=1530 /><circle class=w3 cx=787 cy=1519 /><circle class=w2 cx=837 cy=1560 /><circle class=w2 cx=676 cy=1571 /><circle class=p cx=854 cy=1596 /><circle class=p cx=753 cy=1512 /><circle class=p cx=752 cy=1514 /><circle class=G cx=786 cy=1547 /><circle class=G cx=810 cy=1612 /><circle class=p cx=895 cy=1600 /><circle class=G cx=817 cy=1513 /><circle class=w2 cx=900 cy=1638 /><circle class=p cx=956 cy=1593 /><circle class=p cx=850 cy=1509 /><circle class=p cx=918 cy=1517 /><circle class=p cx=879 cy=1559 /><circle class=w2 cx=879 cy=1590 /><circle class=w2 cx=939 cy=1590 /><circle class=p cx=869 cy=1649 /><circle class=w1 cx=932 cy=1591 /><circle class=G cx=808 cy=1594 /><circle class=w1 cx=791 cy=1559 /><circle class=w2 cx=909 cy=1578 /><circle class=G cx=824 cy=1586 /><circle class=w2 cx=887 cy=1564 /><circle class=p cx=820 cy=1638 /><circle class=w2 cx=833 cy=1565 /><circle class=G cx=797 cy=1585 /><circle class=p cx=898 cy=1526 /><circle class=G cx=769 cy=1594 /><circle class=p cx=874 cy=1644 /><circle class=p cx=739 cy=1545 /><circle class=w2 cx=922 cy=1594 /><circle class=p cx=901 cy=1576 /><circle class=w2 cx=748 cy=1580 /><circle class=G cx=799 cy=1570 /><circle class=G cx=706 cy=1592 /><circle class=w1 cx=833 cy=1580 /><circle class=p cx=875 cy=1649 /><circle class=p cx=919 cy=1602 /><circle class=p cx=901 cy=1552 /><circle class=w2 cx=900 cy=1623 /><circle class=w2 cx=753 cy=1505 /><circle class=G cx=792 cy=1618 /><circle class=w2 cx=853 cy=1558 /><circle class=w2 cx=907 cy=1553 /><circle class=p cx=818 cy=1566 /><circle class=w2 cx=783 cy=1600 /><circle class=w2 cx=930 cy=1603 /><circle class=p cx=731 cy=1535 /><circle class=w2 cx=732 cy=1548 /><circle class=G cx=731 cy=1577 /><circle class=G cx=798 cy=1581 /><circle class=p cx=667 cy=1584 /><circle class=w1 cx=849 cy=1566 /><circle class=w2 cx=900 cy=1623 /><circle class=w2 cx=707 cy=1616 /><circle class=w1 cx=874 cy=1557 /><circle class=p cx=841 cy=1585 /><circle class=G cx=801 cy=1563 /><circle class=G cx=824 cy=1576 /><circle class=w2 cx=768 cy=1611 /><circle class=w1 cx=908 cy=1647 /><circle class=w3 cx=835 cy=1639 /><circle class=p cx=834 cy=1678 /><circle class=G cx=773 cy=1561 /><circle class=p cx=929 cy=1639 /><circle class=G cx=785 cy=1605 /><circle class=p cx=844 cy=1579 /><circle class=w3 cx=780 cy=1600 /><circle class=G cx=725 cy=1581 /><circle class=G cx=815 cy=1593 /><circle class=w1 cx=906 cy=1535 /><circle class=G cx=802 cy=1601 /><circle class=w3 cx=938 cy=1594 /><circle class=G cx=714 cy=1559 /><circle class=p cx=893 cy=1580 /><circle class=G cx=832 cy=1618 /><circle class=p cx=934 cy=1589 /><circle class=G cx=807 cy=1515 /><circle class=G cx=936 cy=1550 /><circle class=p cx=728 cy=1535 /><circle class=G cx=760 cy=1529 /><circle class=w3 cx=820 cy=1684 /><circle class=G cx=755 cy=1591 /><circle class=w1 cx=785 cy=1630 /><circle class=w2 cx=853 cy=1602 /><circle class=p cx=948 cy=1569 /><circle class=G cx=698 cy=1563 /><circle class=G cx=789 cy=1538 /><circle class=w2 cx=758 cy=1507 /><circle class=G cx=827 cy=1604 /><circle class=w2 cx=743 cy=1599 /><circle class=w1 cx=763 cy=1630 /><circle class=G cx=790 cy=1611 /><circle class=G cx=863 cy=1609 /><circle class=w1 cx=903 cy=1520 /><circle class=w2 cx=709 cy=1547 /><circle class=G cx=780 cy=1550 /><circle class=G cx=703 cy=1577 /><circle class=G cx=818 cy=1615 /><circle class=p cx=832 cy=1582 /><circle class=G cx=814 cy=1585 /><circle class=G cx=768 cy=1542 /><circle class=p cx=802 cy=1685 /><circle class=p cx=855 cy=1550 /><circle class=G cx=801 cy=1591 /><circle class=w2 cx=880 cy=1648 /><circle class=G cx=801 cy=1615 /><circle class=w3 cx=855 cy=1536 /><circle class=G cx=813 cy=1513 /><circle class=G cx=779 cy=1529 /><circle class=G cx=711 cy=1568 /><circle class=G cx=790 cy=1551 /><circle class=p cx=709 cy=1603 /><circle class=G cx=847 cy=1566 /><circle class=p cx=742 cy=1508 /><circle class=G cx=760 cy=1548 /><circle class=w2 cx=894 cy=1574 /><circle class=w2 cx=667 cy=1580 /><circle class=G cx=809 cy=1600 /><circle class=w3 cx=909 cy=1650 /><circle class=G cx=735 cy=1582 /><circle class=w1 cx=831 cy=1667 /><circle class=p cx=679 cy=1535 /><circle class=G cx=805 cy=1541 /><circle class=p cx=893 cy=1520 /><circle class=w2 cx=922 cy=1609 /><circle class=G cx=724 cy=1594 /><circle class=G cx=779 cy=1526 /><circle class=w3 cx=941 cy=1620 /><circle class=G cx=778 cy=1560 /><circle class=p cx=685 cy=1558 /><circle class=G cx=796 cy=1523 /><circle class=p cx=889 cy=1544 /><circle class=G cx=779 cy=1584 /><circle class=w2 cx=868 cy=1536 /><circle class=w3 cx=694 cy=1597 /><circle class=w2 cx=897 cy=1589 /><circle class=G cx=753 cy=1590 /><circle class=w1 cx=885 cy=1598 /><circle class=G cx=766 cy=1591 /><circle class=w1 cx=805 cy=1639 /><circle class=G cx=749 cy=1585 /><circle class=G cx=770 cy=1524 /><circle class=G cx=788 cy=1604 /><circle class=w2 cx=914 cy=1539 /><circle class=w2 cx=869 cy=1549 /><circle class=p cx=901 cy=1606 /><circle class=p cx=905 cy=1553 /><circle class=w3 cx=751 cy=1617 /><circle class=G cx=796 cy=1499 /><circle class=p cx=741 cy=1505 /><circle class=G cx=775 cy=1544 /><circle class=G cx=693 cy=1561 /><circle class=w1 cx=756 cy=1626 /><circle class=w2 cx=678 cy=1540 /><circle class=w1 cx=928 cy=1614 /><circle class=p cx=728 cy=1539 /><circle class=p cx=920 cy=1649 /><circle class=w1 cx=948 cy=1584 /><circle class=p cx=916 cy=1650 /><circle class=G cx=697 cy=1562 /><circle class=p cx=885 cy=1654 /><circle class=p cx=770 cy=1649 /><circle class=w3 cx=903 cy=1588 /><circle class=G cx=718 cy=1598 /><circle class=G cx=774 cy=1554 /><circle class=w1 cx=811 cy=1660 /><circle class=w2 cx=933 cy=1620 /><circle class=w2 cx=749 cy=1597 /><circle class=p cx=755 cy=1566 /><circle class=p cx=852 cy=1627 /><circle class=p cx=850 cy=1537 /><circle class=w1 cx=918 cy=1582 /><circle class=w1 cx=828 cy=1626 /><circle class=w2 cx=912 cy=1572 /><circle class=G cx=789 cy=1549 /><circle class=w2 cx=908 cy=1611 /><circle class=w2 cx=761 cy=1505 /><circle class=G cx=703 cy=1564 /><circle class=w2 cx=860 cy=1624 /><circle class=w2 cx=903 cy=1634 /><circle class=G cx=782 cy=1590 /><circle class=G cx=812 cy=1527 /><circle class=p cx=927 cy=1582 /><circle class=G cx=755 cy=1534 /><circle class=w2 cx=824 cy=1550 /><circle class=G cx=826 cy=1577 /><circle class=w1 cx=688 cy=1573 /><circle class=G cx=806 cy=1511 /><circle class=w3 cx=934 cy=1584 /><circle class=G cx=716 cy=1523 /><circle class=w2 cx=868 cy=1552 /><circle class=G cx=728 cy=1622 /><circle class=G cx=751 cy=1545 /><circle class=G cx=816 cy=1620 /><circle class=w3 cx=734 cy=1551 /><circle class=p cx=771 cy=1636 /><circle class=G cx=938 cy=1603 /><circle class=G cx=804 cy=1523 /><circle class=G cx=703 cy=1569 /><circle class=G cx=762 cy=1575 /><circle class=w2 cx=837 cy=1547 /><circle class=w1 cx=870 cy=1644 /><circle class=w1 cx=896 cy=1569 /><circle class=G cx=712 cy=1597 /><circle class=w2 cx=866 cy=1601 /><circle class=w2 cx=689 cy=1581 /><circle class=G cx=776 cy=1529 /><circle class=G cx=743 cy=1586 /><circle class=G cx=837 cy=1594 /><circle class=p cx=913 cy=1539 /><circle class=w3 cx=729 cy=1535 /><circle class=G cx=799 cy=1536 /><circle class=G cx=939 cy=1555 /><circle class=w1 cx=678 cy=1592 /><circle class=w1 cx=774 cy=1596 /><circle class=G cx=815 cy=1604 /><circle class=G cx=812 cy=1566 /><circle class=w2 cx=696 cy=1550 /><circle class=w3 cx=867 cy=1502 /><circle class=w2 cx=902 cy=1612 /><circle class=w1 cx=837 cy=1486 /><circle class=G cx=824 cy=1548 /><circle class=w3 cx=853 cy=1628 /><circle class=p cx=936 cy=1545 /><circle class=w2 cx=784 cy=1507 /><circle class=G cx=833 cy=1589 /><circle class=w1 cx=907 cy=1577 /><circle class=w2 cx=836 cy=1572 /><circle class=w2 cx=872 cy=1603 /><circle class=w2 cx=932 cy=1575 /><circle class=w2 cx=849 cy=1568 /><circle class=w1 cx=786 cy=1661 /><circle class=w3 cx=789 cy=1522 /><circle class=w3 cx=838 cy=1569 /><circle class=G cx=782 cy=1561 /><circle class=w2 cx=889 cy=1537 /><circle class=w2 cx=712 cy=1630 /><circle class=p cx=883 cy=1572 /><circle class=G cx=768 cy=1524 /><circle class=G cx=757 cy=1559 /><circle class=G cx=841 cy=1544 /><circle class=G cx=807 cy=1517 /><circle class=G cx=749 cy=1542 /><circle class=p cx=837 cy=1499 /><circle class=G cx=832 cy=1605 /><circle class=w1 cx=742 cy=1627 /><circle class=G cx=720 cy=1583 /><circle class=w1 cx=827 cy=1688 /><circle class=G cx=704 cy=1594 /><circle class=G cx=716 cy=1561 /><circle class=w2 cx=808 cy=1654 /><circle class=w3 cx=751 cy=1602 /><circle class=p cx=870 cy=1592 /><circle class=w2 cx=780 cy=1618 /><circle class=G cx=726 cy=1575 /><circle class=w2 cx=831 cy=1626 /><circle class=G cx=791 cy=1595 /><circle class=p cx=866 cy=1528 /><circle class=p cx=785 cy=1640 /><circle class=w3 cx=895 cy=1524 /><circle class=w2 cx=759 cy=1564 /><circle class=w1 cx=930 cy=1631 /><circle class=w3 cx=918 cy=1515 /><circle class=w2 cx=692 cy=1620 /><circle class=w1 cx=903 cy=1608 /><circle class=G cx=781 cy=1557 /><circle class=G cx=899 cy=1643 /><circle class=p cx=806 cy=1497 /><circle class=w2 cx=898 cy=1641 /><circle class=G cx=734 cy=1578 /><circle class=w1 cx=872 cy=1537 /><circle class=p cx=914 cy=1537 /><circle class=G cx=850 cy=1544 /><circle class=G cx=734 cy=1572 /><circle class=G cx=825 cy=1562 /><circle class=w2 cx=705 cy=1608 /><circle class=w2 cx=791 cy=1654 /><circle class=p cx=698 cy=1624 /><circle class=G cx=762 cy=1584 /><circle class=p cx=875 cy=1643 /><circle class=G cx=742 cy=1536 /><circle class=p cx=847 cy=1511 /><circle class=G cx=781 cy=1564 /><circle class=w3 cx=899 cy=1581 /><circle class=G cx=811 cy=1632 /><circle class=p cx=860 cy=1506 /><circle class=G cx=755 cy=1539 /><circle class=p cx=881 cy=1574 /><circle class=w2 cx=813 cy=1673 /><circle class=G cx=803 cy=1502 /><circle class=p cx=832 cy=1653 /><circle class=G cx=811 cy=1615 /><circle class=p cx=827 cy=1500 /><circle class=w2 cx=798 cy=1666 /><circle class=G cx=777 cy=1558 /><circle class=p cx=836 cy=1600 /><circle class=p cx=857 cy=1517 /><circle class=w1 cx=666 cy=1571 /><circle class=G cx=710 cy=1569 /><circle class=p cx=940 cy=1539 /><circle class=p cx=899 cy=1595 /><circle class=w1 cx=819 cy=1505 /><circle class=w2 cx=718 cy=1594 /><circle class=w1 cx=733 cy=1592 /><circle class=w3 cx=883 cy=1530 /><circle class=G cx=811 cy=1574 /><circle class=w2 cx=696 cy=1601 /><circle class=p cx=726 cy=1536 /><circle class=w2 cx=801 cy=1645 /><circle class=w1 cx=693 cy=1553 /><circle class=G cx=796 cy=1498 /><circle class=G cx=764 cy=1563 /><circle class=w2 cx=794 cy=1653 /><circle class=w2 cx=880 cy=1573 /><circle class=p cx=841 cy=1539 /><circle class=G cx=719 cy=1570 /><circle class=w2 cx=765 cy=1562 /><circle class=G cx=757 cy=1564 /><circle class=p cx=857 cy=1508 /><circle class=w3 cx=915 cy=1613 /><circle class=p cx=827 cy=1681 /><circle class=G cx=774 cy=1636 /><circle class=p cx=673 cy=1573 /><circle class=w1 cx=866 cy=1516 /><circle class=w3 cx=756 cy=1650 /><circle class=w2 cx=797 cy=1635 /><circle class=w1 cx=801 cy=1638 /><circle class=w3 cx=868 cy=1550 /><circle class=w2 cx=754 cy=1543 /><circle class=w3 cx=745 cy=1521 /><circle class=w2 cx=760 cy=1618 /><circle class=p cx=902 cy=1518 /><circle class=p cx=918 cy=1518 /><circle class=G cx=809 cy=1589 /><circle class=w2 cx=838 cy=1642 /><circle class=p cx=925 cy=1636 /><circle class=w1 cx=846 cy=1537 /><circle class=w3 cx=734 cy=1535 /><circle class=p cx=919 cy=1634 /><circle class=w2 cx=737 cy=1577 /><circle class=G cx=733 cy=1575 /><circle class=w2 cx=776 cy=1506 /><circle class=w1 cx=727 cy=1506 /><circle class=p cx=726 cy=1619 /><circle class=G cx=813 cy=1521 /><circle class=p cx=716 cy=1537 /><circle class=p cx=824 cy=1540 /><circle class=G cx=726 cy=1574 /><circle class=G cx=798 cy=1503 /><circle class=w2 cx=667 cy=1576 /><circle class=G cx=811 cy=1622 /><circle class=G cx=933 cy=1567 /><circle class=G cx=745 cy=1550 /><circle class=p cx=825 cy=1541 /><circle class=w3 cx=914 cy=1549 /><circle class=G cx=717 cy=1551 /><circle class=p cx=802 cy=1672 /><circle class=G cx=811 cy=1611 /><circle class=p cx=875 cy=1558 /><circle class=G cx=768 cy=1567 /><circle class=w1 cx=884 cy=1645 /><circle class=w1 cx=685 cy=1617 /><circle class=G cx=893 cy=1525 /><circle class=G cx=784 cy=1603 /><circle class=w3 cx=901 cy=1609 /><circle class=p cx=923 cy=1648 /><circle class=G cx=813 cy=1618 /><circle class=w2 cx=777 cy=1651 /><circle class=G cx=804 cy=1535 /><circle class=w3 cx=782 cy=1622 /><circle class=G cx=770 cy=1559 /><circle class=w2 cx=865 cy=1532 /><circle class=p cx=704 cy=1619 /><circle class=w1 cx=758 cy=1623 /><circle class=p cx=869 cy=1555 /><circle class=w2 cx=811 cy=1642 /><circle class=G cx=767 cy=1627 /><circle class=G cx=772 cy=1535 /><circle class=w2 cx=820 cy=1506 /><circle class=w2 cx=815 cy=1659 /><circle class=G cx=824 cy=1613 /><circle class=p cx=781 cy=1501 /><circle class=G cx=791 cy=1567 /><circle class=w3 cx=837 cy=1523 /><circle class=w1 cx=836 cy=1654 /><circle class=p cx=770 cy=1655 /><circle class=w1 cx=686 cy=1542 /><circle class=p cx=914 cy=1628 /><circle class=G cx=723 cy=1568 /><circle class=w2 cx=780 cy=1597 /><circle class=w2 cx=774 cy=1597 /><circle class=w1 cx=810 cy=1498 /><circle class=G cx=759 cy=1527 /><circle class=p cx=700 cy=1520 /><circle class=w1 cx=764 cy=1508 /><circle class=p cx=783 cy=1656 /><circle class=G cx=802 cy=1615 /><circle class=p cx=842 cy=1492 /><circle class=G cx=723 cy=1584 /><circle class=G cx=701 cy=1590 /><circle class=p cx=923 cy=1654 /><circle class=G cx=817 cy=1603 /><circle class=G cx=707 cy=1571 /><circle class=p cx=906 cy=1527 /><circle class=p cx=802 cy=1684 /><circle class=w2 cx=744 cy=1566 /><circle class=G cx=722 cy=1585 /><circle class=w2 cx=930 cy=1559 /><circle class=p cx=821 cy=1690 /><circle class=w3 cx=831 cy=1551 /><circle class=w2 cx=756 cy=1646 /><circle class=G cx=833 cy=1609 /><circle class=w2 cx=675 cy=1582 /><circle class=w3 cx=801 cy=1654 /><circle class=w2 cx=705 cy=1524 /><circle class=p cx=736 cy=1650 /><circle class=G cx=766 cy=1646 /><circle class=G cx=764 cy=1539 /><circle class=w2 cx=870 cy=1504 /><circle class=G cx=784 cy=1532 /><circle class=w2 cx=905 cy=1635 /><circle class=w2 cx=729 cy=1613 /><circle class=G cx=923 cy=1622 /><circle class=w1 cx=696 cy=1524 /><circle class=G cx=800 cy=1503 /><circle class=w2 cx=826 cy=1522 /><circle class=w2 cx=888 cy=1639 /><circle class=p cx=840 cy=1578 /><circle class=G cx=820 cy=1625 /><circle class=G cx=720 cy=1556 /><circle class=G cx=704 cy=1580 /><circle class=w2 cx=716 cy=1634 /><circle class=G cx=780 cy=1542 /><circle class=p cx=710 cy=1549 /><circle class=G cx=781 cy=1552 /><circle class=w3 cx=735 cy=1619 /><circle class=p cx=926 cy=1628 /><circle class=G cx=815 cy=1622 /><circle class=w1 cx=771 cy=1624 /><circle class=G cx=711 cy=1555 /><circle class=w3 cx=732 cy=1621 /><circle class=w1 cx=821 cy=1679 /><circle class=G cx=799 cy=1605 /><circle class=G cx=763 cy=1528 /><circle class=G cx=763 cy=1532 /><circle class=p cx=836 cy=1522 /><circle class=p cx=944 cy=1597 /><circle class=G cx=759 cy=1522 /><circle class=G cx=891 cy=1597 /><circle class=p cx=684 cy=1604 /><circle class=w3 cx=837 cy=1659 /><circle class=w2 cx=694 cy=1603 /><circle class=G cx=803 cy=1529 /><circle class=G cx=812 cy=1531 /><circle class=p cx=932 cy=1569 /><circle class=G cx=763 cy=1525 /><circle class=G cx=782 cy=1529 /><circle class=w2 cx=912 cy=1638 /><circle class=G cx=769 cy=1544 /><circle class=p cx=913 cy=1578 /><circle class=p cx=745 cy=1639 /><circle class=G cx=713 cy=1587 /><circle class=G cx=819 cy=1602 /><circle class=w1 cx=809 cy=1558 /><circle class=p cx=670 cy=1586 /><circle class=w1 cx=866 cy=1617 /><circle class=p cx=856 cy=1579 /><circle class=w1 cx=869 cy=1524 /><circle class=G cx=789 cy=1603 /><circle class=G cx=761 cy=1531 /><circle class=w2 cx=699 cy=1548 /><circle class=w2 cx=756 cy=1638 /><circle class=G cx=721 cy=1583 /><circle class=w1 cx=746 cy=1562 /><circle class=G cx=839 cy=1621 /><circle class=p cx=824 cy=1527 /><circle class=G cx=782 cy=1552 /><circle class=G cx=770 cy=1528 /><circle class=G cx=738 cy=1582 /><circle class=p cx=921 cy=1621 /><circle class=w3 cx=883 cy=1534 /><circle class=w1 cx=903 cy=1633 /><circle class=p cx=856 cy=1610 /><circle class=p cx=714 cy=1639 /><circle class=G cx=740 cy=1530 /><circle class=w2 cx=830 cy=1632 /><circle class=p cx=869 cy=1647 /><circle class=p cx=775 cy=1585 /><circle class=w2 cx=854 cy=1507 /><circle class=w1 cx=838 cy=1539 /><circle class=w2 cx=770 cy=1544 /><circle class=G cx=785 cy=1600 /><circle class=G cx=749 cy=1527 /><circle class=w2 cx=728 cy=1615 /><circle class=w3 cx=868 cy=1601 /><circle class=p cx=855 cy=1588 /><circle class=w2 cx=890 cy=1658 /><circle class=w2 cx=939 cy=1582 /><circle class=G cx=821 cy=1616 /><circle class=G cx=851 cy=1615 /><circle class=G cx=698 cy=1561 /><circle class=G cx=750 cy=1599 /><circle class=w2 cx=887 cy=1620 /><circle class=G cx=784 cy=1577 /><circle class=w2 cx=766 cy=1585 /><circle class=G cx=831 cy=1602 /><circle class=w2 cx=930 cy=1637 /><circle class=p cx=837 cy=1481 /><circle class=w2 cx=782 cy=1636 /><circle class=w1 cx=893 cy=1637 /><circle class=w1 cx=814 cy=1655 /><circle class=p cx=758 cy=1521 /><circle class=G cx=827 cy=1589 /><circle class=w2 cx=752 cy=1638 /><circle class=G cx=784 cy=1577 /><circle class=w3 cx=832 cy=1622 /><circle class=p cx=790 cy=1560 /><circle class=p cx=850 cy=1616 /><circle class=p cx=949 cy=1623 /><circle class=w3 cx=675 cy=1551 /><circle class=G cx=838 cy=1579 /><circle class=w1 cx=817 cy=1512 /><circle class=p cx=867 cy=1502 /><circle class=w3 cx=684 cy=1535 /><circle class=w1 cx=686 cy=1583 /><circle class=w1 cx=861 cy=1607 /><circle class=p cx=854 cy=1603 /><circle class=p cx=714 cy=1640 /><circle class=w3 cx=736 cy=1626 /><circle class=G cx=807 cy=1599 /><circle class=G cx=731 cy=1562 /><circle class=p cx=865 cy=1505 /><circle class=G cx=757 cy=1595 /><circle class=G cx=704 cy=1574 /><circle class=G cx=803 cy=1534 /><circle class=G cx=714 cy=1585 /><circle class=w2 cx=788 cy=1510 /><circle class=w3 cx=689 cy=1578 /><circle class=p cx=853 cy=1553 /><circle class=G cx=797 cy=1573 /><circle class=w1 cx=692 cy=1531 /><circle class=G cx=732 cy=1586 /><circle class=w2 cx=753 cy=1613 /><circle class=p cx=887 cy=1630 /><circle class=w1 cx=913 cy=1559 /><circle class=p cx=791 cy=1652 /><circle class=G cx=822 cy=1579 /><circle class=G cx=788 cy=1545 /><circle class=w2 cx=828 cy=1660 /><circle class=w3 cx=700 cy=1600 /><circle class=p cx=671 cy=1539 /><circle class=G cx=794 cy=1521 /><circle class=G cx=802 cy=1598 /><circle class=w2 cx=827 cy=1512 /><circle class=G cx=795 cy=1565 /><circle class=w3 cx=799 cy=1647 /><circle class=G cx=741 cy=1538 /><circle class=G cx=781 cy=1546 /><circle class=w3 cx=856 cy=1622 /><circle class=w3 cx=863 cy=1569 /><circle class=p cx=904 cy=1554 /><circle class=G cx=764 cy=1591 /><circle class=G cx=754 cy=1596 /><circle class=G cx=749 cy=1553 /><circle class=p cx=902 cy=1590 /><circle class=p cx=890 cy=1640 /><circle class=G cx=775 cy=1533 /><circle class=G cx=826 cy=1609 /><circle class=w3 cx=693 cy=1541 /><circle class=w3 cx=828 cy=1660 /><circle class=w3 cx=839 cy=1565 /><circle class=G cx=810 cy=1583 /><circle class=p cx=846 cy=1540 /><circle class=p cx=674 cy=1551 /><circle class=w2 cx=871 cy=1517 /><circle class=w3 cx=772 cy=1519 /><circle class=w1 cx=930 cy=1544 /><circle class=w3 cx=915 cy=1572 /><circle class=p cx=759 cy=1634 /><circle class=G cx=731 cy=1535 /><circle class=G cx=814 cy=1617 /><circle class=p cx=885 cy=1537 /><circle class=G cx=779 cy=1575 /><circle class=w1 cx=830 cy=1539 /><circle class=w1 cx=902 cy=1624 /><circle class=w3 cx=710 cy=1521 /><circle class=G cx=828 cy=1689 /><circle class=G cx=794 cy=1604 /><circle class=w1 cx=835 cy=1652 /><circle class=w3 cx=773 cy=1630 /><circle class=p cx=796 cy=1657 /><circle class=G cx=791 cy=1607 /><circle class=w2 cx=708 cy=1625 /><circle class=w1 cx=895 cy=1522 /><circle class=G cx=881 cy=1601 /><circle class=p cx=874 cy=1506 /><circle class=w2 cx=809 cy=1691 /><circle class=w2 cx=723 cy=1636 /><circle class=w3 cx=842 cy=1534 /><circle class=p cx=863 cy=1637 /><circle class=G cx=778 cy=1547 /><circle class=G cx=756 cy=1574 /><circle class=G cx=765 cy=1589 /><circle class=G cx=756 cy=1578 /><circle class=G cx=743 cy=1581 /><circle class=G cx=755 cy=1587 /><circle class=w1 cx=750 cy=1649 /><circle class=w3 cx=834 cy=1643 /><circle class=w2 cx=773 cy=1621 /><circle class=w3 cx=835 cy=1577 /><circle class=G cx=721 cy=1595 /><circle class=w2 cx=864 cy=1625 /><circle class=G cx=771 cy=1628 /><circle class=w1 cx=838 cy=1546 /><circle class=w3 cx=781 cy=1602 /><circle class=w3 cx=751 cy=1565 /><circle class=p cx=667 cy=1567 /><circle class=p cx=727 cy=1535 /><circle class=G cx=757 cy=1548 /><circle class=G cx=807 cy=1501 /><circle class=p cx=874 cy=1650 /><circle class=w1 cx=856 cy=1591 /><circle class=G cx=803 cy=1610 /><circle class=G cx=799 cy=1624 /><circle class=G cx=794 cy=1510 /><circle class=w2 cx=865 cy=1547 /><circle class=w1 cx=735 cy=1516 /><circle class=p cx=666 cy=1557 /><circle class=G cx=798 cy=1582 /><circle class=w2 cx=838 cy=1629 /><circle class=G cx=792 cy=1589 /><circle class=w1 cx=790 cy=1659 /><circle class=w3 cx=875 cy=1573 /><circle class=w3 cx=918 cy=1605 /><circle class=G cx=698 cy=1570 /><circle class=p cx=841 cy=1570 /><circle class=p cx=706 cy=1611 /><circle class=G cx=832 cy=1590 /><circle class=w3 cx=764 cy=1518 /><circle class=w1 cx=927 cy=1584 /><circle class=w2 cx=719 cy=1547 /><circle class=p cx=840 cy=1555 /><circle class=G cx=755 cy=1537 /><circle class=p cx=889 cy=1513 /><circle class=p cx=907 cy=1513 /><circle class=p cx=842 cy=1538 /><circle class=w1 cx=911 cy=1532 /><circle class=w1 cx=835 cy=1515 /><circle class=w2 cx=810 cy=1672 /><circle class=G cx=749 cy=1553 /><circle class=w1 cx=830 cy=1537 /><circle class=G cx=813 cy=1670 /><circle class=w3 cx=896 cy=1529 /><circle class=G cx=749 cy=1538 /><circle class=p cx=906 cy=1570 /><circle class=G cx=914 cy=1583 /><circle class=w1 cx=826 cy=1638 /><circle class=G cx=803 cy=1595 /><circle class=w2 cx=712 cy=1631 /><circle class=w2 cx=838 cy=1570 /><circle class=w2 cx=783 cy=1625 /><circle class=w3 cx=884 cy=1528 /><circle class=G cx=721 cy=1590 /><circle class=G cx=806 cy=1520 /><circle class=w2 cx=682 cy=1584 /><circle class=w2 cx=884 cy=1575 /><circle class=w2 cx=920 cy=1643 /><circle class=w2 cx=918 cy=1521 /><circle class=p cx=858 cy=1568 /><circle class=G cx=816 cy=1589 /><circle class=p cx=691 cy=1627 /><circle class=p cx=825 cy=1499 /><circle class=w2 cx=883 cy=1602 /><circle class=w3 cx=732 cy=1548 /><circle class=w2 cx=914 cy=1528 /><circle class=w2 cx=922 cy=1526 /><circle class=p cx=885 cy=1620 /><circle class=G cx=931 cy=1624 /><circle class=p cx=946 cy=1575 /><circle class=G cx=723 cy=1589 /><circle class=p cx=864 cy=1508 /><circle class=G cx=754 cy=1572 /><circle class=w3 cx=886 cy=1508 /><circle class=w2 cx=714 cy=1532 /><circle class=p cx=710 cy=1629 /><circle class=w3 cx=820 cy=1545 /><circle class=p cx=884 cy=1541 /><circle class=w3 cx=874 cy=1602 /><circle class=w2 cx=742 cy=1643 /><circle class=G cx=794 cy=1593 /><circle class=G cx=821 cy=1626 /><circle class=G cx=797 cy=1608 /><circle class=w3 cx=855 cy=1528 /><circle class=G cx=718 cy=1582 /><circle class=p cx=852 cy=1574 /><circle class=G cx=751 cy=1559 /><circle class=p cx=854 cy=1545 /><circle class=G cx=754 cy=1579 /><circle class=w1 cx=688 cy=1525 /><circle class=w2 cx=783 cy=1575 /><circle class=G cx=772 cy=1551 /><circle class=p cx=881 cy=1642 /><circle class=w1 cx=927 cy=1568 /><circle class=G cx=743 cy=1580 /><circle class=G cx=758 cy=1541 /><circle class=w2 cx=862 cy=1614 /><circle class=G cx=789 cy=1542 /><circle class=G cx=773 cy=1539 /><circle class=G cx=779 cy=1529 /><circle class=p cx=708 cy=1545 /><circle class=w2 cx=787 cy=1623 /><circle class=p cx=751 cy=1631 /><circle class=p cx=758 cy=1515 /><circle class=G cx=804 cy=1623 /><circle class=w2 cx=781 cy=1601 /><circle class=G cx=791 cy=1542 /><circle class=G cx=743 cy=1583 /><circle class=G cx=713 cy=1617 /><circle class=w2 cx=915 cy=1640 /><circle class=G cx=826 cy=1623 /><circle class=w2 cx=955 cy=1614 /><circle class=w1 cx=794 cy=1662 /><circle class=w3 cx=811 cy=1498 /><circle class=w3 cx=912 cy=1628 /><circle class=G cx=708 cy=1554 /><circle class=w2 cx=729 cy=1520 /><circle class=p cx=863 cy=1525 /><circle class=w3 cx=710 cy=1625 /><circle class=G cx=743 cy=1544 /><circle class=w2 cx=704 cy=1504 /><circle class=w3 cx=890 cy=1589 /><circle class=w2 cx=720 cy=1544 /><circle class=G cx=754 cy=1591 /><circle class=p cx=896 cy=1622 /><circle class=w1 cx=871 cy=1565 /><circle class=w2 cx=828 cy=1636 /><circle class=p cx=872 cy=1624 /><circle class=p cx=801 cy=1641 /><circle class=G cx=757 cy=1594 /><circle class=G cx=792 cy=1600 /><circle class=G cx=779 cy=1530 /><circle class=w3 cx=819 cy=1648 /><circle class=w2 cx=896 cy=1542 /><circle class=w2 cx=718 cy=1519 /><circle class=w2 cx=676 cy=1563 /><circle class=p cx=676 cy=1533 /><circle class=w1 cx=683 cy=1598 /><circle class=p cx=904 cy=1560 /><circle class=w1 cx=753 cy=1651 /><circle class=G cx=709 cy=1591 /><circle class=p cx=686 cy=1563 /><circle class=w2 cx=768 cy=1615 /><circle class=p cx=696 cy=1616 /><circle class=p cx=936 cy=1553 /><circle class=G cx=943 cy=1628 /><circle class=w3 cx=749 cy=1604 /><circle class=G cx=706 cy=1575 /><circle class=w2 cx=772 cy=1617 /><circle class=w3 cx=781 cy=1522 /><circle class=w2 cx=919 cy=1561 /><circle class=G cx=790 cy=1577 /><circle class=G cx=822 cy=1625 /><circle class=p cx=745 cy=1502 /><circle class=p cx=852 cy=1600 /><circle class=w2 cx=883 cy=1642 /><circle class=G cx=890 cy=1557 /><circle class=w3 cx=766 cy=1633 /><circle class=G cx=834 cy=1596 /><circle class=w2 cx=864 cy=1636 /><circle class=p cx=730 cy=1548 /><circle class=w3 cx=718 cy=1626 /><circle class=G cx=716 cy=1598 /><circle class=p cx=685 cy=1523 /><circle class=w2 cx=737 cy=1539 /><circle class=p cx=838 cy=1625 /><circle class=w2 cx=712 cy=1612 /><circle class=p cx=684 cy=1564 /><circle class=p cx=878 cy=1507 /><circle class=w2 cx=904 cy=1563 /><circle class=G cx=763 cy=1525 /><circle class=w2 cx=915 cy=1633 /><circle class=w2 cx=906 cy=1595 /><circle class=w2 cx=717 cy=1542 /><circle class=w2 cx=734 cy=1559 /><circle class=G cx=816 cy=1631 /><circle class=G cx=736 cy=1587 /><circle class=p cx=738 cy=1511 /><circle class=G cx=695 cy=1560 /><circle class=w2 cx=857 cy=1521 /><circle class=w1 cx=712 cy=1602 /><circle class=w1 cx=744 cy=1504 /><circle class=G cx=810 cy=1604 /><circle class=G cx=781 cy=1555 /><circle class=w2 cx=883 cy=1533 /><circle class=w3 cx=678 cy=1583 /><circle class=w2 cx=888 cy=1632 /><circle class=w2 cx=880 cy=1587 /><circle class=p cx=721 cy=1618 /><circle class=w2 cx=898 cy=1599 /><circle class=w1 cx=872 cy=1541 /><circle class=G cx=788 cy=1539 /><circle class=w2 cx=897 cy=1639 /><circle class=p cx=861 cy=1586 /><circle class=G cx=807 cy=1582 /><circle class=G cx=828 cy=1602 /><circle class=G cx=710 cy=1573 /><circle class=w3 cx=682 cy=1578 /><circle class=w3 cx=676 cy=1580 /><circle class=w3 cx=710 cy=1542 /><circle class=w2 cx=864 cy=1551 /><circle class=G cx=761 cy=1536 /><circle class=w2 cx=937 cy=1570 /><circle class=w2 cx=853 cy=1560 /><circle class=w2 cx=915 cy=1588 /><circle class=p cx=688 cy=1609 /><circle class=G cx=702 cy=1586 /><circle class=w3 cx=939 cy=1537 /><circle class=G cx=807 cy=1593 /><circle class=p cx=880 cy=1604 /><circle class=G cx=794 cy=1583 /><circle class=w3 cx=824 cy=1686 /><circle class=w1 cx=771 cy=1587 /><circle class=G cx=801 cy=1561 /><circle class=G cx=802 cy=1654 /><circle class=G cx=809 cy=1510 /><circle class=w2 cx=928 cy=1591 /><circle class=G cx=760 cy=1638 /><circle class=p cx=909 cy=1651 /><circle class=w2 cx=835 cy=1538 /><circle class=G cx=747 cy=1580 /><circle class=w2 cx=709 cy=1518 /><circle class=G cx=750 cy=1553 /><circle class=w2 cx=925 cy=1585 /><circle class=w3 cx=913 cy=1524 /><circle class=p cx=853 cy=1527 /><circle class=p cx=709 cy=1550 /><circle class=G cx=728 cy=1556 /><circle class=w2 cx=861 cy=1621 /><circle class=w1 cx=783 cy=1656 /><circle class=G cx=749 cy=1552 /><circle class=G cx=786 cy=1561 /><circle class=w3 cx=931 cy=1580 /><circle class=w2 cx=799 cy=1587 /><circle class=w2 cx=898 cy=1579 /><circle class=p cx=829 cy=1487 /><circle class=G cx=802 cy=1624 /><circle class=p cx=906 cy=1548 /><circle class=p cx=866 cy=1632 /><circle class=w2 cx=903 cy=1544 /><circle class=G cx=696 cy=1570 /><circle class=G cx=912 cy=1595 /><circle class=p cx=917 cy=1653 /><circle class=w3 cx=770 cy=1647 /><circle class=w2 cx=779 cy=1510 /><circle class=p cx=696 cy=1621 /><circle class=G cx=830 cy=1582 /><circle class=G cx=758 cy=1581 /><circle class=p cx=843 cy=1617 /><circle class=G cx=799 cy=1607 /><circle class=p cx=808 cy=1547 /><circle class=w3 cx=875 cy=1550 /><circle class=p cx=772 cy=1653 /><circle class=G cx=764 cy=1532 /><circle class=w2 cx=915 cy=1610 /><circle class=p cx=861 cy=1561 /><circle class=G cx=918 cy=1638 /><circle class=G cx=725 cy=1595 /><circle class=w3 cx=867 cy=1558 /><circle class=w2 cx=745 cy=1617 /><circle class=w2 cx=727 cy=1579 /><circle class=w3 cx=752 cy=1650 /><circle class=w2 cx=705 cy=1562 /><circle class=w2 cx=792 cy=1581 /><circle class=p cx=945 cy=1617 /><circle class=w1 cx=945 cy=1601 /><circle class=G cx=793 cy=1511 /><circle class=G cx=806 cy=1572 /><circle class=G cx=900 cy=1539 /><circle class=w1 cx=879 cy=1650 /><circle class=G cx=733 cy=1584 /><circle class=G cx=946 cy=1598 /><circle class=G cx=704 cy=1571 /><circle class=w3 cx=700 cy=1528 /><circle class=w2 cx=730 cy=1550 /><circle class=w2 cx=764 cy=1510 /><circle class=w3 cx=835 cy=1681 /><circle class=w2 cx=786 cy=1667 /><circle class=G cx=765 cy=1568 /><circle class=w3 cx=757 cy=1609 /><circle class=w3 cx=888 cy=1562 /><circle class=p cx=788 cy=1496 /><circle class=G cx=729 cy=1559 /><circle class=w3 cx=889 cy=1650 /><circle class=G cx=826 cy=1614 /><circle class=G cx=834 cy=1608 /><circle class=p cx=828 cy=1525 /><circle class=p cx=888 cy=1574 /><circle class=G cx=810 cy=1523 /><circle class=G cx=796 cy=1613 /><circle class=p cx=757 cy=1507 /><circle class=G cx=725 cy=1574 /><circle class=G cx=722 cy=1581 /><circle class=w2 cx=751 cy=1600 /><circle class=p cx=678 cy=1542 /><circle class=G cx=723 cy=1579 /><circle class=w2 cx=782 cy=1638 /><circle class=w3 cx=764 cy=1624 /><circle class=w1 cx=720 cy=1529 /><circle class=w3 cx=848 cy=1535 /><circle class=w2 cx=775 cy=1577 /><circle class=w2 cx=800 cy=1674 /><circle class=G cx=791 cy=1591 /><circle class=w2 cx=817 cy=1483 /><circle class=G cx=797 cy=1534 /><circle class=w2 cx=831 cy=1494 /><circle class=w1 cx=948 cy=1589 /><circle class=w1 cx=859 cy=1570 /><circle class=p cx=894 cy=1632 /><circle class=G cx=804 cy=1533 /><circle class=w2 cx=920 cy=1528 /><circle class=G cx=765 cy=1583 /><circle class=G cx=737 cy=1577 /><circle class=w1 cx=888 cy=1588 /><circle class=w1 cx=823 cy=1492 /><circle class=G cx=786 cy=1551 /><circle class=p cx=851 cy=1600 /><circle class=p cx=859 cy=1608 /><circle class=w2 cx=876 cy=1585 /><circle class=w2 cx=825 cy=1684 /><circle class=w3 cx=793 cy=1557 /><circle class=G cx=722 cy=1617 /><circle class=p cx=862 cy=1573 /><circle class=G cx=911 cy=1655 /><circle class=G cx=714 cy=1589 /><circle class=p cx=845 cy=1541 /><circle class=w2 cx=862 cy=1604 /><circle class=w2 cx=838 cy=1492 /><circle class=G cx=799 cy=1520 /><circle class=p cx=742 cy=1632 /><circle class=w3 cx=803 cy=1660 /><circle class=G cx=790 cy=1598 /><circle class=p cx=837 cy=1498 /><circle class=w2 cx=874 cy=1606 /><circle class=G cx=697 cy=1564 /><circle class=p cx=789 cy=1500 /><circle class=G cx=725 cy=1555 /><circle class=G cx=797 cy=1600 /><circle class=w1 cx=906 cy=1618 /><circle class=G cx=735 cy=1644 /><circle class=w1 cx=750 cy=1608 /><circle class=p cx=671 cy=1573 /><circle class=G cx=803 cy=1629 /><circle class=p cx=815 cy=1561 /><circle class=p cx=830 cy=1627 /><circle class=G cx=804 cy=1499 /><circle class=w3 cx=681 cy=1548 /><circle class=G cx=726 cy=1589 /><circle class=p cx=942 cy=1620 /><circle class=G cx=750 cy=1557 /><circle class=w2 cx=828 cy=1607 /><circle class=p cx=692 cy=1601 /><circle class=w3 cx=769 cy=1582 /><circle class=w2 cx=918 cy=1550 /><circle class=w3 cx=818 cy=1497 /><circle class=G cx=728 cy=1556 /><circle class=w3 cx=870 cy=1545 /><circle class=G cx=817 cy=1605 /><circle class=p cx=922 cy=1586 /><circle class=w2 cx=821 cy=1502 /><circle class=G cx=822 cy=1568 /><circle class=G cx=713 cy=1562 /><circle class=p cx=699 cy=1628 /><circle class=w2 cx=794 cy=1560 /><circle class=G cx=757 cy=1572 /><circle class=G cx=829 cy=1581 /><circle class=w3 cx=763 cy=1609 /><circle class=G cx=812 cy=1570 /><circle class=G cx=803 cy=1571 /><circle class=w2 cx=827 cy=1662 /><circle class=w3 cx=720 cy=1531 /><circle class=w2 cx=863 cy=1543 /><circle class=w2 cx=790 cy=1564 /><circle class=G cx=785 cy=1606 /><circle class=p cx=752 cy=1645 /><circle class=w2 cx=689 cy=1550 /><circle class=w1 cx=892 cy=1530 /><circle class=G cx=781 cy=1555 /><circle class=w2 cx=896 cy=1638 /><circle class=p cx=780 cy=1602 /><circle class=G cx=781 cy=1533 /><circle class=w2 cx=828 cy=1669 /><circle class=w2 cx=828 cy=1626 /><circle class=G cx=718 cy=1554 /><circle class=w3 cx=673 cy=1541 /><circle class=w3 cx=856 cy=1553 /><circle class=p cx=711 cy=1616 /><circle class=w1 cx=901 cy=1566 /><circle class=w2 cx=821 cy=1614 /><circle class=p cx=811 cy=1666 /><circle class=G cx=715 cy=1590 /><circle class=w3 cx=927 cy=1568 /><circle class=G cx=801 cy=1617 /><circle class=w1 cx=822 cy=1503 /><circle class=w2 cx=903 cy=1551 /><circle class=p cx=929 cy=1522 /><circle class=w3 cx=857 cy=1573 /><circle class=G cx=717 cy=1566 /><circle class=w1 cx=785 cy=1629 /><circle class=G cx=777 cy=1562 /><circle class=G cx=827 cy=1613 /><circle class=p cx=835 cy=1661 /><circle class=w2 cx=801 cy=1527 /><circle class=G cx=811 cy=1512 /><circle class=G cx=708 cy=1558 /><circle class=w3 cx=681 cy=1563 /><circle class=G cx=729 cy=1581 /><circle class=w3 cx=677 cy=1587 /><circle class=p cx=755 cy=1638 /><circle class=w1 cx=821 cy=1657 /><circle class=w2 cx=919 cy=1613 /><circle class=G cx=786 cy=1550 /><circle class=p cx=909 cy=1546 /><circle class=w1 cx=791 cy=1565 /><circle class=w1 cx=763 cy=1636 /><circle class=G cx=709 cy=1585 /><circle class=w3 cx=808 cy=1659 /><circle class=p cx=789 cy=1668 /><circle class=p cx=692 cy=1597 /><circle class=p cx=863 cy=1520 /><circle class=G cx=809 cy=1519 /><circle class=p cx=840 cy=1547 /><circle class=w1 cx=923 cy=1603 /><circle class=w2 cx=672 cy=1572 /><circle class=p cx=874 cy=1511 /><circle class=p cx=675 cy=1572 /><circle class=p cx=940 cy=1598 /><circle class=w2 cx=785 cy=1625 /><circle class=w1 cx=691 cy=1609 /><circle class=p cx=831 cy=1685 /><circle class=G cx=787 cy=1556 /><circle class=w2 cx=881 cy=1523 /><circle class=w1 cx=930 cy=1570 /><circle class=G cx=751 cy=1590 /><circle class=G cx=804 cy=1501 /><circle class=p cx=667 cy=1561 /><circle class=w2 cx=926 cy=1568 /><circle class=w3 cx=867 cy=1617 /><circle class=p cx=857 cy=1582 /><circle class=w2 cx=815 cy=1666 /><circle class=G cx=743 cy=1612 /><circle class=p cx=885 cy=1541 /><circle class=p cx=732 cy=1629 /><circle class=G cx=707 cy=1539 /><circle class=w3 cx=728 cy=1638 /><circle class=p cx=905 cy=1571 /><circle class=G cx=834 cy=1608 /><circle class=w2 cx=904 cy=1580 /><circle class=G cx=812 cy=1565 /><circle class=G cx=827 cy=1620 /><circle class=G cx=908 cy=1538 /><circle class=w1 cx=849 cy=1586 /><circle class=G cx=765 cy=1565 /><circle class=w2 cx=713 cy=1524 /><circle class=p cx=836 cy=1551 /><circle class=G cx=757 cy=1561 /><circle class=w3 cx=736 cy=1553 /><circle class=p cx=848 cy=1581 /><circle class=w1 cx=792 cy=1635 /><circle class=p cx=835 cy=1628 /><circle class=p cx=715 cy=1614 /><circle class=w3 cx=773 cy=1588 /><circle class=p cx=943 cy=1560 /><circle class=w1 cx=856 cy=1628 /><circle class=w2 cx=866 cy=1565 /><circle class=w2 cx=726 cy=1516 /><circle class=w2 cx=838 cy=1558 /><circle class=w2 cx=917 cy=1627 /><circle class=G cx=795 cy=1577 /><circle class=w2 cx=778 cy=1584 /><circle class=G cx=741 cy=1534 /><circle class=p cx=783 cy=1618 /><circle class=w3 cx=772 cy=1512 /><circle class=p cx=865 cy=1561 /><circle class=p cx=836 cy=1571 /><circle class=p cx=801 cy=1496 /><circle class=w1 cx=763 cy=1625 /><circle class=w1 cx=762 cy=1573 /><circle class=p cx=725 cy=1534 /><circle class=G cx=706 cy=1586 /><circle class=G cx=789 cy=1585 /><circle class=w3 cx=853 cy=1529 /><circle class=w2 cx=734 cy=1538 /><circle class=w3 cx=717 cy=1524 /><circle class=w3 cx=727 cy=1552 /><circle class=w2 cx=754 cy=1601 /><circle class=w3 cx=711 cy=1538 /><circle class=w2 cx=815 cy=1667 /><circle class=G cx=941 cy=1578 /><circle class=G cx=703 cy=1585 /><circle class=G cx=716 cy=1550 /><circle class=w3 cx=798 cy=1666 /><circle class=w3 cx=685 cy=1563 /><circle class=G cx=744 cy=1543 /><circle class=w1 cx=677 cy=1609 /><circle class=w2 cx=866 cy=1582 /><circle class=G cx=735 cy=1586 /><circle class=w2 cx=915 cy=1604 /><circle class=w3 cx=768 cy=1653 /><circle class=w2 cx=836 cy=1592 /><circle class=w2 cx=756 cy=1612 /><circle class=w3 cx=800 cy=1641 /><circle class=w2 cx=781 cy=1517 /><circle class=w2 cx=917 cy=1577 /><circle class=w3 cx=883 cy=1632 /><circle class=G cx=802 cy=1616 /><circle class=p cx=725 cy=1646 /><circle class=w3 cx=820 cy=1649 /><circle class=p cx=729 cy=1548 /><circle class=w3 cx=766 cy=1636 /><circle class=G cx=698 cy=1567 /><circle class=w2 cx=803 cy=1676 /><circle class=p cx=851 cy=1560 /><circle class=w2 cx=849 cy=1539 /><circle class=G cx=807 cy=1523 /><circle class=w1 cx=883 cy=1506 /><circle class=G cx=727 cy=1570 /><circle class=p cx=825 cy=1484 /><circle class=w3 cx=683 cy=1597 /><circle class=G cx=756 cy=1562 /><circle class=w3 cx=730 cy=1517 /><circle class=G cx=779 cy=1552 /><circle class=w2 cx=733 cy=1553 /><circle class=p cx=687 cy=1517 /><circle class=w2 cx=874 cy=1574 /><circle class=w1 cx=841 cy=1629 /><circle class=G cx=786 cy=1571 /><circle class=w1 cx=875 cy=1575 /><circle class=G cx=813 cy=1594 /><circle class=w3 cx=818 cy=1552 /><circle class=G cx=811 cy=1591 /><circle class=p cx=930 cy=1586 /><circle class=G cx=822 cy=1617 /><circle class=w3 cx=909 cy=1653 /><circle class=w2 cx=878 cy=1538 /><circle class=w2 cx=926 cy=1530 /><circle class=w3 cx=761 cy=1651 /><circle class=w1 cx=817 cy=1489 /><circle class=p cx=814 cy=1675 /><circle class=G cx=724 cy=1594 /><circle class=w3 cx=763 cy=1648 /><circle class=p cx=750 cy=1504 /><circle class=G cx=800 cy=1527 /><circle class=w3 cx=827 cy=1546 /><circle class=w2 cx=772 cy=1599 /><circle class=w2 cx=926 cy=1533 /><circle class=w1 cx=827 cy=1492 /><circle class=G cx=819 cy=1611 /><circle class=w3 cx=835 cy=1620 /><circle class=w2 cx=935 cy=1571 /><circle class=G cx=720 cy=1555 /><circle class=G cx=815 cy=1554 /><circle class=G cx=779 cy=1525 /><circle class=G cx=741 cy=1544 /><circle class=w1 cx=925 cy=1603 /><circle class=p cx=713 cy=1618 /><circle class=w1 cx=768 cy=1615 /><circle class=w3 cx=692 cy=1589 /><circle class=G cx=752 cy=1555 /><circle class=p cx=701 cy=1616 /><circle class=w1 cx=930 cy=1608 /><circle class=w1 cx=720 cy=1515 /><circle class=G cx=797 cy=1500 /><circle class=w3 cx=832 cy=1583 /><circle class=G cx=830 cy=1609 /><circle class=p cx=834 cy=1486 /><circle class=G cx=800 cy=1634 /><circle class=G cx=706 cy=1566 /><circle class=w1 cx=904 cy=1599 /><circle class=G cx=800 cy=1538 /><circle class=w2 cx=890 cy=1521 /><circle class=p cx=936 cy=1540 /><circle class=G cx=738 cy=1584 /><circle class=w2 cx=898 cy=1614 /><circle class=w2 cx=732 cy=1639 /><circle class=w2 cx=874 cy=1578 /><circle class=w3 cx=696 cy=1614 /><circle class=G cx=695 cy=1567 /><circle class=w2 cx=883 cy=1592 /><circle class=p cx=834 cy=1564 /><circle class=w2 cx=848 cy=1540 /><circle class=w1 cx=918 cy=1519 /><circle class=G cx=818 cy=1607 /><circle class=G cx=822 cy=1588 /><circle class=p cx=924 cy=1637 /><circle class=G cx=812 cy=1627 /><circle class=w2 cx=904 cy=1548 /><circle class=G cx=741 cy=1530 /><circle class=G cx=754 cy=1614 /><circle class=w2 cx=693 cy=1572 /><circle class=G cx=759 cy=1552 /><circle class=G cx=814 cy=1614 /><circle class=w2 cx=771 cy=1578 /><circle class=G cx=728 cy=1592 /><circle class=w2 cx=911 cy=1609 /><circle class=G cx=785 cy=1542 /><circle class=w3 cx=680 cy=1607 /><circle class=w2 cx=910 cy=1591 /><circle class=w2 cx=901 cy=1567 /><circle class=G cx=734 cy=1575 /><circle class=w2 cx=874 cy=1631 /><circle class=p cx=677 cy=1586 /><circle class=w2 cx=905 cy=1566 /><circle class=w2 cx=935 cy=1565 /><circle class=w2 cx=819 cy=1517 /><circle class=w1 cx=720 cy=1508 /><circle class=G cx=736 cy=1590 /><circle class=w1 cx=894 cy=1641 /><circle class=G cx=762 cy=1550 /><circle class=w2 cx=861 cy=1517 /><circle class=G cx=729 cy=1600 /><circle class=p cx=872 cy=1561 /><circle class=w2 cx=732 cy=1517 /><circle class=G cx=802 cy=1626 /><circle class=G cx=771 cy=1538 /><circle class=G cx=751 cy=1576 /><circle class=G cx=768 cy=1579 /><circle class=w2 cx=912 cy=1651 /><circle class=G cx=700 cy=1572 /><circle class=w3 cx=722 cy=1605 /><circle class=w1 cx=874 cy=1590 /><circle class=G cx=782 cy=1593 /><circle class=p cx=849 cy=1557 /><circle class=p cx=838 cy=1587 /><circle class=p cx=724 cy=1623 /><circle class=w3 cx=865 cy=1540 /><circle class=w2 cx=781 cy=1508 /><circle class=G cx=712 cy=1562 /><circle class=p cx=742 cy=1617 /><circle class=w1 cx=889 cy=1528 /><circle class=p cx=886 cy=1564 /><circle class=w2 cx=751 cy=1634 /><circle class=w3 cx=839 cy=1648 /><circle class=w2 cx=798 cy=1665 /><circle class=w3 cx=863 cy=1595 /><circle class=G cx=697 cy=1583 /><circle class=w3 cx=892 cy=1513 /><circle class=p cx=830 cy=1656 /><circle class=w2 cx=834 cy=1618 /><circle class=G cx=744 cy=1548 /><circle class=w1 cx=708 cy=1617 /><circle class=G cx=701 cy=1564 /><circle class=w2 cx=782 cy=1622 /><circle class=G cx=793 cy=1521 /><circle class=p cx=674 cy=1600 /><circle class=G cx=777 cy=1571 /><circle class=p cx=842 cy=1514 /><circle class=w2 cx=768 cy=1649 /><circle class=w1 cx=717 cy=1519 /><circle class=w3 cx=689 cy=1602 /><circle class=w2 cx=871 cy=1618 /><circle class=w2 cx=732 cy=1616 /><circle class=w1 cx=827 cy=1511 /><circle class=G cx=712 cy=1573 /><circle class=p cx=816 cy=1485 /><circle class=w2 cx=790 cy=1546 /><circle class=p cx=867 cy=1648 /><circle class=w2 cx=682 cy=1548 /><circle class=w1 cx=928 cy=1571 /><circle class=w2 cx=868 cy=1541 /><circle class=G cx=717 cy=1577 /><circle class=w3 cx=842 cy=1622 /><circle class=G cx=739 cy=1588 /><circle class=w3 cx=924 cy=1612 /><circle class=G cx=720 cy=1586 /><circle class=G cx=807 cy=1536 /><circle class=p cx=840 cy=1533 /><circle class=w3 cx=880 cy=1586 /><circle class=G cx=742 cy=1638 /><circle class=w2 cx=867 cy=1621 /><circle class=G cx=842 cy=1547 /><circle class=w3 cx=912 cy=1538 /><circle class=w1 cx=838 cy=1565 /><circle class=w2 cx=714 cy=1513 /><circle class=w3 cx=786 cy=1645 /><circle class=p cx=841 cy=1572 /><circle class=w1 cx=775 cy=1515 /><circle class=G cx=802 cy=1567 /><circle class=G cx=806 cy=1632 /><circle class=w1 cx=687 cy=1574 /><circle class=w2 cx=680 cy=1610 /><circle class=w1 cx=829 cy=1505 /><circle class=G cx=743 cy=1535 /><circle class=w3 cx=774 cy=1579 /><circle class=G cx=780 cy=1540 /><circle class=w1 cx=873 cy=1603 /><circle class=G cx=795 cy=1518 /><circle class=w1 cx=879 cy=1626 /><circle class=w1 cx=749 cy=1629 /><circle class=G cx=798 cy=1588 /><circle class=w2 cx=914 cy=1569 /><circle class=G cx=770 cy=1530 /><circle class=w2 cx=820 cy=1666 /><circle class=w2 cx=905 cy=1654 /><circle class=w2 cx=849 cy=1566 /><circle class=G cx=824 cy=1592 /><circle class=G cx=721 cy=1574 /><circle class=w2 cx=809 cy=1565 /><circle class=w2 cx=796 cy=1542 /><circle class=w2 cx=909 cy=1545 /><circle class=G cx=749 cy=1582 /><circle class=G cx=803 cy=1519 /><circle class=w1 cx=727 cy=1599 /><circle class=G cx=764 cy=1546 /><circle class=w3 cx=912 cy=1530 /><circle class=w3 cx=886 cy=1534 /><circle class=p cx=730 cy=1632 /><circle class=w2 cx=808 cy=1688 /><circle class=p cx=934 cy=1637 /><circle class=w2 cx=888 cy=1590 /><circle class=p cx=719 cy=1620 /><circle class=w2 cx=777 cy=1586 /><circle class=w3 cx=832 cy=1644 /><circle class=w2 cx=886 cy=1629 /><circle class=p cx=814 cy=1507 /><circle class=G cx=855 cy=1511 /><circle class=G cx=784 cy=1545 /><circle class=G cx=780 cy=1534 /><circle class=p cx=908 cy=1592 /><circle class=G cx=749 cy=1549 /><circle class=G cx=797 cy=1581 /><circle class=G cx=736 cy=1576 /><circle class=p cx=913 cy=1622 /><circle class=G cx=811 cy=1623 /><circle class=G cx=798 cy=1537 /><circle class=w3 cx=732 cy=1615 /><circle class=G cx=693 cy=1573 /><circle class=w3 cx=903 cy=1573 /><circle class=w1 cx=808 cy=1498 /><circle class=G cx=766 cy=1547 /><circle class=w2 cx=762 cy=1545 /><circle class=G cx=796 cy=1625 /><circle class=w3 cx=877 cy=1536 /><circle class=w3 cx=841 cy=1599 /><circle class=G cx=746 cy=1550 /><circle class=G cx=704 cy=1585 /><circle class=w2 cx=831 cy=1518 /><circle class=G cx=783 cy=1595 /><circle class=p cx=869 cy=1505 /><circle class=w2 cx=780 cy=1631 /><circle class=w1 cx=704 cy=1621 /><circle class=G cx=794 cy=1573 /><circle class=w2 cx=773 cy=1623 /><circle class=G cx=779 cy=1577 /><circle class=w1 cx=734 cy=1556 /><circle class=G cx=770 cy=1525 /><circle class=w2 cx=682 cy=1597 /><circle class=w2 cx=782 cy=1497 /><circle class=p cx=945 cy=1567 /><circle class=G cx=724 cy=1576 /><circle class=G cx=804 cy=1589 /><circle class=G cx=744 cy=1530 /><circle class=G cx=785 cy=1574 /><circle class=w2 cx=766 cy=1627 /><circle class=G cx=775 cy=1547 /><circle class=G cx=797 cy=1589 /><circle class=G cx=737 cy=1578 /><circle class=p cx=675 cy=1593 /><circle class=G cx=818 cy=1618 /><circle class=w3 cx=852 cy=1547 /><circle class=G cx=725 cy=1571 /><circle class=p cx=865 cy=1553 /><circle class=w2 cx=916 cy=1638 /><circle class=w3 cx=884 cy=1555 /><circle class=G cx=795 cy=1613 /><circle class=G cx=799 cy=1616 /><circle class=p cx=767 cy=1602 /><circle class=w1 cx=712 cy=1631 /><circle class=G cx=788 cy=1603 /><circle class=p cx=931 cy=1534 /><circle class=w2 cx=692 cy=1524 /><circle class=G cx=734 cy=1575 /><circle class=G cx=790 cy=1612 /><circle class=p cx=763 cy=1631 /><circle class=p cx=902 cy=1628 /><circle class=w2 cx=736 cy=1615 /><circle class=w3 cx=804 cy=1650 /><circle class=w1 cx=839 cy=1636 /><circle class=G cx=804 cy=1579 /><circle class=G cx=758 cy=1528 /><circle class=G cx=730 cy=1582 /><circle class=w1 cx=865 cy=1568 /><circle class=p cx=829 cy=1507 /><circle class=w2 cx=778 cy=1648 /><circle class=G cx=706 cy=1589 /><circle class=G cx=723 cy=1588 /><circle class=w1 cx=834 cy=1567 /><circle class=w2 cx=832 cy=1534 /><circle class=w3 cx=936 cy=1552 /><circle class=w2 cx=689 cy=1622 /><circle class=w1 cx=927 cy=1536 /><circle class=w3 cx=734 cy=1540 /><circle class=G cx=805 cy=1513 /><circle class=w3 cx=729 cy=1505 /><circle class=p cx=918 cy=1596 /><circle class=p cx=850 cy=1575 /><circle class=w1 cx=768 cy=1516 /><circle class=p cx=900 cy=1633 /><circle class=G cx=745 cy=1539 /><circle class=w2 cx=777 cy=1585 /><circle class=w2 cx=706 cy=1532 /><circle class=w2 cx=846 cy=1623 /><circle class=G cx=792 cy=1619 /><circle class=p cx=694 cy=1556 /><circle class=w2 cx=828 cy=1523 /><circle class=G cx=720 cy=1591 /><circle class=w1 cx=832 cy=1628 /><circle class=G cx=795 cy=1588 /><circle class=w2 cx=828 cy=1560 /><circle class=w2 cx=930 cy=1553 /><circle class=G cx=831 cy=1585 /><circle class=p cx=866 cy=1629 /><circle class=w2 cx=768 cy=1630 /><circle class=G cx=795 cy=1534 /><circle class=p cx=761 cy=1636 /><circle class=w2 cx=688 cy=1563 /><circle class=p cx=827 cy=1644 /><circle class=w1 cx=761 cy=1630 /><circle class=G cx=762 cy=1586 /><circle class=w3 cx=826 cy=1572 /><circle class=p cx=863 cy=1541 /><circle class=w3 cx=918 cy=1542 /><circle class=G cx=741 cy=1577 /><circle class=G cx=787 cy=1615 /><circle class=w2 cx=819 cy=1535 /><circle class=w3 cx=712 cy=1641 /><circle class=G cx=820 cy=1604 /><circle class=G cx=733 cy=1582 /><circle class=p cx=873 cy=1650 /><circle class=G cx=798 cy=1584 /><circle class=G cx=774 cy=1532 /><circle class=w2 cx=923 cy=1547 /><circle class=w2 cx=839 cy=1629 /><circle class=w2 cx=876 cy=1600 /><circle class=G cx=764 cy=1536 /><circle class=G cx=892 cy=1604 /><circle class=w3 cx=804 cy=1657 /><circle class=G cx=714 cy=1577 /><circle class=G cx=752 cy=1530 /><circle class=G cx=713 cy=1554 /><circle class=G cx=703 cy=1557 /><circle class=w2 cx=824 cy=1592 /><circle class=G cx=743 cy=1577 /><circle class=w3 cx=769 cy=1516 /><circle class=p cx=722 cy=1601 /><circle class=G cx=782 cy=1563 /><circle class=w2 cx=937 cy=1576 /><circle class=p cx=901 cy=1608 /><circle class=G cx=763 cy=1575 /><circle class=w2 cx=874 cy=1553 /><circle class=G cx=804 cy=1625 /><circle class=G cx=873 cy=1639 /><circle class=p cx=838 cy=1486 /><circle class=w3 cx=915 cy=1613 /><circle class=G cx=803 cy=1523 /><circle class=w2 cx=919 cy=1577 /><circle class=G cx=760 cy=1561 /><circle class=w2 cx=797 cy=1678 /><circle class=w2 cx=697 cy=1556 /><circle class=w2 cx=762 cy=1604 /><circle class=p cx=938 cy=1532 /><circle class=w3 cx=796 cy=1654 /><circle class=p cx=915 cy=1609 /><circle class=p cx=805 cy=1693 /><circle class=w2 cx=788 cy=1521 /><circle class=G cx=776 cy=1568 /><circle class=w2 cx=781 cy=1573 /><circle class=G cx=801 cy=1573 /><circle class=G cx=779 cy=1551 /><circle class=w2 cx=691 cy=1561 /><circle class=p cx=770 cy=1652 /><circle class=p cx=862 cy=1530 /><circle class=w1 cx=760 cy=1570 /><circle class=p cx=955 cy=1600 /><circle class=p cx=930 cy=1640 /><circle class=G cx=770 cy=1590 /><circle class=G cx=754 cy=1501 /><circle class=w2 cx=688 cy=1515 /><circle class=w2 cx=682 cy=1613 /><circle class=w2 cx=714 cy=1614 /><circle class=G cx=817 cy=1568 /><circle class=G cx=749 cy=1530 /><circle class=G cx=761 cy=1594 /><circle class=G cx=748 cy=1555 /><circle class=G cx=796 cy=1633 /><circle class=w2 cx=755 cy=1647 /><circle class=w2 cx=871 cy=1590 /><circle class=w2 cx=928 cy=1572 /><circle class=G cx=801 cy=1539 /><circle class=p cx=730 cy=1627 /><circle class=w2 cx=860 cy=1527 /><circle class=w1 cx=677 cy=1600 /><circle class=G cx=781 cy=1567 /><circle class=p cx=739 cy=1561 /><circle class=G cx=819 cy=1590 /><circle class=p cx=830 cy=1533 /><circle class=G cx=706 cy=1562 /><circle class=w2 cx=898 cy=1589 /><circle class=w3 cx=917 cy=1553 /><circle class=w1 cx=938 cy=1546 /><circle class=p cx=675 cy=1542 /><circle class=p cx=881 cy=1511 /><circle class=G cx=773 cy=1541 /><circle class=G cx=775 cy=1536 /><circle class=w2 cx=859 cy=1616 /><circle class=w1 cx=861 cy=1600 /><circle class=p cx=714 cy=1508 /><circle class=w1 cx=915 cy=1583 /><circle class=w2 cx=921 cy=1550 /><circle class=w1 cx=836 cy=1532 /><circle class=G cx=718 cy=1566 /><circle class=w2 cx=875 cy=1549 /><circle class=G cx=767 cy=1544 /><circle class=p cx=948 cy=1578 /><circle class=w2 cx=723 cy=1522 /><circle class=w2 cx=873 cy=1569 /><circle class=w2 cx=704 cy=1537 /><circle class=p cx=690 cy=1567 /><circle class=w2 cx=771 cy=1576 /><circle class=w2 cx=683 cy=1561 /><circle class=w2 cx=743 cy=1647 /><circle class=p cx=835 cy=1684 /><circle class=w2 cx=731 cy=1558 /><circle class=w2 cx=862 cy=1584 /><circle class=G cx=699 cy=1570 /><circle class=p cx=829 cy=1511 /><circle class=w2 cx=944 cy=1628 /><circle class=w1 cx=781 cy=1618 /><circle class=w2 cx=882 cy=1642 /><circle class=w2 cx=675 cy=1566 /><circle class=p cx=822 cy=1665 /><circle class=w3 cx=942 cy=1576 /><circle class=G cx=755 cy=1544 /><circle class=w1 cx=820 cy=1664 /><circle class=w2 cx=780 cy=1519 /><circle class=G cx=711 cy=1554 /><circle class=G cx=711 cy=1573 /><circle class=G cx=708 cy=1576 /><circle class=G cx=692 cy=1613 /><circle class=G cx=770 cy=1508 /><circle class=p cx=920 cy=1586 /><circle class=p cx=832 cy=1499 /><circle class=G cx=811 cy=1506 /><circle class=G cx=797 cy=1617 /><circle class=p cx=885 cy=1512 /><circle class=w3 cx=908 cy=1552 /><circle class=w3 cx=910 cy=1603 /><circle class=G cx=799 cy=1531 /><circle class=G cx=824 cy=1506 /><circle class=w2 cx=840 cy=1555 /><circle class=w3 cx=716 cy=1628 /><circle class=p cx=750 cy=1512 /><circle class=G cx=783 cy=1548 /><circle class=G cx=806 cy=1508 /><circle class=w2 cx=776 cy=1641 /><circle class=w3 cx=954 cy=1601 /><circle class=w1 cx=738 cy=1507 /><circle class=G cx=885 cy=1608 /><circle class=p cx=767 cy=1624 /><circle class=G cx=854 cy=1529 /><circle class=p cx=815 cy=1687 /><circle class=p cx=843 cy=1561 /><circle class=G cx=740 cy=1584 /><circle class=G cx=827 cy=1602 /><circle class=w1 cx=851 cy=1529 /><circle class=w1 cx=824 cy=1658 /><circle class=G cx=706 cy=1597 /><circle class=G cx=802 cy=1525 /><circle class=w2 cx=841 cy=1533 /><circle class=w2 cx=891 cy=1551 /><circle class=G cx=764 cy=1589 /><circle class=G cx=714 cy=1567 /><circle class=w2 cx=725 cy=1596 /><circle class=w3 cx=739 cy=1505 /><circle class=w3 cx=896 cy=1534 /><circle class=w2 cx=763 cy=1574 /><circle class=p cx=754 cy=1507 /><circle class=G cx=818 cy=1598 /><circle class=w2 cx=905 cy=1580 /><circle class=w2 cx=727 cy=1535 /><circle class=G cx=788 cy=1603 /><circle class=w3 cx=849 cy=1558 /><circle class=G cx=716 cy=1581 /><circle class=G cx=796 cy=1595 /><circle class=G cx=793 cy=1572 /><circle class=G cx=756 cy=1588 /><circle class=w3 cx=894 cy=1543 /><circle class=w2 cx=835 cy=1570 /><circle class=w3 cx=833 cy=1680 /><circle class=w2 cx=819 cy=1615 /><circle class=w2 cx=776 cy=1633 /><circle class=p cx=919 cy=1562 /><circle class=w1 cx=751 cy=1610 /><circle class=w2 cx=707 cy=1613 /><circle class=p cx=838 cy=1676 /><circle class=w3 cx=815 cy=1679 /><circle class=G cx=796 cy=1515 /><circle class=G cx=812 cy=1569 /><circle class=p cx=908 cy=1635 /><circle class=w2 cx=674 cy=1599 /><circle class=G cx=793 cy=1573 /><circle class=w2 cx=884 cy=1606 /><circle class=w3 cx=898 cy=1588 /><circle class=p cx=835 cy=1680 /><circle class=w2 cx=684 cy=1570 /><circle class=G cx=718 cy=1600 /><circle class=w3 cx=677 cy=1560 /><circle class=p cx=702 cy=1532 /><circle class=w3 cx=908 cy=1599 /><circle class=G cx=751 cy=1528 /><circle class=w3 cx=918 cy=1588 /><circle class=w2 cx=819 cy=1542 /><circle class=w1 cx=912 cy=1631 /><circle class=w3 cx=816 cy=1635 /><circle class=w2 cx=768 cy=1652 /><circle class=G cx=773 cy=1531 /><circle class=w3 cx=878 cy=1587 /><circle class=G cx=823 cy=1588 /><circle class=p cx=676 cy=1559 /><circle class=w2 cx=837 cy=1482 /><circle class=w3 cx=908 cy=1660 /><circle class=w2 cx=903 cy=1612 /><circle class=G cx=772 cy=1536 /><circle class=p cx=822 cy=1519 /><circle class=G cx=702 cy=1562 /><circle class=w2 cx=810 cy=1592 /><circle class=w3 cx=893 cy=1600 /><circle class=G cx=767 cy=1534 /><circle class=w1 cx=879 cy=1534 /><circle class=w3 cx=700 cy=1535 /><circle class=w1 cx=865 cy=1613 /><circle class=w3 cx=899 cy=1598 /><circle class=w3 cx=830 cy=1533 /><circle class=w2 cx=861 cy=1572 /><circle class=G cx=824 cy=1592 /><circle class=G cx=914 cy=1520 /><circle class=w2 cx=699 cy=1520 /><circle class=w2 cx=756 cy=1569 /><circle class=w3 cx=725 cy=1634 /><circle class=w2 cx=824 cy=1644 /><circle class=w2 cx=916 cy=1590 /><circle class=G cx=802 cy=1619 /><circle class=p cx=731 cy=1645 /><circle class=w3 cx=824 cy=1548 /><circle class=w2 cx=933 cy=1551 /><circle class=w2 cx=724 cy=1560 /><circle class=w3 cx=853 cy=1530 /><circle class=G cx=786 cy=1544 /><circle class=G cx=825 cy=1574 /><circle class=G cx=870 cy=1564 /><circle class=G cx=723 cy=1567 /><circle class=w2 cx=928 cy=1545 /><circle class=G cx=802 cy=1536 /><circle class=w1 cx=733 cy=1548 /><circle class=w3 cx=873 cy=1559 /><circle class=w2 cx=718 cy=1626 /><circle class=w3 cx=887 cy=1605 /><circle class=w1 cx=834 cy=1633 /><circle class=p cx=689 cy=1600 /><circle class=w3 cx=881 cy=1587 /><circle class=p cx=894 cy=1641 /><circle class=w3 cx=844 cy=1632 /><circle class=p cx=794 cy=1655 /><circle class=G cx=776 cy=1551 /><circle class=G cx=819 cy=1631 /><circle class=p cx=791 cy=1677 /><circle class=G cx=757 cy=1525 /><circle class=G cx=810 cy=1621 /><circle class=G cx=771 cy=1558 /><circle class=G cx=743 cy=1578 /><circle class=w2 cx=930 cy=1591 /><circle class=w3 cx=726 cy=1598 /><circle class=w1 cx=857 cy=1531 /><circle class=G cx=755 cy=1582 /><circle class=w2 cx=775 cy=1517 /><circle class=p cx=811 cy=1487 /><circle class=G cx=806 cy=1544 /><circle class=w2 cx=762 cy=1539 /><circle class=G cx=786 cy=1553 /><circle class=G cx=731 cy=1573 /><circle class=w1 cx=888 cy=1571 /><circle class=w2 cx=713 cy=1534 /><circle class=w1 cx=804 cy=1640 /><circle class=w2 cx=722 cy=1634 /><circle class=w2 cx=792 cy=1521 /><circle class=w3 cx=894 cy=1595 /><circle class=G cx=785 cy=1583 /><circle class=G cx=798 cy=1526 /><circle class=w2 cx=819 cy=1612 /><circle class=w1 cx=804 cy=1658 /><circle class=G cx=717 cy=1586 /><circle class=G cx=815 cy=1627 /><circle class=p cx=793 cy=1640 /><circle class=G cx=723 cy=1586 /><circle class=G cx=793 cy=1616 /><circle class=G cx=765 cy=1527 /><circle class=G cx=897 cy=1531 /><circle class=G cx=783 cy=1586 /><circle class=w2 cx=871 cy=1624 /><circle class=G cx=822 cy=1572 /><circle class=w1 cx=803 cy=1556 /><circle class=G cx=757 cy=1592 /><circle class=w2 cx=936 cy=1623 /><circle class=G cx=753 cy=1525 /><circle class=p cx=892 cy=1651 /><circle class=w1 cx=767 cy=1513 /><circle class=w1 cx=881 cy=1588 /><circle class=w2 cx=883 cy=1634 /><circle class=w3 cx=741 cy=1515 /><circle class=G cx=715 cy=1585 /><circle class=p cx=820 cy=1687 /><circle class=p cx=668 cy=1574 /><circle class=w1 cx=817 cy=1688 /><circle class=p cx=909 cy=1595 /><circle class=G cx=926 cy=1610 /><circle class=G cx=806 cy=1621 /><circle class=p cx=853 cy=1513 /><circle class=w2 cx=784 cy=1515 /><circle class=G cx=753 cy=1589 /><circle class=p cx=953 cy=1607 /><circle class=w3 cx=735 cy=1521 /><circle class=G cx=805 cy=1587 /><circle class=G cx=815 cy=1592 /><circle class=p cx=825 cy=1685 /><circle class=p cx=857 cy=1633 /><circle class=p cx=872 cy=1549 /><circle class=w2 cx=815 cy=1649 /><circle class=w1 cx=863 cy=1567 /><circle class=p cx=883 cy=1524 /><circle class=w3 cx=723 cy=1630 /><circle class=G cx=765 cy=1533 /><circle class=w1 cx=832 cy=1660 /><circle class=w2 cx=872 cy=1565 /><circle class=w3 cx=706 cy=1527 /><circle class=G cx=761 cy=1554 /><circle class=G cx=814 cy=1587 /><circle class=w2 cx=769 cy=1636 /><circle class=w2 cx=740 cy=1552 /><circle class=G cx=780 cy=1536 /><circle class=p cx=717 cy=1504 /><circle class=p cx=842 cy=1579 /><circle class=w2 cx=805 cy=1651 /><circle class=w2 cx=881 cy=1627 /><circle class=p cx=904 cy=1595 /><circle class=w3 cx=886 cy=1553 /><circle class=w1 cx=825 cy=1655 /><circle class=w1 cx=866 cy=1576 /><circle class=p cx=912 cy=1641 /><circle class=w2 cx=940 cy=1592 /><circle class=w2 cx=690 cy=1522 /><circle class=G cx=777 cy=1532 /><circle class=G cx=815 cy=1537 /><circle class=p cx=925 cy=1534 /><circle class=w1 cx=915 cy=1555 /><circle class=w2 cx=723 cy=1508 /><circle class=p cx=718 cy=1508 /><circle class=G cx=760 cy=1531 /><circle class=G cx=790 cy=1580 /><circle class=G cx=767 cy=1547 /><circle class=p cx=849 cy=1534 /><circle class=w2 cx=722 cy=1611 /><circle class=G cx=829 cy=1609 /><circle class=G cx=751 cy=1529 /><circle class=G cx=766 cy=1538 /><circle class=w2 cx=727 cy=1529 /><circle class=G cx=791 cy=1619 /><circle class=G cx=805 cy=1568 /><circle class=w3 cx=813 cy=1557 /><circle class=p cx=675 cy=1597 /><circle class=G cx=867 cy=1556 /><circle class=p cx=911 cy=1583 /><circle class=w2 cx=944 cy=1564 /><circle class=w2 cx=764 cy=1519 /><circle class=G cx=823 cy=1591 /><circle class=w3 cx=923 cy=1615 /><circle class=w1 cx=822 cy=1639 /><circle class=p cx=836 cy=1585 /><circle class=p cx=694 cy=1613 /><circle class=w1 cx=744 cy=1624 /><circle class=w3 cx=853 cy=1530 /><circle class=w2 cx=887 cy=1571 /><circle class=G cx=725 cy=1596 /><circle class=w1 cx=702 cy=1541 /><circle class=p cx=946 cy=1592 /><circle class=G cx=749 cy=1576 /><circle class=p cx=677 cy=1550 /><circle class=w2 cx=915 cy=1616 /><circle class=G cx=835 cy=1591 /><circle class=w1 cx=924 cy=1573 /><circle class=w1 cx=925 cy=1544 /><circle class=w2 cx=728 cy=1624 /><circle class=p cx=740 cy=1648 /><circle class=G cx=708 cy=1586 /><circle class=p cx=870 cy=1646 /><circle class=w1 cx=889 cy=1534 /><circle class=G cx=766 cy=1566 /><circle class=G cx=771 cy=1567 /><circle class=w3 cx=950 cy=1581 /><circle class=G cx=772 cy=1548 /><circle class=w2 cx=784 cy=1607 /><circle class=w2 cx=787 cy=1514 /><circle class=G cx=774 cy=1537 /><circle class=G cx=806 cy=1573 /><circle class=w1 cx=865 cy=1630 /><circle class=w3 cx=881 cy=1606 /><circle class=G cx=723 cy=1593 /><circle class=G cx=678 cy=1611 /><circle class=p cx=887 cy=1646 /><circle class=w3 cx=675 cy=1579 /><circle class=G cx=810 cy=1565 /><circle class=w2 cx=832 cy=1580 /><circle class=w2 cx=698 cy=1550 /><circle class=G cx=810 cy=1616 /><circle class=w1 cx=677 cy=1575 /><circle class=G cx=751 cy=1575 /><circle class=w3 cx=714 cy=1548 /><circle class=w2 cx=702 cy=1599 /><circle class=p cx=872 cy=1644 /><circle class=w1 cx=892 cy=1539 /><circle class=p cx=682 cy=1616 /><circle class=p cx=847 cy=1573 /><circle class=G cx=763 cy=1541 /><circle class=G cx=801 cy=1629 /><circle class=w2 cx=943 cy=1597 /><circle class=G cx=806 cy=1595 /><circle class=w3 cx=910 cy=1563 /><circle class=w2 cx=862 cy=1574 /><circle class=w2 cx=710 cy=1564 /><circle class=w2 cx=716 cy=1609 /><circle class=G cx=733 cy=1573 /><circle class=G cx=885 cy=1529 /><circle class=p cx=836 cy=1530 /><circle class=w3 cx=843 cy=1625 /><circle class=w2 cx=859 cy=1595 /><circle class=w3 cx=787 cy=1511 /><circle class=w3 cx=698 cy=1548 /><circle class=G cx=831 cy=1643 /><circle class=p cx=848 cy=1574 /><circle class=w1 cx=874 cy=1515 /><circle class=G cx=792 cy=1594 /><circle class=p cx=946 cy=1629 /><circle class=p cx=842 cy=1557 /><circle class=G cx=797 cy=1533 /><circle class=G cx=805 cy=1581 /><circle class=w3 cx=896 cy=1604 /><circle class=w1 cx=881 cy=1605 /><circle class=w2 cx=932 cy=1622 /><circle class=w1 cx=781 cy=1653 /><circle class=w1 cx=913 cy=1648 /><circle class=w1 cx=755 cy=1610 /><circle class=G cx=693 cy=1545 /><circle class=G cx=815 cy=1693 /><circle class=w3 cx=715 cy=1640 /><circle class=G cx=792 cy=1623 /><circle class=p cx=725 cy=1638 /><circle class=G cx=721 cy=1567 /><circle class=G cx=751 cy=1585 /><circle class=w3 cx=878 cy=1619 /><circle class=G cx=678 cy=1590 /><circle class=p cx=924 cy=1562 /><circle class=p cx=791 cy=1496 /><circle class=w2 cx=776 cy=1595 /><circle class=G cx=796 cy=1589 /><circle class=w1 cx=773 cy=1587 /><circle class=w2 cx=793 cy=1532 /><circle class=w3 cx=877 cy=1580 /><circle class=w1 cx=805 cy=1559 /><circle class=G cx=830 cy=1592 /><circle class=w3 cx=678 cy=1587 /><circle class=w3 cx=859 cy=1607 /><circle class=G cx=732 cy=1585 /><circle class=w1 cx=675 cy=1597 /><circle class=w3 cx=730 cy=1609 /><circle class=G cx=814 cy=1529 /><circle class=w1 cx=852 cy=1596 /><circle class=w2 cx=793 cy=1653 /><circle class=G cx=811 cy=1607 /><circle class=G cx=715 cy=1573 /><circle class=w1 cx=732 cy=1558 /><circle class=w3 cx=895 cy=1638 /><circle class=w2 cx=798 cy=1675 /><circle class=w3 cx=684 cy=1586 /><circle class=w2 cx=701 cy=1618 /><circle class=w3 cx=909 cy=1572 /><circle class=G cx=829 cy=1580 /><circle class=G cx=781 cy=1575 /><circle class=w2 cx=766 cy=1599 /><circle class=p cx=671 cy=1583 /><circle class=G cx=732 cy=1583 /><circle class=w3 cx=723 cy=1622 /><circle class=w3 cx=937 cy=1639 /><circle class=p cx=672 cy=1600 /><circle class=G cx=786 cy=1589 /><circle class=w2 cx=771 cy=1643 /><circle class=w3 cx=676 cy=1586 /><circle class=p cx=718 cy=1547 /><circle class=w1 cx=821 cy=1525 /><circle class=p cx=820 cy=1693 /><circle class=w2 cx=869 cy=1551 /><circle class=G cx=802 cy=1539 /><circle class=w2 cx=806 cy=1603 /><circle class=G cx=783 cy=1595 /><circle class=w2 cx=930 cy=1574 /><circle class=p cx=674 cy=1572 /><circle class=p cx=837 cy=1515 /><circle class=w1 cx=907 cy=1626 /><circle class=G cx=777 cy=1529 /><circle class=w3 cx=877 cy=1543 /><circle class=w2 cx=786 cy=1643 /><circle class=p cx=819 cy=1668 /><circle class=w2 cx=916 cy=1631 /><circle class=w3 cx=794 cy=1563 /><circle class=G cx=702 cy=1594 /><circle class=w1 cx=877 cy=1524 /><circle class=w2 cx=868 cy=1593 /><circle class=G cx=802 cy=1618 /><circle class=w2 cx=866 cy=1576 /><circle class=w1 cx=768 cy=1509 /><circle class=p cx=678 cy=1567 /><circle class=G cx=717 cy=1591 /><circle class=w3 cx=929 cy=1551 /><circle class=G cx=777 cy=1558 /><circle class=G cx=802 cy=1503 /><circle class=p cx=929 cy=1608 /><circle class=p cx=826 cy=1551 /><circle class=p cx=684 cy=1601 /><circle class=G cx=750 cy=1579 /><circle class=p cx=769 cy=1601 /><circle class=w3 cx=682 cy=1565 /><circle class=p cx=856 cy=1640 /><circle class=G cx=768 cy=1551 /><circle class=G cx=699 cy=1571 /><circle class=w3 cx=737 cy=1632 /><circle class=w3 cx=689 cy=1566 /><circle class=w3 cx=852 cy=1630 /><circle class=G cx=783 cy=1566 /><circle class=G cx=804 cy=1564 /><circle class=w2 cx=873 cy=1626 /><circle class=w2 cx=869 cy=1570 /><circle class=G cx=710 cy=1571 /><circle class=G cx=709 cy=1555 /><circle class=p cx=936 cy=1635 /><circle class=p cx=741 cy=1509 /><circle class=p cx=682 cy=1535 /><circle class=w2 cx=755 cy=1603 /><circle class=p cx=721 cy=1506 /><circle class=w2 cx=712 cy=1627 /><circle class=p cx=698 cy=1508 /><circle class=w2 cx=831 cy=1536 /><circle class=w2 cx=763 cy=1508 /><circle class=G cx=807 cy=1638 /><circle class=w2 cx=731 cy=1635 /><circle class=G cx=709 cy=1598 /><circle class=p cx=867 cy=1644 /><circle class=w1 cx=746 cy=1504 /><circle class=p cx=850 cy=1556 /><circle class=G cx=810 cy=1539 /><circle class=w2 cx=741 cy=1647 /><circle class=w2 cx=905 cy=1652 /><circle class=w2 cx=881 cy=1528 /><circle class=w2 cx=933 cy=1580 /><circle class=w1 cx=810 cy=1655 /><circle class=w1 cx=778 cy=1618 /><circle class=w2 cx=826 cy=1689 /><circle class=w2 cx=835 cy=1614 /><circle class=G cx=817 cy=1567 /><circle class=G cx=785 cy=1584 /><circle class=G cx=809 cy=1587 /><circle class=w2 cx=894 cy=1590 /><circle class=G cx=696 cy=1572 /><circle class=p cx=783 cy=1644 /><circle class=G cx=806 cy=1590 /><circle class=G cx=759 cy=1594 /><circle class=w2 cx=801 cy=1650 /><circle class=w2 cx=922 cy=1529 /><circle class=G cx=745 cy=1553 /><circle class=p cx=666 cy=1570 /><circle class=w1 cx=905 cy=1614 /><circle class=w1 cx=843 cy=1526 /><circle class=p cx=786 cy=1661 /><circle class=p cx=848 cy=1566 /><circle class=w1 cx=871 cy=1571 /><circle class=w2 cx=700 cy=1607 /><circle class=w2 cx=858 cy=1610 /><circle class=p cx=908 cy=1527 /><circle class=G cx=810 cy=1570 /><circle class=G cx=701 cy=1581 /><circle class=p cx=761 cy=1621 /><circle class=p cx=835 cy=1530 /><circle class=G cx=756 cy=1614 /><circle class=w3 cx=726 cy=1524 /><circle class=w2 cx=759 cy=1606 /><circle class=G cx=811 cy=1631 /><circle class=w3 cx=817 cy=1678 /><circle class=p cx=676 cy=1589 /><circle class=w1 cx=890 cy=1604 /><circle class=w2 cx=741 cy=1652 /><circle class=p cx=712 cy=1632 /><circle class=w2 cx=860 cy=1529 /><circle class=G cx=813 cy=1512 /><circle class=w2 cx=819 cy=1554 /><circle class=p cx=790 cy=1501 /><circle class=G cx=765 cy=1582 /><circle class=p cx=940 cy=1539 /><circle class=G cx=804 cy=1509 /><circle class=w1 cx=757 cy=1637 /><circle class=w1 cx=743 cy=1565 /><circle class=p cx=795 cy=1555 /><circle class=w1 cx=675 cy=1557 /><circle class=G cx=765 cy=1596 /><circle class=G cx=920 cy=1551 /><circle class=p cx=777 cy=1506 /><circle class=w2 cx=761 cy=1612 /><circle class=G cx=810 cy=1616 /><circle class=G cx=708 cy=1577 /><circle class=G cx=799 cy=1573 /><circle class=p cx=874 cy=1601 /><circle class=w3 cx=897 cy=1592 /><circle class=G cx=826 cy=1603 /><circle class=G cx=702 cy=1558 /><circle class=w3 cx=815 cy=1542 /><circle class=w3 cx=860 cy=1502 /><circle class=G cx=695 cy=1583 /><circle class=G cx=716 cy=1555 /><circle class=p cx=706 cy=1539 /><circle class=G cx=818 cy=1589 /><circle class=w1 cx=740 cy=1615 /><circle class=p cx=953 cy=1599 /><circle class=w3 cx=709 cy=1620 /><circle class=p cx=686 cy=1588 /><circle class=w2 cx=730 cy=1539 /><circle class=w2 cx=730 cy=1508 /><circle class=w3 cx=877 cy=1654 /><circle class=w3 cx=930 cy=1558 /><circle class=w1 cx=709 cy=1634 /><circle class=G cx=713 cy=1561 /><circle class=w2 cx=815 cy=1680 /><circle class=w1 cx=715 cy=1527 /><circle class=G cx=785 cy=1588 /><circle class=G cx=891 cy=1590 /><circle class=w2 cx=863 cy=1625 /><circle class=w2 cx=858 cy=1607 /><circle class=p cx=905 cy=1551 /><circle class=G cx=800 cy=1628 /><circle class=G cx=749 cy=1578 /><circle class=G cx=715 cy=1557 /><circle class=p cx=902 cy=1540 /><circle class=p cx=886 cy=1513 /><circle class=G cx=757 cy=1580 /><circle class=G cx=799 cy=1510 /><circle class=w1 cx=894 cy=1570 /><circle class=w2 cx=731 cy=1600 /><circle class=p cx=865 cy=1560 /><circle class=p cx=831 cy=1554 /><circle class=w2 cx=796 cy=1542 /><circle class=G cx=794 cy=1613 /><circle class=w1 cx=740 cy=1571 /><circle class=p cx=906 cy=1654 /><circle class=w2 cx=860 cy=1539 /><circle class=G cx=680 cy=1541 /><circle class=w2 cx=869 cy=1639 /><circle class=G cx=782 cy=1603 /><circle class=w2 cx=779 cy=1510 /><circle class=p cx=876 cy=1553 /><circle class=G cx=674 cy=1589 /><circle class=G cx=815 cy=1613 /><circle class=G cx=756 cy=1591 /><circle class=w2 cx=727 cy=1605 /><circle class=G cx=787 cy=1539 /><circle class=w2 cx=714 cy=1605 /><circle class=w2 cx=728 cy=1538 /><circle class=w2 cx=910 cy=1524 /><circle class=w3 cx=875 cy=1621 /><circle class=G cx=737 cy=1586 /><circle class=p cx=732 cy=1547 /><circle class=p cx=856 cy=1637 /><circle class=G cx=750 cy=1589 /><circle class=p cx=778 cy=1662 /><circle class=w2 cx=736 cy=1609 /><circle class=p cx=812 cy=1491 /><circle class=w2 cx=839 cy=1534 /><circle class=p cx=893 cy=1516 /><circle class=w2 cx=826 cy=1683 /><circle class=G cx=762 cy=1558 /><circle class=p cx=954 cy=1595 /><circle class=G cx=831 cy=1599 /><circle class=w2 cx=839 cy=1573 /><circle class=w1 cx=762 cy=1606 /><circle class=G cx=823 cy=1623 /><circle class=G cx=801 cy=1568 /><circle class=p cx=797 cy=1671 /><circle class=w2 cx=826 cy=1634 /><circle class=w2 cx=725 cy=1571 /><circle class=p cx=914 cy=1598 /><circle class=G cx=789 cy=1546 /><circle class=w2 cx=859 cy=1525 /><circle class=w1 cx=914 cy=1595 /><circle class=p cx=854 cy=1576 /><circle class=w2 cx=862 cy=1601 /><circle class=p cx=751 cy=1651 /><circle class=w3 cx=672 cy=1553 /><circle class=p cx=919 cy=1622 /><circle class=w2 cx=897 cy=1556 /><circle class=G cx=792 cy=1591 /><circle class=w2 cx=775 cy=1603 /><circle class=G cx=809 cy=1597 /><circle class=w2 cx=739 cy=1555 /><circle class=p cx=704 cy=1632 /><circle class=G cx=787 cy=1539 /><circle class=p cx=906 cy=1647 /><circle class=w2 cx=876 cy=1557 /><circle class=G cx=784 cy=1607 /><circle class=w2 cx=891 cy=1537 /><circle class=G cx=785 cy=1595 /><circle class=w3 cx=889 cy=1629 /><circle class=G cx=746 cy=1577 /><circle class=w3 cx=944 cy=1600 /><circle class=w3 cx=806 cy=1644 /><circle class=w1 cx=788 cy=1622 /><circle class=G cx=797 cy=1563 /><circle class=G cx=704 cy=1590 /><circle class=w2 cx=823 cy=1553 /><circle class=w1 cx=887 cy=1584 /><circle class=w3 cx=865 cy=1637 /><circle class=G cx=835 cy=1600 /><circle class=w1 cx=775 cy=1593 /><circle class=G cx=697 cy=1600 /><circle class=w2 cx=712 cy=1529 /><circle class=w2 cx=825 cy=1591 /><circle class=w2 cx=818 cy=1655 /><circle class=w1 cx=791 cy=1639 /><circle class=G cx=815 cy=1518 /><circle class=w2 cx=770 cy=1625 /><circle class=w2 cx=913 cy=1648 /><circle class=w2 cx=880 cy=1618 /><circle class=w3 cx=858 cy=1546 /><circle class=w1 cx=765 cy=1611 /><circle class=w2 cx=855 cy=1546 /><circle class=G cx=833 cy=1595 /><circle class=G cx=764 cy=1586 /><circle class=G cx=798 cy=1504 /><circle class=G cx=740 cy=1545 /><circle class=p cx=823 cy=1487 /><circle class=p cx=855 cy=1637 /><circle class=G cx=717 cy=1594 /><circle class=G cx=793 cy=1508 /><circle class=G cx=715 cy=1506 /><circle class=w2 cx=841 cy=1623 /><circle class=p cx=723 cy=1637 /><circle class=p cx=786 cy=1636 /><circle class=w3 cx=810 cy=1644 /><circle class=w2 cx=760 cy=1573 /><circle class=w2 cx=921 cy=1600 /><circle class=p cx=795 cy=1668 /><circle class=p cx=737 cy=1554 /><circle class=G cx=711 cy=1578 /><circle class=w2 cx=701 cy=1538 /><circle class=w2 cx=749 cy=1623 /><circle class=G cx=697 cy=1583 /><circle class=w2 cx=939 cy=1631 /><circle class=w1 cx=813 cy=1496 /><circle class=w3 cx=691 cy=1591 /><circle class=w1 cx=935 cy=1635 /><circle class=G cx=736 cy=1630 /><circle class=w2 cx=765 cy=1642 /><circle class=w1 cx=826 cy=1637 /><circle class=p cx=805 cy=1550 /><circle class=G cx=829 cy=1613 /><circle class=G cx=827 cy=1609 /><circle class=G cx=799 cy=1586 /><circle class=p cx=837 cy=1611 /><circle class=G cx=775 cy=1572 /><circle class=w1 cx=879 cy=1557 /><circle class=p cx=818 cy=1489 /><circle class=w2 cx=701 cy=1543 /><circle class=p cx=832 cy=1565 /><circle class=w1 cx=826 cy=1644 /><circle class=w1 cx=669 cy=1553 /><circle class=w2 cx=721 cy=1601 /><circle class=p cx=926 cy=1573 /><circle class=G cx=827 cy=1594 /><circle class=G cx=800 cy=1599 /><circle class=G cx=787 cy=1539 /><circle class=w3 cx=839 cy=1543 /><circle class=G cx=768 cy=1523 /><circle class=w3 cx=824 cy=1646 /><circle class=w2 cx=799 cy=1637 /><circle class=w1 cx=701 cy=1551 /><circle class=w2 cx=872 cy=1623 /><circle class=G cx=927 cy=1592 /><circle class=p cx=927 cy=1551 /><circle class=G cx=761 cy=1533 /><circle class=w2 cx=752 cy=1615 /><circle class=p cx=827 cy=1515 /><circle class=w2 cx=829 cy=1577 /><circle class=G cx=789 cy=1547 /><circle class=w2 cx=910 cy=1648 /><circle class=G cx=807 cy=1537 /><circle class=G cx=829 cy=1662 /><circle class=p cx=679 cy=1528 /><circle class=w3 cx=926 cy=1519 /><circle class=G cx=746 cy=1545 /><circle class=w2 cx=700 cy=1619 /><circle class=w2 cx=766 cy=1610 /><circle class=G cx=912 cy=1654 /><circle class=G cx=801 cy=1616 /><circle class=G cx=712 cy=1577 /><circle class=p cx=792 cy=1496 /><circle class=G cx=737 cy=1593 /><circle class=w2 cx=884 cy=1506 /><circle class=G cx=776 cy=1561 /><circle class=G cx=746 cy=1528 /><circle class=p cx=834 cy=1619 /><circle class=w1 cx=790 cy=1518 /><circle class=p cx=857 cy=1506 /><circle class=w3 cx=930 cy=1599 /><circle class=G cx=712 cy=1573 /><circle class=G cx=772 cy=1558 /><circle class=w3 cx=725 cy=1642 /><circle class=G cx=804 cy=1541 /><circle class=p cx=793 cy=1639 /><circle class=p cx=790 cy=1669 /><circle class=w2 cx=829 cy=1634 /><circle class=G cx=758 cy=1538 /><circle class=G cx=769 cy=1569 /><circle class=G cx=799 cy=1514 /><circle class=w2 cx=922 cy=1542 /><circle class=G cx=796 cy=1572 /><circle class=w3 cx=698 cy=1609 /><circle class=p cx=725 cy=1516 /><circle class=G cx=751 cy=1560 /><circle class=w2 cx=825 cy=1561 /><circle class=p cx=670 cy=1572 /><circle class=w2 cx=824 cy=1665 /><circle class=G cx=769 cy=1653 /><circle class=G cx=816 cy=1599 /><circle class=w2 cx=936 cy=1615 /><circle class=p cx=857 cy=1595 /><circle class=w1 cx=876 cy=1566 /><circle class=p cx=949 cy=1588 /><circle class=w3 cx=901 cy=1525 /><circle class=w3 cx=685 cy=1554 /><circle class=w2 cx=773 cy=1611 /><circle class=p cx=837 cy=1524 /><circle class=p cx=845 cy=1543 /><circle class=w3 cx=698 cy=1524 /><circle class=w2 cx=938 cy=1589 /><circle class=w3 cx=820 cy=1507 /><circle class=p cx=936 cy=1530 /><circle class=G cx=801 cy=1516 /><circle class=w1 cx=823 cy=1536 /><circle class=G cx=796 cy=1521 /><circle class=w3 cx=843 cy=1533 /><circle class=w1 cx=934 cy=1618 /><circle class=w1 cx=753 cy=1603 /><circle class=w2 cx=899 cy=1529 /><circle class=w2 cx=822 cy=1589 /><circle class=w1 cx=684 cy=1518 /><circle class=w3 cx=887 cy=1523 /><circle class=w2 cx=862 cy=1556 /><circle class=w2 cx=922 cy=1567 /><circle class=w1 cx=927 cy=1542 /><circle class=p cx=794 cy=1496 /><circle class=G cx=746 cy=1592 /><circle class=G cx=745 cy=1541 /><circle class=w1 cx=935 cy=1566 /><circle class=p cx=717 cy=1618 /><circle class=w3 cx=699 cy=1632 /><circle class=G cx=695 cy=1569 /><circle class=p cx=704 cy=1506 /><circle class=w1 cx=735 cy=1633 /><circle class=p cx=917 cy=1610 /><circle class=w3 cx=928 cy=1526 /><circle class=G cx=923 cy=1573 /><circle class=G cx=812 cy=1528 /><circle class=w1 cx=828 cy=1495 /><circle class=w2 cx=880 cy=1636 /><circle class=p cx=911 cy=1536 /><circle class=G cx=788 cy=1571 /><circle class=G cx=769 cy=1558 /><circle class=p cx=821 cy=1483 /><circle class=G cx=801 cy=1620 /><circle class=G cx=804 cy=1506 /><circle class=w2 cx=681 cy=1550 /><circle class=G cx=809 cy=1505 /><circle class=p cx=831 cy=1566 /><circle class=w3 cx=734 cy=1543 /><circle class=w2 cx=717 cy=1634 /><circle class=G cx=701 cy=1557 /><circle class=G cx=763 cy=1532 /><circle class=p cx=810 cy=1486 /><circle class=G cx=804 cy=1580 /><circle class=G cx=734 cy=1577 /><circle class=w3 cx=810 cy=1550 /><circle class=w3 cx=705 cy=1606 /><circle class=G cx=721 cy=1573 /><circle class=G cx=795 cy=1589 /><circle class=G cx=711 cy=1590 /><circle class=G cx=757 cy=1525 /><circle class=G cx=729 cy=1560 /><circle class=G cx=811 cy=1619 /><circle class=G cx=820 cy=1600 /><circle class=w2 cx=897 cy=1631 /><circle class=p cx=856 cy=1515 /><circle class=G cx=831 cy=1598 /><circle class=G cx=777 cy=1546 /><circle class=p cx=836 cy=1648 /><circle class=w1 cx=873 cy=1517 /><circle class=G cx=728 cy=1555 /><circle class=w1 cx=912 cy=1636 /><circle class=w3 cx=902 cy=1650 /><circle class=w1 cx=690 cy=1541 /><circle class=w3 cx=888 cy=1575 /><circle class=w2 cx=705 cy=1526 /><circle class=G cx=809 cy=1569 /><circle class=w3 cx=826 cy=1521 /><circle class=G cx=820 cy=1581 /><circle class=G cx=762 cy=1541 /><circle class=G cx=759 cy=1553 /><circle class=p cx=692 cy=1539 /><circle class=G cx=720 cy=1589 /><circle class=w2 cx=788 cy=1519 /><circle class=G cx=748 cy=1544 /><circle class=G cx=773 cy=1557 /><circle class=p cx=768 cy=1513 /><circle class=p cx=840 cy=1665 /><circle class=G cx=810 cy=1510 /><circle class=G cx=811 cy=1633 /><circle class=w3 cx=894 cy=1608 /><circle class=w3 cx=796 cy=1562 /><circle class=G cx=796 cy=1573 /><circle class=p cx=911 cy=1601 /><circle class=w1 cx=890 cy=1539 /><circle class=p cx=860 cy=1513 /><circle class=p cx=808 cy=1673 /><circle class=G cx=816 cy=1580 /><circle class=G cx=807 cy=1576 /><circle class=w1 cx=833 cy=1574 /><circle class=G cx=777 cy=1538 /><circle class=w3 cx=849 cy=1534 /><circle class=G cx=795 cy=1530 /><circle class=w3 cx=910 cy=1619 /><circle class=G cx=835 cy=1601 /><circle class=w2 cx=908 cy=1612 /><circle class=w3 cx=857 cy=1523 /><circle class=G cx=806 cy=1508 /><circle class=p cx=785 cy=1665 /><circle class=p cx=950 cy=1608 /><circle class=w3 cx=929 cy=1565 /><circle class=G cx=797 cy=1591 /><circle class=w3 cx=913 cy=1523 /><circle class=w2 cx=714 cy=1541 /><circle class=w2 cx=929 cy=1629 /><circle class=p cx=703 cy=1599 /><circle class=G cx=762 cy=1583 /><circle class=G cx=791 cy=1583 /><circle class=w1 cx=922 cy=1540 /><circle class=G cx=711 cy=1587 /><circle class=p cx=924 cy=1595 /><circle class=G cx=741 cy=1598 /><circle class=w2 cx=897 cy=1540 /><circle class=w1 cx=826 cy=1480 /><circle class=p cx=711 cy=1530 /><circle class=w2 cx=704 cy=1606 /><circle class=p cx=757 cy=1507 /><circle class=G cx=789 cy=1574 /><circle class=w3 cx=791 cy=1533 /><circle class=G cx=812 cy=1532 /><circle class=w1 cx=783 cy=1613 /><circle class=p cx=853 cy=1582 /><circle class=w2 cx=736 cy=1554 /><circle class=G cx=760 cy=1575 /><circle class=w1 cx=925 cy=1554 /><circle class=w3 cx=741 cy=1522 /><circle class=G cx=698 cy=1567 /><circle class=w1 cx=741 cy=1651 /><circle class=G cx=734 cy=1577 /><circle class=G cx=775 cy=1563 /><circle class=w2 cx=757 cy=1528 /><circle class=p cx=854 cy=1507 /><circle class=w2 cx=730 cy=1603 /><circle class=G cx=820 cy=1600 /><circle class=G cx=783 cy=1584 /><circle class=w1 cx=707 cy=1629 /><circle class=p cx=800 cy=1493 /><circle class=w2 cx=758 cy=1613 /><circle class=w2 cx=919 cy=1540 /><circle class=G cx=782 cy=1538 /><circle class=w2 cx=937 cy=1593 /><circle class=G cx=833 cy=1502 /><circle class=G cx=763 cy=1575 /><circle class=w2 cx=918 cy=1647 /><circle class=w2 cx=776 cy=1574 /><circle class=p cx=839 cy=1539 /><circle class=w2 cx=887 cy=1603 /><circle class=w3 cx=846 cy=1618 /><circle class=p cx=895 cy=1578 /><circle class=p cx=888 cy=1596 /><circle class=G cx=781 cy=1567 /><circle class=w2 cx=937 cy=1623 /><circle class=w2 cx=726 cy=1539 /><circle class=p cx=911 cy=1544 /><circle class=p cx=910 cy=1620 /><circle class=p cx=842 cy=1609 /><circle class=w3 cx=942 cy=1583 /><circle class=w3 cx=915 cy=1538 /><circle class=w3 cx=952 cy=1586 /><circle class=p cx=745 cy=1641 /><circle class=w2 cx=886 cy=1535 /><circle class=w1 cx=914 cy=1543 /><circle class=p cx=889 cy=1603 /><circle class=w2 cx=891 cy=1545 /><circle class=p cx=673 cy=1547 /><circle class=G cx=864 cy=1613 /><circle class=p cx=945 cy=1611 /><circle class=p cx=845 cy=1589 /><circle class=p cx=848 cy=1510 /><circle class=w2 cx=780 cy=1628 /><circle class=G cx=798 cy=1503 /><circle class=p cx=838 cy=1618 /><circle class=w2 cx=732 cy=1557 /><circle class=G cx=723 cy=1587 /><circle class=p cx=845 cy=1619 /><circle class=G cx=808 cy=1504 /><circle class=w3 cx=695 cy=1601 /><circle class=p cx=868 cy=1635 /><circle class=w2 cx=715 cy=1630 /><circle class=G cx=830 cy=1665 /><circle class=w2 cx=726 cy=1538 /><circle class=w2 cx=787 cy=1543 /><circle class=w1 cx=849 cy=1601 /><circle class=w1 cx=820 cy=1514 /><circle class=w2 cx=831 cy=1643 /><circle class=w2 cx=736 cy=1604 /><circle class=w3 cx=691 cy=1607 /><circle class=w3 cx=723 cy=1613 /><circle class=G cx=792 cy=1586 /><circle class=G cx=698 cy=1581 /><circle class=p cx=855 cy=1546 /><circle class=G cx=819 cy=1592 /><circle class=w3 cx=919 cy=1586 /><circle class=G cx=802 cy=1529 /><circle class=p cx=878 cy=1545 /><circle class=w2 cx=891 cy=1575 /><circle class=w1 cx=907 cy=1558 /><circle class=w3 cx=936 cy=1566 /><circle class=p cx=817 cy=1674 /><circle class=p cx=723 cy=1606 /><circle class=p cx=812 cy=1683 /><circle class=G cx=797 cy=1616 /><circle class=G cx=730 cy=1557 /><circle class=G cx=815 cy=1612 /><circle class=w1 cx=689 cy=1569 /><circle class=G cx=816 cy=1570 /><circle class=G cx=759 cy=1580 /><circle class=w2 cx=688 cy=1542 /><circle class=w2 cx=797 cy=1550 /><circle class=G cx=764 cy=1590 /><circle class=p cx=816 cy=1676 /><circle class=w1 cx=888 cy=1562 /><circle class=G cx=799 cy=1508 /><circle class=p cx=860 cy=1555 /><circle class=w3 cx=955 cy=1587 /><circle class=G cx=759 cy=1585 /><circle class=G cx=801 cy=1624 /><circle class=w2 cx=782 cy=1502 /><circle class=G cx=720 cy=1558 /><circle class=G cx=785 cy=1577 /><circle class=p cx=731 cy=1508 /><circle class=p cx=902 cy=1586 /><circle class=p cx=889 cy=1522 /><circle class=p cx=854 cy=1629 /><circle class=G cx=788 cy=1603 /><circle class=p cx=678 cy=1537 /><circle class=w2 cx=817 cy=1496 /><circle class=G cx=775 cy=1544 /><circle class=w1 cx=902 cy=1556 /><circle class=w2 cx=930 cy=1618 /><circle class=w1 cx=767 cy=1603 /><circle class=G cx=815 cy=1629 /><circle class=p cx=675 cy=1543 /><circle class=p cx=729 cy=1545 /><circle class=p cx=838 cy=1556 /><circle class=w3 cx=852 cy=1566 /><circle class=G cx=744 cy=1594 /><circle class=w3 cx=879 cy=1536 /><circle class=w2 cx=704 cy=1509 /><circle class=p cx=695 cy=1551 /><circle class=p cx=940 cy=1633 /><circle class=G cx=806 cy=1574 /><circle class=G cx=769 cy=1545 /><circle class=G cx=849 cy=1558 /><circle class=p cx=670 cy=1578 /><circle class=G cx=795 cy=1578 /><circle class=w2 cx=939 cy=1639 /><circle class=G cx=801 cy=1622 /><circle class=w1 cx=689 cy=1596 /><circle class=G cx=798 cy=1525 /><circle class=w2 cx=864 cy=1528 /><circle class=G cx=784 cy=1600 /><circle class=G cx=808 cy=1531 /><circle class=w2 cx=727 cy=1594 /><circle class=G cx=787 cy=1550 /><circle class=p cx=882 cy=1536 /><circle class=w2 cx=882 cy=1587 /><circle class=G cx=798 cy=1586 /><circle class=p cx=792 cy=1674 /><circle class=G cx=817 cy=1653 /><circle class=w3 cx=783 cy=1660 /><circle class=w3 cx=877 cy=1531 /><circle class=w3 cx=900 cy=1650 /><circle class=G cx=797 cy=1625 /><circle class=p cx=926 cy=1649 /><circle class=p cx=914 cy=1636 /><circle class=w2 cx=829 cy=1562 /><circle class=G cx=709 cy=1571 /><circle class=G cx=706 cy=1569 /><circle class=w2 cx=671 cy=1572 /><circle class=G cx=786 cy=1524 /><circle class=G cx=824 cy=1577 /><circle class=p cx=836 cy=1495 /><circle class=w1 cx=731 cy=1559 /><circle class=w2 cx=735 cy=1619 /><circle class=p cx=833 cy=1653 /><circle class=w1 cx=851 cy=1538 /><circle class=p cx=712 cy=1537 /><circle class=w3 cx=823 cy=1692 /><circle class=w2 cx=753 cy=1642 /><circle class=w3 cx=729 cy=1531 /><circle class=w3 cx=836 cy=1598 /><circle class=G cx=759 cy=1549 /><circle class=G cx=809 cy=1571 /><circle class=G cx=802 cy=1563 /><circle class=w1 cx=843 cy=1542 /><circle class=w1 cx=899 cy=1584 /><circle class=G cx=751 cy=1582 /><circle class=G cx=803 cy=1625 /><circle class=G cx=753 cy=1578 /><circle class=w2 cx=821 cy=1674 /><circle class=w2 cx=684 cy=1517 /><circle class=w3 cx=937 cy=1571 /><circle class=w1 cx=889 cy=1605 /><circle class=w2 cx=890 cy=1564 /><circle class=G cx=796 cy=1538 /><circle class=G cx=761 cy=1534 /><circle class=w1 cx=715 cy=1609 /><circle class=p cx=800 cy=1542 /><circle class=w1 cx=670 cy=1585 /><circle class=G cx=832 cy=1594 /><circle class=G cx=885 cy=1512 /><circle class=G cx=733 cy=1584 /><circle class=w1 cx=916 cy=1607 /><circle class=w2 cx=892 cy=1598 /><circle class=w1 cx=721 cy=1610 /><circle class=p cx=805 cy=1684 /><circle class=G cx=736 cy=1584 /><circle class=p cx=847 cy=1537 /><circle class=p cx=670 cy=1577 /><circle class=G cx=716 cy=1573 /><circle class=G cx=804 cy=1606 /><circle class=G cx=755 cy=1524 /><circle class=w1 cx=767 cy=1642 /><circle class=G cx=771 cy=1570 /><circle class=w2 cx=686 cy=1573 /><circle class=w3 cx=906 cy=1525 /><circle class=p cx=952 cy=1580 /><circle class=w2 cx=811 cy=1688 /><circle class=G cx=689 cy=1573 /><circle class=w1 cx=796 cy=1673 /><circle class=w2 cx=702 cy=1621 /><circle class=w1 cx=929 cy=1580 /><circle class=p cx=884 cy=1580 /><circle class=G cx=830 cy=1601 /><circle class=G cx=722 cy=1584 /><circle class=p cx=699 cy=1507 /><circle class=G cx=784 cy=1610 /><circle class=w2 cx=880 cy=1526 /><circle class=w1 cx=869 cy=1515 /><circle class=w2 cx=691 cy=1539 /><circle class=w2 cx=774 cy=1630 /><circle class=w3 cx=779 cy=1520 /><circle class=p cx=945 cy=1572 /><circle class=G cx=773 cy=1568 /><circle class=w1 cx=825 cy=1629 /><circle class=w2 cx=930 cy=1600 /><circle class=G cx=724 cy=1581 /><circle class=p cx=787 cy=1532 /><circle class=G cx=750 cy=1551 /><circle class=G cx=755 cy=1549 /><circle class=w3 cx=732 cy=1628 /><circle class=w3 cx=780 cy=1620 /><circle class=G cx=825 cy=1619 /><circle class=w2 cx=745 cy=1613 /><circle class=G cx=730 cy=1564 /><circle class=G cx=720 cy=1554 /><circle class=w2 cx=774 cy=1633 /><circle class=w2 cx=725 cy=1522 /><circle class=p cx=921 cy=1528 /><circle class=p cx=870 cy=1642 /><circle class=G cx=711 cy=1583 /><circle class=p cx=949 cy=1601 /><circle class=G cx=724 cy=1589 /><circle class=G cx=776 cy=1550 /><circle class=w2 cx=734 cy=1516 /><circle class=p cx=776 cy=1619 /><circle class=w2 cx=857 cy=1536 /><circle class=w2 cx=722 cy=1640 /><circle class=w2 cx=891 cy=1572 /><circle class=p cx=820 cy=1675 /><circle class=w2 cx=916 cy=1597 /><circle class=w3 cx=784 cy=1501 /><circle class=w3 cx=732 cy=1521 /><circle class=w2 cx=780 cy=1521 /><circle class=w2 cx=914 cy=1531 /><circle class=G cx=762 cy=1556 /><circle class=G cx=788 cy=1609 /><circle class=w2 cx=881 cy=1648 /><circle class=G cx=779 cy=1524 /><circle class=w3 cx=721 cy=1511 /><circle class=p cx=808 cy=1490 /><circle class=G cx=695 cy=1576 /><circle class=G cx=803 cy=1566 /><circle class=w3 cx=770 cy=1597 /><circle class=G cx=774 cy=1524 /><circle class=G cx=767 cy=1523 /><circle class=w2 cx=736 cy=1602 /><circle class=G cx=752 cy=1584 /><circle class=G cx=758 cy=1562 /><circle class=p cx=798 cy=1671 /><circle class=G cx=925 cy=1551 /><circle class=w2 cx=735 cy=1628 /><circle class=G cx=784 cy=1582 /><circle class=p cx=844 cy=1592 /><circle class=w3 cx=764 cy=1648 /><circle class=G cx=698 cy=1579 /><circle class=p cx=724 cy=1519 /><circle class=w2 cx=951 cy=1584 /><circle class=G cx=746 cy=1562 /><circle class=p cx=843 cy=1551 /><circle class=w2 cx=923 cy=1595 /><circle class=p cx=937 cy=1595 /><circle class=w2 cx=912 cy=1571 /><circle class=w1 cx=825 cy=1515 /><circle class=G cx=780 cy=1538 /><circle class=w1 cx=910 cy=1632 /><circle class=w2 cx=791 cy=1634 /><circle class=G cx=788 cy=1582 /><circle class=w2 cx=855 cy=1589 /><circle class=G cx=802 cy=1534 /><circle class=w2 cx=836 cy=1536 /><circle class=p cx=803 cy=1560 /><circle class=G cx=718 cy=1559 /><circle class=G cx=836 cy=1494 /><circle class=p cx=825 cy=1548 /><circle class=G cx=718 cy=1591 /><circle class=w3 cx=940 cy=1582 /><circle class=G cx=796 cy=1613 /><circle class=p cx=835 cy=1589 /><circle class=w3 cx=916 cy=1526 /><circle class=w2 cx=928 cy=1586 /><circle class=G cx=711 cy=1551 /><circle class=w2 cx=886 cy=1652 /><circle class=w2 cx=800 cy=1647 /><circle class=w1 cx=814 cy=1547 /><circle class=w1 cx=681 cy=1545 /><circle class=w2 cx=794 cy=1557 /><circle class=w2 cx=944 cy=1610 /><circle class=w2 cx=918 cy=1614 /><circle class=w2 cx=890 cy=1519 /><circle class=w2 cx=774 cy=1522 /><circle class=w2 cx=869 cy=1528 /><circle class=w2 cx=764 cy=1524 /><circle class=w3 cx=847 cy=1569 /><circle class=G cx=781 cy=1530 /><circle class=w3 cx=810 cy=1666 /><circle class=G cx=836 cy=1535 /><circle class=G cx=784 cy=1556 /><circle class=G cx=804 cy=1539 /><circle class=w3 cx=772 cy=1615 /><circle class=w3 cx=719 cy=1515 /><circle class=p cx=924 cy=1650 /><circle class=w3 cx=881 cy=1645 /><circle class=w1 cx=903 cy=1611 /><circle class=G cx=799 cy=1572 /><circle class=w2 cx=778 cy=1518 /><circle class=G cx=761 cy=1585 /><circle class=w2 cx=733 cy=1537 /><circle class=w3 cx=848 cy=1509 /><circle class=G cx=744 cy=1544 /><circle class=G cx=828 cy=1510 /><circle class=w2 cx=761 cy=1519 /><circle class=p cx=793 cy=1666 /><circle class=G cx=698 cy=1576 /><circle class=G cx=714 cy=1575 /><circle class=G cx=769 cy=1590 /><circle class=w2 cx=921 cy=1547 /><circle class=G cx=751 cy=1594 /><circle class=p cx=875 cy=1576 /><circle class=w3 cx=901 cy=1582 /><circle class=w3 cx=735 cy=1641 /><circle class=G cx=832 cy=1572 /><circle class=G cx=721 cy=1560 /><circle class=G cx=801 cy=1592 /><circle class=w1 cx=868 cy=1514 /><circle class=w1 cx=788 cy=1501 /><circle class=G cx=750 cy=1598 /><circle class=p cx=766 cy=1610 /><circle class=G cx=712 cy=1568 /><circle class=G cx=796 cy=1524 /><circle class=G cx=832 cy=1613 /><circle class=G cx=717 cy=1585 /><circle class=w1 cx=916 cy=1545 /><circle class=p cx=873 cy=1504 /><circle class=p cx=715 cy=1530 /><circle class=w2 cx=804 cy=1636 /><circle class=G cx=777 cy=1560 /><circle class=G cx=728 cy=1580 /><circle class=G cx=735 cy=1585 /><circle class=w2 cx=931 cy=1550 /><circle class=w1 cx=706 cy=1525 /><circle class=w2 cx=922 cy=1561 /><circle class=w2 cx=919 cy=1626 /><circle class=G cx=738 cy=1632 /><circle class=w2 cx=687 cy=1581 /><circle class=G cx=678 cy=1543 /><circle class=G cx=822 cy=1570 /><circle class=G cx=801 cy=1638 /><circle class=G cx=755 cy=1558 /><circle class=p cx=709 cy=1612 /><circle class=w1 cx=819 cy=1633 /><circle class=w1 cx=897 cy=1606 /><circle class=w1 cx=846 cy=1569 /><circle class=p cx=781 cy=1505 /><circle class=w1 cx=929 cy=1589 /><circle class=G cx=828 cy=1605 /><circle class=p cx=869 cy=1642 /><circle class=p cx=823 cy=1554 /><circle class=p cx=860 cy=1553 /><circle class=p cx=845 cy=1580 /><circle class=w1 cx=860 cy=1570 /><circle class=G cx=695 cy=1566 /><circle class=G cx=759 cy=1539 /><circle class=w1 cx=705 cy=1614 /><circle class=w2 cx=700 cy=1518 /><circle class=p cx=888 cy=1654 /><circle class=w2 cx=819 cy=1542 /><circle class=G cx=751 cy=1579 /><circle class=w2 cx=920 cy=1526 /><circle class=w3 cx=902 cy=1573 /><circle class=w1 cx=895 cy=1553 /><circle class=w2 cx=786 cy=1621 /><circle class=w1 cx=738 cy=1512 /><circle class=w1 cx=904 cy=1581 /><circle class=G cx=905 cy=1552 /><circle class=G cx=801 cy=1527 /><circle class=G cx=789 cy=1578 /><circle class=G cx=805 cy=1577 /><circle class=w2 cx=738 cy=1541 /><circle class=p cx=716 cy=1503 /><circle class=G cx=929 cy=1586 /><circle class=G cx=825 cy=1580 /><circle class=w2 cx=866 cy=1531 /><circle class=G cx=716 cy=1586 /><circle class=G cx=718 cy=1601 /><circle class=G cx=869 cy=1512 /><circle class=G cx=796 cy=1524 /><circle class=w3 cx=800 cy=1679 /><circle class=G cx=743 cy=1592 /><circle class=w2 cx=815 cy=1656 /><circle class=w2 cx=915 cy=1605 /><circle class=p cx=831 cy=1502 /><circle class=G cx=765 cy=1581 /><circle class=w1 cx=675 cy=1603 /><circle class=w2 cx=916 cy=1644 /><circle class=G cx=806 cy=1607 /><circle class=w3 cx=837 cy=1587 /><circle class=w1 cx=720 cy=1504 /><circle class=w3 cx=907 cy=1550 /><circle class=G cx=791 cy=1617 /><circle class=G cx=704 cy=1592 /><circle class=G cx=786 cy=1611 /><circle class=G cx=795 cy=1574 /><circle class=G cx=788 cy=1602 /><circle class=G cx=697 cy=1570 /><circle class=G cx=696 cy=1570 /><circle class=G cx=806 cy=1536 /><circle class=w2 cx=857 cy=1568 /><circle class=w3 cx=838 cy=1609 /><circle class=w2 cx=775 cy=1634 /><circle class=G cx=698 cy=1567 /><circle class=G cx=897 cy=1548 /><circle class=p cx=693 cy=1517 /><circle class=w2 cx=814 cy=1590 /><circle class=G cx=789 cy=1549 /><circle class=G cx=787 cy=1599 /><circle class=G cx=814 cy=1608 /><circle class=w2 cx=900 cy=1549 /><circle class=w2 cx=921 cy=1570 /><circle class=w3 cx=912 cy=1632 /><circle class=w2 cx=686 cy=1595 /><circle class=G cx=791 cy=1619 /><circle class=G cx=717 cy=1597 /><circle class=G cx=833 cy=1606 /><circle class=p cx=705 cy=1547 /><circle class=G cx=797 cy=1604 /><circle class=w3 cx=866 cy=1560 /><circle class=w2 cx=724 cy=1520 /><circle class=p cx=843 cy=1611 /><circle class=p cx=713 cy=1638 /><circle class=w2 cx=800 cy=1626 /><circle class=G cx=765 cy=1582 /><circle class=G cx=754 cy=1561 /><circle class=G cx=746 cy=1546 /><circle class=G cx=712 cy=1566 /><circle class=w3 cx=788 cy=1638 /><circle class=G cx=762 cy=1586 /><circle class=w1 cx=853 cy=1536 /><circle class=G cx=798 cy=1634 /><circle class=G cx=801 cy=1530 /><circle class=w2 cx=727 cy=1603 /><circle class=p cx=812 cy=1684 /><circle class=w1 cx=896 cy=1601 /><circle class=w2 cx=872 cy=1603 /><circle class=p cx=828 cy=1539 /><circle class=G cx=718 cy=1571 /><circle class=w3 cx=680 cy=1599 /><circle class=p cx=843 cy=1627 /><circle class=G cx=810 cy=1604 /><circle class=G cx=796 cy=1611 /><circle class=w2 cx=934 cy=1536 /><circle class=p cx=684 cy=1519 /><circle class=w1 cx=745 cy=1643 /><circle class=G cx=795 cy=1621 /><circle class=G cx=781 cy=1632 /><circle class=G cx=704 cy=1587 /><circle class=G cx=800 cy=1601 /><circle class=w3 cx=933 cy=1565 /><circle class=w1 cx=785 cy=1651 /><circle class=w3 cx=887 cy=1642 /><circle class=G cx=832 cy=1601 /><circle class=G cx=726 cy=1556 /><circle class=G cx=802 cy=1532 /><circle class=w2 cx=899 cy=1528 /><circle class=p cx=678 cy=1533 /><circle class=G cx=708 cy=1589 /><circle class=w2 cx=916 cy=1598 /><circle class=G cx=801 cy=1577 /><circle class=w2 cx=732 cy=1528 /><circle class=G cx=798 cy=1507 /><circle class=G cx=784 cy=1599 /><circle class=w2 cx=903 cy=1549 /><circle class=w2 cx=723 cy=1537 /><circle class=G cx=813 cy=1609 /><circle class=p cx=762 cy=1518 /><circle class=G cx=747 cy=1595 /><circle class=w1 cx=804 cy=1546 /><circle class=w1 cx=817 cy=1503 /><circle class=w2 cx=711 cy=1580 /><circle class=w2 cx=798 cy=1495 /><circle class=w1 cx=889 cy=1657 /><circle class=w2 cx=865 cy=1587 /><circle class=w2 cx=724 cy=1610 /><circle class=w3 cx=788 cy=1497 /><circle class=G cx=807 cy=1509 /><circle class=G cx=722 cy=1585 /><circle class=w1 cx=727 cy=1520 /><circle class=G cx=713 cy=1595 /><circle class=w2 cx=747 cy=1628 /><circle class=w2 cx=836 cy=1678 /><circle class=G cx=730 cy=1585 /><circle class=G cx=708 cy=1574 /><circle class=p cx=871 cy=1534 /><circle class=w2 cx=807 cy=1638 /><circle class=G cx=799 cy=1538 /><circle class=G cx=713 cy=1551 /><circle class=w1 cx=742 cy=1642 /><circle class=w2 cx=924 cy=1569 /><circle class=p cx=760 cy=1648 /><circle class=p cx=853 cy=1542 /><circle class=w2 cx=815 cy=1483 /><circle class=w3 cx=901 cy=1523 /><circle class=w3 cx=933 cy=1575 /><circle class=w2 cx=877 cy=1511 /><circle class=p cx=720 cy=1505 /><circle class=w1 cx=912 cy=1615 /><circle class=p cx=792 cy=1631 /><circle class=G cx=771 cy=1543 /><circle class=w3 cx=686 cy=1588 />
</g>
<rect x="556.9" y="1476.4" width="56.39999999999998" height="25.299999999999955" rx="4" fill="#93cf8e" stroke="#333" stroke-width="1.1"/>
<text x="585.0999999999999" y="1495.4" font-size="18" fill="#111" text-anchor="middle">4 ns</text>
<circle cx="1072.4" cy="1553.9" r="7.6" fill="url(#gg)" stroke="#444" stroke-width="0.8"/>
<text x="1093.8" y="1562.3" font-size="21.5" fill="#111">Gallium atom</text>
<circle cx="1072.4" cy="1607" r="7.6" fill="url(#gp)" stroke="#444" stroke-width="0.8"/>
<text x="1093.8" y="1614.8" font-size="21.5" fill="#111">Sulfur atom</text>
<circle cx="1072.4" cy="1659.9" r="7.6" fill="url(#gw)" stroke="#444" stroke-width="0.8"/>
<text x="1093.8" y="1666.6" font-size="21.5" fill="#111">C/H/O atoms</text>
</svg></body></html>
